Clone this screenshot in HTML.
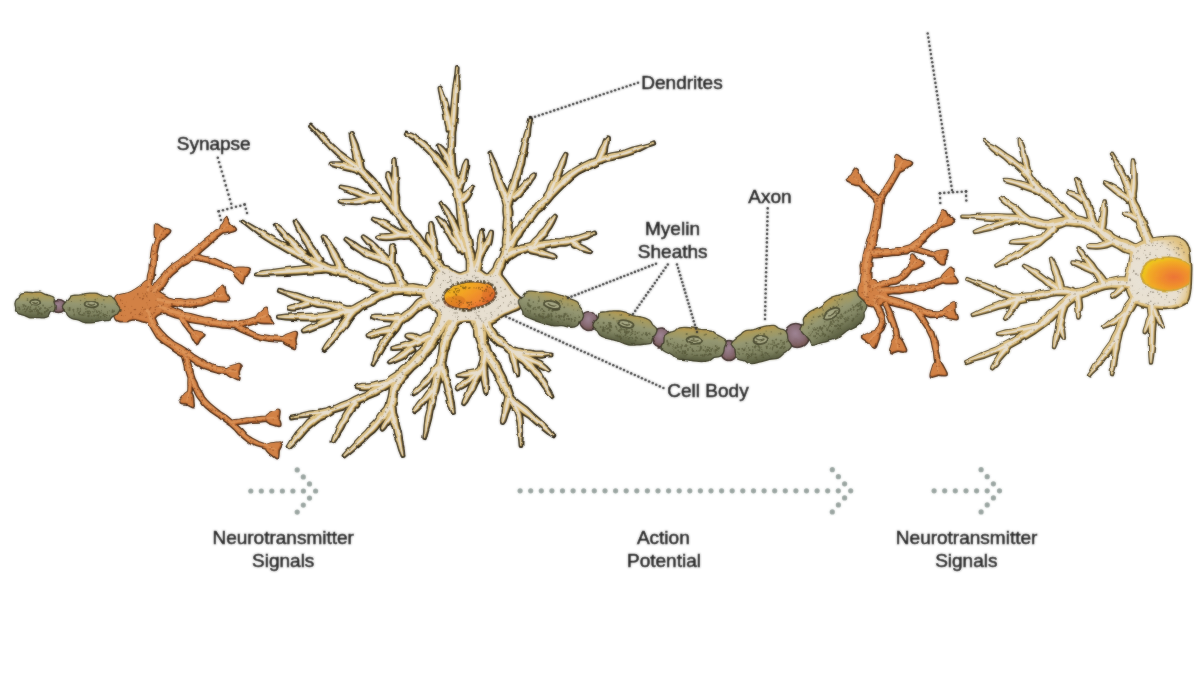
<!DOCTYPE html>
<html><head><meta charset="utf-8"><title>Neuron</title>
<style>html,body{margin:0;padding:0;background:#fff;}svg{display:block;}</style></head>
<body>
<svg width="1194" height="676" viewBox="0 0 1194 676">
<defs>
<linearGradient id="myg" x1="0" y1="0" x2="0" y2="1">
<stop offset="0" stop-color="#bb9a4c"/><stop offset="0.15" stop-color="#a69b60"/><stop offset="0.38" stop-color="#949772"/><stop offset="0.7" stop-color="#828664"/><stop offset="1" stop-color="#585c3e"/>
</linearGradient>
<radialGradient id="ndg" cx="0.45" cy="0.4" r="0.7">
<stop offset="0" stop-color="#9e8494"/><stop offset="0.55" stop-color="#876a72"/><stop offset="1" stop-color="#6a4a3c"/>
</radialGradient>
<linearGradient id="nuc" x1="0" y1="0" x2="1" y2="1">
<stop offset="0" stop-color="#f0c21e"/><stop offset="0.35" stop-color="#f3a623"/><stop offset="0.7" stop-color="#ee8430"/><stop offset="1" stop-color="#d9542c"/>
</linearGradient>
<radialGradient id="nuc2" cx="0.62" cy="0.6" r="0.62">
<stop offset="0" stop-color="#ec7436"/><stop offset="0.45" stop-color="#f0902c"/><stop offset="0.8" stop-color="#f2ac24"/><stop offset="1" stop-color="#efc61e"/>
</radialGradient>
<radialGradient id="somag" cx="0.5" cy="0.5" r="0.6">
<stop offset="0" stop-color="#e9e3da"/><stop offset="0.7" stop-color="#eae1d0"/><stop offset="1" stop-color="#e6cf9e"/>
</radialGradient>
<radialGradient id="somar" cx="0.3" cy="0.6" r="0.8">
<stop offset="0" stop-color="#e8e2d6"/><stop offset="0.72" stop-color="#e9e0cf"/><stop offset="1" stop-color="#e0bd74"/>
</radialGradient>
<filter id="soft" x="-2%" y="-2%" width="104%" height="104%"><feGaussianBlur stdDeviation="0.9" result="b"/><feComposite in="SourceGraphic" in2="b" operator="arithmetic" k1="0" k2="0.5" k3="0.5" k4="0"/></filter>
<filter id="softt" x="-2%" y="-2%" width="104%" height="104%"><feGaussianBlur stdDeviation="0.9" result="b"/><feComposite in="SourceGraphic" in2="b" operator="arithmetic" k1="0" k2="0.45" k3="0.55" k4="0"/></filter>
<filter id="rough" x="-1%" y="-1%" width="102%" height="102%"><feTurbulence type="fractalNoise" baseFrequency="0.075" numOctaves="2" seed="3" result="n"/><feDisplacementMap in="SourceGraphic" in2="n" scale="3.2" xChannelSelector="R" yChannelSelector="G" result="d"/><feGaussianBlur in="d" stdDeviation="0.9" result="b"/><feComposite in="d" in2="b" operator="arithmetic" k1="0" k2="0.6" k3="0.4" k4="0"/></filter>
<clipPath id="rnclip"><path d="M1129.8 262.3 L1130.1 260.6 L1130.5 258.6 L1130.9 256.4 L1131.3 254.3 L1132.0 252.4 L1132.7 250.7 L1133.7 249.2 L1134.8 248.0 L1136.0 246.8 L1137.4 245.8 L1138.9 244.8 L1140.5 243.9 L1142.3 243.0 L1144.3 242.3 L1146.5 241.6 L1148.7 241.0 L1151.0 240.5 L1153.1 240.0 L1155.2 239.6 L1157.3 239.3 L1159.5 239.0 L1161.6 238.8 L1163.7 238.7 L1165.7 238.6 L1167.7 238.5 L1169.8 238.3 L1171.8 238.3 L1173.7 238.3 L1175.6 238.6 L1177.4 239.0 L1179.0 239.7 L1180.7 240.5 L1182.2 241.4 L1183.7 242.6 L1185.0 244.1 L1186.1 245.8 L1187.0 248.0 L1187.7 250.6 L1188.3 253.4 L1188.8 256.4 L1189.2 259.4 L1189.5 262.3 L1189.7 265.2 L1189.8 268.2 L1189.8 271.2 L1189.7 274.1 L1189.6 277.0 L1189.5 279.8 L1189.4 282.5 L1189.2 285.1 L1189.0 287.7 L1188.7 290.1 L1188.4 292.3 L1188.0 294.3 L1187.6 296.1 L1187.2 297.5 L1186.8 298.8 L1186.2 300.0 L1185.3 301.0 L1184.1 302.1 L1182.6 303.1 L1180.7 304.1 L1178.6 305.0 L1176.4 305.8 L1174.0 306.4 L1171.5 306.9 L1169.0 307.3 L1166.3 307.4 L1163.4 307.4 L1160.5 307.3 L1157.7 307.2 L1155.0 306.9 L1152.4 306.7 L1149.8 306.3 L1147.3 305.9 L1144.8 305.4 L1142.6 304.8 L1140.5 304.0 L1138.7 303.2 L1137.0 302.2 L1135.5 301.1 L1134.1 299.9 L1132.9 298.6 L1131.8 297.2 L1130.8 295.8 L1130.0 294.2 L1129.3 292.6 L1128.8 290.9 L1128.3 289.2 L1127.9 287.5 L1127.5 285.9 L1127.2 284.2 L1127.0 282.6 L1126.9 280.9 L1126.9 279.3 L1126.9 277.8 L1127.1 276.4 L1127.4 275.1 L1127.8 273.8 L1128.2 272.6 L1128.6 271.4 L1128.9 270.1 L1129.1 268.8 L1129.2 267.6 L1129.3 266.4 L1129.4 265.2 L1129.6 263.8Z"/></clipPath>
</defs>
<rect width="1194" height="676" fill="#fff"/>
<g filter="url(#rough)">
<g><path d="M443.2 281.7 L441.6 276.7 L437.7 270.9 L432.8 264.6 L428.4 258.1 L423.2 252.4 L418.7 245.7 L413.0 239.8 L408.6 232.9 L403.1 227.2 L399.0 220.5 L393.5 214.6 L388.8 207.4 L382.4 200.2 L376.9 191.8 L370.3 184.1 L364.1 176.9 L357.6 171.0 L350.8 165.8 L343.6 160.5 L336.7 154.5 L329.2 147.0 L321.4 138.7 L315.1 130.5 L310.1 125.4 L310.9 124.6 L315.8 129.9 L323.6 136.5 L331.7 144.5 L339.3 151.5 L346.4 156.9 L353.6 161.9 L360.8 167.1 L367.9 173.1 L374.8 180.2 L381.1 188.4 L387.9 196.0 L393.2 203.8 L399.2 210.0 L403.7 216.8 L409.1 222.4 L413.4 229.1 L419.1 234.9 L423.7 241.7 L429.3 247.5 L433.6 253.9 L438.9 259.9 L443.8 266.2 L448.4 271.5 L452.8 274.3Z M357.9 171.7 L357.6 167.7 L355.9 162.2 L355.0 156.0 L353.9 150.5 L352.5 145.7 L351.7 140.6 L350.9 136.3 L350.5 133.1 L351.5 132.9 L352.9 135.7 L354.7 139.7 L356.8 144.5 L358.1 149.5 L359.8 154.9 L361.7 160.9 L362.6 166.6 L364.1 170.3Z M357.2 172.8 L354.6 171.7 L350.7 170.3 L346.3 169.3 L342.5 168.4 L339.1 167.3 L335.6 166.3 L332.6 165.3 L330.5 164.4 L330.7 163.6 L332.9 163.3 L336.1 163.2 L339.8 163.3 L343.5 163.6 L347.5 164.6 L351.9 165.9 L355.9 166.8 L358.8 167.2Z M380.6 199.7 L379.2 200.1 L377.0 200.8 L374.0 201.4 L370.4 201.0 L366.8 199.5 L363.0 197.4 L359.0 195.7 L355.2 194.2 L351.2 192.5 L346.9 190.5 L343.1 188.8 L340.5 187.5 L340.7 186.5 L343.7 187.0 L347.8 187.7 L352.5 188.6 L356.8 189.8 L360.8 191.5 L364.8 193.3 L368.6 194.5 L371.6 195.0 L373.8 195.1 L375.9 194.9 L377.8 194.6 L379.4 194.3Z M371.7 200.3 L369.0 201.1 L365.2 202.5 L360.8 203.8 L356.3 204.3 L351.9 204.1 L347.3 203.8 L343.3 203.5 L340.6 202.5 L340.6 201.5 L343.4 200.7 L347.4 200.7 L351.8 200.5 L355.7 199.7 L359.5 198.5 L363.7 197.5 L367.6 196.5 L370.3 195.7Z M392.3 213.2 L392.6 209.3 L392.9 203.9 L392.1 197.4 L392.7 190.5 L392.4 182.5 L393.1 173.3 L393.6 164.9 L394.5 159.0 L395.5 159.0 L396.3 164.9 L396.8 173.3 L397.5 182.5 L397.3 190.5 L398.3 197.2 L398.1 203.6 L399.0 209.0 L399.7 212.8Z M392.6 191.7 L391.6 189.7 L390.5 186.7 L389.4 183.4 L388.3 180.7 L387.5 178.4 L387.0 176.3 L387.3 174.4 L387.5 173.1 L388.5 172.9 L389.3 173.9 L390.3 175.4 L391.0 177.3 L391.7 179.3 L392.9 181.8 L394.7 184.7 L396.4 187.3 L397.4 189.3Z M413.3 237.7 L411.2 237.5 L408.0 237.7 L404.1 238.0 L400.0 237.5 L396.3 235.5 L393.2 232.7 L390.2 229.9 L386.9 227.9 L383.1 225.9 L379.0 223.4 L375.4 221.0 L372.8 219.4 L373.2 218.6 L376.1 219.4 L380.3 220.5 L385.0 222.1 L389.1 224.1 L392.6 226.5 L396.1 228.7 L399.4 230.4 L402.0 231.5 L404.6 232.2 L407.6 232.3 L410.6 231.9 L412.7 231.3Z M401.8 237.5 L399.8 237.8 L396.9 238.2 L393.6 238.7 L390.2 239.1 L386.6 239.3 L382.8 239.1 L379.3 238.6 L377.0 237.5 L377.0 236.5 L379.4 235.5 L382.8 235.2 L386.5 235.0 L389.8 234.9 L392.7 234.3 L395.7 233.3 L398.3 232.2 L400.2 231.5Z M432.9 258.5 L432.2 255.3 L432.0 250.5 L431.3 245.2 L430.4 240.4 L430.5 235.5 L430.2 230.6 L429.9 226.2 L430.5 223.1 L431.5 222.9 L432.8 225.9 L433.4 230.2 L434.3 235.0 L435.6 239.6 L436.2 244.5 L437.2 249.6 L438.7 254.2 L439.1 257.5Z M431.4 246.2 L430.5 245.2 L429.2 243.6 L428.0 241.8 L427.2 239.8 L426.9 238.0 L426.9 236.3 L427.3 235.0 L427.6 234.0 L428.4 234.0 L428.9 234.8 L429.6 235.9 L430.1 237.1 L430.8 238.2 L431.8 239.4 L433.0 241.0 L434.0 242.6 L434.6 243.8Z M468.4 276.7 L467.9 273.0 L467.6 267.6 L467.6 261.7 L466.1 256.7 L465.6 252.3 L465.2 248.0 L463.8 244.2 L462.8 241.0 L462.4 239.1 L462.1 237.9 L461.7 235.7 L460.9 231.5 L459.3 224.1 L458.2 214.4 L457.5 204.4 L455.5 196.2 L454.8 190.2 L452.6 185.7 L451.1 181.0 L450.4 175.5 L448.8 169.8 L448.7 163.8 L448.2 157.3 L448.3 149.9 L448.6 141.6 L450.0 132.6 L450.8 122.9 L451.6 112.8 L452.8 100.9 L454.0 87.6 L456.1 75.4 L456.9 67.0 L457.7 67.0 L457.3 75.5 L457.7 87.8 L457.0 101.2 L456.4 113.2 L455.4 123.4 L454.3 133.0 L454.2 142.0 L453.7 150.1 L453.9 157.1 L454.2 163.3 L455.4 168.9 L455.6 174.5 L457.4 179.2 L459.0 183.5 L460.2 188.6 L462.5 194.8 L463.3 203.5 L465.2 213.5 L466.6 223.2 L467.1 230.5 L467.9 234.2 L468.6 235.5 L469.3 236.7 L470.2 239.0 L470.8 242.6 L471.2 246.6 L472.6 250.8 L473.9 255.3 L474.1 260.7 L475.9 266.4 L477.1 271.7 L477.6 275.3Z M447.5 130.6 L447.2 125.8 L445.5 119.1 L444.4 111.8 L442.9 105.5 L441.7 100.3 L440.8 95.2 L439.9 90.9 L439.5 87.9 L440.5 87.5 L441.9 90.3 L443.5 94.4 L445.5 99.2 L447.1 104.5 L448.5 110.8 L450.7 118.0 L451.8 124.8 L453.5 129.4Z M450.9 184.2 L449.4 180.6 L446.3 176.1 L442.6 171.4 L439.9 166.6 L437.0 162.7 L433.7 159.3 L431.1 155.6 L428.5 152.0 L425.5 149.1 L422.5 146.5 L419.8 143.8 L417.1 141.3 L414.0 139.0 L410.6 137.0 L407.9 134.7 L405.8 133.4 L406.2 132.6 L408.4 133.7 L411.9 134.7 L415.4 136.7 L418.9 138.7 L422.2 140.8 L425.5 143.2 L428.5 146.1 L431.5 149.2 L434.9 152.2 L438.3 155.5 L441.0 159.5 L444.1 163.4 L447.9 167.6 L451.2 172.7 L454.3 177.2 L457.1 179.8Z M449.1 168.2 L448.2 165.6 L446.8 161.9 L444.8 158.3 L443.1 155.1 L441.8 152.4 L440.4 149.8 L439.3 147.5 L438.6 145.8 L439.4 145.2 L440.8 146.4 L442.7 148.1 L444.9 150.3 L446.9 152.9 L448.7 156.2 L450.5 160.1 L452.4 163.5 L453.9 165.8Z M456.4 187.2 L457.7 184.3 L458.7 179.9 L460.5 175.3 L462.2 171.5 L463.0 168.1 L463.9 164.9 L465.2 162.3 L466.2 160.5 L467.0 160.7 L467.1 162.7 L467.3 165.7 L466.8 169.0 L465.8 172.5 L465.1 176.8 L463.9 181.5 L462.2 185.7 L461.6 188.8Z M459.5 200.3 L460.9 199.0 L462.5 196.8 L464.2 194.3 L466.2 192.5 L468.1 191.1 L469.8 189.5 L471.3 188.2 L472.6 187.5 L473.4 188.1 L473.0 189.6 L472.0 191.3 L470.9 193.3 L469.8 195.5 L468.5 197.8 L466.5 200.0 L464.7 202.0 L463.7 203.7Z M462.2 253.1 L460.2 247.9 L457.3 240.4 L454.2 232.4 L451.8 226.0 L450.2 221.5 L448.4 218.4 L446.8 215.7 L445.5 212.9 L444.1 210.0 L442.7 207.3 L441.7 204.8 L440.6 203.3 L441.4 202.7 L442.4 204.3 L444.4 206.1 L446.5 208.5 L448.5 211.1 L450.3 213.6 L451.9 216.4 L453.7 219.8 L456.2 224.0 L459.2 230.4 L462.6 238.3 L465.7 245.7 L467.8 250.9Z M458.8 251.5 L457.0 248.3 L453.7 244.1 L450.6 239.3 L448.4 235.1 L446.5 232.3 L445.0 230.1 L443.7 228.1 L442.5 226.1 L441.2 223.9 L439.6 221.8 L438.7 219.6 L437.7 218.3 L438.3 217.7 L439.5 218.9 L441.6 220.1 L443.6 221.9 L445.5 223.9 L447.1 225.8 L448.4 227.8 L449.8 230.1 L451.6 232.9 L454.7 236.5 L458.1 241.1 L460.8 245.7 L463.2 248.5Z M470.9 270.7 L471.8 267.6 L473.7 263.4 L476.0 258.9 L476.6 254.8 L477.5 251.7 L478.3 248.9 L478.6 246.0 L478.5 242.9 L478.9 239.4 L479.6 235.7 L480.6 232.3 L481.0 230.0 L482.0 230.0 L482.2 232.4 L483.0 235.8 L483.5 239.6 L483.5 243.1 L483.2 246.2 L483.3 249.2 L483.6 252.5 L483.4 256.2 L481.8 260.6 L481.1 265.7 L480.2 270.3 L479.1 273.3Z M477.8 254.6 L479.1 252.0 L481.6 248.8 L484.2 245.3 L485.8 242.0 L487.4 239.2 L488.9 236.2 L489.9 233.4 L491.0 231.6 L492.0 231.8 L492.0 234.0 L491.6 236.9 L491.1 240.4 L490.2 244.0 L488.0 247.5 L485.9 251.6 L484.0 255.2 L482.2 257.4Z M489.4 273.6 L491.5 271.5 L494.2 268.3 L495.5 264.0 L497.5 260.4 L499.6 257.5 L500.8 254.6 L501.7 251.9 L503.1 249.2 L504.0 245.5 L503.7 241.0 L504.3 236.4 L504.9 231.9 L504.3 227.5 L504.6 223.2 L505.1 218.9 L504.5 215.1 L504.2 212.1 L504.3 209.3 L504.6 206.1 L505.0 202.1 L506.0 197.0 L508.6 191.9 L510.1 186.2 L512.6 181.2 L513.9 176.4 L515.3 171.8 L517.2 167.4 L518.1 162.3 L520.1 157.0 L521.2 151.1 L522.9 145.3 L524.2 139.6 L525.7 133.7 L527.9 127.9 L529.3 122.6 L530.3 118.9 L531.1 119.1 L530.4 122.8 L529.5 128.2 L529.0 134.5 L527.8 140.4 L526.6 146.1 L525.6 152.1 L524.1 158.0 L523.3 163.7 L521.5 168.6 L520.6 173.4 L519.2 178.1 L517.4 182.8 L516.2 188.3 L513.6 193.7 L512.6 199.1 L511.0 203.3 L510.4 206.5 L510.9 208.9 L511.5 211.5 L511.5 214.9 L511.0 218.9 L511.6 223.1 L511.9 227.6 L511.1 232.1 L511.3 236.7 L511.5 241.6 L510.4 246.3 L509.9 250.8 L509.2 254.9 L507.2 257.9 L505.4 260.5 L504.5 263.6 L503.3 267.4 L501.1 271.2 L500.6 275.4 L500.6 278.4Z M504.6 206.3 L503.3 201.2 L500.3 194.2 L498.1 186.1 L495.4 178.9 L493.8 171.8 L491.5 164.7 L490.3 158.3 L489.5 153.8 L490.5 153.4 L492.4 157.6 L495.3 163.5 L497.5 170.5 L500.6 177.1 L503.1 184.3 L506.7 191.8 L509.0 199.0 L511.4 203.7Z M511.2 196.2 L513.5 194.1 L516.4 190.7 L520.4 187.7 L523.3 184.4 L526.2 181.5 L529.4 178.6 L531.8 175.7 L534.1 174.2 L534.9 174.8 L533.9 177.4 L531.6 180.4 L529.3 184.1 L526.7 187.6 L523.4 190.7 L520.4 194.8 L516.9 197.6 L514.8 199.8Z M501.6 249.4 L503.5 248.2 L505.3 245.8 L506.7 242.7 L508.8 240.0 L511.1 237.6 L512.7 234.7 L514.5 231.3 L517.6 228.2 L520.4 223.7 L524.3 219.1 L527.8 214.1 L531.6 210.0 L534.7 206.8 L536.9 203.9 L540.0 201.6 L543.7 197.8 L549.2 192.5 L555.1 185.5 L561.7 178.4 L568.9 172.7 L576.2 168.4 L583.3 164.3 L590.5 160.9 L597.8 158.5 L604.8 156.1 L611.7 154.2 L618.7 153.1 L625.4 151.1 L632.9 148.5 L641.3 146.4 L648.8 144.4 L653.8 142.4 L654.2 143.6 L649.1 145.3 L642.1 148.6 L634.3 152.4 L626.6 154.9 L619.6 156.7 L612.9 158.9 L606.1 160.4 L599.4 162.7 L592.7 166.1 L585.7 169.1 L578.7 172.6 L572.5 177.3 L566.3 183.2 L559.6 189.8 L553.2 196.3 L548.3 202.2 L544.3 206.0 L541.8 209.0 L539.0 211.0 L536.4 214.0 L533.2 218.4 L529.2 222.9 L525.9 227.8 L522.4 231.8 L520.6 235.6 L518.3 238.3 L516.3 240.9 L515.2 244.0 L513.7 247.0 L511.7 249.7 L510.6 252.3 L510.4 254.6Z M595.5 159.7 L597.1 157.5 L598.7 154.1 L600.0 150.3 L601.8 147.2 L603.4 144.4 L604.4 141.4 L605.6 139.0 L606.9 137.3 L607.9 137.7 L608.0 139.7 L607.6 142.4 L606.7 145.5 L606.2 148.8 L605.4 152.5 L603.5 156.2 L602.2 159.7 L601.7 162.3Z M544.9 195.6 L547.5 191.8 L549.7 185.5 L553.3 179.2 L555.7 173.0 L558.7 167.6 L560.9 161.9 L563.6 157.1 L565.5 153.8 L566.5 154.2 L565.6 157.9 L564.4 163.2 L562.0 169.0 L560.3 175.0 L557.5 181.0 L555.3 188.0 L552.2 193.8 L551.1 198.4Z M501.2 253.8 L503.3 253.5 L505.8 252.5 L508.3 250.5 L511.3 249.1 L514.6 248.4 L517.8 247.0 L520.9 245.5 L524.2 245.0 L526.9 244.7 L529.1 244.2 L531.4 243.5 L534.5 243.4 L539.0 243.0 L544.4 241.7 L550.1 241.2 L555.1 240.1 L559.5 240.2 L563.3 239.4 L566.9 239.2 L570.3 239.1 L573.3 237.9 L576.3 237.0 L579.4 236.4 L582.4 235.3 L585.9 234.1 L590.0 233.9 L593.5 233.2 L595.8 232.5 L596.2 233.5 L593.8 234.2 L590.5 235.6 L587.1 237.8 L583.6 238.7 L580.5 239.7 L577.7 241.2 L574.6 242.4 L571.1 242.9 L567.6 244.0 L563.9 244.7 L560.0 244.7 L555.9 245.9 L550.9 246.4 L545.5 247.8 L540.0 248.5 L535.5 249.6 L532.2 250.3 L529.8 250.2 L527.9 250.2 L525.8 251.0 L523.2 252.3 L520.1 253.0 L517.0 254.1 L514.7 255.9 L512.3 257.4 L509.7 258.6 L507.8 260.4 L506.8 262.2Z M571.9 238.7 L573.9 239.7 L576.6 241.2 L579.3 243.6 L581.9 245.3 L584.7 246.6 L587.3 248.3 L589.7 250.0 L591.2 251.4 L590.8 252.2 L588.8 252.0 L585.9 251.3 L582.8 250.3 L580.1 248.7 L577.1 247.1 L573.8 245.7 L571.3 243.7 L569.5 242.3Z M531.5 243.0 L533.7 240.2 L537.5 236.8 L540.6 232.2 L544.3 228.8 L547.0 224.9 L550.1 221.1 L552.9 217.9 L555.1 215.7 L555.9 216.3 L554.8 219.1 L552.9 223.0 L550.5 227.3 L547.7 231.2 L545.2 235.8 L541.3 239.9 L538.7 244.3 L536.5 247.0Z M529.7 246.8 L532.1 247.2 L535.4 248.5 L539.0 250.0 L542.7 250.7 L546.2 252.3 L550.0 253.8 L553.5 254.9 L555.6 256.5 L555.4 257.5 L552.6 257.7 L549.1 256.7 L545.1 255.9 L541.3 255.3 L537.8 253.8 L534.0 253.0 L530.6 252.2 L528.3 251.2Z M436.3 298.3 L431.9 297.3 L425.7 294.9 L418.7 294.1 L412.7 294.1 L407.8 293.2 L403.3 292.7 L399.0 293.1 L394.9 293.5 L391.2 293.3 L387.7 292.8 L384.1 292.2 L380.0 291.6 L375.6 290.7 L371.4 288.9 L367.6 286.3 L363.5 284.1 L358.9 282.5 L354.5 280.3 L350.4 277.5 L346.0 275.7 L341.3 275.2 L336.3 274.3 L330.7 272.6 L324.4 271.1 L317.6 268.3 L311.0 264.1 L303.7 260.7 L296.8 256.2 L289.2 252.5 L281.6 248.0 L273.9 243.8 L266.7 239.4 L259.5 234.6 L252.7 229.2 L246.7 224.4 L242.3 221.4 L242.9 220.6 L247.3 223.6 L253.9 227.5 L261.4 231.7 L268.7 236.0 L276.1 239.9 L283.8 244.0 L291.8 247.6 L299.2 251.8 L306.8 255.0 L313.6 259.3 L320.6 262.1 L326.6 264.9 L332.1 266.8 L337.4 266.9 L342.7 267.5 L348.0 269.3 L353.2 271.3 L358.2 272.9 L362.6 275.3 L366.5 277.9 L370.8 279.7 L375.1 281.1 L378.7 282.7 L382.0 284.4 L385.0 285.2 L388.0 285.1 L391.3 284.6 L395.1 284.5 L399.2 285.1 L403.4 285.6 L408.1 285.2 L413.3 284.9 L419.5 286.0 L426.6 286.6 L433.2 285.8 L437.7 285.7Z M327.3 271.2 L321.3 272.0 L312.6 272.4 L302.8 273.1 L293.2 273.7 L283.1 274.2 L272.0 274.4 L262.0 275.0 L255.0 274.5 L255.0 273.5 L261.8 271.9 L271.7 270.9 L282.7 269.4 L292.8 268.3 L302.3 267.2 L312.1 266.2 L320.7 265.1 L326.7 264.8Z M301.5 257.4 L299.0 253.8 L295.0 249.1 L290.1 244.4 L286.5 239.4 L282.8 235.3 L279.1 231.2 L276.4 227.2 L274.7 224.3 L275.3 223.7 L278.1 225.7 L281.9 228.7 L285.6 232.7 L289.5 236.6 L294.2 240.5 L298.7 245.6 L303.1 249.9 L306.5 252.6Z M316.5 262.5 L314.1 258.1 L310.1 252.1 L306.6 245.0 L302.9 239.3 L300.4 233.8 L297.8 228.9 L295.7 224.5 L294.6 221.3 L295.4 220.7 L297.7 223.3 L300.5 227.3 L303.5 232.0 L307.1 236.7 L310.4 242.7 L315.2 249.0 L318.7 255.3 L321.5 259.5Z M339.0 272.4 L337.3 268.4 L335.4 262.4 L332.2 256.4 L330.1 251.0 L328.0 246.7 L325.4 242.9 L323.7 239.4 L322.6 236.8 L323.4 236.2 L325.5 238.1 L328.3 240.9 L330.9 244.9 L333.9 249.0 L337.1 254.0 L339.7 260.3 L343.1 265.7 L345.0 269.6Z M397.0 287.8 L396.9 282.8 L394.7 276.5 L392.3 270.0 L389.0 265.2 L384.2 262.7 L378.3 259.9 L371.4 257.9 L364.8 255.3 L359.1 251.0 L353.1 247.0 L348.7 242.4 L345.4 239.4 L346.0 238.6 L349.8 240.8 L355.4 243.8 L361.1 247.9 L367.2 250.7 L373.1 253.0 L379.8 255.0 L387.0 256.7 L393.0 260.8 L397.7 266.8 L401.4 273.8 L403.8 280.3 L407.0 284.2Z M385.0 262.4 L382.5 260.0 L379.3 256.2 L375.9 251.9 L372.4 248.6 L369.4 245.4 L366.6 242.0 L364.2 239.0 L362.7 236.8 L363.3 236.2 L365.6 237.6 L368.7 239.8 L372.3 242.4 L375.6 245.4 L378.9 249.0 L383.0 252.6 L386.7 256.0 L389.0 258.6Z M388.6 264.5 L388.8 262.5 L389.7 259.7 L390.6 256.6 L390.9 253.9 L390.8 251.6 L390.8 249.1 L391.0 246.8 L391.5 245.1 L392.5 244.9 L393.4 246.4 L394.4 248.6 L395.0 251.2 L395.1 254.1 L394.9 257.1 L395.0 260.5 L394.8 263.5 L394.4 265.5Z M392.5 294.3 L389.9 295.5 L385.8 296.9 L381.3 298.6 L377.5 300.8 L374.1 303.0 L370.4 304.8 L366.6 306.1 L363.3 307.4 L360.9 309.2 L358.6 311.4 L355.2 313.3 L350.7 313.7 L345.5 312.5 L339.8 311.1 L334.2 309.5 L329.4 307.5 L325.5 306.6 L322.0 306.3 L317.8 306.0 L312.3 304.4 L304.3 301.4 L294.3 298.0 L285.2 293.7 L278.8 291.1 L279.2 289.9 L285.8 291.9 L295.6 294.2 L305.5 297.5 L313.7 299.6 L318.9 300.6 L322.7 301.4 L326.2 302.0 L330.6 302.5 L336.1 303.5 L341.6 305.6 L346.7 307.3 L350.7 307.5 L353.0 306.8 L355.0 305.8 L357.5 304.3 L360.7 302.6 L364.0 300.7 L367.3 298.5 L370.8 296.7 L374.5 295.2 L378.3 293.2 L381.9 290.2 L385.1 287.4 L387.5 285.7Z M352.0 314.8 L349.1 315.2 L344.8 315.6 L340.1 316.8 L335.6 318.1 L331.9 318.9 L328.4 319.1 L324.1 319.2 L318.1 319.6 L308.7 319.6 L296.9 319.2 L285.7 318.5 L278.0 317.5 L278.0 316.5 L285.7 315.6 L296.9 315.1 L308.7 314.7 L317.9 314.4 L323.7 314.2 L327.6 313.4 L330.8 312.5 L334.4 311.9 L338.8 311.3 L343.3 310.1 L347.2 308.4 L350.0 307.2Z M309.9 305.4 L307.6 306.0 L304.2 306.9 L300.7 308.1 L297.5 309.0 L294.6 309.5 L291.9 309.5 L289.6 309.0 L288.0 308.5 L288.0 307.5 L289.5 306.8 L291.6 306.0 L294.0 305.5 L296.5 305.0 L299.5 304.2 L302.9 303.0 L306.0 301.6 L308.1 300.6Z M331.9 321.0 L329.0 322.5 L324.8 324.5 L319.9 326.2 L315.7 327.6 L312.1 329.1 L308.7 330.5 L305.5 331.2 L303.2 331.5 L302.8 330.5 L304.6 329.1 L307.3 327.4 L310.8 325.9 L314.3 324.4 L318.2 322.3 L322.7 319.8 L327.1 318.1 L330.1 317.0Z M356.1 313.0 L353.2 316.0 L349.7 320.8 L346.3 326.5 L341.8 331.3 L337.6 336.8 L332.5 342.1 L327.9 346.9 L324.4 349.9 L323.6 349.3 L325.9 345.2 L329.8 339.9 L334.0 333.9 L338.2 328.7 L341.3 323.0 L345.3 317.8 L348.3 312.8 L349.9 309.0Z M429.3 305.3 L428.0 305.6 L426.3 306.1 L424.6 306.8 L422.9 307.5 L420.6 308.7 L417.8 310.5 L415.0 313.0 L412.5 315.7 L409.8 317.8 L407.1 319.3 L404.6 320.4 L402.4 321.9 L400.6 324.3 L399.1 327.3 L397.1 330.4 L394.4 333.5 L391.8 336.7 L389.5 340.2 L387.0 343.6 L384.1 347.0 L381.4 351.7 L378.8 357.1 L375.2 361.5 L373.4 364.9 L372.6 364.5 L374.1 360.9 L375.2 355.3 L378.0 349.9 L380.5 345.0 L382.6 340.6 L385.2 337.0 L388.0 333.8 L390.2 330.5 L391.7 327.1 L393.6 323.9 L396.0 320.9 L398.4 318.1 L400.9 315.5 L403.4 313.4 L405.9 311.7 L408.3 310.3 L410.9 308.5 L413.4 306.0 L415.7 303.0 L418.1 300.5 L420.9 298.8 L423.5 297.8 L425.4 297.2 L426.7 296.7Z M399.3 321.6 L396.9 321.3 L393.5 320.8 L389.6 320.4 L385.9 320.2 L382.0 319.9 L378.0 319.2 L374.4 318.3 L372.0 317.1 L372.0 316.3 L374.7 315.6 L378.3 315.5 L382.4 315.5 L386.1 315.8 L389.8 316.0 L393.7 315.8 L397.1 315.5 L399.5 315.4Z M392.0 332.9 L389.9 333.3 L387.0 333.6 L383.7 333.7 L380.5 334.0 L377.2 334.7 L373.7 335.8 L370.4 336.6 L367.9 336.3 L367.5 335.3 L369.4 333.6 L372.6 332.3 L376.2 331.1 L379.5 330.0 L382.7 328.9 L386.1 327.9 L389.0 327.3 L391.0 327.1Z M454.6 320.8 L449.9 323.3 L445.3 328.2 L442.2 334.6 L437.8 339.2 L435.7 343.6 L433.8 347.5 L430.7 350.9 L427.0 354.5 L423.7 359.6 L418.8 364.0 L413.5 368.5 L408.5 373.8 L401.9 377.6 L395.8 382.7 L388.8 386.7 L382.2 390.7 L375.9 394.5 L369.2 397.1 L363.0 400.4 L356.5 403.1 L349.8 405.5 L343.3 408.6 L336.7 410.6 L330.5 412.4 L325.0 414.0 L319.9 414.7 L315.0 414.9 L310.2 415.6 L304.9 416.1 L299.4 416.4 L294.5 416.9 L291.1 417.4 L290.9 416.6 L294.3 416.0 L299.1 415.1 L304.5 413.6 L309.8 412.4 L314.6 411.8 L319.3 410.8 L324.2 409.8 L329.5 408.8 L335.3 406.7 L341.4 403.8 L348.1 401.4 L354.3 398.1 L360.5 395.1 L366.9 392.5 L372.7 388.6 L379.0 385.3 L385.2 381.2 L391.4 376.4 L397.9 372.3 L402.9 367.0 L408.4 363.0 L412.8 358.1 L416.7 353.2 L421.0 349.5 L423.4 345.4 L425.0 341.8 L427.4 338.6 L430.2 334.8 L432.1 328.8 L435.9 322.9 L437.7 316.5 L437.4 311.2Z M332.4 413.3 L328.7 415.4 L323.3 418.1 L317.1 420.9 L311.9 425.2 L305.8 430.2 L299.8 437.2 L293.9 443.3 L289.4 447.3 L288.6 446.7 L291.7 441.5 L296.6 434.4 L302.7 427.3 L308.1 420.8 L314.4 416.7 L320.3 412.5 L325.7 409.7 L329.6 407.9Z M358.8 403.9 L355.8 407.1 L352.4 412.3 L348.6 418.0 L344.8 423.0 L342.1 428.5 L338.6 434.0 L335.8 438.9 L333.5 442.2 L332.5 441.8 L333.6 437.9 L335.7 432.5 L338.0 426.4 L341.2 421.0 L344.0 415.1 L347.8 409.2 L351.4 404.1 L353.2 400.1Z M406.8 376.6 L404.2 378.9 L401.2 382.6 L399.3 387.3 L397.4 391.2 L395.9 394.5 L395.7 398.4 L395.4 402.6 L393.5 406.9 L390.8 410.8 L388.3 414.9 L385.5 418.6 L382.1 421.8 L379.3 424.7 L376.9 427.9 L374.0 431.1 L369.6 434.6 L363.9 440.3 L356.5 446.6 L349.4 452.5 L344.4 456.4 L343.6 455.6 L347.8 450.8 L354.0 444.0 L360.7 436.9 L366.4 431.4 L369.8 427.0 L372.8 424.1 L375.5 421.5 L377.9 418.2 L380.4 414.4 L383.3 411.0 L386.2 407.8 L387.7 404.3 L388.3 400.9 L389.3 397.4 L390.1 393.4 L390.6 388.8 L392.4 384.0 L395.2 379.5 L396.7 374.9 L397.2 371.4Z M394.0 404.7 L394.8 408.1 L395.2 413.1 L397.2 418.7 L398.0 425.1 L400.1 432.7 L401.5 441.7 L403.0 450.0 L403.5 455.9 L402.5 456.1 L400.3 450.6 L397.9 442.5 L395.0 433.9 L393.4 426.3 L391.1 420.2 L390.2 414.4 L388.2 409.8 L387.2 406.5Z M393.8 415.2 L392.8 417.0 L391.1 419.3 L389.0 421.7 L387.3 423.8 L386.0 425.7 L384.8 427.5 L383.5 428.9 L382.4 429.8 L381.6 429.2 L381.8 427.9 L382.4 426.1 L383.5 424.2 L384.7 422.2 L386.0 419.7 L387.4 416.9 L388.9 414.4 L390.2 412.8Z M387.5 385.7 L384.4 386.5 L379.8 387.1 L374.7 387.4 L370.2 388.0 L366.2 388.4 L362.4 388.3 L359.0 387.8 L356.7 387.2 L356.7 386.2 L359.0 385.5 L362.2 384.7 L366.0 384.4 L369.8 384.0 L374.0 383.2 L378.8 381.8 L383.3 380.7 L386.5 380.3Z M432.1 339.1 L430.3 339.9 L427.7 341.0 L424.6 342.0 L421.7 342.7 L419.3 343.5 L416.8 344.7 L414.1 346.1 L410.7 347.5 L406.1 348.3 L400.8 348.6 L395.8 348.9 L392.4 348.9 L392.2 347.9 L395.5 346.8 L400.2 345.5 L405.2 343.8 L409.3 342.5 L412.1 341.6 L414.6 340.4 L416.8 338.9 L419.3 337.3 L422.1 335.7 L425.2 334.3 L427.9 333.5 L429.9 332.9Z M419.7 342.0 L418.3 341.4 L416.3 340.7 L414.2 339.9 L412.3 339.2 L410.7 338.6 L408.9 338.0 L407.4 337.2 L406.3 336.3 L406.5 335.3 L407.7 334.7 L409.5 334.4 L411.6 334.5 L413.7 334.8 L415.8 335.5 L418.0 336.5 L420.0 337.4 L421.3 338.0Z M414.5 350.2 L412.0 351.6 L408.6 354.1 L404.9 357.0 L401.2 359.0 L397.7 360.4 L394.4 361.8 L391.4 363.0 L389.2 363.5 L388.8 362.5 L390.4 361.0 L393.0 359.3 L396.0 357.3 L398.8 355.0 L401.9 352.5 L405.8 350.1 L409.3 347.8 L411.5 345.8Z M462.6 321.2 L458.4 324.1 L455.7 329.8 L451.9 335.7 L449.4 341.2 L448.4 346.1 L446.5 350.6 L445.8 355.5 L445.0 360.7 L443.0 366.0 L442.2 371.7 L440.6 377.5 L438.9 383.6 L437.6 390.1 L435.3 396.7 L433.9 403.6 L431.7 410.4 L430.4 418.0 L428.3 426.0 L426.2 433.1 L425.0 438.1 L424.2 437.9 L424.9 432.8 L425.5 425.4 L426.5 417.2 L428.3 409.6 L429.3 402.5 L431.3 395.7 L432.3 388.8 L434.1 382.4 L435.1 376.3 L436.1 370.4 L437.7 364.9 L438.0 359.3 L439.3 354.2 L440.4 349.3 L440.6 344.1 L442.6 338.8 L444.8 332.6 L446.9 325.7 L449.7 319.9 L449.4 314.8Z M444.5 363.1 L445.2 367.9 L447.0 374.8 L448.5 382.5 L450.6 389.3 L451.4 396.1 L453.0 402.7 L453.6 408.7 L454.0 412.9 L453.0 413.1 L451.5 409.2 L449.3 403.6 L447.8 396.9 L445.4 390.7 L443.9 383.7 L441.3 376.3 L439.4 369.5 L437.5 364.9Z M442.5 368.1 L440.2 370.8 L436.3 374.3 L432.5 378.7 L428.9 382.8 L424.6 386.1 L420.2 389.6 L416.5 392.8 L413.4 394.4 L412.6 393.6 L414.6 390.7 L418.1 387.3 L421.9 383.3 L425.1 379.2 L428.8 375.4 L432.4 371.0 L435.2 366.7 L437.5 363.9Z M435.5 391.8 L433.7 394.1 L430.9 397.2 L427.4 400.3 L424.5 403.3 L422.1 406.2 L419.5 408.9 L416.8 411.0 L414.8 412.3 L414.2 411.7 L415.1 409.5 L416.7 406.6 L419.0 403.5 L421.5 400.7 L424.1 397.4 L426.7 393.5 L429.4 390.3 L431.5 388.2Z M487.2 317.2 L487.2 321.4 L485.1 327.7 L486.3 334.0 L486.1 339.2 L486.3 342.4 L487.5 344.4 L488.7 346.4 L489.6 350.0 L492.2 354.4 L495.4 359.7 L499.0 365.4 L501.8 371.4 L504.8 377.1 L506.7 383.1 L509.3 388.7 L511.2 394.3 L513.8 399.1 L516.6 403.9 L519.0 409.1 L521.2 415.2 L522.0 423.1 L522.2 432.0 L521.5 440.3 L521.4 446.0 L520.6 446.0 L520.1 440.3 L519.1 432.2 L518.3 423.5 L516.8 416.2 L515.0 410.9 L512.2 406.4 L509.2 401.8 L506.4 396.7 L503.4 391.3 L501.2 385.5 L498.2 380.1 L495.8 374.6 L492.2 369.5 L488.8 364.0 L485.1 358.8 L482.4 354.0 L479.7 350.8 L478.7 347.7 L478.3 344.6 L476.9 340.8 L475.1 335.4 L474.8 328.8 L471.6 322.9 L470.8 318.8Z M489.8 351.8 L489.0 355.5 L486.9 360.9 L485.7 366.8 L483.5 371.6 L480.0 374.2 L476.4 375.1 L473.2 375.4 L470.3 375.9 L467.2 376.4 L463.7 376.6 L460.6 375.9 L458.5 375.8 L458.5 375.0 L460.5 374.5 L463.4 373.3 L466.6 372.7 L469.7 372.1 L472.6 371.6 L475.4 371.1 L477.4 370.0 L478.5 368.4 L479.8 364.9 L481.4 359.6 L481.5 354.0 L482.2 350.2Z M482.7 372.0 L480.5 374.2 L477.0 377.1 L472.8 379.9 L469.2 382.6 L466.1 385.0 L462.7 387.1 L459.6 388.5 L457.3 389.4 L456.7 388.6 L458.3 386.7 L460.6 384.2 L463.6 381.7 L466.8 379.4 L470.0 376.6 L473.4 372.9 L476.7 369.9 L479.3 368.0Z M483.4 371.2 L482.0 374.6 L479.3 379.1 L476.4 384.2 L474.2 389.1 L471.3 393.4 L468.5 397.8 L466.3 401.8 L464.1 404.3 L463.1 403.7 L463.9 400.6 L465.9 396.4 L468.0 391.6 L469.8 386.9 L472.5 382.2 L474.8 376.9 L476.8 372.0 L478.6 368.8Z M485.7 363.6 L486.3 366.6 L486.4 370.9 L486.7 375.6 L487.4 379.8 L487.3 383.6 L487.1 387.4 L487.0 390.7 L486.5 393.0 L485.5 393.0 L484.7 390.8 L484.2 387.6 L483.4 383.9 L482.6 380.2 L482.3 376.1 L481.5 371.5 L480.4 367.3 L480.3 364.4Z M511.4 396.5 L510.6 399.0 L510.1 402.7 L509.5 406.8 L508.2 410.5 L506.8 414.1 L505.7 417.8 L504.5 421.1 L503.0 423.1 L502.0 422.9 L501.8 420.3 L502.5 416.9 L503.4 413.2 L503.8 409.5 L504.1 405.7 L505.2 401.7 L506.0 398.1 L506.2 395.5Z M512.9 397.5 L516.3 400.4 L521.3 404.3 L527.2 408.7 L532.4 414.0 L538.5 419.3 L545.1 425.3 L550.8 431.2 L554.3 435.6 L553.7 436.4 L548.8 433.3 L542.4 428.3 L535.6 422.6 L529.6 417.4 L523.4 413.4 L517.8 408.8 L512.7 405.1 L509.1 402.5Z M489.4 319.4 L490.9 322.7 L492.2 327.9 L495.5 332.1 L497.4 336.0 L499.4 338.0 L501.9 339.1 L504.3 340.6 L506.6 342.7 L508.9 344.4 L511.1 345.6 L512.8 347.0 L514.9 348.6 L518.0 349.4 L521.7 350.0 L525.7 351.3 L530.2 351.5 L535.6 352.5 L541.8 352.6 L547.5 354.1 L551.5 354.4 L551.5 355.6 L547.5 355.6 L541.7 356.8 L535.4 356.3 L529.8 356.5 L525.2 355.6 L520.7 355.7 L516.7 354.6 L513.1 353.4 L509.7 352.5 L507.2 350.9 L505.4 348.9 L503.4 347.3 L500.9 346.4 L498.2 345.2 L495.6 342.8 L492.6 340.0 L489.0 336.4 L486.5 331.3 L482.7 327.5 L480.6 324.6Z M515.4 349.0 L517.9 350.5 L521.8 352.2 L525.4 355.0 L529.1 356.6 L532.2 358.0 L535.0 359.7 L538.0 360.9 L541.0 362.1 L543.6 364.2 L546.0 366.2 L547.9 368.3 L549.3 369.6 L548.7 370.4 L547.0 369.5 L544.5 368.4 L541.8 367.0 L539.0 365.9 L536.5 364.6 L533.6 363.5 L530.2 362.8 L526.9 361.4 L523.2 359.2 L518.7 357.7 L515.2 355.3 L512.6 354.0Z M518.1 350.6 L519.5 352.0 L522.1 353.6 L524.6 356.1 L526.8 359.1 L529.6 361.3 L532.5 363.8 L535.0 367.5 L538.7 371.3 L542.3 377.6 L547.0 384.7 L551.2 391.6 L553.4 396.8 L552.6 397.2 L548.7 393.2 L543.9 386.8 L539.1 379.8 L534.3 374.7 L531.4 370.6 L528.1 368.2 L525.5 365.6 L523.2 362.9 L520.2 361.0 L517.5 358.9 L515.6 356.6 L513.9 355.4Z M514.5 349.5 L514.9 352.1 L516.0 355.7 L516.7 359.8 L516.9 363.6 L517.5 366.9 L518.3 370.2 L518.3 373.1 L518.1 375.3 L517.1 375.5 L516.0 373.7 L514.7 371.0 L513.9 367.7 L513.1 364.4 L511.7 360.9 L510.7 356.9 L510.2 353.1 L509.5 350.5Z M424.0 290.0 L424.8 288.7 L426.0 287.5 L427.2 286.2 L428.6 284.9 L429.9 283.5 L431.0 282.0 L431.9 280.4 L432.6 278.6 L433.3 276.8 L434.0 275.0 L434.9 273.3 L436.0 272.0 L437.4 270.9 L438.9 269.9 L440.6 269.0 L442.3 268.4 L444.2 268.0 L446.0 268.0 L447.9 268.5 L449.9 269.6 L451.9 270.9 L453.9 272.3 L456.0 273.4 L458.0 274.0 L460.0 274.0 L462.1 273.6 L464.1 272.9 L466.1 272.1 L468.1 271.4 L470.0 271.0 L471.8 270.8 L473.6 270.6 L475.3 270.6 L477.0 270.6 L478.5 270.7 L480.0 271.0 L481.3 271.5 L482.4 272.3 L483.5 273.2 L484.6 274.0 L485.7 274.7 L487.0 275.0 L488.5 274.8 L490.3 274.2 L492.1 273.4 L493.9 272.6 L495.5 272.1 L497.0 272.0 L498.2 272.5 L499.3 273.3 L500.2 274.3 L501.1 275.5 L502.0 276.8 L503.0 278.0 L504.0 279.2 L505.0 280.5 L506.0 281.9 L507.0 283.3 L508.0 284.6 L509.0 286.0 L510.0 287.4 L511.0 288.7 L512.0 290.1 L513.0 291.5 L514.0 292.8 L515.0 294.0 L516.1 295.1 L517.3 296.1 L518.4 297.1 L519.5 298.0 L520.4 299.0 L521.0 300.0 L521.3 301.1 L521.4 302.4 L521.4 303.6 L521.1 304.9 L520.7 306.0 L520.0 307.0 L519.1 307.8 L517.9 308.6 L516.5 309.2 L515.0 309.8 L513.5 310.4 L512.0 311.0 L510.6 311.6 L509.1 312.3 L507.6 312.9 L506.0 313.5 L504.5 314.2 L503.0 315.0 L501.5 315.9 L500.0 317.0 L498.6 318.1 L497.1 319.1 L495.6 320.2 L494.0 321.0 L492.4 321.7 L490.7 322.4 L488.9 323.0 L487.2 323.5 L485.6 323.8 L484.0 324.0 L482.6 323.9 L481.2 323.7 L479.9 323.2 L478.7 322.8 L477.4 322.3 L476.0 322.0 L474.6 321.8 L473.1 321.5 L471.6 321.3 L470.0 321.1 L468.5 321.0 L467.0 321.0 L465.5 321.1 L464.0 321.3 L462.6 321.5 L461.1 321.7 L459.6 321.9 L458.0 322.0 L456.4 322.0 L454.7 322.0 L452.9 321.9 L451.2 321.7 L449.6 321.4 L448.0 321.0 L446.5 320.4 L445.1 319.7 L443.8 318.9 L442.4 318.0 L441.2 317.0 L440.0 316.0 L438.9 314.9 L437.9 313.8 L436.9 312.6 L435.9 311.3 L435.0 310.1 L434.0 309.0 L433.0 307.9 L432.0 306.9 L430.9 305.9 L429.9 305.0 L428.9 304.0 L428.0 303.0 L427.0 302.0 L426.0 301.0 L425.1 300.1 L424.2 299.1 L423.5 298.1 L423.0 297.0 L422.8 295.9 L422.7 294.8 L422.8 293.6 L423.0 292.4 L423.4 291.2Z" fill="#1f190a" stroke="#1f190a" stroke-width="4.0" stroke-linejoin="round"/><path d="M443.2 281.7 L441.6 276.7 L437.7 270.9 L432.8 264.6 L428.4 258.1 L423.2 252.4 L418.7 245.7 L413.0 239.8 L408.6 232.9 L403.1 227.2 L399.0 220.5 L393.5 214.6 L388.8 207.4 L382.4 200.2 L376.9 191.8 L370.3 184.1 L364.1 176.9 L357.6 171.0 L350.8 165.8 L343.6 160.5 L336.7 154.5 L329.2 147.0 L321.4 138.7 L315.1 130.5 L310.1 125.4 L310.9 124.6 L315.8 129.9 L323.6 136.5 L331.7 144.5 L339.3 151.5 L346.4 156.9 L353.6 161.9 L360.8 167.1 L367.9 173.1 L374.8 180.2 L381.1 188.4 L387.9 196.0 L393.2 203.8 L399.2 210.0 L403.7 216.8 L409.1 222.4 L413.4 229.1 L419.1 234.9 L423.7 241.7 L429.3 247.5 L433.6 253.9 L438.9 259.9 L443.8 266.2 L448.4 271.5 L452.8 274.3Z M357.9 171.7 L357.6 167.7 L355.9 162.2 L355.0 156.0 L353.9 150.5 L352.5 145.7 L351.7 140.6 L350.9 136.3 L350.5 133.1 L351.5 132.9 L352.9 135.7 L354.7 139.7 L356.8 144.5 L358.1 149.5 L359.8 154.9 L361.7 160.9 L362.6 166.6 L364.1 170.3Z M357.2 172.8 L354.6 171.7 L350.7 170.3 L346.3 169.3 L342.5 168.4 L339.1 167.3 L335.6 166.3 L332.6 165.3 L330.5 164.4 L330.7 163.6 L332.9 163.3 L336.1 163.2 L339.8 163.3 L343.5 163.6 L347.5 164.6 L351.9 165.9 L355.9 166.8 L358.8 167.2Z M380.6 199.7 L379.2 200.1 L377.0 200.8 L374.0 201.4 L370.4 201.0 L366.8 199.5 L363.0 197.4 L359.0 195.7 L355.2 194.2 L351.2 192.5 L346.9 190.5 L343.1 188.8 L340.5 187.5 L340.7 186.5 L343.7 187.0 L347.8 187.7 L352.5 188.6 L356.8 189.8 L360.8 191.5 L364.8 193.3 L368.6 194.5 L371.6 195.0 L373.8 195.1 L375.9 194.9 L377.8 194.6 L379.4 194.3Z M371.7 200.3 L369.0 201.1 L365.2 202.5 L360.8 203.8 L356.3 204.3 L351.9 204.1 L347.3 203.8 L343.3 203.5 L340.6 202.5 L340.6 201.5 L343.4 200.7 L347.4 200.7 L351.8 200.5 L355.7 199.7 L359.5 198.5 L363.7 197.5 L367.6 196.5 L370.3 195.7Z M392.3 213.2 L392.6 209.3 L392.9 203.9 L392.1 197.4 L392.7 190.5 L392.4 182.5 L393.1 173.3 L393.6 164.9 L394.5 159.0 L395.5 159.0 L396.3 164.9 L396.8 173.3 L397.5 182.5 L397.3 190.5 L398.3 197.2 L398.1 203.6 L399.0 209.0 L399.7 212.8Z M392.6 191.7 L391.6 189.7 L390.5 186.7 L389.4 183.4 L388.3 180.7 L387.5 178.4 L387.0 176.3 L387.3 174.4 L387.5 173.1 L388.5 172.9 L389.3 173.9 L390.3 175.4 L391.0 177.3 L391.7 179.3 L392.9 181.8 L394.7 184.7 L396.4 187.3 L397.4 189.3Z M413.3 237.7 L411.2 237.5 L408.0 237.7 L404.1 238.0 L400.0 237.5 L396.3 235.5 L393.2 232.7 L390.2 229.9 L386.9 227.9 L383.1 225.9 L379.0 223.4 L375.4 221.0 L372.8 219.4 L373.2 218.6 L376.1 219.4 L380.3 220.5 L385.0 222.1 L389.1 224.1 L392.6 226.5 L396.1 228.7 L399.4 230.4 L402.0 231.5 L404.6 232.2 L407.6 232.3 L410.6 231.9 L412.7 231.3Z M401.8 237.5 L399.8 237.8 L396.9 238.2 L393.6 238.7 L390.2 239.1 L386.6 239.3 L382.8 239.1 L379.3 238.6 L377.0 237.5 L377.0 236.5 L379.4 235.5 L382.8 235.2 L386.5 235.0 L389.8 234.9 L392.7 234.3 L395.7 233.3 L398.3 232.2 L400.2 231.5Z M432.9 258.5 L432.2 255.3 L432.0 250.5 L431.3 245.2 L430.4 240.4 L430.5 235.5 L430.2 230.6 L429.9 226.2 L430.5 223.1 L431.5 222.9 L432.8 225.9 L433.4 230.2 L434.3 235.0 L435.6 239.6 L436.2 244.5 L437.2 249.6 L438.7 254.2 L439.1 257.5Z M431.4 246.2 L430.5 245.2 L429.2 243.6 L428.0 241.8 L427.2 239.8 L426.9 238.0 L426.9 236.3 L427.3 235.0 L427.6 234.0 L428.4 234.0 L428.9 234.8 L429.6 235.9 L430.1 237.1 L430.8 238.2 L431.8 239.4 L433.0 241.0 L434.0 242.6 L434.6 243.8Z M468.4 276.7 L467.9 273.0 L467.6 267.6 L467.6 261.7 L466.1 256.7 L465.6 252.3 L465.2 248.0 L463.8 244.2 L462.8 241.0 L462.4 239.1 L462.1 237.9 L461.7 235.7 L460.9 231.5 L459.3 224.1 L458.2 214.4 L457.5 204.4 L455.5 196.2 L454.8 190.2 L452.6 185.7 L451.1 181.0 L450.4 175.5 L448.8 169.8 L448.7 163.8 L448.2 157.3 L448.3 149.9 L448.6 141.6 L450.0 132.6 L450.8 122.9 L451.6 112.8 L452.8 100.9 L454.0 87.6 L456.1 75.4 L456.9 67.0 L457.7 67.0 L457.3 75.5 L457.7 87.8 L457.0 101.2 L456.4 113.2 L455.4 123.4 L454.3 133.0 L454.2 142.0 L453.7 150.1 L453.9 157.1 L454.2 163.3 L455.4 168.9 L455.6 174.5 L457.4 179.2 L459.0 183.5 L460.2 188.6 L462.5 194.8 L463.3 203.5 L465.2 213.5 L466.6 223.2 L467.1 230.5 L467.9 234.2 L468.6 235.5 L469.3 236.7 L470.2 239.0 L470.8 242.6 L471.2 246.6 L472.6 250.8 L473.9 255.3 L474.1 260.7 L475.9 266.4 L477.1 271.7 L477.6 275.3Z M447.5 130.6 L447.2 125.8 L445.5 119.1 L444.4 111.8 L442.9 105.5 L441.7 100.3 L440.8 95.2 L439.9 90.9 L439.5 87.9 L440.5 87.5 L441.9 90.3 L443.5 94.4 L445.5 99.2 L447.1 104.5 L448.5 110.8 L450.7 118.0 L451.8 124.8 L453.5 129.4Z M450.9 184.2 L449.4 180.6 L446.3 176.1 L442.6 171.4 L439.9 166.6 L437.0 162.7 L433.7 159.3 L431.1 155.6 L428.5 152.0 L425.5 149.1 L422.5 146.5 L419.8 143.8 L417.1 141.3 L414.0 139.0 L410.6 137.0 L407.9 134.7 L405.8 133.4 L406.2 132.6 L408.4 133.7 L411.9 134.7 L415.4 136.7 L418.9 138.7 L422.2 140.8 L425.5 143.2 L428.5 146.1 L431.5 149.2 L434.9 152.2 L438.3 155.5 L441.0 159.5 L444.1 163.4 L447.9 167.6 L451.2 172.7 L454.3 177.2 L457.1 179.8Z M449.1 168.2 L448.2 165.6 L446.8 161.9 L444.8 158.3 L443.1 155.1 L441.8 152.4 L440.4 149.8 L439.3 147.5 L438.6 145.8 L439.4 145.2 L440.8 146.4 L442.7 148.1 L444.9 150.3 L446.9 152.9 L448.7 156.2 L450.5 160.1 L452.4 163.5 L453.9 165.8Z M456.4 187.2 L457.7 184.3 L458.7 179.9 L460.5 175.3 L462.2 171.5 L463.0 168.1 L463.9 164.9 L465.2 162.3 L466.2 160.5 L467.0 160.7 L467.1 162.7 L467.3 165.7 L466.8 169.0 L465.8 172.5 L465.1 176.8 L463.9 181.5 L462.2 185.7 L461.6 188.8Z M459.5 200.3 L460.9 199.0 L462.5 196.8 L464.2 194.3 L466.2 192.5 L468.1 191.1 L469.8 189.5 L471.3 188.2 L472.6 187.5 L473.4 188.1 L473.0 189.6 L472.0 191.3 L470.9 193.3 L469.8 195.5 L468.5 197.8 L466.5 200.0 L464.7 202.0 L463.7 203.7Z M462.2 253.1 L460.2 247.9 L457.3 240.4 L454.2 232.4 L451.8 226.0 L450.2 221.5 L448.4 218.4 L446.8 215.7 L445.5 212.9 L444.1 210.0 L442.7 207.3 L441.7 204.8 L440.6 203.3 L441.4 202.7 L442.4 204.3 L444.4 206.1 L446.5 208.5 L448.5 211.1 L450.3 213.6 L451.9 216.4 L453.7 219.8 L456.2 224.0 L459.2 230.4 L462.6 238.3 L465.7 245.7 L467.8 250.9Z M458.8 251.5 L457.0 248.3 L453.7 244.1 L450.6 239.3 L448.4 235.1 L446.5 232.3 L445.0 230.1 L443.7 228.1 L442.5 226.1 L441.2 223.9 L439.6 221.8 L438.7 219.6 L437.7 218.3 L438.3 217.7 L439.5 218.9 L441.6 220.1 L443.6 221.9 L445.5 223.9 L447.1 225.8 L448.4 227.8 L449.8 230.1 L451.6 232.9 L454.7 236.5 L458.1 241.1 L460.8 245.7 L463.2 248.5Z M470.9 270.7 L471.8 267.6 L473.7 263.4 L476.0 258.9 L476.6 254.8 L477.5 251.7 L478.3 248.9 L478.6 246.0 L478.5 242.9 L478.9 239.4 L479.6 235.7 L480.6 232.3 L481.0 230.0 L482.0 230.0 L482.2 232.4 L483.0 235.8 L483.5 239.6 L483.5 243.1 L483.2 246.2 L483.3 249.2 L483.6 252.5 L483.4 256.2 L481.8 260.6 L481.1 265.7 L480.2 270.3 L479.1 273.3Z M477.8 254.6 L479.1 252.0 L481.6 248.8 L484.2 245.3 L485.8 242.0 L487.4 239.2 L488.9 236.2 L489.9 233.4 L491.0 231.6 L492.0 231.8 L492.0 234.0 L491.6 236.9 L491.1 240.4 L490.2 244.0 L488.0 247.5 L485.9 251.6 L484.0 255.2 L482.2 257.4Z M489.4 273.6 L491.5 271.5 L494.2 268.3 L495.5 264.0 L497.5 260.4 L499.6 257.5 L500.8 254.6 L501.7 251.9 L503.1 249.2 L504.0 245.5 L503.7 241.0 L504.3 236.4 L504.9 231.9 L504.3 227.5 L504.6 223.2 L505.1 218.9 L504.5 215.1 L504.2 212.1 L504.3 209.3 L504.6 206.1 L505.0 202.1 L506.0 197.0 L508.6 191.9 L510.1 186.2 L512.6 181.2 L513.9 176.4 L515.3 171.8 L517.2 167.4 L518.1 162.3 L520.1 157.0 L521.2 151.1 L522.9 145.3 L524.2 139.6 L525.7 133.7 L527.9 127.9 L529.3 122.6 L530.3 118.9 L531.1 119.1 L530.4 122.8 L529.5 128.2 L529.0 134.5 L527.8 140.4 L526.6 146.1 L525.6 152.1 L524.1 158.0 L523.3 163.7 L521.5 168.6 L520.6 173.4 L519.2 178.1 L517.4 182.8 L516.2 188.3 L513.6 193.7 L512.6 199.1 L511.0 203.3 L510.4 206.5 L510.9 208.9 L511.5 211.5 L511.5 214.9 L511.0 218.9 L511.6 223.1 L511.9 227.6 L511.1 232.1 L511.3 236.7 L511.5 241.6 L510.4 246.3 L509.9 250.8 L509.2 254.9 L507.2 257.9 L505.4 260.5 L504.5 263.6 L503.3 267.4 L501.1 271.2 L500.6 275.4 L500.6 278.4Z M504.6 206.3 L503.3 201.2 L500.3 194.2 L498.1 186.1 L495.4 178.9 L493.8 171.8 L491.5 164.7 L490.3 158.3 L489.5 153.8 L490.5 153.4 L492.4 157.6 L495.3 163.5 L497.5 170.5 L500.6 177.1 L503.1 184.3 L506.7 191.8 L509.0 199.0 L511.4 203.7Z M511.2 196.2 L513.5 194.1 L516.4 190.7 L520.4 187.7 L523.3 184.4 L526.2 181.5 L529.4 178.6 L531.8 175.7 L534.1 174.2 L534.9 174.8 L533.9 177.4 L531.6 180.4 L529.3 184.1 L526.7 187.6 L523.4 190.7 L520.4 194.8 L516.9 197.6 L514.8 199.8Z M501.6 249.4 L503.5 248.2 L505.3 245.8 L506.7 242.7 L508.8 240.0 L511.1 237.6 L512.7 234.7 L514.5 231.3 L517.6 228.2 L520.4 223.7 L524.3 219.1 L527.8 214.1 L531.6 210.0 L534.7 206.8 L536.9 203.9 L540.0 201.6 L543.7 197.8 L549.2 192.5 L555.1 185.5 L561.7 178.4 L568.9 172.7 L576.2 168.4 L583.3 164.3 L590.5 160.9 L597.8 158.5 L604.8 156.1 L611.7 154.2 L618.7 153.1 L625.4 151.1 L632.9 148.5 L641.3 146.4 L648.8 144.4 L653.8 142.4 L654.2 143.6 L649.1 145.3 L642.1 148.6 L634.3 152.4 L626.6 154.9 L619.6 156.7 L612.9 158.9 L606.1 160.4 L599.4 162.7 L592.7 166.1 L585.7 169.1 L578.7 172.6 L572.5 177.3 L566.3 183.2 L559.6 189.8 L553.2 196.3 L548.3 202.2 L544.3 206.0 L541.8 209.0 L539.0 211.0 L536.4 214.0 L533.2 218.4 L529.2 222.9 L525.9 227.8 L522.4 231.8 L520.6 235.6 L518.3 238.3 L516.3 240.9 L515.2 244.0 L513.7 247.0 L511.7 249.7 L510.6 252.3 L510.4 254.6Z M595.5 159.7 L597.1 157.5 L598.7 154.1 L600.0 150.3 L601.8 147.2 L603.4 144.4 L604.4 141.4 L605.6 139.0 L606.9 137.3 L607.9 137.7 L608.0 139.7 L607.6 142.4 L606.7 145.5 L606.2 148.8 L605.4 152.5 L603.5 156.2 L602.2 159.7 L601.7 162.3Z M544.9 195.6 L547.5 191.8 L549.7 185.5 L553.3 179.2 L555.7 173.0 L558.7 167.6 L560.9 161.9 L563.6 157.1 L565.5 153.8 L566.5 154.2 L565.6 157.9 L564.4 163.2 L562.0 169.0 L560.3 175.0 L557.5 181.0 L555.3 188.0 L552.2 193.8 L551.1 198.4Z M501.2 253.8 L503.3 253.5 L505.8 252.5 L508.3 250.5 L511.3 249.1 L514.6 248.4 L517.8 247.0 L520.9 245.5 L524.2 245.0 L526.9 244.7 L529.1 244.2 L531.4 243.5 L534.5 243.4 L539.0 243.0 L544.4 241.7 L550.1 241.2 L555.1 240.1 L559.5 240.2 L563.3 239.4 L566.9 239.2 L570.3 239.1 L573.3 237.9 L576.3 237.0 L579.4 236.4 L582.4 235.3 L585.9 234.1 L590.0 233.9 L593.5 233.2 L595.8 232.5 L596.2 233.5 L593.8 234.2 L590.5 235.6 L587.1 237.8 L583.6 238.7 L580.5 239.7 L577.7 241.2 L574.6 242.4 L571.1 242.9 L567.6 244.0 L563.9 244.7 L560.0 244.7 L555.9 245.9 L550.9 246.4 L545.5 247.8 L540.0 248.5 L535.5 249.6 L532.2 250.3 L529.8 250.2 L527.9 250.2 L525.8 251.0 L523.2 252.3 L520.1 253.0 L517.0 254.1 L514.7 255.9 L512.3 257.4 L509.7 258.6 L507.8 260.4 L506.8 262.2Z M571.9 238.7 L573.9 239.7 L576.6 241.2 L579.3 243.6 L581.9 245.3 L584.7 246.6 L587.3 248.3 L589.7 250.0 L591.2 251.4 L590.8 252.2 L588.8 252.0 L585.9 251.3 L582.8 250.3 L580.1 248.7 L577.1 247.1 L573.8 245.7 L571.3 243.7 L569.5 242.3Z M531.5 243.0 L533.7 240.2 L537.5 236.8 L540.6 232.2 L544.3 228.8 L547.0 224.9 L550.1 221.1 L552.9 217.9 L555.1 215.7 L555.9 216.3 L554.8 219.1 L552.9 223.0 L550.5 227.3 L547.7 231.2 L545.2 235.8 L541.3 239.9 L538.7 244.3 L536.5 247.0Z M529.7 246.8 L532.1 247.2 L535.4 248.5 L539.0 250.0 L542.7 250.7 L546.2 252.3 L550.0 253.8 L553.5 254.9 L555.6 256.5 L555.4 257.5 L552.6 257.7 L549.1 256.7 L545.1 255.9 L541.3 255.3 L537.8 253.8 L534.0 253.0 L530.6 252.2 L528.3 251.2Z M436.3 298.3 L431.9 297.3 L425.7 294.9 L418.7 294.1 L412.7 294.1 L407.8 293.2 L403.3 292.7 L399.0 293.1 L394.9 293.5 L391.2 293.3 L387.7 292.8 L384.1 292.2 L380.0 291.6 L375.6 290.7 L371.4 288.9 L367.6 286.3 L363.5 284.1 L358.9 282.5 L354.5 280.3 L350.4 277.5 L346.0 275.7 L341.3 275.2 L336.3 274.3 L330.7 272.6 L324.4 271.1 L317.6 268.3 L311.0 264.1 L303.7 260.7 L296.8 256.2 L289.2 252.5 L281.6 248.0 L273.9 243.8 L266.7 239.4 L259.5 234.6 L252.7 229.2 L246.7 224.4 L242.3 221.4 L242.9 220.6 L247.3 223.6 L253.9 227.5 L261.4 231.7 L268.7 236.0 L276.1 239.9 L283.8 244.0 L291.8 247.6 L299.2 251.8 L306.8 255.0 L313.6 259.3 L320.6 262.1 L326.6 264.9 L332.1 266.8 L337.4 266.9 L342.7 267.5 L348.0 269.3 L353.2 271.3 L358.2 272.9 L362.6 275.3 L366.5 277.9 L370.8 279.7 L375.1 281.1 L378.7 282.7 L382.0 284.4 L385.0 285.2 L388.0 285.1 L391.3 284.6 L395.1 284.5 L399.2 285.1 L403.4 285.6 L408.1 285.2 L413.3 284.9 L419.5 286.0 L426.6 286.6 L433.2 285.8 L437.7 285.7Z M327.3 271.2 L321.3 272.0 L312.6 272.4 L302.8 273.1 L293.2 273.7 L283.1 274.2 L272.0 274.4 L262.0 275.0 L255.0 274.5 L255.0 273.5 L261.8 271.9 L271.7 270.9 L282.7 269.4 L292.8 268.3 L302.3 267.2 L312.1 266.2 L320.7 265.1 L326.7 264.8Z M301.5 257.4 L299.0 253.8 L295.0 249.1 L290.1 244.4 L286.5 239.4 L282.8 235.3 L279.1 231.2 L276.4 227.2 L274.7 224.3 L275.3 223.7 L278.1 225.7 L281.9 228.7 L285.6 232.7 L289.5 236.6 L294.2 240.5 L298.7 245.6 L303.1 249.9 L306.5 252.6Z M316.5 262.5 L314.1 258.1 L310.1 252.1 L306.6 245.0 L302.9 239.3 L300.4 233.8 L297.8 228.9 L295.7 224.5 L294.6 221.3 L295.4 220.7 L297.7 223.3 L300.5 227.3 L303.5 232.0 L307.1 236.7 L310.4 242.7 L315.2 249.0 L318.7 255.3 L321.5 259.5Z M339.0 272.4 L337.3 268.4 L335.4 262.4 L332.2 256.4 L330.1 251.0 L328.0 246.7 L325.4 242.9 L323.7 239.4 L322.6 236.8 L323.4 236.2 L325.5 238.1 L328.3 240.9 L330.9 244.9 L333.9 249.0 L337.1 254.0 L339.7 260.3 L343.1 265.7 L345.0 269.6Z M397.0 287.8 L396.9 282.8 L394.7 276.5 L392.3 270.0 L389.0 265.2 L384.2 262.7 L378.3 259.9 L371.4 257.9 L364.8 255.3 L359.1 251.0 L353.1 247.0 L348.7 242.4 L345.4 239.4 L346.0 238.6 L349.8 240.8 L355.4 243.8 L361.1 247.9 L367.2 250.7 L373.1 253.0 L379.8 255.0 L387.0 256.7 L393.0 260.8 L397.7 266.8 L401.4 273.8 L403.8 280.3 L407.0 284.2Z M385.0 262.4 L382.5 260.0 L379.3 256.2 L375.9 251.9 L372.4 248.6 L369.4 245.4 L366.6 242.0 L364.2 239.0 L362.7 236.8 L363.3 236.2 L365.6 237.6 L368.7 239.8 L372.3 242.4 L375.6 245.4 L378.9 249.0 L383.0 252.6 L386.7 256.0 L389.0 258.6Z M388.6 264.5 L388.8 262.5 L389.7 259.7 L390.6 256.6 L390.9 253.9 L390.8 251.6 L390.8 249.1 L391.0 246.8 L391.5 245.1 L392.5 244.9 L393.4 246.4 L394.4 248.6 L395.0 251.2 L395.1 254.1 L394.9 257.1 L395.0 260.5 L394.8 263.5 L394.4 265.5Z M392.5 294.3 L389.9 295.5 L385.8 296.9 L381.3 298.6 L377.5 300.8 L374.1 303.0 L370.4 304.8 L366.6 306.1 L363.3 307.4 L360.9 309.2 L358.6 311.4 L355.2 313.3 L350.7 313.7 L345.5 312.5 L339.8 311.1 L334.2 309.5 L329.4 307.5 L325.5 306.6 L322.0 306.3 L317.8 306.0 L312.3 304.4 L304.3 301.4 L294.3 298.0 L285.2 293.7 L278.8 291.1 L279.2 289.9 L285.8 291.9 L295.6 294.2 L305.5 297.5 L313.7 299.6 L318.9 300.6 L322.7 301.4 L326.2 302.0 L330.6 302.5 L336.1 303.5 L341.6 305.6 L346.7 307.3 L350.7 307.5 L353.0 306.8 L355.0 305.8 L357.5 304.3 L360.7 302.6 L364.0 300.7 L367.3 298.5 L370.8 296.7 L374.5 295.2 L378.3 293.2 L381.9 290.2 L385.1 287.4 L387.5 285.7Z M352.0 314.8 L349.1 315.2 L344.8 315.6 L340.1 316.8 L335.6 318.1 L331.9 318.9 L328.4 319.1 L324.1 319.2 L318.1 319.6 L308.7 319.6 L296.9 319.2 L285.7 318.5 L278.0 317.5 L278.0 316.5 L285.7 315.6 L296.9 315.1 L308.7 314.7 L317.9 314.4 L323.7 314.2 L327.6 313.4 L330.8 312.5 L334.4 311.9 L338.8 311.3 L343.3 310.1 L347.2 308.4 L350.0 307.2Z M309.9 305.4 L307.6 306.0 L304.2 306.9 L300.7 308.1 L297.5 309.0 L294.6 309.5 L291.9 309.5 L289.6 309.0 L288.0 308.5 L288.0 307.5 L289.5 306.8 L291.6 306.0 L294.0 305.5 L296.5 305.0 L299.5 304.2 L302.9 303.0 L306.0 301.6 L308.1 300.6Z M331.9 321.0 L329.0 322.5 L324.8 324.5 L319.9 326.2 L315.7 327.6 L312.1 329.1 L308.7 330.5 L305.5 331.2 L303.2 331.5 L302.8 330.5 L304.6 329.1 L307.3 327.4 L310.8 325.9 L314.3 324.4 L318.2 322.3 L322.7 319.8 L327.1 318.1 L330.1 317.0Z M356.1 313.0 L353.2 316.0 L349.7 320.8 L346.3 326.5 L341.8 331.3 L337.6 336.8 L332.5 342.1 L327.9 346.9 L324.4 349.9 L323.6 349.3 L325.9 345.2 L329.8 339.9 L334.0 333.9 L338.2 328.7 L341.3 323.0 L345.3 317.8 L348.3 312.8 L349.9 309.0Z M429.3 305.3 L428.0 305.6 L426.3 306.1 L424.6 306.8 L422.9 307.5 L420.6 308.7 L417.8 310.5 L415.0 313.0 L412.5 315.7 L409.8 317.8 L407.1 319.3 L404.6 320.4 L402.4 321.9 L400.6 324.3 L399.1 327.3 L397.1 330.4 L394.4 333.5 L391.8 336.7 L389.5 340.2 L387.0 343.6 L384.1 347.0 L381.4 351.7 L378.8 357.1 L375.2 361.5 L373.4 364.9 L372.6 364.5 L374.1 360.9 L375.2 355.3 L378.0 349.9 L380.5 345.0 L382.6 340.6 L385.2 337.0 L388.0 333.8 L390.2 330.5 L391.7 327.1 L393.6 323.9 L396.0 320.9 L398.4 318.1 L400.9 315.5 L403.4 313.4 L405.9 311.7 L408.3 310.3 L410.9 308.5 L413.4 306.0 L415.7 303.0 L418.1 300.5 L420.9 298.8 L423.5 297.8 L425.4 297.2 L426.7 296.7Z M399.3 321.6 L396.9 321.3 L393.5 320.8 L389.6 320.4 L385.9 320.2 L382.0 319.9 L378.0 319.2 L374.4 318.3 L372.0 317.1 L372.0 316.3 L374.7 315.6 L378.3 315.5 L382.4 315.5 L386.1 315.8 L389.8 316.0 L393.7 315.8 L397.1 315.5 L399.5 315.4Z M392.0 332.9 L389.9 333.3 L387.0 333.6 L383.7 333.7 L380.5 334.0 L377.2 334.7 L373.7 335.8 L370.4 336.6 L367.9 336.3 L367.5 335.3 L369.4 333.6 L372.6 332.3 L376.2 331.1 L379.5 330.0 L382.7 328.9 L386.1 327.9 L389.0 327.3 L391.0 327.1Z M454.6 320.8 L449.9 323.3 L445.3 328.2 L442.2 334.6 L437.8 339.2 L435.7 343.6 L433.8 347.5 L430.7 350.9 L427.0 354.5 L423.7 359.6 L418.8 364.0 L413.5 368.5 L408.5 373.8 L401.9 377.6 L395.8 382.7 L388.8 386.7 L382.2 390.7 L375.9 394.5 L369.2 397.1 L363.0 400.4 L356.5 403.1 L349.8 405.5 L343.3 408.6 L336.7 410.6 L330.5 412.4 L325.0 414.0 L319.9 414.7 L315.0 414.9 L310.2 415.6 L304.9 416.1 L299.4 416.4 L294.5 416.9 L291.1 417.4 L290.9 416.6 L294.3 416.0 L299.1 415.1 L304.5 413.6 L309.8 412.4 L314.6 411.8 L319.3 410.8 L324.2 409.8 L329.5 408.8 L335.3 406.7 L341.4 403.8 L348.1 401.4 L354.3 398.1 L360.5 395.1 L366.9 392.5 L372.7 388.6 L379.0 385.3 L385.2 381.2 L391.4 376.4 L397.9 372.3 L402.9 367.0 L408.4 363.0 L412.8 358.1 L416.7 353.2 L421.0 349.5 L423.4 345.4 L425.0 341.8 L427.4 338.6 L430.2 334.8 L432.1 328.8 L435.9 322.9 L437.7 316.5 L437.4 311.2Z M332.4 413.3 L328.7 415.4 L323.3 418.1 L317.1 420.9 L311.9 425.2 L305.8 430.2 L299.8 437.2 L293.9 443.3 L289.4 447.3 L288.6 446.7 L291.7 441.5 L296.6 434.4 L302.7 427.3 L308.1 420.8 L314.4 416.7 L320.3 412.5 L325.7 409.7 L329.6 407.9Z M358.8 403.9 L355.8 407.1 L352.4 412.3 L348.6 418.0 L344.8 423.0 L342.1 428.5 L338.6 434.0 L335.8 438.9 L333.5 442.2 L332.5 441.8 L333.6 437.9 L335.7 432.5 L338.0 426.4 L341.2 421.0 L344.0 415.1 L347.8 409.2 L351.4 404.1 L353.2 400.1Z M406.8 376.6 L404.2 378.9 L401.2 382.6 L399.3 387.3 L397.4 391.2 L395.9 394.5 L395.7 398.4 L395.4 402.6 L393.5 406.9 L390.8 410.8 L388.3 414.9 L385.5 418.6 L382.1 421.8 L379.3 424.7 L376.9 427.9 L374.0 431.1 L369.6 434.6 L363.9 440.3 L356.5 446.6 L349.4 452.5 L344.4 456.4 L343.6 455.6 L347.8 450.8 L354.0 444.0 L360.7 436.9 L366.4 431.4 L369.8 427.0 L372.8 424.1 L375.5 421.5 L377.9 418.2 L380.4 414.4 L383.3 411.0 L386.2 407.8 L387.7 404.3 L388.3 400.9 L389.3 397.4 L390.1 393.4 L390.6 388.8 L392.4 384.0 L395.2 379.5 L396.7 374.9 L397.2 371.4Z M394.0 404.7 L394.8 408.1 L395.2 413.1 L397.2 418.7 L398.0 425.1 L400.1 432.7 L401.5 441.7 L403.0 450.0 L403.5 455.9 L402.5 456.1 L400.3 450.6 L397.9 442.5 L395.0 433.9 L393.4 426.3 L391.1 420.2 L390.2 414.4 L388.2 409.8 L387.2 406.5Z M393.8 415.2 L392.8 417.0 L391.1 419.3 L389.0 421.7 L387.3 423.8 L386.0 425.7 L384.8 427.5 L383.5 428.9 L382.4 429.8 L381.6 429.2 L381.8 427.9 L382.4 426.1 L383.5 424.2 L384.7 422.2 L386.0 419.7 L387.4 416.9 L388.9 414.4 L390.2 412.8Z M387.5 385.7 L384.4 386.5 L379.8 387.1 L374.7 387.4 L370.2 388.0 L366.2 388.4 L362.4 388.3 L359.0 387.8 L356.7 387.2 L356.7 386.2 L359.0 385.5 L362.2 384.7 L366.0 384.4 L369.8 384.0 L374.0 383.2 L378.8 381.8 L383.3 380.7 L386.5 380.3Z M432.1 339.1 L430.3 339.9 L427.7 341.0 L424.6 342.0 L421.7 342.7 L419.3 343.5 L416.8 344.7 L414.1 346.1 L410.7 347.5 L406.1 348.3 L400.8 348.6 L395.8 348.9 L392.4 348.9 L392.2 347.9 L395.5 346.8 L400.2 345.5 L405.2 343.8 L409.3 342.5 L412.1 341.6 L414.6 340.4 L416.8 338.9 L419.3 337.3 L422.1 335.7 L425.2 334.3 L427.9 333.5 L429.9 332.9Z M419.7 342.0 L418.3 341.4 L416.3 340.7 L414.2 339.9 L412.3 339.2 L410.7 338.6 L408.9 338.0 L407.4 337.2 L406.3 336.3 L406.5 335.3 L407.7 334.7 L409.5 334.4 L411.6 334.5 L413.7 334.8 L415.8 335.5 L418.0 336.5 L420.0 337.4 L421.3 338.0Z M414.5 350.2 L412.0 351.6 L408.6 354.1 L404.9 357.0 L401.2 359.0 L397.7 360.4 L394.4 361.8 L391.4 363.0 L389.2 363.5 L388.8 362.5 L390.4 361.0 L393.0 359.3 L396.0 357.3 L398.8 355.0 L401.9 352.5 L405.8 350.1 L409.3 347.8 L411.5 345.8Z M462.6 321.2 L458.4 324.1 L455.7 329.8 L451.9 335.7 L449.4 341.2 L448.4 346.1 L446.5 350.6 L445.8 355.5 L445.0 360.7 L443.0 366.0 L442.2 371.7 L440.6 377.5 L438.9 383.6 L437.6 390.1 L435.3 396.7 L433.9 403.6 L431.7 410.4 L430.4 418.0 L428.3 426.0 L426.2 433.1 L425.0 438.1 L424.2 437.9 L424.9 432.8 L425.5 425.4 L426.5 417.2 L428.3 409.6 L429.3 402.5 L431.3 395.7 L432.3 388.8 L434.1 382.4 L435.1 376.3 L436.1 370.4 L437.7 364.9 L438.0 359.3 L439.3 354.2 L440.4 349.3 L440.6 344.1 L442.6 338.8 L444.8 332.6 L446.9 325.7 L449.7 319.9 L449.4 314.8Z M444.5 363.1 L445.2 367.9 L447.0 374.8 L448.5 382.5 L450.6 389.3 L451.4 396.1 L453.0 402.7 L453.6 408.7 L454.0 412.9 L453.0 413.1 L451.5 409.2 L449.3 403.6 L447.8 396.9 L445.4 390.7 L443.9 383.7 L441.3 376.3 L439.4 369.5 L437.5 364.9Z M442.5 368.1 L440.2 370.8 L436.3 374.3 L432.5 378.7 L428.9 382.8 L424.6 386.1 L420.2 389.6 L416.5 392.8 L413.4 394.4 L412.6 393.6 L414.6 390.7 L418.1 387.3 L421.9 383.3 L425.1 379.2 L428.8 375.4 L432.4 371.0 L435.2 366.7 L437.5 363.9Z M435.5 391.8 L433.7 394.1 L430.9 397.2 L427.4 400.3 L424.5 403.3 L422.1 406.2 L419.5 408.9 L416.8 411.0 L414.8 412.3 L414.2 411.7 L415.1 409.5 L416.7 406.6 L419.0 403.5 L421.5 400.7 L424.1 397.4 L426.7 393.5 L429.4 390.3 L431.5 388.2Z M487.2 317.2 L487.2 321.4 L485.1 327.7 L486.3 334.0 L486.1 339.2 L486.3 342.4 L487.5 344.4 L488.7 346.4 L489.6 350.0 L492.2 354.4 L495.4 359.7 L499.0 365.4 L501.8 371.4 L504.8 377.1 L506.7 383.1 L509.3 388.7 L511.2 394.3 L513.8 399.1 L516.6 403.9 L519.0 409.1 L521.2 415.2 L522.0 423.1 L522.2 432.0 L521.5 440.3 L521.4 446.0 L520.6 446.0 L520.1 440.3 L519.1 432.2 L518.3 423.5 L516.8 416.2 L515.0 410.9 L512.2 406.4 L509.2 401.8 L506.4 396.7 L503.4 391.3 L501.2 385.5 L498.2 380.1 L495.8 374.6 L492.2 369.5 L488.8 364.0 L485.1 358.8 L482.4 354.0 L479.7 350.8 L478.7 347.7 L478.3 344.6 L476.9 340.8 L475.1 335.4 L474.8 328.8 L471.6 322.9 L470.8 318.8Z M489.8 351.8 L489.0 355.5 L486.9 360.9 L485.7 366.8 L483.5 371.6 L480.0 374.2 L476.4 375.1 L473.2 375.4 L470.3 375.9 L467.2 376.4 L463.7 376.6 L460.6 375.9 L458.5 375.8 L458.5 375.0 L460.5 374.5 L463.4 373.3 L466.6 372.7 L469.7 372.1 L472.6 371.6 L475.4 371.1 L477.4 370.0 L478.5 368.4 L479.8 364.9 L481.4 359.6 L481.5 354.0 L482.2 350.2Z M482.7 372.0 L480.5 374.2 L477.0 377.1 L472.8 379.9 L469.2 382.6 L466.1 385.0 L462.7 387.1 L459.6 388.5 L457.3 389.4 L456.7 388.6 L458.3 386.7 L460.6 384.2 L463.6 381.7 L466.8 379.4 L470.0 376.6 L473.4 372.9 L476.7 369.9 L479.3 368.0Z M483.4 371.2 L482.0 374.6 L479.3 379.1 L476.4 384.2 L474.2 389.1 L471.3 393.4 L468.5 397.8 L466.3 401.8 L464.1 404.3 L463.1 403.7 L463.9 400.6 L465.9 396.4 L468.0 391.6 L469.8 386.9 L472.5 382.2 L474.8 376.9 L476.8 372.0 L478.6 368.8Z M485.7 363.6 L486.3 366.6 L486.4 370.9 L486.7 375.6 L487.4 379.8 L487.3 383.6 L487.1 387.4 L487.0 390.7 L486.5 393.0 L485.5 393.0 L484.7 390.8 L484.2 387.6 L483.4 383.9 L482.6 380.2 L482.3 376.1 L481.5 371.5 L480.4 367.3 L480.3 364.4Z M511.4 396.5 L510.6 399.0 L510.1 402.7 L509.5 406.8 L508.2 410.5 L506.8 414.1 L505.7 417.8 L504.5 421.1 L503.0 423.1 L502.0 422.9 L501.8 420.3 L502.5 416.9 L503.4 413.2 L503.8 409.5 L504.1 405.7 L505.2 401.7 L506.0 398.1 L506.2 395.5Z M512.9 397.5 L516.3 400.4 L521.3 404.3 L527.2 408.7 L532.4 414.0 L538.5 419.3 L545.1 425.3 L550.8 431.2 L554.3 435.6 L553.7 436.4 L548.8 433.3 L542.4 428.3 L535.6 422.6 L529.6 417.4 L523.4 413.4 L517.8 408.8 L512.7 405.1 L509.1 402.5Z M489.4 319.4 L490.9 322.7 L492.2 327.9 L495.5 332.1 L497.4 336.0 L499.4 338.0 L501.9 339.1 L504.3 340.6 L506.6 342.7 L508.9 344.4 L511.1 345.6 L512.8 347.0 L514.9 348.6 L518.0 349.4 L521.7 350.0 L525.7 351.3 L530.2 351.5 L535.6 352.5 L541.8 352.6 L547.5 354.1 L551.5 354.4 L551.5 355.6 L547.5 355.6 L541.7 356.8 L535.4 356.3 L529.8 356.5 L525.2 355.6 L520.7 355.7 L516.7 354.6 L513.1 353.4 L509.7 352.5 L507.2 350.9 L505.4 348.9 L503.4 347.3 L500.9 346.4 L498.2 345.2 L495.6 342.8 L492.6 340.0 L489.0 336.4 L486.5 331.3 L482.7 327.5 L480.6 324.6Z M515.4 349.0 L517.9 350.5 L521.8 352.2 L525.4 355.0 L529.1 356.6 L532.2 358.0 L535.0 359.7 L538.0 360.9 L541.0 362.1 L543.6 364.2 L546.0 366.2 L547.9 368.3 L549.3 369.6 L548.7 370.4 L547.0 369.5 L544.5 368.4 L541.8 367.0 L539.0 365.9 L536.5 364.6 L533.6 363.5 L530.2 362.8 L526.9 361.4 L523.2 359.2 L518.7 357.7 L515.2 355.3 L512.6 354.0Z M518.1 350.6 L519.5 352.0 L522.1 353.6 L524.6 356.1 L526.8 359.1 L529.6 361.3 L532.5 363.8 L535.0 367.5 L538.7 371.3 L542.3 377.6 L547.0 384.7 L551.2 391.6 L553.4 396.8 L552.6 397.2 L548.7 393.2 L543.9 386.8 L539.1 379.8 L534.3 374.7 L531.4 370.6 L528.1 368.2 L525.5 365.6 L523.2 362.9 L520.2 361.0 L517.5 358.9 L515.6 356.6 L513.9 355.4Z M514.5 349.5 L514.9 352.1 L516.0 355.7 L516.7 359.8 L516.9 363.6 L517.5 366.9 L518.3 370.2 L518.3 373.1 L518.1 375.3 L517.1 375.5 L516.0 373.7 L514.7 371.0 L513.9 367.7 L513.1 364.4 L511.7 360.9 L510.7 356.9 L510.2 353.1 L509.5 350.5Z M424.0 290.0 L424.8 288.7 L426.0 287.5 L427.2 286.2 L428.6 284.9 L429.9 283.5 L431.0 282.0 L431.9 280.4 L432.6 278.6 L433.3 276.8 L434.0 275.0 L434.9 273.3 L436.0 272.0 L437.4 270.9 L438.9 269.9 L440.6 269.0 L442.3 268.4 L444.2 268.0 L446.0 268.0 L447.9 268.5 L449.9 269.6 L451.9 270.9 L453.9 272.3 L456.0 273.4 L458.0 274.0 L460.0 274.0 L462.1 273.6 L464.1 272.9 L466.1 272.1 L468.1 271.4 L470.0 271.0 L471.8 270.8 L473.6 270.6 L475.3 270.6 L477.0 270.6 L478.5 270.7 L480.0 271.0 L481.3 271.5 L482.4 272.3 L483.5 273.2 L484.6 274.0 L485.7 274.7 L487.0 275.0 L488.5 274.8 L490.3 274.2 L492.1 273.4 L493.9 272.6 L495.5 272.1 L497.0 272.0 L498.2 272.5 L499.3 273.3 L500.2 274.3 L501.1 275.5 L502.0 276.8 L503.0 278.0 L504.0 279.2 L505.0 280.5 L506.0 281.9 L507.0 283.3 L508.0 284.6 L509.0 286.0 L510.0 287.4 L511.0 288.7 L512.0 290.1 L513.0 291.5 L514.0 292.8 L515.0 294.0 L516.1 295.1 L517.3 296.1 L518.4 297.1 L519.5 298.0 L520.4 299.0 L521.0 300.0 L521.3 301.1 L521.4 302.4 L521.4 303.6 L521.1 304.9 L520.7 306.0 L520.0 307.0 L519.1 307.8 L517.9 308.6 L516.5 309.2 L515.0 309.8 L513.5 310.4 L512.0 311.0 L510.6 311.6 L509.1 312.3 L507.6 312.9 L506.0 313.5 L504.5 314.2 L503.0 315.0 L501.5 315.9 L500.0 317.0 L498.6 318.1 L497.1 319.1 L495.6 320.2 L494.0 321.0 L492.4 321.7 L490.7 322.4 L488.9 323.0 L487.2 323.5 L485.6 323.8 L484.0 324.0 L482.6 323.9 L481.2 323.7 L479.9 323.2 L478.7 322.8 L477.4 322.3 L476.0 322.0 L474.6 321.8 L473.1 321.5 L471.6 321.3 L470.0 321.1 L468.5 321.0 L467.0 321.0 L465.5 321.1 L464.0 321.3 L462.6 321.5 L461.1 321.7 L459.6 321.9 L458.0 322.0 L456.4 322.0 L454.7 322.0 L452.9 321.9 L451.2 321.7 L449.6 321.4 L448.0 321.0 L446.5 320.4 L445.1 319.7 L443.8 318.9 L442.4 318.0 L441.2 317.0 L440.0 316.0 L438.9 314.9 L437.9 313.8 L436.9 312.6 L435.9 311.3 L435.0 310.1 L434.0 309.0 L433.0 307.9 L432.0 306.9 L430.9 305.9 L429.9 305.0 L428.9 304.0 L428.0 303.0 L427.0 302.0 L426.0 301.0 L425.1 300.1 L424.2 299.1 L423.5 298.1 L423.0 297.0 L422.8 295.9 L422.7 294.8 L422.8 293.6 L423.0 292.4 L423.4 291.2Z" fill="#b8923f" stroke="#b8923f" stroke-width="0.5" stroke-linejoin="round"/><path d="M443.2 281.7 L441.6 276.7 L437.7 270.9 L432.8 264.6 L428.4 258.1 L423.2 252.4 L418.7 245.7 L413.0 239.8 L408.6 232.9 L403.1 227.2 L399.0 220.5 L393.5 214.6 L388.8 207.4 L382.4 200.2 L376.9 191.8 L370.3 184.1 L364.1 176.9 L357.6 171.0 L350.8 165.8 L343.6 160.5 L336.7 154.5 L329.2 147.0 L321.4 138.7 L315.1 130.5 L310.1 125.4 L310.9 124.6 L315.8 129.9 L323.6 136.5 L331.7 144.5 L339.3 151.5 L346.4 156.9 L353.6 161.9 L360.8 167.1 L367.9 173.1 L374.8 180.2 L381.1 188.4 L387.9 196.0 L393.2 203.8 L399.2 210.0 L403.7 216.8 L409.1 222.4 L413.4 229.1 L419.1 234.9 L423.7 241.7 L429.3 247.5 L433.6 253.9 L438.9 259.9 L443.8 266.2 L448.4 271.5 L452.8 274.3Z M357.9 171.7 L357.6 167.7 L355.9 162.2 L355.0 156.0 L353.9 150.5 L352.5 145.7 L351.7 140.6 L350.9 136.3 L350.5 133.1 L351.5 132.9 L352.9 135.7 L354.7 139.7 L356.8 144.5 L358.1 149.5 L359.8 154.9 L361.7 160.9 L362.6 166.6 L364.1 170.3Z M357.2 172.8 L354.6 171.7 L350.7 170.3 L346.3 169.3 L342.5 168.4 L339.1 167.3 L335.6 166.3 L332.6 165.3 L330.5 164.4 L330.7 163.6 L332.9 163.3 L336.1 163.2 L339.8 163.3 L343.5 163.6 L347.5 164.6 L351.9 165.9 L355.9 166.8 L358.8 167.2Z M380.6 199.7 L379.2 200.1 L377.0 200.8 L374.0 201.4 L370.4 201.0 L366.8 199.5 L363.0 197.4 L359.0 195.7 L355.2 194.2 L351.2 192.5 L346.9 190.5 L343.1 188.8 L340.5 187.5 L340.7 186.5 L343.7 187.0 L347.8 187.7 L352.5 188.6 L356.8 189.8 L360.8 191.5 L364.8 193.3 L368.6 194.5 L371.6 195.0 L373.8 195.1 L375.9 194.9 L377.8 194.6 L379.4 194.3Z M371.7 200.3 L369.0 201.1 L365.2 202.5 L360.8 203.8 L356.3 204.3 L351.9 204.1 L347.3 203.8 L343.3 203.5 L340.6 202.5 L340.6 201.5 L343.4 200.7 L347.4 200.7 L351.8 200.5 L355.7 199.7 L359.5 198.5 L363.7 197.5 L367.6 196.5 L370.3 195.7Z M392.3 213.2 L392.6 209.3 L392.9 203.9 L392.1 197.4 L392.7 190.5 L392.4 182.5 L393.1 173.3 L393.6 164.9 L394.5 159.0 L395.5 159.0 L396.3 164.9 L396.8 173.3 L397.5 182.5 L397.3 190.5 L398.3 197.2 L398.1 203.6 L399.0 209.0 L399.7 212.8Z M392.6 191.7 L391.6 189.7 L390.5 186.7 L389.4 183.4 L388.3 180.7 L387.5 178.4 L387.0 176.3 L387.3 174.4 L387.5 173.1 L388.5 172.9 L389.3 173.9 L390.3 175.4 L391.0 177.3 L391.7 179.3 L392.9 181.8 L394.7 184.7 L396.4 187.3 L397.4 189.3Z M413.3 237.7 L411.2 237.5 L408.0 237.7 L404.1 238.0 L400.0 237.5 L396.3 235.5 L393.2 232.7 L390.2 229.9 L386.9 227.9 L383.1 225.9 L379.0 223.4 L375.4 221.0 L372.8 219.4 L373.2 218.6 L376.1 219.4 L380.3 220.5 L385.0 222.1 L389.1 224.1 L392.6 226.5 L396.1 228.7 L399.4 230.4 L402.0 231.5 L404.6 232.2 L407.6 232.3 L410.6 231.9 L412.7 231.3Z M401.8 237.5 L399.8 237.8 L396.9 238.2 L393.6 238.7 L390.2 239.1 L386.6 239.3 L382.8 239.1 L379.3 238.6 L377.0 237.5 L377.0 236.5 L379.4 235.5 L382.8 235.2 L386.5 235.0 L389.8 234.9 L392.7 234.3 L395.7 233.3 L398.3 232.2 L400.2 231.5Z M432.9 258.5 L432.2 255.3 L432.0 250.5 L431.3 245.2 L430.4 240.4 L430.5 235.5 L430.2 230.6 L429.9 226.2 L430.5 223.1 L431.5 222.9 L432.8 225.9 L433.4 230.2 L434.3 235.0 L435.6 239.6 L436.2 244.5 L437.2 249.6 L438.7 254.2 L439.1 257.5Z M431.4 246.2 L430.5 245.2 L429.2 243.6 L428.0 241.8 L427.2 239.8 L426.9 238.0 L426.9 236.3 L427.3 235.0 L427.6 234.0 L428.4 234.0 L428.9 234.8 L429.6 235.9 L430.1 237.1 L430.8 238.2 L431.8 239.4 L433.0 241.0 L434.0 242.6 L434.6 243.8Z M468.4 276.7 L467.9 273.0 L467.6 267.6 L467.6 261.7 L466.1 256.7 L465.6 252.3 L465.2 248.0 L463.8 244.2 L462.8 241.0 L462.4 239.1 L462.1 237.9 L461.7 235.7 L460.9 231.5 L459.3 224.1 L458.2 214.4 L457.5 204.4 L455.5 196.2 L454.8 190.2 L452.6 185.7 L451.1 181.0 L450.4 175.5 L448.8 169.8 L448.7 163.8 L448.2 157.3 L448.3 149.9 L448.6 141.6 L450.0 132.6 L450.8 122.9 L451.6 112.8 L452.8 100.9 L454.0 87.6 L456.1 75.4 L456.9 67.0 L457.7 67.0 L457.3 75.5 L457.7 87.8 L457.0 101.2 L456.4 113.2 L455.4 123.4 L454.3 133.0 L454.2 142.0 L453.7 150.1 L453.9 157.1 L454.2 163.3 L455.4 168.9 L455.6 174.5 L457.4 179.2 L459.0 183.5 L460.2 188.6 L462.5 194.8 L463.3 203.5 L465.2 213.5 L466.6 223.2 L467.1 230.5 L467.9 234.2 L468.6 235.5 L469.3 236.7 L470.2 239.0 L470.8 242.6 L471.2 246.6 L472.6 250.8 L473.9 255.3 L474.1 260.7 L475.9 266.4 L477.1 271.7 L477.6 275.3Z M447.5 130.6 L447.2 125.8 L445.5 119.1 L444.4 111.8 L442.9 105.5 L441.7 100.3 L440.8 95.2 L439.9 90.9 L439.5 87.9 L440.5 87.5 L441.9 90.3 L443.5 94.4 L445.5 99.2 L447.1 104.5 L448.5 110.8 L450.7 118.0 L451.8 124.8 L453.5 129.4Z M450.9 184.2 L449.4 180.6 L446.3 176.1 L442.6 171.4 L439.9 166.6 L437.0 162.7 L433.7 159.3 L431.1 155.6 L428.5 152.0 L425.5 149.1 L422.5 146.5 L419.8 143.8 L417.1 141.3 L414.0 139.0 L410.6 137.0 L407.9 134.7 L405.8 133.4 L406.2 132.6 L408.4 133.7 L411.9 134.7 L415.4 136.7 L418.9 138.7 L422.2 140.8 L425.5 143.2 L428.5 146.1 L431.5 149.2 L434.9 152.2 L438.3 155.5 L441.0 159.5 L444.1 163.4 L447.9 167.6 L451.2 172.7 L454.3 177.2 L457.1 179.8Z M449.1 168.2 L448.2 165.6 L446.8 161.9 L444.8 158.3 L443.1 155.1 L441.8 152.4 L440.4 149.8 L439.3 147.5 L438.6 145.8 L439.4 145.2 L440.8 146.4 L442.7 148.1 L444.9 150.3 L446.9 152.9 L448.7 156.2 L450.5 160.1 L452.4 163.5 L453.9 165.8Z M456.4 187.2 L457.7 184.3 L458.7 179.9 L460.5 175.3 L462.2 171.5 L463.0 168.1 L463.9 164.9 L465.2 162.3 L466.2 160.5 L467.0 160.7 L467.1 162.7 L467.3 165.7 L466.8 169.0 L465.8 172.5 L465.1 176.8 L463.9 181.5 L462.2 185.7 L461.6 188.8Z M459.5 200.3 L460.9 199.0 L462.5 196.8 L464.2 194.3 L466.2 192.5 L468.1 191.1 L469.8 189.5 L471.3 188.2 L472.6 187.5 L473.4 188.1 L473.0 189.6 L472.0 191.3 L470.9 193.3 L469.8 195.5 L468.5 197.8 L466.5 200.0 L464.7 202.0 L463.7 203.7Z M462.2 253.1 L460.2 247.9 L457.3 240.4 L454.2 232.4 L451.8 226.0 L450.2 221.5 L448.4 218.4 L446.8 215.7 L445.5 212.9 L444.1 210.0 L442.7 207.3 L441.7 204.8 L440.6 203.3 L441.4 202.7 L442.4 204.3 L444.4 206.1 L446.5 208.5 L448.5 211.1 L450.3 213.6 L451.9 216.4 L453.7 219.8 L456.2 224.0 L459.2 230.4 L462.6 238.3 L465.7 245.7 L467.8 250.9Z M458.8 251.5 L457.0 248.3 L453.7 244.1 L450.6 239.3 L448.4 235.1 L446.5 232.3 L445.0 230.1 L443.7 228.1 L442.5 226.1 L441.2 223.9 L439.6 221.8 L438.7 219.6 L437.7 218.3 L438.3 217.7 L439.5 218.9 L441.6 220.1 L443.6 221.9 L445.5 223.9 L447.1 225.8 L448.4 227.8 L449.8 230.1 L451.6 232.9 L454.7 236.5 L458.1 241.1 L460.8 245.7 L463.2 248.5Z M470.9 270.7 L471.8 267.6 L473.7 263.4 L476.0 258.9 L476.6 254.8 L477.5 251.7 L478.3 248.9 L478.6 246.0 L478.5 242.9 L478.9 239.4 L479.6 235.7 L480.6 232.3 L481.0 230.0 L482.0 230.0 L482.2 232.4 L483.0 235.8 L483.5 239.6 L483.5 243.1 L483.2 246.2 L483.3 249.2 L483.6 252.5 L483.4 256.2 L481.8 260.6 L481.1 265.7 L480.2 270.3 L479.1 273.3Z M477.8 254.6 L479.1 252.0 L481.6 248.8 L484.2 245.3 L485.8 242.0 L487.4 239.2 L488.9 236.2 L489.9 233.4 L491.0 231.6 L492.0 231.8 L492.0 234.0 L491.6 236.9 L491.1 240.4 L490.2 244.0 L488.0 247.5 L485.9 251.6 L484.0 255.2 L482.2 257.4Z M489.4 273.6 L491.5 271.5 L494.2 268.3 L495.5 264.0 L497.5 260.4 L499.6 257.5 L500.8 254.6 L501.7 251.9 L503.1 249.2 L504.0 245.5 L503.7 241.0 L504.3 236.4 L504.9 231.9 L504.3 227.5 L504.6 223.2 L505.1 218.9 L504.5 215.1 L504.2 212.1 L504.3 209.3 L504.6 206.1 L505.0 202.1 L506.0 197.0 L508.6 191.9 L510.1 186.2 L512.6 181.2 L513.9 176.4 L515.3 171.8 L517.2 167.4 L518.1 162.3 L520.1 157.0 L521.2 151.1 L522.9 145.3 L524.2 139.6 L525.7 133.7 L527.9 127.9 L529.3 122.6 L530.3 118.9 L531.1 119.1 L530.4 122.8 L529.5 128.2 L529.0 134.5 L527.8 140.4 L526.6 146.1 L525.6 152.1 L524.1 158.0 L523.3 163.7 L521.5 168.6 L520.6 173.4 L519.2 178.1 L517.4 182.8 L516.2 188.3 L513.6 193.7 L512.6 199.1 L511.0 203.3 L510.4 206.5 L510.9 208.9 L511.5 211.5 L511.5 214.9 L511.0 218.9 L511.6 223.1 L511.9 227.6 L511.1 232.1 L511.3 236.7 L511.5 241.6 L510.4 246.3 L509.9 250.8 L509.2 254.9 L507.2 257.9 L505.4 260.5 L504.5 263.6 L503.3 267.4 L501.1 271.2 L500.6 275.4 L500.6 278.4Z M504.6 206.3 L503.3 201.2 L500.3 194.2 L498.1 186.1 L495.4 178.9 L493.8 171.8 L491.5 164.7 L490.3 158.3 L489.5 153.8 L490.5 153.4 L492.4 157.6 L495.3 163.5 L497.5 170.5 L500.6 177.1 L503.1 184.3 L506.7 191.8 L509.0 199.0 L511.4 203.7Z M511.2 196.2 L513.5 194.1 L516.4 190.7 L520.4 187.7 L523.3 184.4 L526.2 181.5 L529.4 178.6 L531.8 175.7 L534.1 174.2 L534.9 174.8 L533.9 177.4 L531.6 180.4 L529.3 184.1 L526.7 187.6 L523.4 190.7 L520.4 194.8 L516.9 197.6 L514.8 199.8Z M501.6 249.4 L503.5 248.2 L505.3 245.8 L506.7 242.7 L508.8 240.0 L511.1 237.6 L512.7 234.7 L514.5 231.3 L517.6 228.2 L520.4 223.7 L524.3 219.1 L527.8 214.1 L531.6 210.0 L534.7 206.8 L536.9 203.9 L540.0 201.6 L543.7 197.8 L549.2 192.5 L555.1 185.5 L561.7 178.4 L568.9 172.7 L576.2 168.4 L583.3 164.3 L590.5 160.9 L597.8 158.5 L604.8 156.1 L611.7 154.2 L618.7 153.1 L625.4 151.1 L632.9 148.5 L641.3 146.4 L648.8 144.4 L653.8 142.4 L654.2 143.6 L649.1 145.3 L642.1 148.6 L634.3 152.4 L626.6 154.9 L619.6 156.7 L612.9 158.9 L606.1 160.4 L599.4 162.7 L592.7 166.1 L585.7 169.1 L578.7 172.6 L572.5 177.3 L566.3 183.2 L559.6 189.8 L553.2 196.3 L548.3 202.2 L544.3 206.0 L541.8 209.0 L539.0 211.0 L536.4 214.0 L533.2 218.4 L529.2 222.9 L525.9 227.8 L522.4 231.8 L520.6 235.6 L518.3 238.3 L516.3 240.9 L515.2 244.0 L513.7 247.0 L511.7 249.7 L510.6 252.3 L510.4 254.6Z M595.5 159.7 L597.1 157.5 L598.7 154.1 L600.0 150.3 L601.8 147.2 L603.4 144.4 L604.4 141.4 L605.6 139.0 L606.9 137.3 L607.9 137.7 L608.0 139.7 L607.6 142.4 L606.7 145.5 L606.2 148.8 L605.4 152.5 L603.5 156.2 L602.2 159.7 L601.7 162.3Z M544.9 195.6 L547.5 191.8 L549.7 185.5 L553.3 179.2 L555.7 173.0 L558.7 167.6 L560.9 161.9 L563.6 157.1 L565.5 153.8 L566.5 154.2 L565.6 157.9 L564.4 163.2 L562.0 169.0 L560.3 175.0 L557.5 181.0 L555.3 188.0 L552.2 193.8 L551.1 198.4Z M501.2 253.8 L503.3 253.5 L505.8 252.5 L508.3 250.5 L511.3 249.1 L514.6 248.4 L517.8 247.0 L520.9 245.5 L524.2 245.0 L526.9 244.7 L529.1 244.2 L531.4 243.5 L534.5 243.4 L539.0 243.0 L544.4 241.7 L550.1 241.2 L555.1 240.1 L559.5 240.2 L563.3 239.4 L566.9 239.2 L570.3 239.1 L573.3 237.9 L576.3 237.0 L579.4 236.4 L582.4 235.3 L585.9 234.1 L590.0 233.9 L593.5 233.2 L595.8 232.5 L596.2 233.5 L593.8 234.2 L590.5 235.6 L587.1 237.8 L583.6 238.7 L580.5 239.7 L577.7 241.2 L574.6 242.4 L571.1 242.9 L567.6 244.0 L563.9 244.7 L560.0 244.7 L555.9 245.9 L550.9 246.4 L545.5 247.8 L540.0 248.5 L535.5 249.6 L532.2 250.3 L529.8 250.2 L527.9 250.2 L525.8 251.0 L523.2 252.3 L520.1 253.0 L517.0 254.1 L514.7 255.9 L512.3 257.4 L509.7 258.6 L507.8 260.4 L506.8 262.2Z M571.9 238.7 L573.9 239.7 L576.6 241.2 L579.3 243.6 L581.9 245.3 L584.7 246.6 L587.3 248.3 L589.7 250.0 L591.2 251.4 L590.8 252.2 L588.8 252.0 L585.9 251.3 L582.8 250.3 L580.1 248.7 L577.1 247.1 L573.8 245.7 L571.3 243.7 L569.5 242.3Z M531.5 243.0 L533.7 240.2 L537.5 236.8 L540.6 232.2 L544.3 228.8 L547.0 224.9 L550.1 221.1 L552.9 217.9 L555.1 215.7 L555.9 216.3 L554.8 219.1 L552.9 223.0 L550.5 227.3 L547.7 231.2 L545.2 235.8 L541.3 239.9 L538.7 244.3 L536.5 247.0Z M529.7 246.8 L532.1 247.2 L535.4 248.5 L539.0 250.0 L542.7 250.7 L546.2 252.3 L550.0 253.8 L553.5 254.9 L555.6 256.5 L555.4 257.5 L552.6 257.7 L549.1 256.7 L545.1 255.9 L541.3 255.3 L537.8 253.8 L534.0 253.0 L530.6 252.2 L528.3 251.2Z M436.3 298.3 L431.9 297.3 L425.7 294.9 L418.7 294.1 L412.7 294.1 L407.8 293.2 L403.3 292.7 L399.0 293.1 L394.9 293.5 L391.2 293.3 L387.7 292.8 L384.1 292.2 L380.0 291.6 L375.6 290.7 L371.4 288.9 L367.6 286.3 L363.5 284.1 L358.9 282.5 L354.5 280.3 L350.4 277.5 L346.0 275.7 L341.3 275.2 L336.3 274.3 L330.7 272.6 L324.4 271.1 L317.6 268.3 L311.0 264.1 L303.7 260.7 L296.8 256.2 L289.2 252.5 L281.6 248.0 L273.9 243.8 L266.7 239.4 L259.5 234.6 L252.7 229.2 L246.7 224.4 L242.3 221.4 L242.9 220.6 L247.3 223.6 L253.9 227.5 L261.4 231.7 L268.7 236.0 L276.1 239.9 L283.8 244.0 L291.8 247.6 L299.2 251.8 L306.8 255.0 L313.6 259.3 L320.6 262.1 L326.6 264.9 L332.1 266.8 L337.4 266.9 L342.7 267.5 L348.0 269.3 L353.2 271.3 L358.2 272.9 L362.6 275.3 L366.5 277.9 L370.8 279.7 L375.1 281.1 L378.7 282.7 L382.0 284.4 L385.0 285.2 L388.0 285.1 L391.3 284.6 L395.1 284.5 L399.2 285.1 L403.4 285.6 L408.1 285.2 L413.3 284.9 L419.5 286.0 L426.6 286.6 L433.2 285.8 L437.7 285.7Z M327.3 271.2 L321.3 272.0 L312.6 272.4 L302.8 273.1 L293.2 273.7 L283.1 274.2 L272.0 274.4 L262.0 275.0 L255.0 274.5 L255.0 273.5 L261.8 271.9 L271.7 270.9 L282.7 269.4 L292.8 268.3 L302.3 267.2 L312.1 266.2 L320.7 265.1 L326.7 264.8Z M301.5 257.4 L299.0 253.8 L295.0 249.1 L290.1 244.4 L286.5 239.4 L282.8 235.3 L279.1 231.2 L276.4 227.2 L274.7 224.3 L275.3 223.7 L278.1 225.7 L281.9 228.7 L285.6 232.7 L289.5 236.6 L294.2 240.5 L298.7 245.6 L303.1 249.9 L306.5 252.6Z M316.5 262.5 L314.1 258.1 L310.1 252.1 L306.6 245.0 L302.9 239.3 L300.4 233.8 L297.8 228.9 L295.7 224.5 L294.6 221.3 L295.4 220.7 L297.7 223.3 L300.5 227.3 L303.5 232.0 L307.1 236.7 L310.4 242.7 L315.2 249.0 L318.7 255.3 L321.5 259.5Z M339.0 272.4 L337.3 268.4 L335.4 262.4 L332.2 256.4 L330.1 251.0 L328.0 246.7 L325.4 242.9 L323.7 239.4 L322.6 236.8 L323.4 236.2 L325.5 238.1 L328.3 240.9 L330.9 244.9 L333.9 249.0 L337.1 254.0 L339.7 260.3 L343.1 265.7 L345.0 269.6Z M397.0 287.8 L396.9 282.8 L394.7 276.5 L392.3 270.0 L389.0 265.2 L384.2 262.7 L378.3 259.9 L371.4 257.9 L364.8 255.3 L359.1 251.0 L353.1 247.0 L348.7 242.4 L345.4 239.4 L346.0 238.6 L349.8 240.8 L355.4 243.8 L361.1 247.9 L367.2 250.7 L373.1 253.0 L379.8 255.0 L387.0 256.7 L393.0 260.8 L397.7 266.8 L401.4 273.8 L403.8 280.3 L407.0 284.2Z M385.0 262.4 L382.5 260.0 L379.3 256.2 L375.9 251.9 L372.4 248.6 L369.4 245.4 L366.6 242.0 L364.2 239.0 L362.7 236.8 L363.3 236.2 L365.6 237.6 L368.7 239.8 L372.3 242.4 L375.6 245.4 L378.9 249.0 L383.0 252.6 L386.7 256.0 L389.0 258.6Z M388.6 264.5 L388.8 262.5 L389.7 259.7 L390.6 256.6 L390.9 253.9 L390.8 251.6 L390.8 249.1 L391.0 246.8 L391.5 245.1 L392.5 244.9 L393.4 246.4 L394.4 248.6 L395.0 251.2 L395.1 254.1 L394.9 257.1 L395.0 260.5 L394.8 263.5 L394.4 265.5Z M392.5 294.3 L389.9 295.5 L385.8 296.9 L381.3 298.6 L377.5 300.8 L374.1 303.0 L370.4 304.8 L366.6 306.1 L363.3 307.4 L360.9 309.2 L358.6 311.4 L355.2 313.3 L350.7 313.7 L345.5 312.5 L339.8 311.1 L334.2 309.5 L329.4 307.5 L325.5 306.6 L322.0 306.3 L317.8 306.0 L312.3 304.4 L304.3 301.4 L294.3 298.0 L285.2 293.7 L278.8 291.1 L279.2 289.9 L285.8 291.9 L295.6 294.2 L305.5 297.5 L313.7 299.6 L318.9 300.6 L322.7 301.4 L326.2 302.0 L330.6 302.5 L336.1 303.5 L341.6 305.6 L346.7 307.3 L350.7 307.5 L353.0 306.8 L355.0 305.8 L357.5 304.3 L360.7 302.6 L364.0 300.7 L367.3 298.5 L370.8 296.7 L374.5 295.2 L378.3 293.2 L381.9 290.2 L385.1 287.4 L387.5 285.7Z M352.0 314.8 L349.1 315.2 L344.8 315.6 L340.1 316.8 L335.6 318.1 L331.9 318.9 L328.4 319.1 L324.1 319.2 L318.1 319.6 L308.7 319.6 L296.9 319.2 L285.7 318.5 L278.0 317.5 L278.0 316.5 L285.7 315.6 L296.9 315.1 L308.7 314.7 L317.9 314.4 L323.7 314.2 L327.6 313.4 L330.8 312.5 L334.4 311.9 L338.8 311.3 L343.3 310.1 L347.2 308.4 L350.0 307.2Z M309.9 305.4 L307.6 306.0 L304.2 306.9 L300.7 308.1 L297.5 309.0 L294.6 309.5 L291.9 309.5 L289.6 309.0 L288.0 308.5 L288.0 307.5 L289.5 306.8 L291.6 306.0 L294.0 305.5 L296.5 305.0 L299.5 304.2 L302.9 303.0 L306.0 301.6 L308.1 300.6Z M331.9 321.0 L329.0 322.5 L324.8 324.5 L319.9 326.2 L315.7 327.6 L312.1 329.1 L308.7 330.5 L305.5 331.2 L303.2 331.5 L302.8 330.5 L304.6 329.1 L307.3 327.4 L310.8 325.9 L314.3 324.4 L318.2 322.3 L322.7 319.8 L327.1 318.1 L330.1 317.0Z M356.1 313.0 L353.2 316.0 L349.7 320.8 L346.3 326.5 L341.8 331.3 L337.6 336.8 L332.5 342.1 L327.9 346.9 L324.4 349.9 L323.6 349.3 L325.9 345.2 L329.8 339.9 L334.0 333.9 L338.2 328.7 L341.3 323.0 L345.3 317.8 L348.3 312.8 L349.9 309.0Z M429.3 305.3 L428.0 305.6 L426.3 306.1 L424.6 306.8 L422.9 307.5 L420.6 308.7 L417.8 310.5 L415.0 313.0 L412.5 315.7 L409.8 317.8 L407.1 319.3 L404.6 320.4 L402.4 321.9 L400.6 324.3 L399.1 327.3 L397.1 330.4 L394.4 333.5 L391.8 336.7 L389.5 340.2 L387.0 343.6 L384.1 347.0 L381.4 351.7 L378.8 357.1 L375.2 361.5 L373.4 364.9 L372.6 364.5 L374.1 360.9 L375.2 355.3 L378.0 349.9 L380.5 345.0 L382.6 340.6 L385.2 337.0 L388.0 333.8 L390.2 330.5 L391.7 327.1 L393.6 323.9 L396.0 320.9 L398.4 318.1 L400.9 315.5 L403.4 313.4 L405.9 311.7 L408.3 310.3 L410.9 308.5 L413.4 306.0 L415.7 303.0 L418.1 300.5 L420.9 298.8 L423.5 297.8 L425.4 297.2 L426.7 296.7Z M399.3 321.6 L396.9 321.3 L393.5 320.8 L389.6 320.4 L385.9 320.2 L382.0 319.9 L378.0 319.2 L374.4 318.3 L372.0 317.1 L372.0 316.3 L374.7 315.6 L378.3 315.5 L382.4 315.5 L386.1 315.8 L389.8 316.0 L393.7 315.8 L397.1 315.5 L399.5 315.4Z M392.0 332.9 L389.9 333.3 L387.0 333.6 L383.7 333.7 L380.5 334.0 L377.2 334.7 L373.7 335.8 L370.4 336.6 L367.9 336.3 L367.5 335.3 L369.4 333.6 L372.6 332.3 L376.2 331.1 L379.5 330.0 L382.7 328.9 L386.1 327.9 L389.0 327.3 L391.0 327.1Z M454.6 320.8 L449.9 323.3 L445.3 328.2 L442.2 334.6 L437.8 339.2 L435.7 343.6 L433.8 347.5 L430.7 350.9 L427.0 354.5 L423.7 359.6 L418.8 364.0 L413.5 368.5 L408.5 373.8 L401.9 377.6 L395.8 382.7 L388.8 386.7 L382.2 390.7 L375.9 394.5 L369.2 397.1 L363.0 400.4 L356.5 403.1 L349.8 405.5 L343.3 408.6 L336.7 410.6 L330.5 412.4 L325.0 414.0 L319.9 414.7 L315.0 414.9 L310.2 415.6 L304.9 416.1 L299.4 416.4 L294.5 416.9 L291.1 417.4 L290.9 416.6 L294.3 416.0 L299.1 415.1 L304.5 413.6 L309.8 412.4 L314.6 411.8 L319.3 410.8 L324.2 409.8 L329.5 408.8 L335.3 406.7 L341.4 403.8 L348.1 401.4 L354.3 398.1 L360.5 395.1 L366.9 392.5 L372.7 388.6 L379.0 385.3 L385.2 381.2 L391.4 376.4 L397.9 372.3 L402.9 367.0 L408.4 363.0 L412.8 358.1 L416.7 353.2 L421.0 349.5 L423.4 345.4 L425.0 341.8 L427.4 338.6 L430.2 334.8 L432.1 328.8 L435.9 322.9 L437.7 316.5 L437.4 311.2Z M332.4 413.3 L328.7 415.4 L323.3 418.1 L317.1 420.9 L311.9 425.2 L305.8 430.2 L299.8 437.2 L293.9 443.3 L289.4 447.3 L288.6 446.7 L291.7 441.5 L296.6 434.4 L302.7 427.3 L308.1 420.8 L314.4 416.7 L320.3 412.5 L325.7 409.7 L329.6 407.9Z M358.8 403.9 L355.8 407.1 L352.4 412.3 L348.6 418.0 L344.8 423.0 L342.1 428.5 L338.6 434.0 L335.8 438.9 L333.5 442.2 L332.5 441.8 L333.6 437.9 L335.7 432.5 L338.0 426.4 L341.2 421.0 L344.0 415.1 L347.8 409.2 L351.4 404.1 L353.2 400.1Z M406.8 376.6 L404.2 378.9 L401.2 382.6 L399.3 387.3 L397.4 391.2 L395.9 394.5 L395.7 398.4 L395.4 402.6 L393.5 406.9 L390.8 410.8 L388.3 414.9 L385.5 418.6 L382.1 421.8 L379.3 424.7 L376.9 427.9 L374.0 431.1 L369.6 434.6 L363.9 440.3 L356.5 446.6 L349.4 452.5 L344.4 456.4 L343.6 455.6 L347.8 450.8 L354.0 444.0 L360.7 436.9 L366.4 431.4 L369.8 427.0 L372.8 424.1 L375.5 421.5 L377.9 418.2 L380.4 414.4 L383.3 411.0 L386.2 407.8 L387.7 404.3 L388.3 400.9 L389.3 397.4 L390.1 393.4 L390.6 388.8 L392.4 384.0 L395.2 379.5 L396.7 374.9 L397.2 371.4Z M394.0 404.7 L394.8 408.1 L395.2 413.1 L397.2 418.7 L398.0 425.1 L400.1 432.7 L401.5 441.7 L403.0 450.0 L403.5 455.9 L402.5 456.1 L400.3 450.6 L397.9 442.5 L395.0 433.9 L393.4 426.3 L391.1 420.2 L390.2 414.4 L388.2 409.8 L387.2 406.5Z M393.8 415.2 L392.8 417.0 L391.1 419.3 L389.0 421.7 L387.3 423.8 L386.0 425.7 L384.8 427.5 L383.5 428.9 L382.4 429.8 L381.6 429.2 L381.8 427.9 L382.4 426.1 L383.5 424.2 L384.7 422.2 L386.0 419.7 L387.4 416.9 L388.9 414.4 L390.2 412.8Z M387.5 385.7 L384.4 386.5 L379.8 387.1 L374.7 387.4 L370.2 388.0 L366.2 388.4 L362.4 388.3 L359.0 387.8 L356.7 387.2 L356.7 386.2 L359.0 385.5 L362.2 384.7 L366.0 384.4 L369.8 384.0 L374.0 383.2 L378.8 381.8 L383.3 380.7 L386.5 380.3Z M432.1 339.1 L430.3 339.9 L427.7 341.0 L424.6 342.0 L421.7 342.7 L419.3 343.5 L416.8 344.7 L414.1 346.1 L410.7 347.5 L406.1 348.3 L400.8 348.6 L395.8 348.9 L392.4 348.9 L392.2 347.9 L395.5 346.8 L400.2 345.5 L405.2 343.8 L409.3 342.5 L412.1 341.6 L414.6 340.4 L416.8 338.9 L419.3 337.3 L422.1 335.7 L425.2 334.3 L427.9 333.5 L429.9 332.9Z M419.7 342.0 L418.3 341.4 L416.3 340.7 L414.2 339.9 L412.3 339.2 L410.7 338.6 L408.9 338.0 L407.4 337.2 L406.3 336.3 L406.5 335.3 L407.7 334.7 L409.5 334.4 L411.6 334.5 L413.7 334.8 L415.8 335.5 L418.0 336.5 L420.0 337.4 L421.3 338.0Z M414.5 350.2 L412.0 351.6 L408.6 354.1 L404.9 357.0 L401.2 359.0 L397.7 360.4 L394.4 361.8 L391.4 363.0 L389.2 363.5 L388.8 362.5 L390.4 361.0 L393.0 359.3 L396.0 357.3 L398.8 355.0 L401.9 352.5 L405.8 350.1 L409.3 347.8 L411.5 345.8Z M462.6 321.2 L458.4 324.1 L455.7 329.8 L451.9 335.7 L449.4 341.2 L448.4 346.1 L446.5 350.6 L445.8 355.5 L445.0 360.7 L443.0 366.0 L442.2 371.7 L440.6 377.5 L438.9 383.6 L437.6 390.1 L435.3 396.7 L433.9 403.6 L431.7 410.4 L430.4 418.0 L428.3 426.0 L426.2 433.1 L425.0 438.1 L424.2 437.9 L424.9 432.8 L425.5 425.4 L426.5 417.2 L428.3 409.6 L429.3 402.5 L431.3 395.7 L432.3 388.8 L434.1 382.4 L435.1 376.3 L436.1 370.4 L437.7 364.9 L438.0 359.3 L439.3 354.2 L440.4 349.3 L440.6 344.1 L442.6 338.8 L444.8 332.6 L446.9 325.7 L449.7 319.9 L449.4 314.8Z M444.5 363.1 L445.2 367.9 L447.0 374.8 L448.5 382.5 L450.6 389.3 L451.4 396.1 L453.0 402.7 L453.6 408.7 L454.0 412.9 L453.0 413.1 L451.5 409.2 L449.3 403.6 L447.8 396.9 L445.4 390.7 L443.9 383.7 L441.3 376.3 L439.4 369.5 L437.5 364.9Z M442.5 368.1 L440.2 370.8 L436.3 374.3 L432.5 378.7 L428.9 382.8 L424.6 386.1 L420.2 389.6 L416.5 392.8 L413.4 394.4 L412.6 393.6 L414.6 390.7 L418.1 387.3 L421.9 383.3 L425.1 379.2 L428.8 375.4 L432.4 371.0 L435.2 366.7 L437.5 363.9Z M435.5 391.8 L433.7 394.1 L430.9 397.2 L427.4 400.3 L424.5 403.3 L422.1 406.2 L419.5 408.9 L416.8 411.0 L414.8 412.3 L414.2 411.7 L415.1 409.5 L416.7 406.6 L419.0 403.5 L421.5 400.7 L424.1 397.4 L426.7 393.5 L429.4 390.3 L431.5 388.2Z M487.2 317.2 L487.2 321.4 L485.1 327.7 L486.3 334.0 L486.1 339.2 L486.3 342.4 L487.5 344.4 L488.7 346.4 L489.6 350.0 L492.2 354.4 L495.4 359.7 L499.0 365.4 L501.8 371.4 L504.8 377.1 L506.7 383.1 L509.3 388.7 L511.2 394.3 L513.8 399.1 L516.6 403.9 L519.0 409.1 L521.2 415.2 L522.0 423.1 L522.2 432.0 L521.5 440.3 L521.4 446.0 L520.6 446.0 L520.1 440.3 L519.1 432.2 L518.3 423.5 L516.8 416.2 L515.0 410.9 L512.2 406.4 L509.2 401.8 L506.4 396.7 L503.4 391.3 L501.2 385.5 L498.2 380.1 L495.8 374.6 L492.2 369.5 L488.8 364.0 L485.1 358.8 L482.4 354.0 L479.7 350.8 L478.7 347.7 L478.3 344.6 L476.9 340.8 L475.1 335.4 L474.8 328.8 L471.6 322.9 L470.8 318.8Z M489.8 351.8 L489.0 355.5 L486.9 360.9 L485.7 366.8 L483.5 371.6 L480.0 374.2 L476.4 375.1 L473.2 375.4 L470.3 375.9 L467.2 376.4 L463.7 376.6 L460.6 375.9 L458.5 375.8 L458.5 375.0 L460.5 374.5 L463.4 373.3 L466.6 372.7 L469.7 372.1 L472.6 371.6 L475.4 371.1 L477.4 370.0 L478.5 368.4 L479.8 364.9 L481.4 359.6 L481.5 354.0 L482.2 350.2Z M482.7 372.0 L480.5 374.2 L477.0 377.1 L472.8 379.9 L469.2 382.6 L466.1 385.0 L462.7 387.1 L459.6 388.5 L457.3 389.4 L456.7 388.6 L458.3 386.7 L460.6 384.2 L463.6 381.7 L466.8 379.4 L470.0 376.6 L473.4 372.9 L476.7 369.9 L479.3 368.0Z M483.4 371.2 L482.0 374.6 L479.3 379.1 L476.4 384.2 L474.2 389.1 L471.3 393.4 L468.5 397.8 L466.3 401.8 L464.1 404.3 L463.1 403.7 L463.9 400.6 L465.9 396.4 L468.0 391.6 L469.8 386.9 L472.5 382.2 L474.8 376.9 L476.8 372.0 L478.6 368.8Z M485.7 363.6 L486.3 366.6 L486.4 370.9 L486.7 375.6 L487.4 379.8 L487.3 383.6 L487.1 387.4 L487.0 390.7 L486.5 393.0 L485.5 393.0 L484.7 390.8 L484.2 387.6 L483.4 383.9 L482.6 380.2 L482.3 376.1 L481.5 371.5 L480.4 367.3 L480.3 364.4Z M511.4 396.5 L510.6 399.0 L510.1 402.7 L509.5 406.8 L508.2 410.5 L506.8 414.1 L505.7 417.8 L504.5 421.1 L503.0 423.1 L502.0 422.9 L501.8 420.3 L502.5 416.9 L503.4 413.2 L503.8 409.5 L504.1 405.7 L505.2 401.7 L506.0 398.1 L506.2 395.5Z M512.9 397.5 L516.3 400.4 L521.3 404.3 L527.2 408.7 L532.4 414.0 L538.5 419.3 L545.1 425.3 L550.8 431.2 L554.3 435.6 L553.7 436.4 L548.8 433.3 L542.4 428.3 L535.6 422.6 L529.6 417.4 L523.4 413.4 L517.8 408.8 L512.7 405.1 L509.1 402.5Z M489.4 319.4 L490.9 322.7 L492.2 327.9 L495.5 332.1 L497.4 336.0 L499.4 338.0 L501.9 339.1 L504.3 340.6 L506.6 342.7 L508.9 344.4 L511.1 345.6 L512.8 347.0 L514.9 348.6 L518.0 349.4 L521.7 350.0 L525.7 351.3 L530.2 351.5 L535.6 352.5 L541.8 352.6 L547.5 354.1 L551.5 354.4 L551.5 355.6 L547.5 355.6 L541.7 356.8 L535.4 356.3 L529.8 356.5 L525.2 355.6 L520.7 355.7 L516.7 354.6 L513.1 353.4 L509.7 352.5 L507.2 350.9 L505.4 348.9 L503.4 347.3 L500.9 346.4 L498.2 345.2 L495.6 342.8 L492.6 340.0 L489.0 336.4 L486.5 331.3 L482.7 327.5 L480.6 324.6Z M515.4 349.0 L517.9 350.5 L521.8 352.2 L525.4 355.0 L529.1 356.6 L532.2 358.0 L535.0 359.7 L538.0 360.9 L541.0 362.1 L543.6 364.2 L546.0 366.2 L547.9 368.3 L549.3 369.6 L548.7 370.4 L547.0 369.5 L544.5 368.4 L541.8 367.0 L539.0 365.9 L536.5 364.6 L533.6 363.5 L530.2 362.8 L526.9 361.4 L523.2 359.2 L518.7 357.7 L515.2 355.3 L512.6 354.0Z M518.1 350.6 L519.5 352.0 L522.1 353.6 L524.6 356.1 L526.8 359.1 L529.6 361.3 L532.5 363.8 L535.0 367.5 L538.7 371.3 L542.3 377.6 L547.0 384.7 L551.2 391.6 L553.4 396.8 L552.6 397.2 L548.7 393.2 L543.9 386.8 L539.1 379.8 L534.3 374.7 L531.4 370.6 L528.1 368.2 L525.5 365.6 L523.2 362.9 L520.2 361.0 L517.5 358.9 L515.6 356.6 L513.9 355.4Z M514.5 349.5 L514.9 352.1 L516.0 355.7 L516.7 359.8 L516.9 363.6 L517.5 366.9 L518.3 370.2 L518.3 373.1 L518.1 375.3 L517.1 375.5 L516.0 373.7 L514.7 371.0 L513.9 367.7 L513.1 364.4 L511.7 360.9 L510.7 356.9 L510.2 353.1 L509.5 350.5Z M424.0 290.0 L424.8 288.7 L426.0 287.5 L427.2 286.2 L428.6 284.9 L429.9 283.5 L431.0 282.0 L431.9 280.4 L432.6 278.6 L433.3 276.8 L434.0 275.0 L434.9 273.3 L436.0 272.0 L437.4 270.9 L438.9 269.9 L440.6 269.0 L442.3 268.4 L444.2 268.0 L446.0 268.0 L447.9 268.5 L449.9 269.6 L451.9 270.9 L453.9 272.3 L456.0 273.4 L458.0 274.0 L460.0 274.0 L462.1 273.6 L464.1 272.9 L466.1 272.1 L468.1 271.4 L470.0 271.0 L471.8 270.8 L473.6 270.6 L475.3 270.6 L477.0 270.6 L478.5 270.7 L480.0 271.0 L481.3 271.5 L482.4 272.3 L483.5 273.2 L484.6 274.0 L485.7 274.7 L487.0 275.0 L488.5 274.8 L490.3 274.2 L492.1 273.4 L493.9 272.6 L495.5 272.1 L497.0 272.0 L498.2 272.5 L499.3 273.3 L500.2 274.3 L501.1 275.5 L502.0 276.8 L503.0 278.0 L504.0 279.2 L505.0 280.5 L506.0 281.9 L507.0 283.3 L508.0 284.6 L509.0 286.0 L510.0 287.4 L511.0 288.7 L512.0 290.1 L513.0 291.5 L514.0 292.8 L515.0 294.0 L516.1 295.1 L517.3 296.1 L518.4 297.1 L519.5 298.0 L520.4 299.0 L521.0 300.0 L521.3 301.1 L521.4 302.4 L521.4 303.6 L521.1 304.9 L520.7 306.0 L520.0 307.0 L519.1 307.8 L517.9 308.6 L516.5 309.2 L515.0 309.8 L513.5 310.4 L512.0 311.0 L510.6 311.6 L509.1 312.3 L507.6 312.9 L506.0 313.5 L504.5 314.2 L503.0 315.0 L501.5 315.9 L500.0 317.0 L498.6 318.1 L497.1 319.1 L495.6 320.2 L494.0 321.0 L492.4 321.7 L490.7 322.4 L488.9 323.0 L487.2 323.5 L485.6 323.8 L484.0 324.0 L482.6 323.9 L481.2 323.7 L479.9 323.2 L478.7 322.8 L477.4 322.3 L476.0 322.0 L474.6 321.8 L473.1 321.5 L471.6 321.3 L470.0 321.1 L468.5 321.0 L467.0 321.0 L465.5 321.1 L464.0 321.3 L462.6 321.5 L461.1 321.7 L459.6 321.9 L458.0 322.0 L456.4 322.0 L454.7 322.0 L452.9 321.9 L451.2 321.7 L449.6 321.4 L448.0 321.0 L446.5 320.4 L445.1 319.7 L443.8 318.9 L442.4 318.0 L441.2 317.0 L440.0 316.0 L438.9 314.9 L437.9 313.8 L436.9 312.6 L435.9 311.3 L435.0 310.1 L434.0 309.0 L433.0 307.9 L432.0 306.9 L430.9 305.9 L429.9 305.0 L428.9 304.0 L428.0 303.0 L427.0 302.0 L426.0 301.0 L425.1 300.1 L424.2 299.1 L423.5 298.1 L423.0 297.0 L422.8 295.9 L422.7 294.8 L422.8 293.6 L423.0 292.4 L423.4 291.2Z" fill="#dfc384" transform="translate(-0.5 -0.6)"/><path d="M445.8 279.7 L443.5 275.3 L439.4 269.6 L434.5 263.3 L429.8 256.9 L424.8 251.1 L420.1 244.6 L414.7 238.4 L409.9 231.9 L404.8 225.9 L400.3 219.5 L395.1 213.3 L390.0 206.4 L383.9 199.1 L378.1 190.8 L371.6 183.0 L365.2 175.9 L358.5 169.9 L351.5 164.7 L344.4 159.5 L337.4 153.7 L329.9 146.3 L322.0 138.1 L315.3 130.3 L310.3 125.2 L310.7 124.8 L315.6 130.0 L323.0 137.1 L331.0 145.2 L338.6 152.3 L345.7 157.9 L352.8 163.0 L359.9 168.2 L366.8 174.1 L373.6 181.3 L379.9 189.3 L386.4 197.2 L392.0 204.8 L397.6 211.3 L402.4 217.8 L407.5 223.7 L412.1 230.1 L417.4 236.2 L422.3 242.8 L427.6 248.9 L432.2 255.1 L437.2 261.2 L442.1 267.5 L446.5 272.9 L450.2 276.3Z M359.6 171.3 L359.0 167.4 L357.5 161.9 L356.3 155.7 L355.1 150.2 L353.7 145.3 L352.5 140.4 L351.4 136.1 L350.8 133.1 L351.2 132.9 L352.4 135.8 L353.9 140.0 L355.6 144.8 L356.9 149.8 L358.5 155.2 L360.1 161.3 L361.2 166.9 L362.4 170.7Z M357.6 171.3 L354.9 170.3 L351.0 169.1 L346.6 168.0 L342.8 167.1 L339.3 166.2 L335.8 165.4 L332.7 164.8 L330.6 164.2 L330.6 163.8 L332.8 163.9 L336.0 164.1 L339.6 164.4 L343.2 164.9 L347.2 165.9 L351.5 167.1 L355.6 168.1 L358.4 168.7Z M380.3 198.2 L378.8 198.6 L376.7 199.2 L373.9 199.6 L370.7 199.3 L367.3 198.1 L363.5 196.3 L359.5 194.5 L355.6 193.0 L351.5 191.4 L347.2 189.8 L343.3 188.3 L340.5 187.2 L340.7 186.8 L343.5 187.5 L347.6 188.5 L352.1 189.7 L356.4 191.0 L360.3 192.6 L364.3 194.4 L368.1 195.8 L371.3 196.7 L373.9 196.8 L376.2 196.5 L378.2 196.1 L379.7 195.8Z M371.3 199.1 L368.6 199.8 L364.8 201.1 L360.4 202.4 L356.1 203.0 L351.8 203.1 L347.3 203.0 L343.4 202.7 L340.6 202.2 L340.6 201.8 L343.4 201.5 L347.4 201.5 L351.8 201.5 L355.9 201.0 L359.8 200.0 L364.1 198.9 L368.0 197.8 L370.7 196.9Z M394.3 213.1 L394.4 209.2 L394.3 203.8 L393.8 197.3 L394.0 190.5 L393.8 182.5 L394.1 173.3 L394.4 164.9 L394.8 159.0 L395.2 159.0 L395.6 164.9 L395.8 173.3 L396.1 182.5 L396.0 190.5 L396.6 197.2 L396.7 203.7 L397.2 209.1 L397.7 212.9Z M393.9 191.0 L393.0 189.1 L391.7 186.2 L390.4 183.0 L389.2 180.3 L388.5 178.1 L387.9 176.0 L387.8 174.3 L387.8 173.1 L388.2 172.9 L388.7 174.1 L389.4 175.7 L390.0 177.6 L390.8 179.7 L392.0 182.3 L393.6 185.2 L395.1 188.0 L396.1 190.0Z M413.1 235.9 L411.0 236.0 L407.9 236.2 L404.2 236.4 L400.6 235.8 L397.2 234.1 L394.0 231.6 L390.9 229.0 L387.5 226.8 L383.6 224.8 L379.4 222.6 L375.6 220.6 L372.9 219.2 L373.1 218.8 L375.9 219.9 L380.0 221.3 L384.5 223.1 L388.5 225.2 L392.0 227.4 L395.3 229.8 L398.6 231.8 L401.4 233.2 L404.5 233.8 L407.7 233.8 L410.7 233.4 L412.9 233.1Z M401.4 235.8 L399.4 236.3 L396.6 236.9 L393.3 237.5 L390.1 238.0 L386.6 238.2 L382.8 238.0 L379.4 237.7 L377.0 237.2 L377.0 236.8 L379.4 236.4 L382.8 236.3 L386.6 236.2 L389.9 236.0 L393.0 235.5 L396.0 234.6 L398.7 233.8 L400.6 233.2Z M434.6 258.2 L434.0 255.0 L433.4 250.3 L432.6 245.0 L431.8 240.2 L431.5 235.4 L431.1 230.5 L430.7 226.1 L430.8 223.0 L431.2 223.0 L432.0 226.0 L432.5 230.3 L433.2 235.2 L434.2 239.8 L434.9 244.7 L435.8 249.9 L436.9 254.5 L437.4 257.8Z M432.3 245.5 L431.4 244.5 L430.2 242.9 L429.0 241.1 L428.2 239.4 L427.8 237.7 L427.7 236.2 L427.7 234.9 L427.8 234.0 L428.2 234.0 L428.5 234.8 L428.8 236.0 L429.2 237.4 L429.8 238.6 L430.7 240.0 L431.9 241.7 L433.0 243.3 L433.7 244.5Z M470.9 276.3 L470.4 272.6 L469.9 267.3 L469.4 261.4 L468.3 256.3 L467.6 251.9 L466.9 247.6 L465.8 243.8 L464.8 240.4 L464.3 238.4 L463.9 237.3 L463.4 235.3 L462.6 231.2 L461.3 223.9 L460.1 214.2 L459.1 204.1 L457.4 195.8 L456.3 189.8 L454.4 185.1 L452.8 180.5 L451.8 175.2 L450.6 169.5 L450.2 163.6 L449.8 157.2 L449.8 150.0 L450.1 141.7 L451.2 132.7 L452.1 123.1 L452.9 112.9 L453.9 101.0 L455.0 87.6 L456.4 75.5 L457.1 67.0 L457.5 67.0 L457.0 75.5 L456.7 87.7 L455.8 101.1 L455.1 113.1 L454.2 123.3 L453.2 132.9 L452.7 141.9 L452.2 150.0 L452.3 157.2 L452.7 163.4 L453.6 169.1 L454.2 174.8 L455.7 179.7 L457.3 184.1 L458.7 189.1 L460.6 195.2 L461.7 203.7 L463.3 213.8 L464.6 223.4 L465.4 230.8 L466.2 234.6 L466.8 236.2 L467.4 237.3 L468.2 239.6 L468.9 243.0 L469.6 247.0 L470.7 251.2 L471.7 255.7 L472.3 261.0 L473.6 266.7 L474.5 272.0 L475.1 275.7Z M449.2 130.3 L448.5 125.5 L446.9 118.8 L445.5 111.5 L444.1 105.2 L442.8 100.0 L441.6 95.0 L440.4 90.8 L439.8 87.8 L440.2 87.6 L441.3 90.5 L442.8 94.6 L444.4 99.5 L445.9 104.8 L447.4 111.1 L449.2 118.3 L450.5 125.1 L451.8 129.7Z M452.6 183.0 L450.7 179.6 L447.7 175.2 L444.1 170.3 L441.1 165.7 L438.1 161.9 L435.0 158.2 L432.1 154.6 L429.3 151.2 L426.3 148.3 L423.3 145.6 L420.4 143.0 L417.6 140.6 L414.4 138.4 L411.0 136.3 L408.0 134.4 L405.9 133.2 L406.1 132.8 L408.3 134.0 L411.5 135.3 L415.0 137.3 L418.4 139.4 L421.6 141.6 L424.7 144.1 L427.7 146.9 L430.7 150.0 L433.9 153.1 L437.0 156.6 L439.9 160.4 L442.9 164.3 L446.5 168.6 L449.8 173.6 L452.9 178.1 L455.4 181.0Z M450.4 167.5 L449.4 165.0 L447.8 161.4 L445.8 157.7 L444.1 154.5 L442.6 151.8 L441.1 149.3 L439.7 147.2 L438.8 145.6 L439.2 145.4 L440.4 146.7 L442.1 148.6 L444.0 150.9 L445.9 153.5 L447.6 156.8 L449.5 160.6 L451.3 164.1 L452.6 166.5Z M457.8 187.6 L459.0 184.7 L460.2 180.3 L461.8 175.7 L463.2 171.8 L464.0 168.4 L464.8 165.1 L465.8 162.5 L466.4 160.6 L466.8 160.6 L466.6 162.6 L466.4 165.5 L465.7 168.8 L464.8 172.2 L463.8 176.4 L462.5 181.1 L461.0 185.3 L460.2 188.4Z M460.7 201.3 L461.9 199.8 L463.6 197.7 L465.4 195.3 L467.2 193.3 L468.8 191.7 L470.4 190.0 L471.8 188.6 L472.8 187.7 L473.2 187.9 L472.5 189.2 L471.4 190.8 L470.1 192.7 L468.8 194.7 L467.3 196.8 L465.4 199.1 L463.6 201.2 L462.5 202.7Z M463.7 252.5 L461.7 247.3 L458.8 239.8 L455.6 231.9 L453.0 225.4 L451.2 221.1 L449.4 217.8 L447.8 215.1 L446.3 212.4 L444.7 209.6 L443.2 207.0 L441.9 204.6 L440.8 203.1 L441.2 202.9 L442.2 204.4 L444.0 206.4 L445.8 208.9 L447.7 211.6 L449.4 214.2 L451.0 216.9 L452.7 220.3 L455.0 224.6 L457.8 230.9 L461.1 238.8 L464.2 246.3 L466.3 251.5Z M460.0 250.7 L458.1 247.5 L454.9 243.2 L451.7 238.5 L449.3 234.5 L447.4 231.7 L445.9 229.4 L444.6 227.5 L443.3 225.5 L441.8 223.4 L440.2 221.3 L438.9 219.4 L437.8 218.1 L438.2 217.9 L439.3 219.1 L441.1 220.5 L442.9 222.5 L444.7 224.5 L446.1 226.4 L447.5 228.4 L448.9 230.7 L450.7 233.5 L453.6 237.2 L456.9 241.9 L459.8 246.4 L462.0 249.3Z M473.2 271.4 L474.1 268.3 L475.8 264.0 L477.6 259.4 L478.5 255.2 L479.2 251.9 L479.7 249.0 L479.8 246.0 L479.9 243.0 L480.1 239.4 L480.6 235.7 L481.1 232.3 L481.3 230.0 L481.7 230.0 L481.8 232.4 L482.1 235.7 L482.2 239.5 L482.1 243.0 L481.9 246.1 L481.9 249.1 L481.9 252.3 L481.5 255.8 L480.2 260.1 L479.1 265.1 L477.9 269.6 L476.8 272.6Z M479.0 255.4 L480.4 252.9 L482.8 249.6 L485.3 245.9 L487.0 242.5 L488.4 239.5 L489.6 236.4 L490.5 233.6 L491.3 231.6 L491.7 231.8 L491.4 233.8 L490.9 236.7 L490.1 240.1 L489.0 243.5 L487.0 246.9 L484.8 250.8 L482.7 254.3 L481.0 256.6Z M492.5 274.9 L494.0 272.6 L496.1 269.1 L497.6 264.9 L499.4 261.3 L501.2 258.3 L502.6 255.5 L503.7 252.7 L505.0 249.6 L505.8 245.7 L505.8 241.2 L506.3 236.5 L506.6 232.0 L506.4 227.6 L506.5 223.2 L506.7 218.9 L506.4 215.0 L506.2 211.9 L506.1 209.2 L506.2 206.2 L506.7 202.4 L507.8 197.6 L510.0 192.4 L511.8 186.8 L513.9 181.6 L515.3 176.8 L516.8 172.3 L518.4 167.7 L519.5 162.7 L521.2 157.3 L522.4 151.4 L523.9 145.5 L525.2 139.8 L526.6 134.0 L528.3 128.0 L529.6 122.7 L530.5 119.0 L530.9 119.0 L530.1 122.8 L529.1 128.1 L528.1 134.3 L526.8 140.2 L525.6 145.9 L524.4 151.8 L523.0 157.7 L521.9 163.3 L520.3 168.3 L519.1 173.0 L517.7 177.6 L516.1 182.4 L514.6 187.7 L512.3 193.2 L510.8 198.5 L509.3 203.0 L508.8 206.3 L509.1 209.0 L509.5 211.7 L509.6 215.0 L509.4 218.9 L509.7 223.1 L509.8 227.6 L509.4 232.0 L509.4 236.6 L509.3 241.4 L508.6 246.1 L508.0 250.4 L507.1 254.0 L505.5 257.0 L503.8 259.7 L502.6 262.7 L501.2 266.5 L499.2 270.4 L498.1 274.3 L497.5 277.1Z M506.5 205.6 L504.9 200.6 L502.0 193.6 L499.5 185.6 L496.8 178.4 L494.8 171.4 L492.5 164.4 L490.9 158.1 L489.8 153.7 L490.2 153.5 L491.9 157.8 L494.2 163.8 L496.5 170.9 L499.2 177.6 L501.7 184.8 L505.0 192.5 L507.4 199.6 L509.5 204.4Z M512.2 197.2 L514.4 195.0 L517.5 191.8 L521.2 188.6 L524.2 185.3 L527.1 182.2 L530.0 179.1 L532.4 176.2 L534.3 174.3 L534.7 174.7 L533.3 176.9 L531.0 179.9 L528.5 183.4 L525.8 186.7 L522.6 189.9 L519.3 193.6 L516.0 196.6 L513.8 198.8Z M504.0 250.8 L505.4 249.3 L507.1 246.9 L508.6 243.9 L510.6 241.1 L512.6 238.5 L514.3 235.7 L516.2 232.5 L518.9 229.2 L521.9 224.9 L525.7 220.2 L529.3 215.2 L532.9 211.1 L535.9 207.9 L538.2 205.3 L541.2 202.8 L545.0 199.0 L550.3 193.6 L556.3 186.7 L563.0 179.7 L569.9 174.0 L576.9 169.6 L583.9 165.6 L591.1 162.3 L598.3 159.7 L605.2 157.3 L612.0 155.5 L618.9 154.1 L625.7 152.1 L633.3 149.6 L641.5 147.0 L648.9 144.6 L653.9 142.8 L654.1 143.2 L649.0 145.1 L641.9 148.0 L633.9 151.3 L626.3 153.9 L619.3 155.7 L612.6 157.6 L605.8 159.2 L598.9 161.5 L592.1 164.6 L585.0 167.8 L578.0 171.4 L571.5 176.0 L565.0 181.9 L558.4 188.6 L552.1 195.3 L547.0 201.0 L543.1 204.8 L540.4 207.6 L537.8 209.8 L535.1 212.9 L531.7 217.2 L527.8 221.8 L524.4 226.7 L521.1 230.8 L518.9 234.4 L516.7 237.3 L514.9 240.0 L513.4 242.9 L511.8 245.8 L509.9 248.6 L508.6 251.2 L508.0 253.2Z M597.2 160.4 L598.5 158.1 L600.0 154.7 L601.4 150.9 L603.0 147.6 L604.3 144.7 L605.3 141.7 L606.3 139.2 L607.2 137.4 L607.6 137.6 L607.4 139.5 L606.8 142.2 L605.8 145.2 L605.0 148.4 L603.9 151.9 L602.2 155.6 L600.8 159.1 L600.0 161.6Z M546.6 196.4 L548.8 192.3 L551.2 186.2 L554.5 179.7 L556.9 173.6 L559.6 168.0 L561.8 162.3 L564.2 157.3 L565.8 153.9 L566.2 154.1 L565.0 157.7 L563.4 162.9 L561.1 168.6 L559.1 174.4 L556.3 180.5 L553.8 187.3 L550.9 193.3 L549.4 197.6Z M502.8 256.1 L504.5 255.4 L506.9 254.2 L509.4 252.4 L512.2 251.0 L515.3 250.0 L518.4 248.7 L521.6 247.3 L524.6 246.7 L527.2 246.2 L529.3 245.8 L531.6 245.4 L534.8 245.1 L539.3 244.5 L544.7 243.4 L550.3 242.7 L555.3 241.7 L559.6 241.4 L563.5 240.8 L567.1 240.5 L570.5 240.1 L573.7 239.1 L576.7 238.2 L579.7 237.3 L582.7 236.2 L586.2 235.1 L590.1 234.4 L593.6 233.5 L595.9 232.8 L596.1 233.2 L593.7 233.9 L590.4 235.1 L586.8 236.7 L583.3 237.8 L580.2 238.8 L577.3 240.1 L574.3 241.1 L570.9 241.9 L567.4 242.7 L563.7 243.2 L559.9 243.5 L555.7 244.3 L550.7 245.0 L545.2 246.2 L539.7 247.0 L535.2 247.9 L532.0 248.5 L529.6 248.5 L527.6 248.7 L525.4 249.3 L522.6 250.4 L519.4 251.3 L516.4 252.5 L513.8 254.0 L511.2 255.5 L508.6 256.9 L506.6 258.5 L505.2 259.9Z M571.2 239.7 L573.1 240.8 L575.9 242.5 L578.7 244.5 L581.4 246.2 L584.2 247.6 L587.0 249.1 L589.4 250.5 L591.1 251.6 L590.9 252.0 L589.0 251.4 L586.3 250.5 L583.3 249.3 L580.6 247.8 L577.7 246.1 L574.6 244.4 L572.0 242.6 L570.2 241.3Z M532.9 244.1 L535.1 241.4 L538.5 237.7 L541.9 233.2 L545.2 229.4 L548.0 225.6 L550.9 221.6 L553.4 218.2 L555.3 215.9 L555.7 216.1 L554.3 218.8 L552.1 222.5 L549.6 226.6 L546.8 230.6 L543.9 234.8 L540.3 239.1 L537.3 243.2 L535.1 245.9Z M529.3 248.0 L531.7 248.6 L535.0 249.7 L538.7 251.0 L542.3 252.0 L545.9 253.3 L549.8 254.6 L553.3 255.6 L555.6 256.8 L555.4 257.2 L552.9 256.9 L549.4 255.9 L545.4 254.9 L541.7 254.0 L538.1 252.8 L534.3 251.8 L531.0 250.8 L528.7 250.0Z M436.7 294.9 L432.3 294.1 L425.9 292.7 L419.0 291.9 L412.9 291.6 L407.9 291.0 L403.4 290.8 L399.0 290.9 L395.0 291.0 L391.2 290.9 L387.8 290.6 L384.3 290.3 L380.6 289.6 L376.5 288.5 L372.4 286.7 L368.5 284.5 L364.3 282.4 L359.9 280.5 L355.5 278.3 L351.2 275.8 L346.6 273.9 L341.7 273.0 L336.6 272.2 L331.1 271.0 L325.0 269.4 L318.4 266.6 L311.7 262.8 L304.5 259.2 L297.5 255.0 L289.9 251.2 L282.2 246.9 L274.5 242.7 L267.2 238.5 L260.0 233.8 L253.0 228.7 L246.9 224.2 L242.5 221.2 L242.7 220.8 L247.1 223.8 L253.5 227.9 L260.9 232.5 L268.2 236.9 L275.5 241.0 L283.2 245.1 L291.1 249.0 L298.5 253.0 L305.9 256.6 L312.9 260.7 L319.8 263.8 L326.0 266.6 L331.7 268.4 L337.1 268.9 L342.3 269.6 L347.4 271.1 L352.4 273.0 L357.2 274.9 L361.5 277.3 L365.7 279.6 L369.9 281.5 L374.1 283.2 L377.9 284.9 L381.4 286.4 L384.8 287.1 L387.9 287.2 L391.3 287.0 L395.0 287.0 L399.1 287.3 L403.4 287.5 L408.0 287.4 L413.1 287.4 L419.3 288.2 L426.3 288.9 L432.8 288.9 L437.3 289.1Z M327.1 269.5 L321.1 270.1 L312.5 270.7 L302.7 271.5 L293.1 272.2 L283.0 272.9 L271.9 273.5 L262.0 274.2 L255.0 274.2 L255.0 273.8 L261.9 272.8 L271.8 271.9 L282.8 270.8 L292.9 269.8 L302.5 268.8 L312.3 267.9 L320.8 267.0 L326.9 266.5Z M302.9 256.1 L300.1 252.7 L296.0 248.2 L291.2 243.3 L287.3 238.6 L283.6 234.5 L279.9 230.5 L276.9 226.8 L274.9 224.1 L275.1 223.9 L277.6 226.1 L281.1 229.4 L284.9 233.4 L288.7 237.4 L293.1 241.6 L297.6 246.6 L302.0 251.0 L305.1 253.9Z M317.9 261.7 L315.4 257.4 L311.5 251.3 L307.7 244.4 L304.0 238.6 L301.3 233.3 L298.5 228.4 L296.2 224.2 L294.8 221.1 L295.2 220.9 L297.2 223.6 L299.7 227.7 L302.7 232.5 L306.0 237.4 L309.4 243.3 L313.8 249.9 L317.4 256.1 L320.1 260.3Z M340.7 271.6 L338.9 267.6 L336.6 261.8 L333.5 255.8 L331.2 250.5 L328.8 246.2 L326.2 242.4 L324.2 239.0 L322.8 236.6 L323.2 236.4 L325.0 238.5 L327.5 241.5 L330.1 245.4 L332.8 249.5 L335.8 254.7 L338.5 260.9 L341.5 266.5 L343.3 270.4Z M399.8 286.8 L398.8 282.1 L396.5 275.7 L393.8 269.1 L390.1 264.0 L385.0 261.0 L378.7 258.5 L371.9 256.6 L365.5 254.1 L359.7 250.2 L353.8 246.1 L349.0 242.0 L345.6 239.2 L345.8 238.8 L349.5 241.3 L354.8 244.7 L360.6 248.7 L366.5 251.9 L372.6 254.4 L379.4 256.3 L386.3 258.3 L391.9 262.0 L396.2 267.7 L399.6 274.5 L401.9 281.0 L404.2 285.2Z M386.1 261.4 L383.7 258.9 L380.4 255.2 L376.7 251.1 L373.3 247.7 L370.2 244.6 L367.2 241.4 L364.6 238.6 L362.9 236.7 L363.1 236.3 L365.2 238.0 L368.2 240.4 L371.5 243.2 L374.7 246.3 L378.1 249.8 L382.0 253.6 L385.6 257.1 L387.9 259.6Z M390.2 264.8 L390.5 262.8 L391.1 259.9 L391.8 256.8 L392.1 254.0 L392.0 251.5 L391.8 248.9 L391.7 246.7 L391.8 245.0 L392.2 245.0 L392.8 246.5 L393.4 248.7 L393.8 251.3 L393.9 254.0 L393.7 257.0 L393.5 260.2 L393.2 263.2 L392.8 265.2Z M391.1 292.0 L388.6 293.3 L384.7 295.1 L380.5 297.1 L376.7 299.3 L373.2 301.3 L369.5 303.1 L365.9 304.6 L362.6 306.1 L360.0 307.9 L357.6 309.8 L354.6 311.5 L350.7 312.0 L345.8 311.1 L340.3 309.6 L334.7 307.8 L329.7 306.1 L325.7 305.3 L322.2 305.0 L318.1 304.5 L312.7 303.1 L304.6 300.3 L294.6 296.9 L285.4 293.2 L278.9 290.8 L279.1 290.2 L285.6 292.4 L295.2 295.2 L305.2 298.6 L313.3 300.9 L318.6 302.1 L322.5 302.8 L326.0 303.2 L330.3 303.9 L335.6 305.1 L341.1 307.1 L346.4 308.8 L350.7 309.2 L353.6 308.6 L356.0 307.3 L358.4 305.7 L361.4 303.9 L364.7 302.2 L368.1 300.2 L371.7 298.4 L375.3 296.7 L379.2 294.7 L383.0 292.0 L386.4 289.6 L388.9 288.0Z M351.5 312.7 L348.6 313.3 L344.4 314.1 L339.7 315.3 L335.3 316.4 L331.6 317.1 L328.2 317.6 L324.0 317.8 L318.0 318.2 L308.7 318.2 L296.9 318.0 L285.7 317.7 L278.0 317.2 L278.0 316.8 L285.7 316.4 L296.9 316.2 L308.7 316.0 L318.0 315.8 L323.8 315.6 L327.8 314.9 L331.1 314.2 L334.7 313.6 L339.2 312.8 L343.7 311.6 L347.7 310.2 L350.5 309.3Z M309.4 304.1 L307.1 304.8 L303.9 305.8 L300.3 307.0 L297.2 307.9 L294.5 308.4 L291.8 308.5 L289.6 308.4 L288.0 308.2 L288.0 307.8 L289.5 307.4 L291.7 307.0 L294.2 306.6 L296.8 306.1 L299.8 305.2 L303.3 304.0 L306.4 302.8 L308.6 301.9Z M331.4 319.9 L328.5 321.3 L324.2 323.2 L319.5 325.1 L315.3 326.7 L311.7 328.2 L308.3 329.6 L305.3 330.6 L303.1 331.2 L302.9 330.8 L304.9 329.7 L307.7 328.2 L311.1 326.8 L314.7 325.3 L318.7 323.4 L323.3 321.1 L327.6 319.3 L330.6 318.1Z M354.4 311.9 L351.8 315.1 L348.5 320.0 L344.9 325.5 L340.8 330.6 L336.6 336.0 L331.8 341.5 L327.4 346.4 L324.2 349.8 L323.8 349.4 L326.5 345.7 L330.6 340.5 L335.0 334.7 L339.2 329.4 L342.6 324.0 L346.5 318.6 L349.6 313.7 L351.6 310.1Z M428.6 302.9 L427.3 303.3 L425.5 303.8 L423.6 304.6 L421.6 305.6 L419.3 307.2 L416.6 309.3 L413.9 311.8 L411.3 314.2 L408.7 316.1 L406.1 317.6 L403.6 319.0 L401.3 320.9 L399.3 323.4 L397.6 326.3 L395.6 329.5 L393.3 332.7 L390.8 335.9 L388.3 339.3 L385.8 342.8 L383.1 346.5 L380.5 351.2 L377.8 356.6 L374.9 361.4 L373.2 364.8 L372.8 364.6 L374.4 361.1 L376.2 355.8 L378.9 350.4 L381.5 345.5 L383.8 341.5 L386.4 337.9 L389.1 334.6 L391.3 331.3 L393.2 328.0 L395.1 324.8 L397.3 321.8 L399.5 319.1 L401.9 316.8 L404.4 315.0 L407.0 313.4 L409.5 311.8 L412.1 309.7 L414.6 307.2 L417.0 304.6 L419.4 302.4 L421.9 301.0 L424.2 300.1 L426.1 299.5 L427.4 299.1Z M399.4 319.9 L397.0 319.7 L393.5 319.4 L389.7 319.2 L385.9 319.0 L382.1 318.7 L378.1 318.2 L374.5 317.5 L372.0 316.9 L372.0 316.5 L374.6 316.4 L378.2 316.5 L382.3 316.7 L386.1 317.0 L389.7 317.2 L393.6 317.2 L397.0 317.1 L399.4 317.1Z M391.7 331.3 L389.7 331.7 L386.7 332.0 L383.4 332.4 L380.2 332.9 L376.9 333.7 L373.4 334.8 L370.1 335.7 L367.8 336.0 L367.6 335.6 L369.7 334.4 L372.9 333.2 L376.5 332.1 L379.8 331.1 L383.0 330.2 L386.3 329.5 L389.2 329.0 L391.3 328.7Z M449.9 318.2 L446.5 321.5 L442.8 326.8 L439.4 333.0 L435.7 338.0 L433.4 342.2 L431.4 345.9 L428.7 349.4 L425.4 353.1 L421.7 357.8 L417.1 362.4 L412.1 367.0 L407.0 371.9 L400.8 376.2 L394.6 381.0 L387.8 385.2 L381.3 389.2 L375.0 392.9 L368.5 395.8 L362.3 399.0 L355.9 401.7 L349.3 404.4 L342.8 407.3 L336.3 409.5 L330.2 411.4 L324.8 412.9 L319.7 413.6 L314.9 414.0 L310.1 414.7 L304.8 415.4 L299.3 416.0 L294.4 416.7 L291.0 417.2 L291.0 416.8 L294.4 416.3 L299.2 415.4 L304.6 414.3 L309.9 413.3 L314.7 412.6 L319.5 411.9 L324.4 411.0 L329.8 409.8 L335.7 407.7 L341.9 405.1 L348.5 402.5 L354.9 399.5 L361.2 396.5 L367.5 393.7 L373.6 390.2 L379.9 386.8 L386.2 382.7 L392.6 378.1 L399.0 373.8 L404.4 368.9 L409.8 364.5 L414.4 359.7 L418.6 354.9 L422.6 350.9 L425.4 346.9 L427.4 343.4 L429.7 340.0 L432.3 336.0 L434.9 330.4 L438.5 324.4 L441.1 318.4 L442.1 313.8Z M331.6 411.8 L327.9 413.9 L322.5 416.5 L316.3 419.7 L310.9 424.0 L305.0 429.4 L298.9 436.4 L293.3 442.8 L289.2 447.1 L288.8 446.9 L292.3 442.0 L297.5 435.2 L303.5 428.1 L309.1 422.0 L315.1 417.9 L321.1 414.1 L326.6 411.3 L330.4 409.4Z M357.3 402.8 L354.6 406.3 L351.1 411.4 L347.4 417.2 L343.8 422.5 L341.0 427.9 L337.8 433.6 L335.2 438.6 L333.2 442.1 L332.8 441.9 L334.2 438.2 L336.5 432.9 L339.1 427.0 L342.2 421.5 L345.3 415.9 L349.1 410.1 L352.6 404.9 L354.7 401.2Z M404.2 375.2 L402.1 377.8 L399.6 381.7 L397.4 386.4 L395.5 390.5 L394.3 394.2 L393.9 398.1 L393.4 402.2 L391.9 406.2 L389.5 410.0 L387.0 413.8 L384.1 417.5 L380.9 420.8 L378.2 423.9 L375.8 426.8 L372.8 430.0 L368.7 433.7 L363.0 439.3 L355.8 445.9 L348.9 452.0 L344.2 456.2 L343.8 455.8 L348.2 451.3 L354.7 444.7 L361.6 437.8 L367.3 432.3 L370.9 428.2 L373.9 425.1 L376.5 422.4 L379.1 419.2 L381.8 415.6 L384.7 412.1 L387.4 408.6 L389.3 405.0 L390.3 401.4 L391.0 397.7 L391.7 393.7 L392.5 389.5 L394.3 384.9 L396.9 380.3 L398.8 376.0 L399.8 372.8Z M392.1 405.2 L392.9 408.6 L393.8 413.5 L395.5 419.1 L396.7 425.4 L398.7 433.0 L400.5 441.9 L402.2 450.2 L403.2 455.9 L402.8 456.1 L401.0 450.5 L398.9 442.3 L396.4 433.5 L394.7 426.0 L392.8 419.8 L391.6 414.0 L390.0 409.4 L389.1 406.0Z M392.8 414.6 L391.7 416.3 L390.1 418.6 L388.2 421.2 L386.6 423.4 L385.3 425.3 L384.2 427.1 L383.1 428.6 L382.2 429.6 L381.8 429.4 L382.3 428.2 L383.1 426.5 L384.2 424.6 L385.4 422.6 L386.8 420.3 L388.4 417.5 L390.0 415.1 L391.2 413.4Z M387.2 384.2 L384.1 384.9 L379.6 385.7 L374.5 386.3 L370.1 386.9 L366.2 387.3 L362.3 387.3 L359.0 387.1 L356.7 386.9 L356.7 386.5 L359.0 386.1 L362.3 385.7 L366.0 385.5 L369.9 385.1 L374.2 384.4 L379.1 383.3 L383.6 382.3 L386.8 381.8Z M431.5 337.4 L429.6 338.1 L427.0 339.2 L423.9 340.3 L421.0 341.2 L418.6 342.2 L416.2 343.5 L413.6 344.9 L410.3 346.1 L405.9 347.0 L400.6 347.7 L395.7 348.3 L392.3 348.6 L392.3 348.2 L395.6 347.3 L400.4 346.3 L405.5 345.0 L409.7 343.9 L412.7 342.8 L415.2 341.6 L417.5 340.2 L420.0 338.8 L422.8 337.4 L425.8 336.2 L428.6 335.2 L430.5 334.6Z M420.1 340.9 L418.8 340.3 L416.8 339.5 L414.6 338.7 L412.7 338.0 L410.9 337.5 L409.1 337.0 L407.5 336.5 L406.4 336.0 L406.4 335.6 L407.6 335.4 L409.4 335.4 L411.3 335.6 L413.3 336.0 L415.4 336.7 L417.6 337.6 L419.5 338.5 L420.9 339.1Z M413.7 349.0 L411.2 350.6 L407.8 353.0 L404.1 355.7 L400.5 357.9 L397.2 359.5 L394.0 361.1 L391.2 362.4 L389.1 363.2 L388.9 362.8 L390.7 361.6 L393.4 360.0 L396.5 358.2 L399.5 356.1 L402.7 353.8 L406.6 351.2 L410.0 348.8 L412.3 347.0Z M459.0 319.4 L456.0 322.9 L453.3 328.7 L449.9 334.8 L447.5 340.5 L446.2 345.5 L444.8 350.2 L444.0 355.1 L443.1 360.3 L441.5 365.7 L440.5 371.4 L439.1 377.2 L437.6 383.3 L436.1 389.7 L434.2 396.4 L432.6 403.3 L430.8 410.2 L429.3 417.8 L427.5 425.8 L425.8 433.0 L424.8 438.0 L424.4 438.0 L425.3 432.9 L426.3 425.6 L427.6 417.4 L429.2 409.8 L430.6 402.8 L432.4 396.0 L433.8 389.2 L435.4 382.7 L436.6 376.6 L437.7 370.8 L439.1 365.2 L439.9 359.7 L441.1 354.6 L442.1 349.7 L442.8 344.6 L444.5 339.5 L446.8 333.4 L449.3 326.8 L452.1 321.1 L453.0 316.6Z M442.6 363.6 L443.6 368.4 L445.4 375.2 L447.2 382.8 L449.2 389.7 L450.4 396.3 L452.0 402.9 L453.0 408.8 L453.7 413.0 L453.3 413.0 L452.1 409.0 L450.4 403.3 L448.8 396.7 L446.8 390.3 L445.1 383.4 L442.9 375.9 L441.0 369.1 L439.4 364.4Z M441.1 367.0 L438.8 369.7 L435.3 373.4 L431.5 377.8 L427.9 381.8 L423.9 385.3 L419.7 389.0 L416.0 392.2 L413.2 394.2 L412.8 393.8 L415.1 391.2 L418.7 387.9 L422.6 384.0 L426.1 380.2 L429.8 376.3 L433.5 371.9 L436.6 367.8 L438.9 365.0Z M434.4 390.8 L432.5 393.1 L429.7 396.2 L426.5 399.5 L423.7 402.6 L421.2 405.5 L418.7 408.3 L416.4 410.6 L414.7 412.1 L414.3 411.9 L415.6 409.9 L417.5 407.2 L419.8 404.3 L422.3 401.4 L425.0 398.2 L427.8 394.6 L430.6 391.3 L432.6 389.2Z M482.7 317.6 L482.9 321.9 L482.3 328.0 L483.2 334.4 L483.6 339.6 L484.1 343.0 L485.1 345.3 L486.3 347.6 L487.6 351.1 L490.3 355.6 L493.5 360.9 L497.1 366.5 L500.1 372.3 L503.0 377.9 L505.2 383.8 L507.7 389.4 L509.9 395.0 L512.6 399.9 L515.4 404.5 L517.9 409.6 L520.0 415.5 L521.0 423.2 L521.3 432.1 L521.1 440.3 L521.2 446.0 L520.8 446.0 L520.5 440.3 L519.9 432.1 L519.3 423.4 L518.0 415.9 L516.1 410.4 L513.4 405.7 L510.5 401.1 L507.7 396.0 L505.0 390.6 L502.7 384.8 L500.0 379.2 L497.5 373.7 L494.1 368.4 L490.6 362.8 L487.1 357.6 L484.4 352.9 L482.2 349.6 L481.1 346.8 L480.5 344.0 L479.4 340.4 L478.2 335.0 L477.7 328.5 L475.9 322.5 L475.3 318.4Z M487.7 351.3 L486.9 355.1 L485.4 360.5 L484.1 366.3 L482.1 370.7 L479.3 373.1 L476.1 374.0 L473.1 374.4 L470.1 374.8 L467.0 375.4 L463.6 375.7 L460.6 375.5 L458.5 375.6 L458.5 375.2 L460.6 374.9 L463.5 374.2 L466.8 373.7 L469.9 373.2 L472.8 372.7 L475.7 372.2 L478.1 371.2 L479.9 369.3 L481.5 365.4 L482.9 360.0 L483.6 354.4 L484.3 350.7Z M481.8 370.9 L479.5 373.0 L476.0 375.9 L472.0 378.9 L468.6 381.7 L465.4 384.1 L462.2 386.3 L459.2 388.0 L457.1 389.2 L456.9 388.8 L458.6 387.2 L461.2 385.0 L464.3 382.7 L467.4 380.3 L470.8 377.5 L474.4 374.1 L477.8 371.1 L480.2 369.1Z M482.1 370.5 L480.5 373.9 L478.0 378.5 L475.3 383.7 L473.0 388.5 L470.4 392.9 L467.8 397.4 L465.6 401.5 L463.8 404.1 L463.4 403.9 L464.6 400.9 L466.6 396.8 L468.9 392.1 L471.0 387.5 L473.5 382.8 L476.0 377.5 L478.2 372.7 L479.9 369.5Z M484.2 363.8 L484.7 366.8 L485.1 371.0 L485.5 375.7 L486.1 379.9 L486.2 383.7 L486.3 387.5 L486.3 390.7 L486.2 393.0 L485.8 393.0 L485.3 390.8 L485.0 387.5 L484.5 383.8 L483.9 380.1 L483.5 376.0 L482.8 371.3 L482.1 367.1 L481.8 364.2Z M510.0 396.2 L509.4 398.7 L508.7 402.4 L508.0 406.5 L507.0 410.2 L505.9 413.8 L504.8 417.6 L503.8 420.9 L502.7 423.1 L502.3 422.9 L502.5 420.5 L503.4 417.2 L504.3 413.4 L505.0 409.8 L505.6 406.0 L506.5 402.0 L507.3 398.3 L507.6 395.8Z M511.9 398.9 L515.3 401.7 L520.3 405.6 L526.2 410.0 L531.7 414.9 L537.7 420.2 L544.4 426.2 L550.2 431.8 L554.1 435.8 L553.9 436.2 L549.4 432.7 L543.1 427.5 L536.4 421.7 L530.3 416.5 L524.5 412.1 L518.8 407.6 L513.7 403.8 L510.1 401.1Z M487.0 320.9 L488.6 324.0 L490.7 328.8 L493.7 333.3 L496.1 337.1 L498.4 339.3 L500.9 340.8 L503.3 342.2 L505.7 344.0 L508.0 345.6 L510.0 347.1 L512.0 348.5 L514.4 349.9 L517.7 350.8 L521.5 351.5 L525.6 352.5 L530.1 352.9 L535.5 353.6 L541.8 353.8 L547.5 354.5 L551.5 354.7 L551.5 355.3 L547.5 355.2 L541.7 355.6 L535.4 355.3 L529.9 355.1 L525.3 354.4 L521.0 354.1 L517.1 353.2 L513.6 352.1 L510.6 351.0 L508.2 349.4 L506.4 347.7 L504.3 346.0 L501.8 344.8 L499.2 343.5 L496.7 341.5 L493.9 338.9 L490.8 335.2 L488.1 330.3 L485.0 326.2 L483.0 323.1Z M514.6 350.4 L517.2 351.8 L520.9 353.7 L524.8 356.2 L528.5 357.9 L531.7 359.3 L534.6 360.8 L537.6 361.9 L540.4 363.2 L543.1 364.9 L545.6 366.8 L547.6 368.6 L549.1 369.8 L548.9 370.2 L547.3 369.2 L544.9 367.8 L542.3 366.2 L539.6 364.8 L536.9 363.6 L534.0 362.4 L530.8 361.5 L527.5 360.1 L523.8 358.1 L519.6 356.2 L516.0 354.0 L513.4 352.6Z M516.9 351.9 L518.5 353.3 L520.8 355.1 L523.4 357.4 L525.8 360.1 L528.5 362.5 L531.3 365.0 L534.0 368.3 L537.5 372.2 L541.4 378.2 L546.2 385.3 L550.5 392.0 L553.2 396.9 L552.8 397.1 L549.4 392.8 L544.8 386.2 L539.9 379.2 L535.5 373.8 L532.4 369.8 L529.3 367.0 L526.7 364.4 L524.2 361.9 L521.4 359.6 L518.8 357.4 L516.7 355.4 L515.1 354.1Z M513.1 349.8 L513.6 352.4 L514.5 356.0 L515.4 360.1 L515.9 363.8 L516.5 367.1 L517.3 370.4 L517.7 373.3 L517.8 375.4 L517.4 375.4 L516.6 373.5 L515.7 370.8 L514.9 367.5 L514.1 364.2 L513.1 360.6 L512.1 356.5 L511.5 352.8 L510.9 350.2Z" fill="#e7dfd0"/><g fill="#6b5a3a" opacity="0.7"><circle cx="448.5" cy="276.7" r="0.38"/><circle cx="445.6" cy="276.6" r="0.38"/><circle cx="444.5" cy="274.2" r="0.38"/><circle cx="444.2" cy="274.0" r="0.72"/><circle cx="440.4" cy="266.6" r="0.78"/><circle cx="437.3" cy="265.4" r="0.79"/><circle cx="442.6" cy="266.7" r="0.48"/><circle cx="434.2" cy="262.3" r="0.72"/><circle cx="435.4" cy="260.7" r="0.64"/><circle cx="426.1" cy="254.5" r="0.38"/><circle cx="431.0" cy="254.0" r="0.54"/><circle cx="423.0" cy="246.5" r="0.48"/><circle cx="423.2" cy="244.2" r="0.46"/><circle cx="420.3" cy="238.9" r="0.68"/><circle cx="422.1" cy="240.0" r="0.40"/><circle cx="410.6" cy="233.9" r="0.57"/><circle cx="416.7" cy="236.5" r="0.69"/><circle cx="405.9" cy="226.2" r="0.66"/><circle cx="408.5" cy="227.0" r="0.56"/><circle cx="401.5" cy="219.1" r="0.65"/><circle cx="398.4" cy="213.7" r="0.80"/><circle cx="396.3" cy="214.2" r="0.52"/><circle cx="396.1" cy="212.3" r="0.43"/><circle cx="391.7" cy="204.4" r="0.41"/><circle cx="389.1" cy="204.1" r="0.74"/><circle cx="382.6" cy="194.4" r="0.75"/><circle cx="381.4" cy="190.5" r="0.48"/><circle cx="378.0" cy="186.2" r="0.78"/><circle cx="376.9" cy="189.8" r="0.45"/><circle cx="369.7" cy="178.4" r="0.47"/><circle cx="372.3" cy="182.4" r="0.52"/><circle cx="360.0" cy="168.8" r="0.58"/><circle cx="353.5" cy="166.8" r="0.75"/><circle cx="346.5" cy="158.5" r="0.53"/><circle cx="344.6" cy="157.8" r="0.38"/><circle cx="335.7" cy="152.2" r="0.50"/><circle cx="336.6" cy="153.7" r="0.42"/><circle cx="326.7" cy="143.7" r="0.74"/><circle cx="324.9" cy="141.4" r="0.46"/><circle cx="319.3" cy="135.5" r="0.73"/><circle cx="469.8" cy="274.6" r="0.40"/><circle cx="474.5" cy="270.6" r="0.42"/><circle cx="475.6" cy="271.7" r="0.59"/><circle cx="468.1" cy="264.3" r="0.59"/><circle cx="473.3" cy="260.9" r="0.66"/><circle cx="468.4" cy="259.6" r="0.70"/><circle cx="472.2" cy="258.1" r="0.50"/><circle cx="472.4" cy="251.8" r="0.73"/><circle cx="469.9" cy="247.8" r="0.45"/><circle cx="465.1" cy="246.6" r="0.36"/><circle cx="468.2" cy="242.3" r="0.78"/><circle cx="468.6" cy="237.2" r="0.78"/><circle cx="463.6" cy="236.8" r="0.44"/><circle cx="465.9" cy="231.0" r="0.57"/><circle cx="461.0" cy="225.4" r="0.65"/><circle cx="463.2" cy="215.9" r="0.57"/><circle cx="459.9" cy="206.2" r="0.71"/><circle cx="459.9" cy="204.3" r="0.53"/><circle cx="457.9" cy="198.1" r="0.41"/><circle cx="459.0" cy="189.7" r="0.42"/><circle cx="454.0" cy="178.3" r="0.41"/><circle cx="452.7" cy="169.4" r="0.59"/><circle cx="452.2" cy="157.9" r="0.44"/><circle cx="450.2" cy="155.1" r="0.61"/><circle cx="450.0" cy="146.5" r="0.76"/><circle cx="452.0" cy="137.7" r="0.76"/><circle cx="453.0" cy="124.0" r="0.59"/><circle cx="453.0" cy="123.0" r="0.43"/><circle cx="453.9" cy="103.4" r="0.56"/><circle cx="454.8" cy="104.3" r="0.50"/><circle cx="456.1" cy="93.7" r="0.40"/><circle cx="455.6" cy="84.6" r="0.70"/><circle cx="457.6" cy="70.8" r="0.76"/><circle cx="475.6" cy="270.1" r="0.58"/><circle cx="476.8" cy="267.0" r="0.57"/><circle cx="481.8" cy="256.5" r="0.47"/><circle cx="480.7" cy="245.7" r="0.38"/><circle cx="481.5" cy="242.8" r="0.70"/><circle cx="481.8" cy="233.3" r="0.41"/><circle cx="496.9" cy="269.6" r="0.57"/><circle cx="496.8" cy="265.4" r="0.54"/><circle cx="497.9" cy="263.6" r="0.49"/><circle cx="501.4" cy="262.1" r="0.55"/><circle cx="503.8" cy="258.5" r="0.58"/><circle cx="507.1" cy="254.3" r="0.79"/><circle cx="502.8" cy="251.6" r="0.70"/><circle cx="506.1" cy="249.4" r="0.76"/><circle cx="505.1" cy="244.5" r="0.76"/><circle cx="505.3" cy="237.9" r="0.38"/><circle cx="505.4" cy="234.5" r="0.77"/><circle cx="505.7" cy="228.4" r="0.74"/><circle cx="507.8" cy="223.8" r="0.50"/><circle cx="506.8" cy="219.2" r="0.41"/><circle cx="506.0" cy="218.0" r="0.42"/><circle cx="507.0" cy="214.4" r="0.49"/><circle cx="506.0" cy="207.7" r="0.51"/><circle cx="505.4" cy="205.1" r="0.68"/><circle cx="508.1" cy="201.8" r="0.77"/><circle cx="510.5" cy="193.6" r="0.57"/><circle cx="512.0" cy="190.6" r="0.66"/><circle cx="517.0" cy="178.3" r="0.64"/><circle cx="515.5" cy="175.1" r="0.41"/><circle cx="518.2" cy="169.0" r="0.42"/><circle cx="521.7" cy="164.1" r="0.65"/><circle cx="520.4" cy="161.5" r="0.56"/><circle cx="522.0" cy="154.7" r="0.78"/><circle cx="526.2" cy="144.6" r="0.49"/><circle cx="525.7" cy="139.9" r="0.56"/><circle cx="527.6" cy="132.9" r="0.35"/><circle cx="528.6" cy="127.5" r="0.37"/><circle cx="529.6" cy="121.5" r="0.61"/><circle cx="511.6" cy="246.8" r="0.53"/><circle cx="510.3" cy="241.0" r="0.68"/><circle cx="516.9" cy="238.1" r="0.63"/><circle cx="521.7" cy="227.8" r="0.73"/><circle cx="526.4" cy="222.1" r="0.75"/><circle cx="528.4" cy="216.9" r="0.36"/><circle cx="530.4" cy="213.6" r="0.73"/><circle cx="536.2" cy="210.4" r="0.66"/><circle cx="537.7" cy="209.8" r="0.69"/><circle cx="541.3" cy="205.5" r="0.38"/><circle cx="541.9" cy="201.6" r="0.47"/><circle cx="547.7" cy="199.5" r="0.79"/><circle cx="553.5" cy="191.8" r="0.66"/><circle cx="561.8" cy="183.8" r="0.38"/><circle cx="566.3" cy="180.0" r="0.49"/><circle cx="570.0" cy="173.7" r="0.47"/><circle cx="582.6" cy="168.4" r="0.48"/><circle cx="587.7" cy="165.1" r="0.40"/><circle cx="605.7" cy="159.5" r="0.36"/><circle cx="611.4" cy="158.1" r="0.55"/><circle cx="614.0" cy="157.3" r="0.44"/><circle cx="620.1" cy="154.7" r="0.78"/><circle cx="632.3" cy="150.9" r="0.75"/><circle cx="648.2" cy="145.1" r="0.36"/><circle cx="651.4" cy="143.9" r="0.49"/><circle cx="504.0" cy="256.8" r="0.73"/><circle cx="508.2" cy="257.4" r="0.40"/><circle cx="516.8" cy="250.3" r="0.80"/><circle cx="523.0" cy="247.5" r="0.37"/><circle cx="526.8" cy="246.6" r="0.77"/><circle cx="528.0" cy="247.4" r="0.44"/><circle cx="550.3" cy="245.4" r="0.60"/><circle cx="558.6" cy="242.4" r="0.69"/><circle cx="563.9" cy="243.3" r="0.41"/><circle cx="576.6" cy="240.6" r="0.47"/><circle cx="590.7" cy="234.0" r="0.76"/><circle cx="433.4" cy="287.2" r="0.55"/><circle cx="436.1" cy="294.6" r="0.39"/><circle cx="431.7" cy="293.7" r="0.47"/><circle cx="429.3" cy="287.8" r="0.69"/><circle cx="423.3" cy="290.3" r="0.52"/><circle cx="423.4" cy="294.2" r="0.47"/><circle cx="418.4" cy="289.9" r="0.63"/><circle cx="411.8" cy="291.3" r="0.46"/><circle cx="406.0" cy="285.6" r="0.73"/><circle cx="403.2" cy="292.7" r="0.67"/><circle cx="397.2" cy="288.4" r="0.35"/><circle cx="391.6" cy="286.6" r="0.73"/><circle cx="387.4" cy="291.3" r="0.59"/><circle cx="381.5" cy="286.6" r="0.64"/><circle cx="379.4" cy="287.1" r="0.37"/><circle cx="377.3" cy="283.9" r="0.64"/><circle cx="372.1" cy="286.1" r="0.64"/><circle cx="367.6" cy="285.1" r="0.59"/><circle cx="362.6" cy="281.6" r="0.62"/><circle cx="359.3" cy="278.4" r="0.78"/><circle cx="358.9" cy="275.5" r="0.56"/><circle cx="356.3" cy="273.8" r="0.67"/><circle cx="351.7" cy="274.3" r="0.65"/><circle cx="345.9" cy="271.4" r="0.77"/><circle cx="341.7" cy="272.1" r="0.54"/><circle cx="336.0" cy="269.1" r="0.68"/><circle cx="330.7" cy="267.4" r="0.49"/><circle cx="323.6" cy="268.4" r="0.69"/><circle cx="312.6" cy="261.9" r="0.43"/><circle cx="309.6" cy="259.6" r="0.78"/><circle cx="301.9" cy="257.3" r="0.79"/><circle cx="296.9" cy="255.1" r="0.53"/><circle cx="284.0" cy="245.8" r="0.80"/><circle cx="279.7" cy="245.5" r="0.77"/><circle cx="275.0" cy="241.3" r="0.52"/><circle cx="264.8" cy="236.9" r="0.35"/><circle cx="258.6" cy="230.5" r="0.41"/><circle cx="245.8" cy="222.4" r="0.72"/><circle cx="401.8" cy="285.8" r="0.52"/><circle cx="399.3" cy="280.6" r="0.75"/><circle cx="398.2" cy="271.7" r="0.70"/><circle cx="395.9" cy="275.8" r="0.38"/><circle cx="394.9" cy="266.3" r="0.75"/><circle cx="390.6" cy="260.4" r="0.63"/><circle cx="380.7" cy="258.8" r="0.47"/><circle cx="374.3" cy="254.5" r="0.64"/><circle cx="364.6" cy="252.2" r="0.78"/><circle cx="352.9" cy="244.6" r="0.57"/><circle cx="387.3" cy="290.0" r="0.72"/><circle cx="385.8" cy="293.5" r="0.49"/><circle cx="381.8" cy="297.3" r="0.44"/><circle cx="379.9" cy="298.3" r="0.37"/><circle cx="373.8" cy="296.5" r="0.75"/><circle cx="369.3" cy="303.4" r="0.57"/><circle cx="361.5" cy="305.7" r="0.63"/><circle cx="341.4" cy="309.3" r="0.61"/><circle cx="336.3" cy="307.9" r="0.46"/><circle cx="334.7" cy="305.1" r="0.61"/><circle cx="328.6" cy="303.2" r="0.58"/><circle cx="323.1" cy="303.5" r="0.80"/><circle cx="320.6" cy="302.7" r="0.73"/><circle cx="310.3" cy="302.1" r="0.44"/><circle cx="286.1" cy="293.3" r="0.74"/><circle cx="284.0" cy="291.7" r="0.78"/><circle cx="427.0" cy="300.6" r="0.45"/><circle cx="426.9" cy="303.1" r="0.46"/><circle cx="421.0" cy="304.7" r="0.66"/><circle cx="418.4" cy="307.7" r="0.71"/><circle cx="416.8" cy="309.8" r="0.53"/><circle cx="412.6" cy="313.6" r="0.42"/><circle cx="407.6" cy="315.9" r="0.78"/><circle cx="404.2" cy="317.7" r="0.54"/><circle cx="397.2" cy="322.7" r="0.44"/><circle cx="394.8" cy="328.6" r="0.72"/><circle cx="392.7" cy="331.7" r="0.42"/><circle cx="390.6" cy="333.5" r="0.76"/><circle cx="388.6" cy="337.6" r="0.58"/><circle cx="386.6" cy="339.5" r="0.77"/><circle cx="382.9" cy="343.6" r="0.79"/><circle cx="381.0" cy="346.1" r="0.79"/><circle cx="378.7" cy="350.6" r="0.52"/><circle cx="442.5" cy="314.9" r="0.45"/><circle cx="441.3" cy="315.4" r="0.72"/><circle cx="444.2" cy="321.7" r="0.58"/><circle cx="446.6" cy="324.3" r="0.46"/><circle cx="437.2" cy="321.6" r="0.37"/><circle cx="442.8" cy="332.9" r="0.73"/><circle cx="439.2" cy="325.7" r="0.60"/><circle cx="440.5" cy="330.5" r="0.54"/><circle cx="434.2" cy="333.0" r="0.55"/><circle cx="440.5" cy="336.8" r="0.63"/><circle cx="438.2" cy="335.8" r="0.69"/><circle cx="436.0" cy="340.7" r="0.56"/><circle cx="437.3" cy="339.6" r="0.54"/><circle cx="430.5" cy="342.6" r="0.37"/><circle cx="434.1" cy="345.7" r="0.68"/><circle cx="432.1" cy="349.1" r="0.58"/><circle cx="427.1" cy="354.1" r="0.74"/><circle cx="422.1" cy="350.5" r="0.72"/><circle cx="420.3" cy="356.4" r="0.78"/><circle cx="423.0" cy="358.2" r="0.70"/><circle cx="420.9" cy="357.7" r="0.69"/><circle cx="416.7" cy="354.5" r="0.47"/><circle cx="415.1" cy="361.7" r="0.76"/><circle cx="416.3" cy="363.6" r="0.58"/><circle cx="412.6" cy="368.1" r="0.42"/><circle cx="405.0" cy="368.9" r="0.75"/><circle cx="408.4" cy="364.6" r="0.40"/><circle cx="402.8" cy="374.3" r="0.74"/><circle cx="402.1" cy="372.4" r="0.75"/><circle cx="393.0" cy="378.7" r="0.53"/><circle cx="396.0" cy="380.2" r="0.80"/><circle cx="396.9" cy="378.6" r="0.69"/><circle cx="391.3" cy="378.7" r="0.37"/><circle cx="389.3" cy="384.8" r="0.64"/><circle cx="382.6" cy="385.3" r="0.49"/><circle cx="388.9" cy="387.0" r="0.42"/><circle cx="377.8" cy="389.5" r="0.75"/><circle cx="380.8" cy="390.2" r="0.64"/><circle cx="374.8" cy="392.5" r="0.40"/><circle cx="372.9" cy="394.4" r="0.61"/><circle cx="366.4" cy="394.6" r="0.56"/><circle cx="365.9" cy="392.6" r="0.46"/><circle cx="360.8" cy="397.2" r="0.74"/><circle cx="357.0" cy="400.5" r="0.47"/><circle cx="351.1" cy="402.1" r="0.51"/><circle cx="351.4" cy="402.7" r="0.77"/><circle cx="346.4" cy="402.0" r="0.37"/><circle cx="340.3" cy="408.5" r="0.38"/><circle cx="335.8" cy="408.4" r="0.77"/><circle cx="328.8" cy="410.4" r="0.58"/><circle cx="320.8" cy="414.0" r="0.49"/><circle cx="319.2" cy="411.2" r="0.70"/><circle cx="305.4" cy="413.9" r="0.56"/><circle cx="298.3" cy="416.9" r="0.45"/><circle cx="293.2" cy="416.1" r="0.66"/><circle cx="399.6" cy="377.8" r="0.55"/><circle cx="398.1" cy="384.0" r="0.64"/><circle cx="395.5" cy="394.1" r="0.47"/><circle cx="390.4" cy="396.6" r="0.69"/><circle cx="392.7" cy="401.5" r="0.46"/><circle cx="388.5" cy="407.8" r="0.79"/><circle cx="385.6" cy="411.9" r="0.74"/><circle cx="383.5" cy="415.4" r="0.49"/><circle cx="382.3" cy="419.7" r="0.76"/><circle cx="381.0" cy="421.0" r="0.77"/><circle cx="378.2" cy="424.5" r="0.37"/><circle cx="364.6" cy="437.9" r="0.62"/><circle cx="356.0" cy="443.5" r="0.75"/><circle cx="348.8" cy="450.1" r="0.77"/><circle cx="348.2" cy="453.1" r="0.37"/><circle cx="453.2" cy="320.7" r="0.72"/><circle cx="456.7" cy="325.3" r="0.39"/><circle cx="454.5" cy="327.6" r="0.49"/><circle cx="453.2" cy="328.8" r="0.48"/><circle cx="450.3" cy="332.8" r="0.49"/><circle cx="444.3" cy="335.9" r="0.63"/><circle cx="449.0" cy="334.6" r="0.55"/><circle cx="443.8" cy="341.3" r="0.59"/><circle cx="446.8" cy="350.0" r="0.72"/><circle cx="448.2" cy="346.7" r="0.44"/><circle cx="446.2" cy="355.4" r="0.57"/><circle cx="443.9" cy="359.4" r="0.57"/><circle cx="442.1" cy="364.9" r="0.77"/><circle cx="443.1" cy="362.0" r="0.66"/><circle cx="439.3" cy="365.9" r="0.39"/><circle cx="436.6" cy="374.8" r="0.63"/><circle cx="437.9" cy="379.5" r="0.75"/><circle cx="437.5" cy="389.3" r="0.44"/><circle cx="434.1" cy="384.2" r="0.58"/><circle cx="434.7" cy="395.7" r="0.56"/><circle cx="430.9" cy="401.1" r="0.64"/><circle cx="432.4" cy="405.7" r="0.73"/><circle cx="430.0" cy="415.9" r="0.55"/><circle cx="428.7" cy="422.5" r="0.56"/><circle cx="425.8" cy="434.0" r="0.67"/><circle cx="483.4" cy="318.2" r="0.46"/><circle cx="478.9" cy="319.4" r="0.42"/><circle cx="473.8" cy="323.9" r="0.68"/><circle cx="473.9" cy="323.3" r="0.40"/><circle cx="473.8" cy="325.1" r="0.71"/><circle cx="483.8" cy="330.7" r="0.64"/><circle cx="483.5" cy="328.6" r="0.52"/><circle cx="481.2" cy="328.3" r="0.71"/><circle cx="479.6" cy="337.6" r="0.56"/><circle cx="479.6" cy="335.6" r="0.53"/><circle cx="483.0" cy="343.0" r="0.61"/><circle cx="485.3" cy="343.7" r="0.67"/><circle cx="482.2" cy="348.8" r="0.73"/><circle cx="485.8" cy="350.6" r="0.49"/><circle cx="486.9" cy="352.1" r="0.70"/><circle cx="486.9" cy="355.9" r="0.46"/><circle cx="489.3" cy="359.5" r="0.53"/><circle cx="487.8" cy="362.1" r="0.43"/><circle cx="495.6" cy="365.7" r="0.57"/><circle cx="498.7" cy="365.3" r="0.59"/><circle cx="495.1" cy="373.5" r="0.58"/><circle cx="495.4" cy="368.3" r="0.59"/><circle cx="499.3" cy="376.3" r="0.72"/><circle cx="499.7" cy="382.2" r="0.44"/><circle cx="503.9" cy="382.2" r="0.69"/><circle cx="507.2" cy="389.6" r="0.38"/><circle cx="505.2" cy="385.6" r="0.36"/><circle cx="506.3" cy="392.8" r="0.51"/><circle cx="508.2" cy="397.3" r="0.77"/><circle cx="510.8" cy="402.3" r="0.53"/><circle cx="513.6" cy="406.4" r="0.71"/><circle cx="517.7" cy="412.8" r="0.45"/><circle cx="518.9" cy="418.5" r="0.72"/><circle cx="521.1" cy="427.4" r="0.60"/><circle cx="521.2" cy="438.9" r="0.73"/><circle cx="521.5" cy="442.4" r="0.54"/><circle cx="483.9" cy="322.7" r="0.48"/><circle cx="487.7" cy="326.4" r="0.54"/><circle cx="491.9" cy="332.3" r="0.77"/><circle cx="491.0" cy="335.5" r="0.76"/><circle cx="499.3" cy="342.4" r="0.36"/><circle cx="502.1" cy="344.1" r="0.46"/><circle cx="503.5" cy="342.7" r="0.70"/><circle cx="504.3" cy="346.6" r="0.71"/><circle cx="508.6" cy="348.4" r="0.70"/><circle cx="524.1" cy="353.4" r="0.68"/><circle cx="529.4" cy="354.1" r="0.47"/><circle cx="530.8" cy="354.0" r="0.38"/><circle cx="536.4" cy="354.4" r="0.57"/></g></g>
<path d="M426.4 290.4 L427.2 289.2 L428.2 288.0 L429.5 286.7 L430.7 285.5 L432.0 284.1 L433.0 282.8 L433.9 281.2 L434.6 279.5 L435.2 277.8 L435.9 276.1 L436.7 274.5 L437.8 273.2 L439.1 272.2 L440.5 271.2 L442.1 270.4 L443.8 269.8 L445.5 269.5 L447.3 269.4 L449.1 269.9 L450.9 271.0 L452.9 272.2 L454.8 273.5 L456.8 274.6 L458.7 275.1 L460.6 275.1 L462.6 274.7 L464.5 274.1 L466.4 273.4 L468.3 272.7 L470.1 272.3 L471.8 272.1 L473.5 271.9 L475.1 271.9 L476.7 271.9 L478.2 272.0 L479.6 272.3 L480.8 272.8 L481.9 273.5 L482.9 274.4 L483.9 275.2 L485.0 275.8 L486.2 276.1 L487.7 275.9 L489.3 275.3 L491.0 274.6 L492.7 273.8 L494.3 273.3 L495.7 273.2 L496.9 273.7 L497.9 274.4 L498.8 275.4 L499.7 276.6 L500.5 277.8 L501.4 278.9 L502.4 280.1 L503.3 281.3 L504.3 282.6 L505.2 283.9 L506.2 285.3 L507.1 286.6 L508.1 287.8 L509.0 289.2 L510.0 290.5 L510.9 291.8 L511.9 293.0 L512.8 294.1 L513.9 295.2 L515.0 296.2 L516.1 297.1 L517.1 298.0 L518.0 298.9 L518.5 299.9 L518.8 300.9 L519.0 302.1 L518.9 303.3 L518.6 304.5 L518.2 305.5 L517.6 306.5 L516.7 307.3 L515.6 308.0 L514.3 308.6 L512.8 309.1 L511.4 309.7 L510.0 310.3 L508.6 310.9 L507.2 311.5 L505.8 312.1 L504.3 312.7 L502.9 313.4 L501.4 314.1 L500.0 315.0 L498.6 316.0 L497.2 317.0 L495.8 318.0 L494.4 319.0 L492.9 319.8 L491.3 320.5 L489.7 321.1 L488.1 321.7 L486.4 322.2 L484.9 322.5 L483.4 322.6 L482.0 322.6 L480.7 322.3 L479.5 321.9 L478.3 321.5 L477.1 321.1 L475.8 320.8 L474.4 320.5 L473.0 320.3 L471.6 320.1 L470.1 319.9 L468.7 319.8 L467.2 319.8 L465.8 319.9 L464.4 320.0 L463.0 320.3 L461.6 320.5 L460.2 320.7 L458.7 320.8 L457.1 320.7 L455.5 320.7 L453.9 320.6 L452.2 320.5 L450.7 320.2 L449.2 319.8 L447.8 319.3 L446.4 318.6 L445.1 317.8 L443.9 316.9 L442.7 316.0 L441.6 315.1 L440.5 314.0 L439.5 312.9 L438.6 311.8 L437.7 310.6 L436.8 309.5 L435.9 308.4 L434.9 307.4 L433.9 306.4 L433.0 305.5 L432.0 304.6 L431.1 303.6 L430.2 302.7 L429.3 301.8 L428.3 300.8 L427.4 299.9 L426.6 299.0 L425.9 298.0 L425.4 297.0 L425.2 296.0 L425.1 294.9 L425.2 293.8 L425.4 292.7 L425.8 291.5Z" fill="#e7dfd0"/>
<g fill="#5d5240" opacity="0.65"><circle cx="487.2" cy="313.8" r="0.52"/><circle cx="433.0" cy="303.2" r="0.64"/><circle cx="488.8" cy="318.5" r="0.50"/><circle cx="470.6" cy="316.8" r="0.37"/><circle cx="492.1" cy="302.6" r="0.50"/><circle cx="505.3" cy="289.1" r="0.56"/><circle cx="474.4" cy="310.2" r="0.44"/><circle cx="477.0" cy="313.1" r="0.48"/><circle cx="502.1" cy="291.1" r="0.58"/><circle cx="515.7" cy="304.1" r="0.71"/><circle cx="484.4" cy="310.9" r="0.37"/><circle cx="492.5" cy="316.2" r="0.60"/><circle cx="510.7" cy="301.7" r="0.65"/><circle cx="483.7" cy="306.3" r="0.62"/><circle cx="488.7" cy="281.1" r="0.65"/><circle cx="468.2" cy="309.8" r="0.40"/><circle cx="442.8" cy="272.0" r="0.70"/><circle cx="510.1" cy="304.2" r="0.52"/><circle cx="501.7" cy="311.0" r="0.60"/><circle cx="449.8" cy="285.8" r="0.54"/><circle cx="485.1" cy="318.7" r="0.37"/><circle cx="478.9" cy="317.9" r="0.55"/><circle cx="480.5" cy="318.9" r="0.79"/><circle cx="435.5" cy="303.6" r="0.45"/><circle cx="492.2" cy="282.6" r="0.68"/><circle cx="443.3" cy="272.6" r="0.70"/><circle cx="491.6" cy="314.6" r="0.68"/><circle cx="433.8" cy="302.8" r="0.67"/><circle cx="468.4" cy="318.6" r="0.46"/><circle cx="514.7" cy="307.4" r="0.36"/><circle cx="454.7" cy="308.0" r="0.42"/><circle cx="505.2" cy="295.4" r="0.38"/><circle cx="439.4" cy="311.6" r="0.51"/><circle cx="498.2" cy="299.5" r="0.48"/><circle cx="490.7" cy="313.1" r="0.50"/><circle cx="481.8" cy="320.9" r="0.72"/><circle cx="465.5" cy="316.3" r="0.52"/><circle cx="480.0" cy="312.5" r="0.75"/><circle cx="478.6" cy="284.3" r="0.73"/><circle cx="500.2" cy="305.7" r="0.76"/><circle cx="477.0" cy="311.6" r="0.44"/><circle cx="447.6" cy="301.6" r="0.65"/><circle cx="468.8" cy="280.8" r="0.46"/><circle cx="495.1" cy="311.3" r="0.56"/><circle cx="497.0" cy="282.2" r="0.61"/><circle cx="480.2" cy="279.9" r="0.44"/><circle cx="442.7" cy="306.5" r="0.51"/><circle cx="473.6" cy="277.8" r="0.37"/><circle cx="435.8" cy="303.0" r="0.70"/><circle cx="440.4" cy="301.1" r="0.51"/><circle cx="505.7" cy="295.4" r="0.61"/><circle cx="450.1" cy="310.6" r="0.54"/><circle cx="449.4" cy="272.0" r="0.44"/><circle cx="442.7" cy="274.4" r="0.37"/><circle cx="477.3" cy="315.4" r="0.56"/><circle cx="432.0" cy="301.2" r="0.53"/><circle cx="484.9" cy="319.8" r="0.65"/><circle cx="458.4" cy="317.0" r="0.76"/><circle cx="498.3" cy="307.0" r="0.64"/><circle cx="439.4" cy="309.3" r="0.77"/><circle cx="488.3" cy="285.6" r="0.62"/><circle cx="495.7" cy="275.5" r="0.50"/><circle cx="449.7" cy="276.5" r="0.57"/><circle cx="441.6" cy="282.4" r="0.41"/><circle cx="492.0" cy="280.2" r="0.37"/><circle cx="467.2" cy="275.1" r="0.77"/><circle cx="503.5" cy="302.8" r="0.55"/><circle cx="457.3" cy="312.9" r="0.56"/><circle cx="483.8" cy="277.5" r="0.45"/><circle cx="476.9" cy="277.6" r="0.74"/><circle cx="440.4" cy="284.1" r="0.73"/><circle cx="456.8" cy="278.8" r="0.57"/><circle cx="455.3" cy="317.1" r="0.40"/><circle cx="508.3" cy="304.8" r="0.45"/><circle cx="449.8" cy="280.5" r="0.51"/><circle cx="452.7" cy="316.7" r="0.38"/><circle cx="492.8" cy="285.3" r="0.79"/><circle cx="457.4" cy="277.3" r="0.35"/><circle cx="502.6" cy="297.5" r="0.43"/><circle cx="466.1" cy="317.5" r="0.45"/><circle cx="478.6" cy="277.2" r="0.43"/><circle cx="496.9" cy="307.1" r="0.44"/><circle cx="451.3" cy="280.8" r="0.63"/><circle cx="491.1" cy="312.3" r="0.61"/><circle cx="444.7" cy="273.5" r="0.68"/><circle cx="463.6" cy="307.6" r="0.37"/><circle cx="500.6" cy="287.5" r="0.73"/><circle cx="505.5" cy="295.7" r="0.36"/><circle cx="509.7" cy="294.9" r="0.74"/><circle cx="450.6" cy="279.7" r="0.72"/><circle cx="459.8" cy="278.5" r="0.52"/><circle cx="473.5" cy="276.3" r="0.67"/><circle cx="455.6" cy="307.1" r="0.52"/><circle cx="446.6" cy="279.5" r="0.40"/><circle cx="449.1" cy="312.6" r="0.36"/><circle cx="435.0" cy="306.4" r="0.44"/><circle cx="490.6" cy="275.4" r="0.74"/><circle cx="437.4" cy="295.7" r="0.58"/><circle cx="451.8" cy="276.4" r="0.53"/><circle cx="438.7" cy="300.9" r="0.74"/><circle cx="439.6" cy="299.9" r="0.69"/><circle cx="441.2" cy="313.0" r="0.77"/><circle cx="503.2" cy="297.4" r="0.53"/><circle cx="457.2" cy="282.5" r="0.50"/><circle cx="431.0" cy="297.0" r="0.78"/><circle cx="432.5" cy="292.6" r="0.58"/><circle cx="512.2" cy="303.0" r="0.71"/><circle cx="450.5" cy="305.4" r="0.47"/><circle cx="475.9" cy="318.2" r="0.63"/><circle cx="452.5" cy="285.9" r="0.64"/><circle cx="437.2" cy="301.0" r="0.78"/><circle cx="473.3" cy="284.0" r="0.56"/><circle cx="475.1" cy="277.8" r="0.41"/><circle cx="438.2" cy="285.3" r="0.53"/><circle cx="452.6" cy="282.7" r="0.39"/><circle cx="476.3" cy="313.8" r="0.62"/><circle cx="444.6" cy="307.0" r="0.56"/><circle cx="448.4" cy="281.6" r="0.58"/><circle cx="453.2" cy="310.2" r="0.42"/><circle cx="493.7" cy="275.7" r="0.45"/><circle cx="440.3" cy="287.6" r="0.51"/><circle cx="473.7" cy="308.5" r="0.68"/><circle cx="495.9" cy="294.8" r="0.70"/><circle cx="491.2" cy="317.7" r="0.41"/><circle cx="496.4" cy="300.5" r="0.57"/><circle cx="514.5" cy="299.8" r="0.54"/><circle cx="498.1" cy="315.5" r="0.62"/><circle cx="468.2" cy="307.7" r="0.48"/><circle cx="498.4" cy="314.3" r="0.57"/><circle cx="466.9" cy="279.6" r="0.49"/><circle cx="439.4" cy="300.0" r="0.61"/><circle cx="455.8" cy="314.0" r="0.73"/><circle cx="465.3" cy="317.5" r="0.35"/><circle cx="430.5" cy="299.5" r="0.57"/><circle cx="458.4" cy="319.4" r="0.65"/><circle cx="474.3" cy="275.2" r="0.52"/><circle cx="478.8" cy="315.9" r="0.78"/><circle cx="483.5" cy="321.9" r="0.50"/><circle cx="474.8" cy="312.5" r="0.43"/><circle cx="502.0" cy="296.7" r="0.40"/><circle cx="508.3" cy="306.0" r="0.72"/><circle cx="464.8" cy="278.2" r="0.48"/><circle cx="443.4" cy="279.5" r="0.63"/><circle cx="517.4" cy="303.2" r="0.37"/><circle cx="463.9" cy="311.1" r="0.49"/><circle cx="454.1" cy="313.9" r="0.61"/><circle cx="487.5" cy="280.3" r="0.57"/><circle cx="476.9" cy="283.9" r="0.64"/><circle cx="437.3" cy="278.2" r="0.69"/><circle cx="441.8" cy="297.2" r="0.72"/></g>
<g transform="rotate(-6 469.6 295.3)"><ellipse cx="469.6" cy="295.3" rx="26" ry="13.4" fill="#4a3a1a" stroke="#3a2c12" stroke-width="3.5" stroke-dasharray="1.6 2.2"/><ellipse cx="469.6" cy="295.3" rx="26.6" ry="14" fill="none" stroke="#4a3c14" stroke-width="2.2" stroke-dasharray="2.3 1.3 1 2"/><ellipse cx="469.6" cy="295.3" rx="25.3" ry="12.6" fill="url(#nuc)"/><ellipse cx="454" cy="300" rx="11" ry="6" fill="#b8451e" opacity="0.3"/><ellipse cx="489" cy="297" rx="7" ry="7" fill="#c2501f" opacity="0.28"/><g fill="#4a3410" opacity="0.65"><circle cx="452.6" cy="288.2" r="0.43"/><circle cx="491.5" cy="296.1" r="0.56"/><circle cx="465.9" cy="287.0" r="0.48"/><circle cx="468.1" cy="302.4" r="0.85"/><circle cx="454.5" cy="291.1" r="0.62"/><circle cx="459.0" cy="299.8" r="0.85"/><circle cx="448.7" cy="289.5" r="0.62"/><circle cx="457.8" cy="289.9" r="0.42"/><circle cx="490.4" cy="290.6" r="0.56"/><circle cx="487.7" cy="288.8" r="0.55"/><circle cx="450.4" cy="288.2" r="0.65"/><circle cx="485.0" cy="292.8" r="0.59"/><circle cx="466.5" cy="287.7" r="0.55"/><circle cx="482.9" cy="288.8" r="0.80"/><circle cx="470.2" cy="302.8" r="0.58"/><circle cx="479.0" cy="306.2" r="0.55"/><circle cx="455.9" cy="292.6" r="0.67"/><circle cx="456.1" cy="301.1" r="0.43"/><circle cx="485.7" cy="303.0" r="0.58"/><circle cx="470.1" cy="302.9" r="0.54"/><circle cx="470.7" cy="302.1" r="0.73"/><circle cx="461.3" cy="301.5" r="0.75"/><circle cx="483.3" cy="299.7" r="0.82"/><circle cx="482.4" cy="301.8" r="0.82"/><circle cx="474.8" cy="288.3" r="0.58"/><circle cx="466.6" cy="286.8" r="0.88"/><circle cx="475.8" cy="306.6" r="0.65"/><circle cx="472.2" cy="304.3" r="0.47"/><circle cx="465.2" cy="287.6" r="0.85"/><circle cx="454.7" cy="290.8" r="0.52"/><circle cx="457.3" cy="290.4" r="0.84"/><circle cx="483.3" cy="301.8" r="0.67"/><circle cx="466.8" cy="306.0" r="0.59"/><circle cx="458.8" cy="287.2" r="0.56"/><circle cx="458.5" cy="299.8" r="0.49"/><circle cx="479.7" cy="288.6" r="0.73"/><circle cx="484.8" cy="301.4" r="0.58"/><circle cx="452.9" cy="295.3" r="0.43"/><circle cx="463.6" cy="302.6" r="0.46"/><circle cx="466.2" cy="287.4" r="0.60"/><circle cx="488.1" cy="289.5" r="0.84"/><circle cx="479.2" cy="289.7" r="0.54"/><circle cx="490.2" cy="297.2" r="0.73"/><circle cx="458.9" cy="302.4" r="0.73"/><circle cx="464.5" cy="287.8" r="0.82"/><circle cx="457.4" cy="303.3" r="0.49"/><circle cx="487.2" cy="302.9" r="0.77"/><circle cx="466.4" cy="288.7" r="0.42"/><circle cx="477.8" cy="301.8" r="0.55"/><circle cx="459.4" cy="299.9" r="0.56"/><circle cx="459.6" cy="289.5" r="0.82"/><circle cx="450.3" cy="290.8" r="0.53"/><circle cx="450.3" cy="299.4" r="0.57"/><circle cx="492.3" cy="295.4" r="0.79"/><circle cx="466.4" cy="302.0" r="0.83"/><circle cx="458.7" cy="291.0" r="0.52"/><circle cx="486.6" cy="302.3" r="0.51"/><circle cx="488.3" cy="289.9" r="0.44"/><circle cx="463.5" cy="287.1" r="0.77"/><circle cx="477.5" cy="288.2" r="0.44"/><circle cx="486.7" cy="292.4" r="0.87"/><circle cx="461.8" cy="285.4" r="0.81"/><circle cx="456.8" cy="288.8" r="0.43"/><circle cx="463.8" cy="286.9" r="0.66"/><circle cx="483.0" cy="292.1" r="0.78"/><circle cx="490.0" cy="298.1" r="0.80"/><circle cx="468.2" cy="304.8" r="0.88"/><circle cx="457.0" cy="288.0" r="0.52"/><circle cx="485.8" cy="298.4" r="0.61"/><circle cx="474.7" cy="303.2" r="0.47"/><circle cx="464.0" cy="285.5" r="0.52"/><circle cx="470.6" cy="304.7" r="0.62"/><circle cx="485.6" cy="292.0" r="0.55"/><circle cx="480.9" cy="290.4" r="0.68"/><circle cx="458.3" cy="304.8" r="0.67"/><circle cx="470.6" cy="287.8" r="0.73"/><circle cx="454.5" cy="290.0" r="0.78"/><circle cx="476.8" cy="289.0" r="0.54"/><circle cx="459.5" cy="301.2" r="0.43"/><circle cx="466.6" cy="302.8" r="0.75"/><circle cx="455.7" cy="297.6" r="0.56"/><circle cx="452.5" cy="297.0" r="0.48"/><circle cx="481.8" cy="298.2" r="0.90"/><circle cx="469.6" cy="288.2" r="0.76"/><circle cx="489.1" cy="294.1" r="0.45"/><circle cx="451.4" cy="295.9" r="0.49"/><circle cx="456.5" cy="293.5" r="0.86"/><circle cx="457.0" cy="287.4" r="0.87"/><circle cx="460.3" cy="288.8" r="0.52"/><circle cx="478.5" cy="300.5" r="0.79"/></g></g>
<g><path d="M1134.4 257.2 L1130.5 253.6 L1123.7 251.2 L1116.7 246.9 L1109.8 243.5 L1103.6 240.0 L1098.8 235.0 L1093.6 231.8 L1089.0 229.2 L1084.6 226.7 L1079.7 225.7 L1074.8 225.7 L1070.2 224.9 L1065.4 224.9 L1060.6 226.8 L1055.1 228.5 L1049.1 228.5 L1043.2 227.7 L1037.6 227.1 L1032.4 225.4 L1027.4 223.6 L1022.8 222.8 L1018.5 222.3 L1013.6 221.3 L1006.9 220.1 L996.3 219.9 L983.1 218.9 L970.6 217.5 L961.9 217.1 L961.9 216.1 L970.6 216.0 L983.2 215.0 L996.4 214.6 L1007.1 215.3 L1014.3 215.3 L1019.6 215.8 L1023.9 217.0 L1028.6 218.0 L1034.1 218.5 L1039.4 219.7 L1044.3 221.3 L1048.9 221.5 L1053.4 220.2 L1058.4 219.0 L1064.1 218.0 L1069.8 216.7 L1075.7 216.4 L1081.3 217.7 L1086.9 219.4 L1093.0 220.8 L1098.7 224.2 L1103.7 228.8 L1109.4 232.0 L1114.2 235.9 L1120.4 239.1 L1128.0 241.3 L1134.3 244.5 L1139.6 244.8Z M1069.9 224.9 L1067.9 221.0 L1064.6 215.9 L1059.5 211.4 L1055.3 206.4 L1050.2 202.2 L1044.3 198.2 L1039.2 193.2 L1034.0 189.3 L1030.6 185.2 L1028.8 181.1 L1026.9 177.8 L1023.8 174.7 L1019.8 170.6 L1014.8 166.1 L1008.9 162.2 L1003.8 157.6 L998.1 153.4 L992.2 148.9 L987.5 144.1 L983.7 141.5 L984.3 140.5 L988.1 143.2 L994.2 146.0 L1000.4 150.2 L1006.2 154.4 L1012.1 157.9 L1017.6 162.5 L1023.2 166.4 L1028.2 170.3 L1031.2 174.7 L1033.6 178.3 L1036.0 181.3 L1038.8 184.7 L1042.8 188.9 L1048.7 192.5 L1054.2 197.2 L1059.5 201.6 L1065.0 205.9 L1069.4 211.3 L1074.3 214.9 L1078.1 217.1Z M1025.0 175.6 L1024.7 172.1 L1024.0 167.0 L1022.5 161.6 L1022.0 156.5 L1021.1 151.7 L1019.8 146.8 L1019.3 142.3 L1019.2 139.1 L1020.0 138.9 L1021.5 141.7 L1023.3 145.8 L1024.6 150.8 L1026.0 155.5 L1027.7 160.5 L1028.5 166.1 L1029.8 171.0 L1031.0 174.4Z M1038.0 193.6 L1034.7 191.8 L1029.6 190.1 L1024.1 188.2 L1019.4 186.0 L1015.0 184.3 L1010.4 183.2 L1006.4 181.9 L1003.8 180.5 L1004.0 179.5 L1007.0 179.4 L1011.1 179.9 L1015.8 181.1 L1020.6 182.0 L1025.9 183.2 L1031.4 185.4 L1036.3 187.5 L1040.0 188.4Z M1027.0 223.3 L1024.5 220.6 L1020.9 216.8 L1016.3 213.3 L1012.5 209.8 L1009.2 206.3 L1005.5 203.3 L1002.3 200.5 L1000.4 198.1 L1001.0 197.3 L1003.8 198.5 L1007.4 200.8 L1011.3 203.6 L1015.5 206.2 L1019.6 209.4 L1023.8 213.5 L1028.0 216.6 L1031.0 218.7Z M1014.8 222.6 L1011.2 223.8 L1006.0 225.1 L1000.0 226.4 L994.7 228.2 L989.3 229.7 L983.4 230.8 L978.4 232.1 L974.7 232.5 L974.3 231.5 L977.6 229.8 L982.6 227.9 L988.0 225.6 L993.3 223.8 L998.8 222.3 L1004.5 220.1 L1009.6 218.3 L1013.2 217.4Z M1057.3 229.4 L1054.6 232.3 L1050.4 236.3 L1045.1 240.2 L1040.4 244.6 L1035.3 247.8 L1029.8 250.3 L1024.6 253.3 L1019.2 256.2 L1012.9 258.8 L1006.6 262.2 L1000.4 264.6 L996.2 266.2 L995.8 265.4 L999.5 262.8 L1004.9 259.1 L1011.3 255.7 L1016.8 251.8 L1022.1 248.8 L1027.4 246.1 L1032.1 242.6 L1036.6 239.4 L1041.5 236.0 L1045.6 231.2 L1049.6 227.2 L1052.7 224.6Z M1043.5 240.5 L1040.3 240.9 L1035.9 241.9 L1030.9 243.0 L1026.3 243.2 L1021.9 243.1 L1017.5 243.2 L1013.7 243.1 L1011.0 242.5 L1011.0 241.5 L1013.6 240.6 L1017.4 240.2 L1021.6 239.7 L1025.7 238.8 L1030.1 237.7 L1035.0 237.0 L1039.5 236.3 L1042.5 235.5Z M1092.0 227.1 L1090.7 223.2 L1088.4 217.7 L1086.9 211.1 L1084.2 205.1 L1082.2 198.2 L1079.1 190.8 L1076.8 183.9 L1075.6 179.0 L1076.4 178.6 L1079.3 182.9 L1082.8 189.2 L1086.0 196.5 L1089.6 202.9 L1091.7 209.3 L1094.8 215.4 L1096.5 221.1 L1098.0 224.9Z M1081.6 202.2 L1080.2 201.1 L1078.2 199.5 L1076.0 197.9 L1074.1 196.7 L1072.5 195.8 L1070.9 195.0 L1069.6 193.9 L1068.8 193.0 L1069.2 192.0 L1070.4 191.8 L1072.1 191.8 L1074.0 192.5 L1075.9 193.3 L1078.1 194.5 L1080.6 195.8 L1082.8 197.0 L1084.4 197.8Z M1099.2 229.6 L1099.4 226.6 L1100.0 222.4 L1101.4 217.9 L1101.8 213.8 L1102.2 210.1 L1102.9 206.4 L1103.6 203.2 L1104.2 201.0 L1105.2 201.0 L1105.6 203.3 L1106.1 206.6 L1106.4 210.4 L1106.2 214.2 L1105.6 218.5 L1105.5 223.2 L1104.7 227.5 L1104.0 230.4Z M1112.9 244.3 L1110.8 245.2 L1107.6 246.5 L1103.9 247.4 L1100.3 247.9 L1096.8 248.0 L1093.2 247.9 L1090.1 247.5 L1088.0 246.5 L1088.0 245.5 L1090.2 244.7 L1093.3 244.6 L1096.7 244.6 L1099.7 244.1 L1102.6 243.0 L1105.9 241.5 L1108.9 240.4 L1111.1 239.7Z M1145.5 247.6 L1144.0 243.4 L1142.6 237.0 L1140.5 230.3 L1137.9 224.5 L1136.5 219.3 L1133.9 214.9 L1131.6 210.3 L1130.3 205.0 L1128.5 199.9 L1127.2 194.9 L1126.6 189.6 L1124.2 184.1 L1121.3 176.5 L1116.6 168.1 L1113.2 159.5 L1110.5 153.9 L1111.5 153.3 L1114.9 158.6 L1120.5 165.9 L1125.0 174.6 L1129.4 181.9 L1131.3 188.1 L1133.5 193.4 L1134.6 198.3 L1135.7 203.0 L1138.3 207.3 L1140.3 211.9 L1142.1 216.7 L1145.1 221.5 L1147.2 227.7 L1150.0 234.3 L1153.0 240.1 L1154.5 244.4Z M1129.6 196.7 L1130.5 193.3 L1130.7 188.4 L1131.3 183.0 L1132.0 178.0 L1131.7 173.1 L1132.0 167.9 L1132.1 163.3 L1132.5 160.0 L1133.5 160.0 L1134.4 163.1 L1135.2 167.7 L1136.1 172.9 L1136.0 178.0 L1136.2 183.3 L1135.9 188.9 L1135.2 193.8 L1135.4 197.3Z M1127.1 202.4 L1125.0 200.2 L1121.8 197.2 L1118.0 194.5 L1114.6 192.0 L1111.7 189.5 L1108.8 187.1 L1106.2 185.1 L1104.5 183.4 L1104.9 182.6 L1107.2 183.3 L1110.3 184.6 L1113.8 186.2 L1117.4 188.0 L1120.9 190.6 L1124.6 193.7 L1128.2 196.1 L1130.9 197.6Z M1135.8 221.0 L1134.5 220.1 L1132.8 218.9 L1130.9 217.8 L1129.2 216.9 L1127.7 216.3 L1126.0 215.8 L1124.5 215.0 L1123.5 214.0 L1123.7 213.0 L1125.0 212.4 L1126.7 212.2 L1128.7 212.5 L1130.8 213.1 L1132.9 214.1 L1135.0 215.3 L1136.9 216.3 L1138.2 217.0Z M1134.3 290.1 L1128.6 287.7 L1120.6 288.2 L1111.8 287.5 L1104.5 288.6 L1098.8 290.5 L1092.8 292.1 L1087.2 294.9 L1081.2 296.9 L1075.4 296.4 L1070.5 295.2 L1066.1 294.6 L1061.7 294.5 L1056.6 294.5 L1051.0 295.4 L1045.1 297.1 L1038.9 297.7 L1032.6 298.2 L1026.0 299.5 L1019.3 299.7 L1012.7 298.9 L1006.4 297.7 L1000.5 295.1 L995.0 292.0 L989.3 289.7 L983.1 287.1 L976.7 283.7 L970.9 281.1 L966.8 279.5 L967.2 278.5 L971.3 280.1 L977.4 282.1 L984.3 283.9 L990.7 286.3 L996.4 289.0 L1002.2 291.3 L1007.8 293.4 L1013.3 295.1 L1019.2 294.9 L1025.5 294.1 L1031.9 293.6 L1038.1 292.3 L1044.0 290.9 L1049.9 290.1 L1055.7 288.7 L1061.5 287.5 L1067.0 288.0 L1071.7 289.4 L1075.9 289.8 L1080.0 289.1 L1084.7 288.0 L1090.1 286.0 L1095.9 282.5 L1102.9 280.6 L1111.1 279.7 L1120.0 277.9 L1128.2 277.7 L1133.7 274.9Z M1101.5 284.9 L1098.9 282.0 L1095.7 277.5 L1092.6 272.1 L1088.7 267.4 L1085.5 262.0 L1082.0 256.1 L1078.6 251.1 L1077.0 247.1 L1077.8 246.5 L1081.1 249.3 L1084.7 254.2 L1089.1 259.3 L1093.3 264.0 L1096.6 269.0 L1101.0 273.5 L1104.4 277.8 L1106.5 281.1Z M1094.0 273.9 L1091.8 272.7 L1088.6 271.3 L1085.1 269.7 L1082.1 268.1 L1079.3 266.6 L1076.3 265.2 L1073.7 264.1 L1071.9 263.0 L1072.1 262.0 L1074.3 262.0 L1077.2 262.5 L1080.5 263.2 L1083.9 263.9 L1087.3 265.2 L1090.7 267.2 L1093.8 269.0 L1096.0 270.1Z M1057.7 289.7 L1056.6 286.7 L1055.8 282.1 L1055.1 277.0 L1053.6 272.7 L1052.6 268.8 L1051.8 264.7 L1050.9 261.1 L1050.5 258.6 L1051.5 258.2 L1052.9 260.4 L1054.6 263.6 L1056.7 267.3 L1058.4 271.3 L1059.5 275.8 L1061.4 280.6 L1062.9 285.0 L1063.5 288.3Z M1055.7 291.3 L1052.4 289.1 L1047.9 285.5 L1043.3 281.2 L1038.6 278.0 L1034.3 274.8 L1030.0 271.3 L1026.1 268.5 L1023.5 266.1 L1024.1 265.3 L1027.3 266.5 L1031.6 268.8 L1036.7 271.1 L1041.4 274.0 L1046.0 277.5 L1051.5 280.8 L1056.1 284.1 L1059.1 286.7Z M1026.0 301.6 L1021.0 302.4 L1013.8 303.9 L1006.2 306.6 L998.7 308.1 L991.6 310.5 L984.1 312.7 L977.4 314.4 L972.6 315.5 L972.2 314.5 L976.6 312.3 L982.9 309.3 L990.2 306.3 L997.3 303.9 L1004.4 300.9 L1012.4 299.0 L1019.3 296.4 L1024.0 294.4Z M1019.6 302.3 L1018.6 304.3 L1016.8 306.9 L1014.5 309.6 L1012.5 312.1 L1010.7 314.4 L1008.9 316.7 L1007.0 318.4 L1005.3 319.3 L1004.5 318.7 L1005.0 316.8 L1006.2 314.6 L1007.9 312.3 L1009.5 309.9 L1011.0 307.2 L1012.5 304.1 L1014.1 301.4 L1015.4 299.7Z M1081.0 293.7 L1080.9 296.1 L1080.8 299.6 L1081.3 303.4 L1081.5 307.0 L1080.9 310.2 L1080.2 313.4 L1079.6 316.2 L1078.9 318.0 L1077.9 318.0 L1077.5 316.0 L1077.3 313.2 L1077.0 310.1 L1076.5 307.0 L1076.4 303.7 L1076.2 300.0 L1075.5 296.6 L1075.0 294.3Z M1124.9 288.9 L1123.8 290.0 L1122.1 291.5 L1120.1 293.0 L1118.2 294.4 L1116.6 295.5 L1115.1 296.6 L1113.5 297.2 L1112.3 297.4 L1111.7 296.6 L1112.2 295.5 L1113.2 294.2 L1114.5 293.0 L1115.8 291.6 L1117.1 290.0 L1118.5 288.0 L1120.0 286.2 L1121.1 285.1Z M1080.9 297.6 L1076.2 299.3 L1070.6 303.3 L1065.2 308.4 L1059.5 312.2 L1055.9 316.1 L1052.5 319.7 L1047.9 322.9 L1042.6 327.2 L1035.5 332.2 L1027.0 337.5 L1017.8 342.8 L1008.3 348.1 L996.9 352.2 L984.6 357.0 L973.1 360.2 L965.2 362.5 L964.8 361.5 L972.4 358.1 L983.2 353.1 L995.3 348.4 L1005.7 342.9 L1015.0 338.0 L1023.7 332.3 L1031.7 326.6 L1038.6 321.8 L1043.9 318.0 L1047.2 314.0 L1050.9 310.8 L1055.3 307.4 L1059.9 302.3 L1065.9 297.7 L1070.6 292.8 L1073.1 288.4Z M1039.7 328.2 L1035.6 328.8 L1029.8 330.5 L1023.4 332.2 L1017.4 332.9 L1011.8 333.8 L1006.2 334.7 L1001.2 334.7 L997.7 334.4 L997.5 333.6 L1000.9 332.3 L1005.7 331.0 L1011.2 330.2 L1016.6 329.1 L1022.2 327.2 L1028.6 325.6 L1034.4 324.3 L1038.3 322.8Z M1010.0 347.0 L1008.5 349.4 L1006.3 352.8 L1003.2 356.1 L1000.6 359.1 L998.5 362.1 L996.5 365.1 L994.2 367.4 L992.4 368.9 L991.6 368.3 L992.2 366.1 L993.4 363.1 L995.4 360.0 L997.4 356.9 L999.4 353.3 L1001.6 349.4 L1004.1 346.2 L1006.0 344.0Z M1067.1 304.7 L1066.4 308.3 L1064.6 313.3 L1063.4 319.3 L1062.0 325.1 L1060.0 331.1 L1058.4 337.8 L1056.2 343.7 L1054.5 347.7 L1053.5 347.5 L1053.8 343.1 L1054.5 336.9 L1056.2 330.2 L1057.0 323.9 L1058.2 318.1 L1059.6 312.3 L1060.0 306.9 L1060.9 303.3Z M1061.3 324.3 L1062.0 325.5 L1062.8 327.3 L1063.5 329.4 L1063.8 331.4 L1064.0 333.3 L1064.2 335.1 L1064.4 336.7 L1064.1 337.9 L1063.3 338.1 L1062.5 337.2 L1061.8 335.8 L1061.1 334.1 L1060.2 332.6 L1059.3 330.9 L1058.4 328.9 L1058.0 327.0 L1057.7 325.7Z M1140.3 301.1 L1137.8 302.8 L1135.3 305.7 L1133.1 309.6 L1130.1 313.6 L1127.4 319.0 L1125.1 325.9 L1121.6 332.7 L1119.1 339.4 L1115.2 344.5 L1112.0 349.5 L1108.7 354.1 L1104.7 358.2 L1101.0 363.5 L1096.7 368.6 L1092.1 372.7 L1089.4 375.9 L1088.6 375.3 L1091.0 371.9 L1093.7 366.4 L1097.5 360.8 L1101.3 355.8 L1104.1 350.7 L1107.4 346.2 L1110.7 341.7 L1112.9 336.2 L1116.1 330.4 L1118.2 323.2 L1121.2 316.5 L1123.5 310.4 L1125.7 305.1 L1128.8 301.1 L1130.9 297.7 L1131.7 294.9Z M1121.0 334.4 L1120.2 338.2 L1118.9 343.6 L1118.4 349.7 L1117.0 355.3 L1116.1 360.7 L1115.1 366.4 L1113.6 371.3 L1112.5 374.7 L1111.5 374.5 L1111.4 370.9 L1111.5 365.8 L1112.3 360.2 L1113.0 354.7 L1113.2 349.0 L1114.5 343.0 L1114.7 337.4 L1115.0 333.6Z M1128.5 314.2 L1126.0 315.6 L1122.3 317.8 L1118.6 320.5 L1115.2 322.9 L1112.0 324.5 L1108.8 325.9 L1105.9 326.8 L1103.9 327.4 L1103.5 326.6 L1105.0 325.2 L1107.3 323.3 L1110.0 321.2 L1112.8 319.1 L1116.2 317.0 L1120.0 314.5 L1123.2 311.7 L1125.5 309.8Z M1155.2 303.0 L1155.6 308.0 L1154.7 315.3 L1155.2 323.5 L1154.4 331.5 L1154.1 340.0 L1153.4 349.1 L1152.4 357.3 L1151.5 363.0 L1150.5 363.0 L1150.0 357.2 L1149.6 349.0 L1149.5 339.8 L1149.6 331.5 L1148.9 323.5 L1149.4 315.3 L1148.4 308.1 L1148.8 303.0Z M1153.7 313.6 L1153.2 315.7 L1152.3 318.7 L1151.0 321.9 L1149.6 324.6 L1148.3 327.0 L1147.3 329.5 L1146.2 331.5 L1145.0 332.8 L1144.2 332.4 L1144.2 330.7 L1144.8 328.5 L1145.7 326.0 L1146.4 323.4 L1147.1 320.4 L1148.1 317.2 L1149.4 314.3 L1150.3 312.4Z M1156.8 308.4 L1157.8 310.3 L1158.9 313.2 L1159.7 316.6 L1160.5 319.4 L1161.5 321.8 L1162.4 324.1 L1162.8 326.2 L1162.9 327.8 L1162.1 328.2 L1161.0 327.0 L1159.6 325.3 L1158.5 323.0 L1157.5 320.6 L1156.2 317.8 L1154.6 314.8 L1153.7 311.8 L1153.2 309.6Z M1129.0 262.0 L1129.3 260.2 L1129.7 258.1 L1130.1 255.9 L1130.6 253.8 L1131.2 251.8 L1132.0 250.0 L1133.0 248.5 L1134.1 247.2 L1135.4 246.0 L1136.8 244.9 L1138.3 243.9 L1140.0 243.0 L1141.9 242.1 L1144.0 241.4 L1146.2 240.7 L1148.5 240.0 L1150.8 239.5 L1153.0 239.0 L1155.2 238.6 L1157.4 238.2 L1159.6 238.0 L1161.7 237.8 L1163.9 237.6 L1166.0 237.5 L1168.1 237.4 L1170.2 237.3 L1172.2 237.2 L1174.3 237.3 L1176.2 237.5 L1178.0 238.0 L1179.7 238.7 L1181.4 239.5 L1183.0 240.5 L1184.5 241.7 L1185.9 243.2 L1187.0 245.0 L1187.9 247.2 L1188.7 249.9 L1189.3 252.8 L1189.8 255.9 L1190.2 259.0 L1190.5 262.0 L1190.7 265.0 L1190.8 268.0 L1190.8 271.1 L1190.7 274.2 L1190.6 277.2 L1190.5 280.0 L1190.4 282.8 L1190.2 285.5 L1190.0 288.1 L1189.7 290.6 L1189.4 292.9 L1189.0 295.0 L1188.6 296.8 L1188.2 298.3 L1187.7 299.6 L1187.1 300.8 L1186.2 301.9 L1185.0 303.0 L1183.4 304.1 L1181.5 305.1 L1179.3 306.0 L1177.0 306.8 L1174.5 307.5 L1172.0 308.0 L1169.4 308.3 L1166.6 308.5 L1163.6 308.5 L1160.7 308.4 L1157.8 308.2 L1155.0 308.0 L1152.3 307.7 L1149.6 307.4 L1147.0 306.9 L1144.5 306.4 L1142.1 305.8 L1140.0 305.0 L1138.1 304.1 L1136.4 303.1 L1134.8 301.9 L1133.4 300.7 L1132.1 299.4 L1131.0 298.0 L1130.0 296.5 L1129.2 294.9 L1128.5 293.2 L1127.9 291.4 L1127.4 289.7 L1127.0 288.0 L1126.6 286.3 L1126.3 284.6 L1126.1 282.9 L1126.0 281.2 L1126.0 279.6 L1126.0 278.0 L1126.2 276.6 L1126.5 275.2 L1126.9 273.9 L1127.3 272.6 L1127.7 271.3 L1128.0 270.0 L1128.2 268.7 L1128.3 267.5 L1128.4 266.2 L1128.6 265.0 L1128.7 263.6Z" fill="#352c16" stroke="#352c16" stroke-width="3.4" stroke-linejoin="round"/><path d="M1134.4 257.2 L1130.5 253.6 L1123.7 251.2 L1116.7 246.9 L1109.8 243.5 L1103.6 240.0 L1098.8 235.0 L1093.6 231.8 L1089.0 229.2 L1084.6 226.7 L1079.7 225.7 L1074.8 225.7 L1070.2 224.9 L1065.4 224.9 L1060.6 226.8 L1055.1 228.5 L1049.1 228.5 L1043.2 227.7 L1037.6 227.1 L1032.4 225.4 L1027.4 223.6 L1022.8 222.8 L1018.5 222.3 L1013.6 221.3 L1006.9 220.1 L996.3 219.9 L983.1 218.9 L970.6 217.5 L961.9 217.1 L961.9 216.1 L970.6 216.0 L983.2 215.0 L996.4 214.6 L1007.1 215.3 L1014.3 215.3 L1019.6 215.8 L1023.9 217.0 L1028.6 218.0 L1034.1 218.5 L1039.4 219.7 L1044.3 221.3 L1048.9 221.5 L1053.4 220.2 L1058.4 219.0 L1064.1 218.0 L1069.8 216.7 L1075.7 216.4 L1081.3 217.7 L1086.9 219.4 L1093.0 220.8 L1098.7 224.2 L1103.7 228.8 L1109.4 232.0 L1114.2 235.9 L1120.4 239.1 L1128.0 241.3 L1134.3 244.5 L1139.6 244.8Z M1069.9 224.9 L1067.9 221.0 L1064.6 215.9 L1059.5 211.4 L1055.3 206.4 L1050.2 202.2 L1044.3 198.2 L1039.2 193.2 L1034.0 189.3 L1030.6 185.2 L1028.8 181.1 L1026.9 177.8 L1023.8 174.7 L1019.8 170.6 L1014.8 166.1 L1008.9 162.2 L1003.8 157.6 L998.1 153.4 L992.2 148.9 L987.5 144.1 L983.7 141.5 L984.3 140.5 L988.1 143.2 L994.2 146.0 L1000.4 150.2 L1006.2 154.4 L1012.1 157.9 L1017.6 162.5 L1023.2 166.4 L1028.2 170.3 L1031.2 174.7 L1033.6 178.3 L1036.0 181.3 L1038.8 184.7 L1042.8 188.9 L1048.7 192.5 L1054.2 197.2 L1059.5 201.6 L1065.0 205.9 L1069.4 211.3 L1074.3 214.9 L1078.1 217.1Z M1025.0 175.6 L1024.7 172.1 L1024.0 167.0 L1022.5 161.6 L1022.0 156.5 L1021.1 151.7 L1019.8 146.8 L1019.3 142.3 L1019.2 139.1 L1020.0 138.9 L1021.5 141.7 L1023.3 145.8 L1024.6 150.8 L1026.0 155.5 L1027.7 160.5 L1028.5 166.1 L1029.8 171.0 L1031.0 174.4Z M1038.0 193.6 L1034.7 191.8 L1029.6 190.1 L1024.1 188.2 L1019.4 186.0 L1015.0 184.3 L1010.4 183.2 L1006.4 181.9 L1003.8 180.5 L1004.0 179.5 L1007.0 179.4 L1011.1 179.9 L1015.8 181.1 L1020.6 182.0 L1025.9 183.2 L1031.4 185.4 L1036.3 187.5 L1040.0 188.4Z M1027.0 223.3 L1024.5 220.6 L1020.9 216.8 L1016.3 213.3 L1012.5 209.8 L1009.2 206.3 L1005.5 203.3 L1002.3 200.5 L1000.4 198.1 L1001.0 197.3 L1003.8 198.5 L1007.4 200.8 L1011.3 203.6 L1015.5 206.2 L1019.6 209.4 L1023.8 213.5 L1028.0 216.6 L1031.0 218.7Z M1014.8 222.6 L1011.2 223.8 L1006.0 225.1 L1000.0 226.4 L994.7 228.2 L989.3 229.7 L983.4 230.8 L978.4 232.1 L974.7 232.5 L974.3 231.5 L977.6 229.8 L982.6 227.9 L988.0 225.6 L993.3 223.8 L998.8 222.3 L1004.5 220.1 L1009.6 218.3 L1013.2 217.4Z M1057.3 229.4 L1054.6 232.3 L1050.4 236.3 L1045.1 240.2 L1040.4 244.6 L1035.3 247.8 L1029.8 250.3 L1024.6 253.3 L1019.2 256.2 L1012.9 258.8 L1006.6 262.2 L1000.4 264.6 L996.2 266.2 L995.8 265.4 L999.5 262.8 L1004.9 259.1 L1011.3 255.7 L1016.8 251.8 L1022.1 248.8 L1027.4 246.1 L1032.1 242.6 L1036.6 239.4 L1041.5 236.0 L1045.6 231.2 L1049.6 227.2 L1052.7 224.6Z M1043.5 240.5 L1040.3 240.9 L1035.9 241.9 L1030.9 243.0 L1026.3 243.2 L1021.9 243.1 L1017.5 243.2 L1013.7 243.1 L1011.0 242.5 L1011.0 241.5 L1013.6 240.6 L1017.4 240.2 L1021.6 239.7 L1025.7 238.8 L1030.1 237.7 L1035.0 237.0 L1039.5 236.3 L1042.5 235.5Z M1092.0 227.1 L1090.7 223.2 L1088.4 217.7 L1086.9 211.1 L1084.2 205.1 L1082.2 198.2 L1079.1 190.8 L1076.8 183.9 L1075.6 179.0 L1076.4 178.6 L1079.3 182.9 L1082.8 189.2 L1086.0 196.5 L1089.6 202.9 L1091.7 209.3 L1094.8 215.4 L1096.5 221.1 L1098.0 224.9Z M1081.6 202.2 L1080.2 201.1 L1078.2 199.5 L1076.0 197.9 L1074.1 196.7 L1072.5 195.8 L1070.9 195.0 L1069.6 193.9 L1068.8 193.0 L1069.2 192.0 L1070.4 191.8 L1072.1 191.8 L1074.0 192.5 L1075.9 193.3 L1078.1 194.5 L1080.6 195.8 L1082.8 197.0 L1084.4 197.8Z M1099.2 229.6 L1099.4 226.6 L1100.0 222.4 L1101.4 217.9 L1101.8 213.8 L1102.2 210.1 L1102.9 206.4 L1103.6 203.2 L1104.2 201.0 L1105.2 201.0 L1105.6 203.3 L1106.1 206.6 L1106.4 210.4 L1106.2 214.2 L1105.6 218.5 L1105.5 223.2 L1104.7 227.5 L1104.0 230.4Z M1112.9 244.3 L1110.8 245.2 L1107.6 246.5 L1103.9 247.4 L1100.3 247.9 L1096.8 248.0 L1093.2 247.9 L1090.1 247.5 L1088.0 246.5 L1088.0 245.5 L1090.2 244.7 L1093.3 244.6 L1096.7 244.6 L1099.7 244.1 L1102.6 243.0 L1105.9 241.5 L1108.9 240.4 L1111.1 239.7Z M1145.5 247.6 L1144.0 243.4 L1142.6 237.0 L1140.5 230.3 L1137.9 224.5 L1136.5 219.3 L1133.9 214.9 L1131.6 210.3 L1130.3 205.0 L1128.5 199.9 L1127.2 194.9 L1126.6 189.6 L1124.2 184.1 L1121.3 176.5 L1116.6 168.1 L1113.2 159.5 L1110.5 153.9 L1111.5 153.3 L1114.9 158.6 L1120.5 165.9 L1125.0 174.6 L1129.4 181.9 L1131.3 188.1 L1133.5 193.4 L1134.6 198.3 L1135.7 203.0 L1138.3 207.3 L1140.3 211.9 L1142.1 216.7 L1145.1 221.5 L1147.2 227.7 L1150.0 234.3 L1153.0 240.1 L1154.5 244.4Z M1129.6 196.7 L1130.5 193.3 L1130.7 188.4 L1131.3 183.0 L1132.0 178.0 L1131.7 173.1 L1132.0 167.9 L1132.1 163.3 L1132.5 160.0 L1133.5 160.0 L1134.4 163.1 L1135.2 167.7 L1136.1 172.9 L1136.0 178.0 L1136.2 183.3 L1135.9 188.9 L1135.2 193.8 L1135.4 197.3Z M1127.1 202.4 L1125.0 200.2 L1121.8 197.2 L1118.0 194.5 L1114.6 192.0 L1111.7 189.5 L1108.8 187.1 L1106.2 185.1 L1104.5 183.4 L1104.9 182.6 L1107.2 183.3 L1110.3 184.6 L1113.8 186.2 L1117.4 188.0 L1120.9 190.6 L1124.6 193.7 L1128.2 196.1 L1130.9 197.6Z M1135.8 221.0 L1134.5 220.1 L1132.8 218.9 L1130.9 217.8 L1129.2 216.9 L1127.7 216.3 L1126.0 215.8 L1124.5 215.0 L1123.5 214.0 L1123.7 213.0 L1125.0 212.4 L1126.7 212.2 L1128.7 212.5 L1130.8 213.1 L1132.9 214.1 L1135.0 215.3 L1136.9 216.3 L1138.2 217.0Z M1134.3 290.1 L1128.6 287.7 L1120.6 288.2 L1111.8 287.5 L1104.5 288.6 L1098.8 290.5 L1092.8 292.1 L1087.2 294.9 L1081.2 296.9 L1075.4 296.4 L1070.5 295.2 L1066.1 294.6 L1061.7 294.5 L1056.6 294.5 L1051.0 295.4 L1045.1 297.1 L1038.9 297.7 L1032.6 298.2 L1026.0 299.5 L1019.3 299.7 L1012.7 298.9 L1006.4 297.7 L1000.5 295.1 L995.0 292.0 L989.3 289.7 L983.1 287.1 L976.7 283.7 L970.9 281.1 L966.8 279.5 L967.2 278.5 L971.3 280.1 L977.4 282.1 L984.3 283.9 L990.7 286.3 L996.4 289.0 L1002.2 291.3 L1007.8 293.4 L1013.3 295.1 L1019.2 294.9 L1025.5 294.1 L1031.9 293.6 L1038.1 292.3 L1044.0 290.9 L1049.9 290.1 L1055.7 288.7 L1061.5 287.5 L1067.0 288.0 L1071.7 289.4 L1075.9 289.8 L1080.0 289.1 L1084.7 288.0 L1090.1 286.0 L1095.9 282.5 L1102.9 280.6 L1111.1 279.7 L1120.0 277.9 L1128.2 277.7 L1133.7 274.9Z M1101.5 284.9 L1098.9 282.0 L1095.7 277.5 L1092.6 272.1 L1088.7 267.4 L1085.5 262.0 L1082.0 256.1 L1078.6 251.1 L1077.0 247.1 L1077.8 246.5 L1081.1 249.3 L1084.7 254.2 L1089.1 259.3 L1093.3 264.0 L1096.6 269.0 L1101.0 273.5 L1104.4 277.8 L1106.5 281.1Z M1094.0 273.9 L1091.8 272.7 L1088.6 271.3 L1085.1 269.7 L1082.1 268.1 L1079.3 266.6 L1076.3 265.2 L1073.7 264.1 L1071.9 263.0 L1072.1 262.0 L1074.3 262.0 L1077.2 262.5 L1080.5 263.2 L1083.9 263.9 L1087.3 265.2 L1090.7 267.2 L1093.8 269.0 L1096.0 270.1Z M1057.7 289.7 L1056.6 286.7 L1055.8 282.1 L1055.1 277.0 L1053.6 272.7 L1052.6 268.8 L1051.8 264.7 L1050.9 261.1 L1050.5 258.6 L1051.5 258.2 L1052.9 260.4 L1054.6 263.6 L1056.7 267.3 L1058.4 271.3 L1059.5 275.8 L1061.4 280.6 L1062.9 285.0 L1063.5 288.3Z M1055.7 291.3 L1052.4 289.1 L1047.9 285.5 L1043.3 281.2 L1038.6 278.0 L1034.3 274.8 L1030.0 271.3 L1026.1 268.5 L1023.5 266.1 L1024.1 265.3 L1027.3 266.5 L1031.6 268.8 L1036.7 271.1 L1041.4 274.0 L1046.0 277.5 L1051.5 280.8 L1056.1 284.1 L1059.1 286.7Z M1026.0 301.6 L1021.0 302.4 L1013.8 303.9 L1006.2 306.6 L998.7 308.1 L991.6 310.5 L984.1 312.7 L977.4 314.4 L972.6 315.5 L972.2 314.5 L976.6 312.3 L982.9 309.3 L990.2 306.3 L997.3 303.9 L1004.4 300.9 L1012.4 299.0 L1019.3 296.4 L1024.0 294.4Z M1019.6 302.3 L1018.6 304.3 L1016.8 306.9 L1014.5 309.6 L1012.5 312.1 L1010.7 314.4 L1008.9 316.7 L1007.0 318.4 L1005.3 319.3 L1004.5 318.7 L1005.0 316.8 L1006.2 314.6 L1007.9 312.3 L1009.5 309.9 L1011.0 307.2 L1012.5 304.1 L1014.1 301.4 L1015.4 299.7Z M1081.0 293.7 L1080.9 296.1 L1080.8 299.6 L1081.3 303.4 L1081.5 307.0 L1080.9 310.2 L1080.2 313.4 L1079.6 316.2 L1078.9 318.0 L1077.9 318.0 L1077.5 316.0 L1077.3 313.2 L1077.0 310.1 L1076.5 307.0 L1076.4 303.7 L1076.2 300.0 L1075.5 296.6 L1075.0 294.3Z M1124.9 288.9 L1123.8 290.0 L1122.1 291.5 L1120.1 293.0 L1118.2 294.4 L1116.6 295.5 L1115.1 296.6 L1113.5 297.2 L1112.3 297.4 L1111.7 296.6 L1112.2 295.5 L1113.2 294.2 L1114.5 293.0 L1115.8 291.6 L1117.1 290.0 L1118.5 288.0 L1120.0 286.2 L1121.1 285.1Z M1080.9 297.6 L1076.2 299.3 L1070.6 303.3 L1065.2 308.4 L1059.5 312.2 L1055.9 316.1 L1052.5 319.7 L1047.9 322.9 L1042.6 327.2 L1035.5 332.2 L1027.0 337.5 L1017.8 342.8 L1008.3 348.1 L996.9 352.2 L984.6 357.0 L973.1 360.2 L965.2 362.5 L964.8 361.5 L972.4 358.1 L983.2 353.1 L995.3 348.4 L1005.7 342.9 L1015.0 338.0 L1023.7 332.3 L1031.7 326.6 L1038.6 321.8 L1043.9 318.0 L1047.2 314.0 L1050.9 310.8 L1055.3 307.4 L1059.9 302.3 L1065.9 297.7 L1070.6 292.8 L1073.1 288.4Z M1039.7 328.2 L1035.6 328.8 L1029.8 330.5 L1023.4 332.2 L1017.4 332.9 L1011.8 333.8 L1006.2 334.7 L1001.2 334.7 L997.7 334.4 L997.5 333.6 L1000.9 332.3 L1005.7 331.0 L1011.2 330.2 L1016.6 329.1 L1022.2 327.2 L1028.6 325.6 L1034.4 324.3 L1038.3 322.8Z M1010.0 347.0 L1008.5 349.4 L1006.3 352.8 L1003.2 356.1 L1000.6 359.1 L998.5 362.1 L996.5 365.1 L994.2 367.4 L992.4 368.9 L991.6 368.3 L992.2 366.1 L993.4 363.1 L995.4 360.0 L997.4 356.9 L999.4 353.3 L1001.6 349.4 L1004.1 346.2 L1006.0 344.0Z M1067.1 304.7 L1066.4 308.3 L1064.6 313.3 L1063.4 319.3 L1062.0 325.1 L1060.0 331.1 L1058.4 337.8 L1056.2 343.7 L1054.5 347.7 L1053.5 347.5 L1053.8 343.1 L1054.5 336.9 L1056.2 330.2 L1057.0 323.9 L1058.2 318.1 L1059.6 312.3 L1060.0 306.9 L1060.9 303.3Z M1061.3 324.3 L1062.0 325.5 L1062.8 327.3 L1063.5 329.4 L1063.8 331.4 L1064.0 333.3 L1064.2 335.1 L1064.4 336.7 L1064.1 337.9 L1063.3 338.1 L1062.5 337.2 L1061.8 335.8 L1061.1 334.1 L1060.2 332.6 L1059.3 330.9 L1058.4 328.9 L1058.0 327.0 L1057.7 325.7Z M1140.3 301.1 L1137.8 302.8 L1135.3 305.7 L1133.1 309.6 L1130.1 313.6 L1127.4 319.0 L1125.1 325.9 L1121.6 332.7 L1119.1 339.4 L1115.2 344.5 L1112.0 349.5 L1108.7 354.1 L1104.7 358.2 L1101.0 363.5 L1096.7 368.6 L1092.1 372.7 L1089.4 375.9 L1088.6 375.3 L1091.0 371.9 L1093.7 366.4 L1097.5 360.8 L1101.3 355.8 L1104.1 350.7 L1107.4 346.2 L1110.7 341.7 L1112.9 336.2 L1116.1 330.4 L1118.2 323.2 L1121.2 316.5 L1123.5 310.4 L1125.7 305.1 L1128.8 301.1 L1130.9 297.7 L1131.7 294.9Z M1121.0 334.4 L1120.2 338.2 L1118.9 343.6 L1118.4 349.7 L1117.0 355.3 L1116.1 360.7 L1115.1 366.4 L1113.6 371.3 L1112.5 374.7 L1111.5 374.5 L1111.4 370.9 L1111.5 365.8 L1112.3 360.2 L1113.0 354.7 L1113.2 349.0 L1114.5 343.0 L1114.7 337.4 L1115.0 333.6Z M1128.5 314.2 L1126.0 315.6 L1122.3 317.8 L1118.6 320.5 L1115.2 322.9 L1112.0 324.5 L1108.8 325.9 L1105.9 326.8 L1103.9 327.4 L1103.5 326.6 L1105.0 325.2 L1107.3 323.3 L1110.0 321.2 L1112.8 319.1 L1116.2 317.0 L1120.0 314.5 L1123.2 311.7 L1125.5 309.8Z M1155.2 303.0 L1155.6 308.0 L1154.7 315.3 L1155.2 323.5 L1154.4 331.5 L1154.1 340.0 L1153.4 349.1 L1152.4 357.3 L1151.5 363.0 L1150.5 363.0 L1150.0 357.2 L1149.6 349.0 L1149.5 339.8 L1149.6 331.5 L1148.9 323.5 L1149.4 315.3 L1148.4 308.1 L1148.8 303.0Z M1153.7 313.6 L1153.2 315.7 L1152.3 318.7 L1151.0 321.9 L1149.6 324.6 L1148.3 327.0 L1147.3 329.5 L1146.2 331.5 L1145.0 332.8 L1144.2 332.4 L1144.2 330.7 L1144.8 328.5 L1145.7 326.0 L1146.4 323.4 L1147.1 320.4 L1148.1 317.2 L1149.4 314.3 L1150.3 312.4Z M1156.8 308.4 L1157.8 310.3 L1158.9 313.2 L1159.7 316.6 L1160.5 319.4 L1161.5 321.8 L1162.4 324.1 L1162.8 326.2 L1162.9 327.8 L1162.1 328.2 L1161.0 327.0 L1159.6 325.3 L1158.5 323.0 L1157.5 320.6 L1156.2 317.8 L1154.6 314.8 L1153.7 311.8 L1153.2 309.6Z M1129.0 262.0 L1129.3 260.2 L1129.7 258.1 L1130.1 255.9 L1130.6 253.8 L1131.2 251.8 L1132.0 250.0 L1133.0 248.5 L1134.1 247.2 L1135.4 246.0 L1136.8 244.9 L1138.3 243.9 L1140.0 243.0 L1141.9 242.1 L1144.0 241.4 L1146.2 240.7 L1148.5 240.0 L1150.8 239.5 L1153.0 239.0 L1155.2 238.6 L1157.4 238.2 L1159.6 238.0 L1161.7 237.8 L1163.9 237.6 L1166.0 237.5 L1168.1 237.4 L1170.2 237.3 L1172.2 237.2 L1174.3 237.3 L1176.2 237.5 L1178.0 238.0 L1179.7 238.7 L1181.4 239.5 L1183.0 240.5 L1184.5 241.7 L1185.9 243.2 L1187.0 245.0 L1187.9 247.2 L1188.7 249.9 L1189.3 252.8 L1189.8 255.9 L1190.2 259.0 L1190.5 262.0 L1190.7 265.0 L1190.8 268.0 L1190.8 271.1 L1190.7 274.2 L1190.6 277.2 L1190.5 280.0 L1190.4 282.8 L1190.2 285.5 L1190.0 288.1 L1189.7 290.6 L1189.4 292.9 L1189.0 295.0 L1188.6 296.8 L1188.2 298.3 L1187.7 299.6 L1187.1 300.8 L1186.2 301.9 L1185.0 303.0 L1183.4 304.1 L1181.5 305.1 L1179.3 306.0 L1177.0 306.8 L1174.5 307.5 L1172.0 308.0 L1169.4 308.3 L1166.6 308.5 L1163.6 308.5 L1160.7 308.4 L1157.8 308.2 L1155.0 308.0 L1152.3 307.7 L1149.6 307.4 L1147.0 306.9 L1144.5 306.4 L1142.1 305.8 L1140.0 305.0 L1138.1 304.1 L1136.4 303.1 L1134.8 301.9 L1133.4 300.7 L1132.1 299.4 L1131.0 298.0 L1130.0 296.5 L1129.2 294.9 L1128.5 293.2 L1127.9 291.4 L1127.4 289.7 L1127.0 288.0 L1126.6 286.3 L1126.3 284.6 L1126.1 282.9 L1126.0 281.2 L1126.0 279.6 L1126.0 278.0 L1126.2 276.6 L1126.5 275.2 L1126.9 273.9 L1127.3 272.6 L1127.7 271.3 L1128.0 270.0 L1128.2 268.7 L1128.3 267.5 L1128.4 266.2 L1128.6 265.0 L1128.7 263.6Z" fill="#b8923f" stroke="#b8923f" stroke-width="0.5" stroke-linejoin="round"/><path d="M1134.4 257.2 L1130.5 253.6 L1123.7 251.2 L1116.7 246.9 L1109.8 243.5 L1103.6 240.0 L1098.8 235.0 L1093.6 231.8 L1089.0 229.2 L1084.6 226.7 L1079.7 225.7 L1074.8 225.7 L1070.2 224.9 L1065.4 224.9 L1060.6 226.8 L1055.1 228.5 L1049.1 228.5 L1043.2 227.7 L1037.6 227.1 L1032.4 225.4 L1027.4 223.6 L1022.8 222.8 L1018.5 222.3 L1013.6 221.3 L1006.9 220.1 L996.3 219.9 L983.1 218.9 L970.6 217.5 L961.9 217.1 L961.9 216.1 L970.6 216.0 L983.2 215.0 L996.4 214.6 L1007.1 215.3 L1014.3 215.3 L1019.6 215.8 L1023.9 217.0 L1028.6 218.0 L1034.1 218.5 L1039.4 219.7 L1044.3 221.3 L1048.9 221.5 L1053.4 220.2 L1058.4 219.0 L1064.1 218.0 L1069.8 216.7 L1075.7 216.4 L1081.3 217.7 L1086.9 219.4 L1093.0 220.8 L1098.7 224.2 L1103.7 228.8 L1109.4 232.0 L1114.2 235.9 L1120.4 239.1 L1128.0 241.3 L1134.3 244.5 L1139.6 244.8Z M1069.9 224.9 L1067.9 221.0 L1064.6 215.9 L1059.5 211.4 L1055.3 206.4 L1050.2 202.2 L1044.3 198.2 L1039.2 193.2 L1034.0 189.3 L1030.6 185.2 L1028.8 181.1 L1026.9 177.8 L1023.8 174.7 L1019.8 170.6 L1014.8 166.1 L1008.9 162.2 L1003.8 157.6 L998.1 153.4 L992.2 148.9 L987.5 144.1 L983.7 141.5 L984.3 140.5 L988.1 143.2 L994.2 146.0 L1000.4 150.2 L1006.2 154.4 L1012.1 157.9 L1017.6 162.5 L1023.2 166.4 L1028.2 170.3 L1031.2 174.7 L1033.6 178.3 L1036.0 181.3 L1038.8 184.7 L1042.8 188.9 L1048.7 192.5 L1054.2 197.2 L1059.5 201.6 L1065.0 205.9 L1069.4 211.3 L1074.3 214.9 L1078.1 217.1Z M1025.0 175.6 L1024.7 172.1 L1024.0 167.0 L1022.5 161.6 L1022.0 156.5 L1021.1 151.7 L1019.8 146.8 L1019.3 142.3 L1019.2 139.1 L1020.0 138.9 L1021.5 141.7 L1023.3 145.8 L1024.6 150.8 L1026.0 155.5 L1027.7 160.5 L1028.5 166.1 L1029.8 171.0 L1031.0 174.4Z M1038.0 193.6 L1034.7 191.8 L1029.6 190.1 L1024.1 188.2 L1019.4 186.0 L1015.0 184.3 L1010.4 183.2 L1006.4 181.9 L1003.8 180.5 L1004.0 179.5 L1007.0 179.4 L1011.1 179.9 L1015.8 181.1 L1020.6 182.0 L1025.9 183.2 L1031.4 185.4 L1036.3 187.5 L1040.0 188.4Z M1027.0 223.3 L1024.5 220.6 L1020.9 216.8 L1016.3 213.3 L1012.5 209.8 L1009.2 206.3 L1005.5 203.3 L1002.3 200.5 L1000.4 198.1 L1001.0 197.3 L1003.8 198.5 L1007.4 200.8 L1011.3 203.6 L1015.5 206.2 L1019.6 209.4 L1023.8 213.5 L1028.0 216.6 L1031.0 218.7Z M1014.8 222.6 L1011.2 223.8 L1006.0 225.1 L1000.0 226.4 L994.7 228.2 L989.3 229.7 L983.4 230.8 L978.4 232.1 L974.7 232.5 L974.3 231.5 L977.6 229.8 L982.6 227.9 L988.0 225.6 L993.3 223.8 L998.8 222.3 L1004.5 220.1 L1009.6 218.3 L1013.2 217.4Z M1057.3 229.4 L1054.6 232.3 L1050.4 236.3 L1045.1 240.2 L1040.4 244.6 L1035.3 247.8 L1029.8 250.3 L1024.6 253.3 L1019.2 256.2 L1012.9 258.8 L1006.6 262.2 L1000.4 264.6 L996.2 266.2 L995.8 265.4 L999.5 262.8 L1004.9 259.1 L1011.3 255.7 L1016.8 251.8 L1022.1 248.8 L1027.4 246.1 L1032.1 242.6 L1036.6 239.4 L1041.5 236.0 L1045.6 231.2 L1049.6 227.2 L1052.7 224.6Z M1043.5 240.5 L1040.3 240.9 L1035.9 241.9 L1030.9 243.0 L1026.3 243.2 L1021.9 243.1 L1017.5 243.2 L1013.7 243.1 L1011.0 242.5 L1011.0 241.5 L1013.6 240.6 L1017.4 240.2 L1021.6 239.7 L1025.7 238.8 L1030.1 237.7 L1035.0 237.0 L1039.5 236.3 L1042.5 235.5Z M1092.0 227.1 L1090.7 223.2 L1088.4 217.7 L1086.9 211.1 L1084.2 205.1 L1082.2 198.2 L1079.1 190.8 L1076.8 183.9 L1075.6 179.0 L1076.4 178.6 L1079.3 182.9 L1082.8 189.2 L1086.0 196.5 L1089.6 202.9 L1091.7 209.3 L1094.8 215.4 L1096.5 221.1 L1098.0 224.9Z M1081.6 202.2 L1080.2 201.1 L1078.2 199.5 L1076.0 197.9 L1074.1 196.7 L1072.5 195.8 L1070.9 195.0 L1069.6 193.9 L1068.8 193.0 L1069.2 192.0 L1070.4 191.8 L1072.1 191.8 L1074.0 192.5 L1075.9 193.3 L1078.1 194.5 L1080.6 195.8 L1082.8 197.0 L1084.4 197.8Z M1099.2 229.6 L1099.4 226.6 L1100.0 222.4 L1101.4 217.9 L1101.8 213.8 L1102.2 210.1 L1102.9 206.4 L1103.6 203.2 L1104.2 201.0 L1105.2 201.0 L1105.6 203.3 L1106.1 206.6 L1106.4 210.4 L1106.2 214.2 L1105.6 218.5 L1105.5 223.2 L1104.7 227.5 L1104.0 230.4Z M1112.9 244.3 L1110.8 245.2 L1107.6 246.5 L1103.9 247.4 L1100.3 247.9 L1096.8 248.0 L1093.2 247.9 L1090.1 247.5 L1088.0 246.5 L1088.0 245.5 L1090.2 244.7 L1093.3 244.6 L1096.7 244.6 L1099.7 244.1 L1102.6 243.0 L1105.9 241.5 L1108.9 240.4 L1111.1 239.7Z M1145.5 247.6 L1144.0 243.4 L1142.6 237.0 L1140.5 230.3 L1137.9 224.5 L1136.5 219.3 L1133.9 214.9 L1131.6 210.3 L1130.3 205.0 L1128.5 199.9 L1127.2 194.9 L1126.6 189.6 L1124.2 184.1 L1121.3 176.5 L1116.6 168.1 L1113.2 159.5 L1110.5 153.9 L1111.5 153.3 L1114.9 158.6 L1120.5 165.9 L1125.0 174.6 L1129.4 181.9 L1131.3 188.1 L1133.5 193.4 L1134.6 198.3 L1135.7 203.0 L1138.3 207.3 L1140.3 211.9 L1142.1 216.7 L1145.1 221.5 L1147.2 227.7 L1150.0 234.3 L1153.0 240.1 L1154.5 244.4Z M1129.6 196.7 L1130.5 193.3 L1130.7 188.4 L1131.3 183.0 L1132.0 178.0 L1131.7 173.1 L1132.0 167.9 L1132.1 163.3 L1132.5 160.0 L1133.5 160.0 L1134.4 163.1 L1135.2 167.7 L1136.1 172.9 L1136.0 178.0 L1136.2 183.3 L1135.9 188.9 L1135.2 193.8 L1135.4 197.3Z M1127.1 202.4 L1125.0 200.2 L1121.8 197.2 L1118.0 194.5 L1114.6 192.0 L1111.7 189.5 L1108.8 187.1 L1106.2 185.1 L1104.5 183.4 L1104.9 182.6 L1107.2 183.3 L1110.3 184.6 L1113.8 186.2 L1117.4 188.0 L1120.9 190.6 L1124.6 193.7 L1128.2 196.1 L1130.9 197.6Z M1135.8 221.0 L1134.5 220.1 L1132.8 218.9 L1130.9 217.8 L1129.2 216.9 L1127.7 216.3 L1126.0 215.8 L1124.5 215.0 L1123.5 214.0 L1123.7 213.0 L1125.0 212.4 L1126.7 212.2 L1128.7 212.5 L1130.8 213.1 L1132.9 214.1 L1135.0 215.3 L1136.9 216.3 L1138.2 217.0Z M1134.3 290.1 L1128.6 287.7 L1120.6 288.2 L1111.8 287.5 L1104.5 288.6 L1098.8 290.5 L1092.8 292.1 L1087.2 294.9 L1081.2 296.9 L1075.4 296.4 L1070.5 295.2 L1066.1 294.6 L1061.7 294.5 L1056.6 294.5 L1051.0 295.4 L1045.1 297.1 L1038.9 297.7 L1032.6 298.2 L1026.0 299.5 L1019.3 299.7 L1012.7 298.9 L1006.4 297.7 L1000.5 295.1 L995.0 292.0 L989.3 289.7 L983.1 287.1 L976.7 283.7 L970.9 281.1 L966.8 279.5 L967.2 278.5 L971.3 280.1 L977.4 282.1 L984.3 283.9 L990.7 286.3 L996.4 289.0 L1002.2 291.3 L1007.8 293.4 L1013.3 295.1 L1019.2 294.9 L1025.5 294.1 L1031.9 293.6 L1038.1 292.3 L1044.0 290.9 L1049.9 290.1 L1055.7 288.7 L1061.5 287.5 L1067.0 288.0 L1071.7 289.4 L1075.9 289.8 L1080.0 289.1 L1084.7 288.0 L1090.1 286.0 L1095.9 282.5 L1102.9 280.6 L1111.1 279.7 L1120.0 277.9 L1128.2 277.7 L1133.7 274.9Z M1101.5 284.9 L1098.9 282.0 L1095.7 277.5 L1092.6 272.1 L1088.7 267.4 L1085.5 262.0 L1082.0 256.1 L1078.6 251.1 L1077.0 247.1 L1077.8 246.5 L1081.1 249.3 L1084.7 254.2 L1089.1 259.3 L1093.3 264.0 L1096.6 269.0 L1101.0 273.5 L1104.4 277.8 L1106.5 281.1Z M1094.0 273.9 L1091.8 272.7 L1088.6 271.3 L1085.1 269.7 L1082.1 268.1 L1079.3 266.6 L1076.3 265.2 L1073.7 264.1 L1071.9 263.0 L1072.1 262.0 L1074.3 262.0 L1077.2 262.5 L1080.5 263.2 L1083.9 263.9 L1087.3 265.2 L1090.7 267.2 L1093.8 269.0 L1096.0 270.1Z M1057.7 289.7 L1056.6 286.7 L1055.8 282.1 L1055.1 277.0 L1053.6 272.7 L1052.6 268.8 L1051.8 264.7 L1050.9 261.1 L1050.5 258.6 L1051.5 258.2 L1052.9 260.4 L1054.6 263.6 L1056.7 267.3 L1058.4 271.3 L1059.5 275.8 L1061.4 280.6 L1062.9 285.0 L1063.5 288.3Z M1055.7 291.3 L1052.4 289.1 L1047.9 285.5 L1043.3 281.2 L1038.6 278.0 L1034.3 274.8 L1030.0 271.3 L1026.1 268.5 L1023.5 266.1 L1024.1 265.3 L1027.3 266.5 L1031.6 268.8 L1036.7 271.1 L1041.4 274.0 L1046.0 277.5 L1051.5 280.8 L1056.1 284.1 L1059.1 286.7Z M1026.0 301.6 L1021.0 302.4 L1013.8 303.9 L1006.2 306.6 L998.7 308.1 L991.6 310.5 L984.1 312.7 L977.4 314.4 L972.6 315.5 L972.2 314.5 L976.6 312.3 L982.9 309.3 L990.2 306.3 L997.3 303.9 L1004.4 300.9 L1012.4 299.0 L1019.3 296.4 L1024.0 294.4Z M1019.6 302.3 L1018.6 304.3 L1016.8 306.9 L1014.5 309.6 L1012.5 312.1 L1010.7 314.4 L1008.9 316.7 L1007.0 318.4 L1005.3 319.3 L1004.5 318.7 L1005.0 316.8 L1006.2 314.6 L1007.9 312.3 L1009.5 309.9 L1011.0 307.2 L1012.5 304.1 L1014.1 301.4 L1015.4 299.7Z M1081.0 293.7 L1080.9 296.1 L1080.8 299.6 L1081.3 303.4 L1081.5 307.0 L1080.9 310.2 L1080.2 313.4 L1079.6 316.2 L1078.9 318.0 L1077.9 318.0 L1077.5 316.0 L1077.3 313.2 L1077.0 310.1 L1076.5 307.0 L1076.4 303.7 L1076.2 300.0 L1075.5 296.6 L1075.0 294.3Z M1124.9 288.9 L1123.8 290.0 L1122.1 291.5 L1120.1 293.0 L1118.2 294.4 L1116.6 295.5 L1115.1 296.6 L1113.5 297.2 L1112.3 297.4 L1111.7 296.6 L1112.2 295.5 L1113.2 294.2 L1114.5 293.0 L1115.8 291.6 L1117.1 290.0 L1118.5 288.0 L1120.0 286.2 L1121.1 285.1Z M1080.9 297.6 L1076.2 299.3 L1070.6 303.3 L1065.2 308.4 L1059.5 312.2 L1055.9 316.1 L1052.5 319.7 L1047.9 322.9 L1042.6 327.2 L1035.5 332.2 L1027.0 337.5 L1017.8 342.8 L1008.3 348.1 L996.9 352.2 L984.6 357.0 L973.1 360.2 L965.2 362.5 L964.8 361.5 L972.4 358.1 L983.2 353.1 L995.3 348.4 L1005.7 342.9 L1015.0 338.0 L1023.7 332.3 L1031.7 326.6 L1038.6 321.8 L1043.9 318.0 L1047.2 314.0 L1050.9 310.8 L1055.3 307.4 L1059.9 302.3 L1065.9 297.7 L1070.6 292.8 L1073.1 288.4Z M1039.7 328.2 L1035.6 328.8 L1029.8 330.5 L1023.4 332.2 L1017.4 332.9 L1011.8 333.8 L1006.2 334.7 L1001.2 334.7 L997.7 334.4 L997.5 333.6 L1000.9 332.3 L1005.7 331.0 L1011.2 330.2 L1016.6 329.1 L1022.2 327.2 L1028.6 325.6 L1034.4 324.3 L1038.3 322.8Z M1010.0 347.0 L1008.5 349.4 L1006.3 352.8 L1003.2 356.1 L1000.6 359.1 L998.5 362.1 L996.5 365.1 L994.2 367.4 L992.4 368.9 L991.6 368.3 L992.2 366.1 L993.4 363.1 L995.4 360.0 L997.4 356.9 L999.4 353.3 L1001.6 349.4 L1004.1 346.2 L1006.0 344.0Z M1067.1 304.7 L1066.4 308.3 L1064.6 313.3 L1063.4 319.3 L1062.0 325.1 L1060.0 331.1 L1058.4 337.8 L1056.2 343.7 L1054.5 347.7 L1053.5 347.5 L1053.8 343.1 L1054.5 336.9 L1056.2 330.2 L1057.0 323.9 L1058.2 318.1 L1059.6 312.3 L1060.0 306.9 L1060.9 303.3Z M1061.3 324.3 L1062.0 325.5 L1062.8 327.3 L1063.5 329.4 L1063.8 331.4 L1064.0 333.3 L1064.2 335.1 L1064.4 336.7 L1064.1 337.9 L1063.3 338.1 L1062.5 337.2 L1061.8 335.8 L1061.1 334.1 L1060.2 332.6 L1059.3 330.9 L1058.4 328.9 L1058.0 327.0 L1057.7 325.7Z M1140.3 301.1 L1137.8 302.8 L1135.3 305.7 L1133.1 309.6 L1130.1 313.6 L1127.4 319.0 L1125.1 325.9 L1121.6 332.7 L1119.1 339.4 L1115.2 344.5 L1112.0 349.5 L1108.7 354.1 L1104.7 358.2 L1101.0 363.5 L1096.7 368.6 L1092.1 372.7 L1089.4 375.9 L1088.6 375.3 L1091.0 371.9 L1093.7 366.4 L1097.5 360.8 L1101.3 355.8 L1104.1 350.7 L1107.4 346.2 L1110.7 341.7 L1112.9 336.2 L1116.1 330.4 L1118.2 323.2 L1121.2 316.5 L1123.5 310.4 L1125.7 305.1 L1128.8 301.1 L1130.9 297.7 L1131.7 294.9Z M1121.0 334.4 L1120.2 338.2 L1118.9 343.6 L1118.4 349.7 L1117.0 355.3 L1116.1 360.7 L1115.1 366.4 L1113.6 371.3 L1112.5 374.7 L1111.5 374.5 L1111.4 370.9 L1111.5 365.8 L1112.3 360.2 L1113.0 354.7 L1113.2 349.0 L1114.5 343.0 L1114.7 337.4 L1115.0 333.6Z M1128.5 314.2 L1126.0 315.6 L1122.3 317.8 L1118.6 320.5 L1115.2 322.9 L1112.0 324.5 L1108.8 325.9 L1105.9 326.8 L1103.9 327.4 L1103.5 326.6 L1105.0 325.2 L1107.3 323.3 L1110.0 321.2 L1112.8 319.1 L1116.2 317.0 L1120.0 314.5 L1123.2 311.7 L1125.5 309.8Z M1155.2 303.0 L1155.6 308.0 L1154.7 315.3 L1155.2 323.5 L1154.4 331.5 L1154.1 340.0 L1153.4 349.1 L1152.4 357.3 L1151.5 363.0 L1150.5 363.0 L1150.0 357.2 L1149.6 349.0 L1149.5 339.8 L1149.6 331.5 L1148.9 323.5 L1149.4 315.3 L1148.4 308.1 L1148.8 303.0Z M1153.7 313.6 L1153.2 315.7 L1152.3 318.7 L1151.0 321.9 L1149.6 324.6 L1148.3 327.0 L1147.3 329.5 L1146.2 331.5 L1145.0 332.8 L1144.2 332.4 L1144.2 330.7 L1144.8 328.5 L1145.7 326.0 L1146.4 323.4 L1147.1 320.4 L1148.1 317.2 L1149.4 314.3 L1150.3 312.4Z M1156.8 308.4 L1157.8 310.3 L1158.9 313.2 L1159.7 316.6 L1160.5 319.4 L1161.5 321.8 L1162.4 324.1 L1162.8 326.2 L1162.9 327.8 L1162.1 328.2 L1161.0 327.0 L1159.6 325.3 L1158.5 323.0 L1157.5 320.6 L1156.2 317.8 L1154.6 314.8 L1153.7 311.8 L1153.2 309.6Z M1129.0 262.0 L1129.3 260.2 L1129.7 258.1 L1130.1 255.9 L1130.6 253.8 L1131.2 251.8 L1132.0 250.0 L1133.0 248.5 L1134.1 247.2 L1135.4 246.0 L1136.8 244.9 L1138.3 243.9 L1140.0 243.0 L1141.9 242.1 L1144.0 241.4 L1146.2 240.7 L1148.5 240.0 L1150.8 239.5 L1153.0 239.0 L1155.2 238.6 L1157.4 238.2 L1159.6 238.0 L1161.7 237.8 L1163.9 237.6 L1166.0 237.5 L1168.1 237.4 L1170.2 237.3 L1172.2 237.2 L1174.3 237.3 L1176.2 237.5 L1178.0 238.0 L1179.7 238.7 L1181.4 239.5 L1183.0 240.5 L1184.5 241.7 L1185.9 243.2 L1187.0 245.0 L1187.9 247.2 L1188.7 249.9 L1189.3 252.8 L1189.8 255.9 L1190.2 259.0 L1190.5 262.0 L1190.7 265.0 L1190.8 268.0 L1190.8 271.1 L1190.7 274.2 L1190.6 277.2 L1190.5 280.0 L1190.4 282.8 L1190.2 285.5 L1190.0 288.1 L1189.7 290.6 L1189.4 292.9 L1189.0 295.0 L1188.6 296.8 L1188.2 298.3 L1187.7 299.6 L1187.1 300.8 L1186.2 301.9 L1185.0 303.0 L1183.4 304.1 L1181.5 305.1 L1179.3 306.0 L1177.0 306.8 L1174.5 307.5 L1172.0 308.0 L1169.4 308.3 L1166.6 308.5 L1163.6 308.5 L1160.7 308.4 L1157.8 308.2 L1155.0 308.0 L1152.3 307.7 L1149.6 307.4 L1147.0 306.9 L1144.5 306.4 L1142.1 305.8 L1140.0 305.0 L1138.1 304.1 L1136.4 303.1 L1134.8 301.9 L1133.4 300.7 L1132.1 299.4 L1131.0 298.0 L1130.0 296.5 L1129.2 294.9 L1128.5 293.2 L1127.9 291.4 L1127.4 289.7 L1127.0 288.0 L1126.6 286.3 L1126.3 284.6 L1126.1 282.9 L1126.0 281.2 L1126.0 279.6 L1126.0 278.0 L1126.2 276.6 L1126.5 275.2 L1126.9 273.9 L1127.3 272.6 L1127.7 271.3 L1128.0 270.0 L1128.2 268.7 L1128.3 267.5 L1128.4 266.2 L1128.6 265.0 L1128.7 263.6Z" fill="#dfc384" transform="translate(-0.5 -0.6)"/><path d="M1135.8 253.8 L1131.5 251.1 L1124.8 248.5 L1117.7 244.8 L1111.0 241.4 L1105.2 237.8 L1100.2 233.3 L1095.0 229.7 L1090.1 226.9 L1085.2 224.7 L1080.2 223.5 L1075.1 223.1 L1070.1 222.7 L1065.1 223.0 L1060.0 224.6 L1054.6 226.2 L1049.0 226.6 L1043.5 226.0 L1038.1 225.0 L1032.9 223.5 L1027.7 222.1 L1023.1 221.2 L1018.8 220.5 L1013.8 219.7 L1006.9 218.8 L996.3 218.4 L983.1 217.9 L970.6 217.1 L961.9 216.8 L961.9 216.4 L970.6 216.4 L983.2 216.1 L996.4 216.1 L1007.1 216.6 L1014.1 217.0 L1019.3 217.6 L1023.6 218.6 L1028.3 219.5 L1033.6 220.4 L1038.9 221.7 L1044.0 223.1 L1049.0 223.4 L1053.9 222.5 L1059.0 221.2 L1064.4 219.9 L1069.9 218.9 L1075.4 218.9 L1080.8 219.9 L1086.3 221.4 L1091.9 223.1 L1097.3 226.3 L1102.3 230.5 L1107.8 234.2 L1113.0 238.0 L1119.4 241.3 L1126.8 244.0 L1133.3 247.0 L1138.2 248.2Z M1072.1 222.7 L1069.7 219.3 L1065.9 214.6 L1061.0 209.9 L1056.4 205.1 L1051.3 200.8 L1045.5 196.6 L1040.2 192.1 L1035.3 188.0 L1032.1 184.1 L1030.1 180.4 L1028.1 176.9 L1025.0 173.5 L1020.7 169.4 L1015.5 165.1 L1009.8 161.0 L1004.5 156.7 L998.7 152.5 L992.7 148.1 L987.6 143.9 L983.9 141.2 L984.1 140.8 L987.9 143.5 L993.6 146.8 L999.8 151.1 L1005.5 155.3 L1011.2 159.1 L1016.8 163.5 L1022.3 167.5 L1027.0 171.5 L1030.1 175.5 L1032.3 179.1 L1034.5 182.4 L1037.5 186.0 L1041.8 190.1 L1047.5 194.1 L1053.1 198.6 L1058.4 202.9 L1063.5 207.4 L1068.1 212.5 L1072.6 216.6 L1075.9 219.3Z M1026.6 175.3 L1026.1 171.8 L1025.3 166.8 L1023.9 161.3 L1023.1 156.2 L1022.0 151.4 L1020.7 146.5 L1019.9 142.1 L1019.4 139.0 L1019.8 139.0 L1020.9 141.9 L1022.4 146.1 L1023.6 151.0 L1024.9 155.8 L1026.3 160.8 L1027.3 166.4 L1028.4 171.3 L1029.4 174.7Z M1038.6 192.2 L1035.1 190.6 L1030.1 188.8 L1024.6 186.8 L1019.7 184.9 L1015.2 183.4 L1010.6 182.3 L1006.6 181.2 L1003.8 180.2 L1004.0 179.8 L1006.9 180.1 L1010.9 180.8 L1015.6 182.0 L1020.3 183.1 L1025.4 184.6 L1030.9 186.7 L1035.9 188.7 L1039.4 189.8Z M1028.1 222.0 L1025.5 219.5 L1021.7 215.9 L1017.2 212.2 L1013.3 208.8 L1009.8 205.6 L1006.0 202.6 L1002.7 200.0 L1000.6 197.9 L1000.8 197.5 L1003.4 199.0 L1006.8 201.5 L1010.7 204.4 L1014.7 207.2 L1018.7 210.5 L1023.0 214.4 L1027.0 217.7 L1029.9 220.0Z M1014.3 221.2 L1010.8 222.3 L1005.6 223.7 L999.7 225.3 L994.3 227.0 L988.9 228.6 L983.2 230.0 L978.2 231.4 L974.6 232.2 L974.4 231.8 L977.8 230.4 L982.8 228.7 L988.3 226.7 L993.7 225.0 L999.2 223.5 L1004.9 221.5 L1010.0 219.8 L1013.7 218.8Z M1056.0 228.1 L1053.3 230.9 L1049.1 234.9 L1044.1 239.0 L1039.4 243.2 L1034.4 246.4 L1029.1 249.1 L1023.9 252.1 L1018.5 255.0 L1012.5 257.9 L1006.1 261.4 L1000.2 264.1 L996.1 266.0 L995.9 265.6 L999.8 263.3 L1005.3 259.9 L1011.7 256.6 L1017.5 253.0 L1022.8 250.1 L1028.1 247.3 L1033.0 244.0 L1037.6 240.8 L1042.5 237.2 L1046.9 232.6 L1051.0 228.6 L1054.0 225.9Z M1043.2 239.1 L1040.1 239.6 L1035.6 240.5 L1030.7 241.5 L1026.1 242.0 L1021.8 242.2 L1017.5 242.4 L1013.7 242.4 L1011.0 242.2 L1011.0 241.8 L1013.6 241.3 L1017.4 241.0 L1021.7 240.6 L1025.9 240.0 L1030.3 239.1 L1035.2 238.3 L1039.7 237.6 L1042.8 236.9Z M1093.6 226.5 L1092.3 222.6 L1090.2 217.1 L1088.2 210.6 L1085.7 204.5 L1083.3 197.7 L1080.1 190.4 L1077.5 183.6 L1075.8 178.9 L1076.2 178.7 L1078.6 183.2 L1081.8 189.7 L1085.0 197.0 L1088.1 203.5 L1090.4 209.8 L1093.1 216.1 L1094.9 221.7 L1096.4 225.5Z M1082.4 201.0 L1080.9 200.0 L1078.8 198.5 L1076.6 197.0 L1074.6 195.8 L1072.9 194.9 L1071.2 194.2 L1069.9 193.4 L1068.9 192.7 L1069.1 192.3 L1070.2 192.4 L1071.8 192.7 L1073.6 193.4 L1075.4 194.2 L1077.5 195.4 L1079.9 196.8 L1082.1 198.1 L1083.6 199.0Z M1100.5 229.8 L1100.9 226.9 L1101.5 222.6 L1102.5 218.0 L1103.0 213.9 L1103.4 210.2 L1103.8 206.5 L1104.2 203.2 L1104.5 201.0 L1104.9 201.0 L1105.1 203.3 L1105.2 206.5 L1105.3 210.3 L1105.0 214.1 L1104.4 218.3 L1104.0 223.0 L1103.3 227.2 L1102.7 230.2Z M1112.4 243.0 L1110.3 243.9 L1107.2 245.1 L1103.6 246.2 L1100.1 246.8 L1096.7 247.0 L1093.2 247.0 L1090.1 246.7 L1088.0 246.2 L1088.0 245.8 L1090.2 245.5 L1093.3 245.5 L1096.7 245.5 L1099.9 245.2 L1103.0 244.2 L1106.3 242.9 L1109.4 241.7 L1111.6 241.0Z M1148.0 246.7 L1146.4 242.5 L1144.6 236.3 L1142.3 229.6 L1139.9 223.7 L1138.1 218.6 L1135.7 214.0 L1133.5 209.5 L1131.8 204.4 L1130.1 199.5 L1128.9 194.5 L1127.9 189.2 L1125.6 183.5 L1122.3 176.0 L1117.6 167.5 L1113.7 159.3 L1110.8 153.7 L1111.2 153.5 L1114.4 158.9 L1119.4 166.5 L1124.0 175.1 L1128.0 182.5 L1130.0 188.5 L1131.8 193.8 L1132.9 198.7 L1134.2 203.6 L1136.5 208.1 L1138.5 212.7 L1140.6 217.4 L1143.1 222.3 L1145.3 228.4 L1147.9 235.1 L1150.5 241.0 L1152.0 245.3Z M1131.2 196.9 L1131.8 193.5 L1132.1 188.5 L1132.7 183.1 L1133.1 178.0 L1132.9 173.0 L1132.9 167.9 L1132.7 163.3 L1132.8 160.0 L1133.2 160.0 L1133.8 163.2 L1134.3 167.8 L1134.9 173.0 L1134.9 178.0 L1134.9 183.2 L1134.5 188.7 L1133.9 193.7 L1133.8 197.1Z M1128.2 201.1 L1125.9 199.1 L1122.6 196.2 L1118.8 193.4 L1115.4 190.9 L1112.3 188.6 L1109.2 186.4 L1106.5 184.6 L1104.6 183.2 L1104.8 182.8 L1106.9 183.8 L1109.9 185.3 L1113.3 187.1 L1116.6 189.1 L1120.1 191.6 L1123.8 194.6 L1127.3 197.2 L1129.8 198.9Z M1136.4 219.9 L1135.2 219.1 L1133.4 217.9 L1131.4 216.8 L1129.6 215.9 L1128.0 215.3 L1126.2 214.8 L1124.6 214.3 L1123.6 213.7 L1123.6 213.3 L1124.8 213.1 L1126.5 213.2 L1128.4 213.6 L1130.4 214.1 L1132.3 215.1 L1134.4 216.3 L1136.3 217.4 L1137.6 218.1Z M1134.1 285.9 L1128.5 285.0 L1120.4 285.3 L1111.6 285.3 L1104.1 286.4 L1098.0 288.3 L1092.0 290.4 L1086.5 293.0 L1080.9 294.8 L1075.5 294.6 L1070.8 293.6 L1066.3 292.8 L1061.6 292.6 L1056.4 292.9 L1050.7 293.9 L1044.8 295.4 L1038.7 296.2 L1032.4 296.9 L1025.9 298.0 L1019.3 298.4 L1012.9 297.9 L1006.8 296.5 L1001.0 294.0 L995.4 291.2 L989.7 288.8 L983.4 286.3 L976.9 283.3 L971.0 280.9 L966.9 279.2 L967.1 278.8 L971.2 280.4 L977.2 282.6 L984.0 284.8 L990.3 287.2 L996.0 289.8 L1001.7 292.3 L1007.4 294.6 L1013.1 296.1 L1019.2 296.2 L1025.6 295.6 L1032.1 294.9 L1038.3 293.8 L1044.3 292.6 L1050.2 291.6 L1056.0 290.3 L1061.6 289.4 L1066.7 289.8 L1071.4 291.0 L1075.8 291.6 L1080.3 291.2 L1085.4 289.9 L1090.8 287.7 L1096.7 284.7 L1103.3 282.8 L1111.3 281.8 L1120.2 280.7 L1128.3 280.5 L1133.9 279.1Z M1102.9 283.9 L1100.4 280.9 L1097.2 276.4 L1093.7 271.2 L1090.0 266.4 L1086.5 261.2 L1082.8 255.6 L1079.3 250.6 L1077.2 246.9 L1077.6 246.7 L1080.4 249.8 L1084.0 254.7 L1088.1 260.1 L1092.0 265.0 L1095.5 269.9 L1099.5 274.6 L1102.9 279.0 L1105.1 282.1Z M1094.5 272.9 L1092.4 271.7 L1089.2 270.1 L1085.7 268.5 L1082.6 266.9 L1079.7 265.6 L1076.6 264.5 L1073.8 263.5 L1071.9 262.7 L1072.1 262.3 L1074.1 262.6 L1076.9 263.3 L1080.2 264.1 L1083.4 265.1 L1086.7 266.5 L1090.2 268.3 L1093.3 270.0 L1095.5 271.1Z M1059.3 289.3 L1058.4 286.2 L1057.4 281.7 L1056.3 276.7 L1054.9 272.3 L1053.7 268.4 L1052.6 264.4 L1051.5 260.9 L1050.8 258.5 L1051.2 258.3 L1052.4 260.6 L1053.8 263.9 L1055.6 267.7 L1057.1 271.7 L1058.3 276.1 L1059.9 281.0 L1061.2 285.5 L1061.9 288.7Z M1056.6 290.0 L1053.4 287.7 L1048.9 284.2 L1044.1 280.2 L1039.4 276.9 L1034.9 273.8 L1030.5 270.6 L1026.4 267.9 L1023.7 265.9 L1023.9 265.5 L1027.0 267.0 L1031.2 269.5 L1036.0 272.2 L1040.6 275.1 L1045.3 278.5 L1050.5 282.1 L1055.1 285.5 L1058.2 288.0Z M1025.5 299.6 L1020.5 300.8 L1013.4 302.6 L1005.7 305.0 L998.3 306.9 L991.2 309.3 L983.8 311.8 L977.1 313.8 L972.5 315.2 L972.3 314.8 L976.8 312.9 L983.2 310.2 L990.6 307.5 L997.7 305.1 L1004.9 302.4 L1012.8 300.3 L1019.7 298.1 L1024.5 296.4Z M1018.4 301.6 L1017.3 303.5 L1015.6 306.1 L1013.5 308.9 L1011.7 311.5 L1009.9 313.8 L1008.2 316.1 L1006.4 318.0 L1005.1 319.1 L1004.7 318.9 L1005.5 317.2 L1006.9 315.1 L1008.7 312.8 L1010.3 310.5 L1012.0 307.9 L1013.7 304.9 L1015.3 302.2 L1016.6 300.4Z M1079.4 293.9 L1079.4 296.3 L1079.6 299.7 L1079.9 303.5 L1080.1 307.0 L1079.8 310.2 L1079.4 313.4 L1079.0 316.1 L1078.6 318.0 L1078.2 318.0 L1078.1 316.0 L1078.1 313.3 L1078.1 310.1 L1077.9 307.0 L1077.7 303.7 L1077.5 299.9 L1077.0 296.5 L1076.6 294.1Z M1123.9 287.8 L1122.8 289.0 L1121.1 290.5 L1119.2 292.2 L1117.6 293.6 L1116.0 294.8 L1114.5 295.9 L1113.2 296.7 L1112.1 297.2 L1111.9 296.8 L1112.6 295.9 L1113.7 294.8 L1115.1 293.7 L1116.4 292.4 L1117.9 290.8 L1119.5 289.0 L1121.0 287.3 L1122.1 286.2Z M1078.8 295.1 L1074.7 297.5 L1069.3 301.7 L1063.7 306.7 L1058.3 310.9 L1054.5 314.7 L1051.1 318.2 L1046.8 321.5 L1041.5 325.7 L1034.4 330.7 L1026.1 336.0 L1017.0 341.5 L1007.6 346.7 L996.5 351.2 L984.2 355.9 L972.9 359.6 L965.1 362.2 L964.9 361.8 L972.6 358.7 L983.6 354.2 L995.8 349.5 L1006.4 344.3 L1015.8 339.3 L1024.6 333.7 L1032.7 328.2 L1039.7 323.3 L1045.0 319.3 L1048.7 315.6 L1052.3 312.3 L1056.5 308.7 L1061.4 304.0 L1067.2 299.2 L1072.1 294.6 L1075.2 290.9Z M1039.3 326.7 L1035.2 327.5 L1029.5 329.2 L1023.1 330.8 L1017.2 331.9 L1011.6 332.8 L1006.0 333.7 L1001.1 334.1 L997.6 334.2 L997.6 333.8 L1001.0 333.0 L1005.8 332.0 L1011.4 331.2 L1016.8 330.1 L1022.6 328.5 L1028.9 327.0 L1034.7 325.5 L1038.7 324.3Z M1008.9 346.2 L1007.3 348.5 L1005.0 351.8 L1002.2 355.3 L999.7 358.5 L997.7 361.5 L995.6 364.5 L993.7 367.0 L992.2 368.7 L991.8 368.5 L992.7 366.4 L994.3 363.6 L996.2 360.6 L998.3 357.5 L1000.5 354.1 L1002.9 350.3 L1005.3 347.1 L1007.1 344.8Z M1065.4 304.3 L1064.6 307.9 L1063.2 313.0 L1062.0 319.0 L1060.6 324.8 L1058.9 330.8 L1057.3 337.5 L1055.6 343.5 L1054.2 347.7 L1053.8 347.5 L1054.5 343.3 L1055.6 337.1 L1057.2 330.4 L1058.4 324.2 L1059.6 318.5 L1061.0 312.6 L1061.8 307.3 L1062.6 303.7Z M1060.3 324.7 L1060.9 326.0 L1061.6 327.8 L1062.3 329.8 L1062.8 331.7 L1063.2 333.5 L1063.6 335.3 L1063.8 336.8 L1063.9 337.9 L1063.5 338.1 L1063.0 337.1 L1062.5 335.6 L1061.9 333.9 L1061.2 332.3 L1060.4 330.5 L1059.7 328.5 L1059.1 326.6 L1058.7 325.3Z M1138.0 299.4 L1135.9 301.4 L1133.5 304.4 L1131.1 308.4 L1128.3 312.7 L1125.7 318.3 L1123.2 325.2 L1120.1 332.1 L1117.4 338.5 L1113.9 343.7 L1110.7 348.6 L1107.4 353.1 L1103.8 357.6 L1100.0 362.7 L1095.9 368.0 L1091.8 372.5 L1089.2 375.7 L1088.8 375.5 L1091.3 372.1 L1094.5 367.0 L1098.4 361.5 L1102.2 356.4 L1105.3 351.6 L1108.7 347.1 L1111.9 342.4 L1114.6 337.1 L1117.7 331.0 L1120.1 324.0 L1122.9 317.2 L1125.3 311.3 L1127.8 306.3 L1130.6 302.4 L1132.8 299.1 L1134.0 296.6Z M1119.3 334.2 L1118.7 338.0 L1117.7 343.4 L1117.0 349.5 L1115.9 355.1 L1115.0 360.6 L1114.1 366.2 L1113.0 371.2 L1112.2 374.6 L1111.8 374.6 L1112.0 371.0 L1112.5 366.0 L1113.3 360.3 L1114.1 354.9 L1114.6 349.2 L1115.7 343.1 L1116.2 337.6 L1116.7 333.8Z M1127.7 313.0 L1125.2 314.6 L1121.7 316.9 L1117.9 319.5 L1114.5 321.8 L1111.4 323.6 L1108.4 325.1 L1105.7 326.4 L1103.8 327.2 L1103.6 326.8 L1105.3 325.6 L1107.7 324.0 L1110.5 322.1 L1113.5 320.2 L1116.8 318.0 L1120.6 315.4 L1124.0 312.8 L1126.3 311.0Z M1153.4 303.0 L1153.6 308.0 L1153.3 315.3 L1153.5 323.5 L1153.1 331.5 L1152.8 339.9 L1152.4 349.1 L1151.8 357.3 L1151.2 363.0 L1150.8 363.0 L1150.6 357.2 L1150.6 349.0 L1150.8 339.9 L1150.9 331.5 L1150.6 323.5 L1150.9 315.3 L1150.4 308.1 L1150.6 303.0Z M1152.8 313.3 L1152.1 315.3 L1151.2 318.3 L1149.9 321.5 L1148.7 324.3 L1147.6 326.8 L1146.6 329.2 L1145.6 331.3 L1144.8 332.7 L1144.4 332.5 L1144.8 330.9 L1145.5 328.8 L1146.4 326.3 L1147.3 323.7 L1148.2 320.8 L1149.3 317.6 L1150.4 314.7 L1151.2 312.7Z M1155.8 308.7 L1156.6 310.7 L1157.7 313.7 L1158.7 316.9 L1159.7 319.7 L1160.7 322.1 L1161.6 324.4 L1162.3 326.4 L1162.7 327.9 L1162.3 328.1 L1161.5 326.8 L1160.4 325.0 L1159.3 322.7 L1158.3 320.3 L1157.2 317.5 L1155.8 314.3 L1154.8 311.4 L1154.2 309.3Z" fill="#e7dfd0"/><g fill="#6b5a3a" opacity="0.7"><circle cx="1134.5" cy="253.1" r="0.64"/><circle cx="1125.1" cy="249.2" r="0.70"/><circle cx="1127.8" cy="244.7" r="0.50"/><circle cx="1119.2" cy="245.0" r="0.52"/><circle cx="1121.3" cy="245.5" r="0.72"/><circle cx="1122.4" cy="249.1" r="0.61"/><circle cx="1114.0" cy="238.7" r="0.76"/><circle cx="1112.3" cy="239.9" r="0.57"/><circle cx="1110.7" cy="238.0" r="0.39"/><circle cx="1106.7" cy="239.5" r="0.55"/><circle cx="1103.7" cy="238.5" r="0.55"/><circle cx="1095.3" cy="232.1" r="0.73"/><circle cx="1098.2" cy="226.8" r="0.54"/><circle cx="1092.8" cy="225.9" r="0.54"/><circle cx="1094.2" cy="227.4" r="0.65"/><circle cx="1085.4" cy="225.5" r="0.48"/><circle cx="1082.5" cy="223.3" r="0.44"/><circle cx="1078.8" cy="221.8" r="0.79"/><circle cx="1076.1" cy="218.7" r="0.79"/><circle cx="1072.1" cy="218.9" r="0.38"/><circle cx="1067.0" cy="222.4" r="0.61"/><circle cx="1062.0" cy="221.3" r="0.48"/><circle cx="1055.6" cy="226.7" r="0.43"/><circle cx="1052.2" cy="226.8" r="0.65"/><circle cx="1045.9" cy="225.1" r="0.59"/><circle cx="1041.3" cy="225.9" r="0.43"/><circle cx="1035.2" cy="224.3" r="0.74"/><circle cx="1032.8" cy="221.7" r="0.46"/><circle cx="1025.2" cy="221.4" r="0.61"/><circle cx="1021.2" cy="219.1" r="0.39"/><circle cx="1018.6" cy="219.2" r="0.74"/><circle cx="1009.1" cy="217.0" r="0.40"/><circle cx="999.3" cy="218.6" r="0.72"/><circle cx="994.1" cy="216.0" r="0.60"/><circle cx="981.4" cy="216.2" r="0.38"/><circle cx="967.3" cy="217.8" r="0.62"/><circle cx="1074.0" cy="219.2" r="0.54"/><circle cx="1070.1" cy="213.8" r="0.60"/><circle cx="1061.6" cy="210.5" r="0.69"/><circle cx="1059.2" cy="204.4" r="0.72"/><circle cx="1056.2" cy="201.5" r="0.78"/><circle cx="1052.2" cy="202.7" r="0.62"/><circle cx="1050.0" cy="196.1" r="0.40"/><circle cx="1047.5" cy="195.0" r="0.46"/><circle cx="1045.0" cy="192.2" r="0.61"/><circle cx="1044.5" cy="196.6" r="0.40"/><circle cx="1040.3" cy="190.1" r="0.48"/><circle cx="1034.0" cy="186.5" r="0.74"/><circle cx="1032.9" cy="180.2" r="0.78"/><circle cx="1029.3" cy="179.2" r="0.58"/><circle cx="1021.2" cy="166.9" r="0.66"/><circle cx="1012.8" cy="163.1" r="0.73"/><circle cx="1005.9" cy="156.3" r="0.38"/><circle cx="1004.4" cy="154.2" r="0.62"/><circle cx="998.0" cy="151.3" r="0.56"/><circle cx="1150.5" cy="245.8" r="0.50"/><circle cx="1150.4" cy="237.9" r="0.37"/><circle cx="1149.2" cy="240.5" r="0.47"/><circle cx="1143.7" cy="232.9" r="0.61"/><circle cx="1147.6" cy="231.2" r="0.80"/><circle cx="1144.0" cy="225.1" r="0.74"/><circle cx="1142.7" cy="224.1" r="0.64"/><circle cx="1142.4" cy="220.9" r="0.74"/><circle cx="1136.9" cy="215.3" r="0.69"/><circle cx="1136.6" cy="210.8" r="0.51"/><circle cx="1132.3" cy="207.6" r="0.50"/><circle cx="1131.5" cy="199.2" r="0.52"/><circle cx="1130.6" cy="198.1" r="0.41"/><circle cx="1129.0" cy="189.6" r="0.55"/><circle cx="1127.2" cy="187.5" r="0.38"/><circle cx="1126.3" cy="180.4" r="0.60"/><circle cx="1122.6" cy="172.1" r="0.61"/><circle cx="1117.9" cy="165.5" r="0.79"/><circle cx="1111.5" cy="154.9" r="0.74"/><circle cx="1131.1" cy="278.6" r="0.47"/><circle cx="1132.8" cy="287.4" r="0.42"/><circle cx="1132.4" cy="280.5" r="0.45"/><circle cx="1126.7" cy="281.8" r="0.74"/><circle cx="1123.2" cy="285.9" r="0.68"/><circle cx="1120.6" cy="282.0" r="0.39"/><circle cx="1112.7" cy="285.0" r="0.41"/><circle cx="1118.6" cy="282.8" r="0.74"/><circle cx="1114.4" cy="279.4" r="0.45"/><circle cx="1105.5" cy="283.0" r="0.53"/><circle cx="1106.4" cy="285.8" r="0.38"/><circle cx="1108.8" cy="288.2" r="0.63"/><circle cx="1100.3" cy="284.7" r="0.47"/><circle cx="1102.0" cy="289.6" r="0.77"/><circle cx="1093.0" cy="292.5" r="0.63"/><circle cx="1093.7" cy="289.7" r="0.39"/><circle cx="1089.8" cy="287.4" r="0.39"/><circle cx="1087.2" cy="291.6" r="0.59"/><circle cx="1082.6" cy="291.1" r="0.62"/><circle cx="1083.6" cy="290.1" r="0.47"/><circle cx="1076.8" cy="290.9" r="0.49"/><circle cx="1071.1" cy="292.6" r="0.48"/><circle cx="1066.3" cy="294.0" r="0.35"/><circle cx="1063.4" cy="289.2" r="0.51"/><circle cx="1060.2" cy="289.5" r="0.39"/><circle cx="1055.9" cy="294.5" r="0.58"/><circle cx="1053.4" cy="294.2" r="0.77"/><circle cx="1050.0" cy="294.8" r="0.68"/><circle cx="1044.0" cy="296.8" r="0.70"/><circle cx="1032.3" cy="295.9" r="0.64"/><circle cx="1036.1" cy="293.7" r="0.56"/><circle cx="1026.7" cy="298.7" r="0.68"/><circle cx="1021.6" cy="297.6" r="0.74"/><circle cx="1025.3" cy="296.5" r="0.53"/><circle cx="1013.4" cy="296.4" r="0.45"/><circle cx="1011.4" cy="296.9" r="0.45"/><circle cx="1002.9" cy="293.2" r="0.48"/><circle cx="992.0" cy="290.2" r="0.74"/><circle cx="979.0" cy="282.7" r="0.48"/><circle cx="974.5" cy="280.9" r="0.42"/><circle cx="1075.0" cy="294.0" r="0.75"/><circle cx="1069.4" cy="300.6" r="0.70"/><circle cx="1070.3" cy="301.4" r="0.74"/><circle cx="1068.5" cy="304.1" r="0.40"/><circle cx="1060.9" cy="303.6" r="0.42"/><circle cx="1058.2" cy="311.5" r="0.66"/><circle cx="1050.7" cy="313.1" r="0.67"/><circle cx="1047.5" cy="322.1" r="0.46"/><circle cx="1043.6" cy="324.9" r="0.58"/><circle cx="1038.6" cy="328.0" r="0.36"/><circle cx="1034.1" cy="330.0" r="0.75"/><circle cx="1030.4" cy="333.3" r="0.54"/><circle cx="1031.7" cy="329.8" r="0.42"/><circle cx="1021.6" cy="338.9" r="0.51"/><circle cx="1008.0" cy="345.5" r="0.45"/><circle cx="997.1" cy="349.1" r="0.47"/><circle cx="993.3" cy="352.7" r="0.37"/><circle cx="990.0" cy="353.0" r="0.60"/><circle cx="983.6" cy="354.7" r="0.64"/><circle cx="968.3" cy="360.3" r="0.79"/><circle cx="1134.4" cy="302.2" r="0.54"/><circle cx="1131.6" cy="305.3" r="0.53"/><circle cx="1129.3" cy="313.4" r="0.62"/><circle cx="1128.2" cy="312.4" r="0.62"/><circle cx="1127.7" cy="314.1" r="0.40"/><circle cx="1120.2" cy="322.3" r="0.37"/><circle cx="1120.1" cy="326.6" r="0.60"/><circle cx="1118.2" cy="338.6" r="0.69"/><circle cx="1114.1" cy="340.3" r="0.80"/><circle cx="1110.1" cy="345.5" r="0.52"/><circle cx="1108.3" cy="349.6" r="0.63"/><circle cx="1104.9" cy="353.6" r="0.59"/><circle cx="1101.3" cy="360.6" r="0.76"/><circle cx="1096.3" cy="366.0" r="0.56"/><circle cx="1093.8" cy="367.5" r="0.59"/></g></g>
<path d="M1130.9 262.8 L1131.2 261.1 L1131.6 259.1 L1131.9 257.1 L1132.4 255.1 L1133.0 253.2 L1133.7 251.6 L1134.6 250.2 L1135.7 249.0 L1136.9 247.9 L1138.2 246.9 L1139.6 246.0 L1141.2 245.1 L1142.9 244.3 L1144.8 243.5 L1146.9 242.9 L1149.1 242.3 L1151.2 241.8 L1153.3 241.4 L1155.3 241.0 L1157.3 240.7 L1159.4 240.4 L1161.4 240.2 L1163.4 240.1 L1165.3 240.0 L1167.3 239.9 L1169.2 239.8 L1171.2 239.7 L1173.0 239.8 L1174.8 240.0 L1176.5 240.4 L1178.1 241.1 L1179.7 241.8 L1181.2 242.7 L1182.6 243.9 L1183.8 245.2 L1184.9 246.9 L1185.7 249.0 L1186.5 251.5 L1187.0 254.2 L1187.5 257.1 L1187.8 260.0 L1188.1 262.8 L1188.3 265.5 L1188.4 268.4 L1188.4 271.2 L1188.4 274.1 L1188.2 276.9 L1188.1 279.5 L1188.0 282.1 L1187.9 284.6 L1187.7 287.0 L1187.4 289.4 L1187.1 291.5 L1186.7 293.4 L1186.3 295.1 L1186.0 296.5 L1185.5 297.7 L1185.0 298.9 L1184.1 299.9 L1183.0 300.9 L1181.5 301.9 L1179.7 302.8 L1177.7 303.7 L1175.5 304.4 L1173.2 305.1 L1170.9 305.5 L1168.5 305.8 L1165.9 306.0 L1163.1 306.0 L1160.4 305.9 L1157.7 305.7 L1155.1 305.5 L1152.6 305.3 L1150.1 304.9 L1147.7 304.5 L1145.3 304.1 L1143.1 303.5 L1141.2 302.7 L1139.4 301.9 L1137.8 301.0 L1136.3 299.9 L1135.0 298.7 L1133.9 297.5 L1132.8 296.2 L1131.9 294.8 L1131.1 293.3 L1130.5 291.8 L1129.9 290.1 L1129.5 288.5 L1129.1 286.9 L1128.7 285.4 L1128.5 283.8 L1128.3 282.2 L1128.1 280.6 L1128.1 279.1 L1128.1 277.6 L1128.3 276.3 L1128.6 275.0 L1129.0 273.8 L1129.3 272.6 L1129.7 271.4 L1130.0 270.2 L1130.2 269.0 L1130.3 267.9 L1130.4 266.7 L1130.5 265.5 L1130.7 264.2Z" fill="url(#somar)"/>
<g fill="#5d5240" opacity="0.65"><circle cx="1159.9" cy="293.6" r="0.46"/><circle cx="1138.5" cy="294.2" r="0.56"/><circle cx="1166.7" cy="294.6" r="0.75"/><circle cx="1180.4" cy="242.6" r="0.52"/><circle cx="1178.3" cy="293.9" r="0.41"/><circle cx="1137.4" cy="256.4" r="0.40"/><circle cx="1149.6" cy="293.0" r="0.58"/><circle cx="1155.4" cy="245.5" r="0.53"/><circle cx="1155.2" cy="271.4" r="0.71"/><circle cx="1173.9" cy="249.6" r="0.66"/><circle cx="1150.2" cy="274.2" r="0.46"/><circle cx="1150.5" cy="262.3" r="0.52"/><circle cx="1162.5" cy="243.5" r="0.43"/><circle cx="1171.4" cy="257.9" r="0.50"/><circle cx="1142.7" cy="295.0" r="0.39"/><circle cx="1166.5" cy="296.6" r="0.44"/><circle cx="1153.6" cy="292.2" r="0.63"/><circle cx="1150.5" cy="242.6" r="0.55"/><circle cx="1150.3" cy="286.9" r="0.48"/><circle cx="1152.7" cy="282.7" r="0.71"/><circle cx="1149.4" cy="265.3" r="0.61"/><circle cx="1183.9" cy="252.4" r="0.79"/><circle cx="1171.0" cy="264.4" r="0.65"/><circle cx="1148.0" cy="244.4" r="0.69"/><circle cx="1151.0" cy="274.6" r="0.57"/><circle cx="1182.5" cy="289.9" r="0.36"/><circle cx="1163.9" cy="270.4" r="0.56"/><circle cx="1178.7" cy="267.2" r="0.56"/><circle cx="1181.8" cy="268.9" r="0.57"/><circle cx="1159.0" cy="294.4" r="0.65"/><circle cx="1172.8" cy="266.3" r="0.37"/><circle cx="1169.1" cy="276.4" r="0.70"/><circle cx="1174.5" cy="247.5" r="0.45"/><circle cx="1132.8" cy="293.9" r="0.40"/><circle cx="1133.4" cy="289.6" r="0.60"/><circle cx="1131.4" cy="284.8" r="0.67"/><circle cx="1157.2" cy="243.3" r="0.66"/><circle cx="1153.3" cy="278.4" r="0.80"/><circle cx="1177.4" cy="297.5" r="0.42"/><circle cx="1148.3" cy="274.1" r="0.35"/><circle cx="1143.9" cy="260.5" r="0.46"/><circle cx="1179.9" cy="276.5" r="0.58"/><circle cx="1153.5" cy="243.1" r="0.49"/><circle cx="1180.4" cy="292.9" r="0.74"/><circle cx="1143.6" cy="253.1" r="0.37"/><circle cx="1160.5" cy="264.5" r="0.56"/><circle cx="1157.6" cy="278.4" r="0.51"/><circle cx="1176.4" cy="253.0" r="0.76"/><circle cx="1161.6" cy="243.1" r="0.49"/><circle cx="1160.3" cy="266.8" r="0.60"/><circle cx="1147.6" cy="257.8" r="0.71"/><circle cx="1145.7" cy="286.8" r="0.71"/><circle cx="1163.8" cy="269.8" r="0.77"/><circle cx="1154.9" cy="297.9" r="0.38"/><circle cx="1154.3" cy="282.1" r="0.37"/><circle cx="1180.1" cy="244.5" r="0.62"/><circle cx="1139.0" cy="300.9" r="0.60"/><circle cx="1176.4" cy="272.7" r="0.65"/><circle cx="1168.8" cy="259.3" r="0.44"/><circle cx="1178.7" cy="249.4" r="0.76"/><circle cx="1140.6" cy="246.4" r="0.39"/><circle cx="1175.4" cy="302.7" r="0.54"/><circle cx="1167.8" cy="256.8" r="0.76"/><circle cx="1169.5" cy="250.0" r="0.38"/><circle cx="1170.1" cy="242.5" r="0.73"/><circle cx="1145.8" cy="255.1" r="0.61"/><circle cx="1147.3" cy="276.9" r="0.42"/><circle cx="1183.1" cy="261.2" r="0.73"/><circle cx="1137.3" cy="292.7" r="0.79"/><circle cx="1151.7" cy="241.9" r="0.52"/><circle cx="1166.8" cy="254.5" r="0.60"/><circle cx="1133.7" cy="270.5" r="0.68"/><circle cx="1154.0" cy="284.7" r="0.40"/><circle cx="1178.1" cy="247.8" r="0.77"/><circle cx="1159.9" cy="259.0" r="0.51"/><circle cx="1173.4" cy="272.6" r="0.77"/><circle cx="1133.7" cy="271.8" r="0.74"/><circle cx="1164.2" cy="275.6" r="0.39"/><circle cx="1136.5" cy="257.7" r="0.75"/><circle cx="1179.1" cy="254.8" r="0.77"/><circle cx="1130.1" cy="279.4" r="0.79"/><circle cx="1148.9" cy="302.3" r="0.65"/><circle cx="1131.1" cy="261.8" r="0.55"/><circle cx="1143.0" cy="288.9" r="0.43"/><circle cx="1175.6" cy="259.5" r="0.38"/><circle cx="1161.8" cy="246.0" r="0.60"/><circle cx="1175.6" cy="279.2" r="0.56"/><circle cx="1130.1" cy="273.7" r="0.39"/><circle cx="1167.1" cy="248.5" r="0.61"/><circle cx="1149.4" cy="264.5" r="0.65"/><circle cx="1138.0" cy="251.0" r="0.77"/><circle cx="1148.1" cy="295.5" r="0.74"/><circle cx="1157.1" cy="249.6" r="0.39"/><circle cx="1181.1" cy="247.5" r="0.57"/><circle cx="1160.4" cy="247.5" r="0.56"/><circle cx="1138.0" cy="275.2" r="0.58"/><circle cx="1150.2" cy="252.8" r="0.53"/><circle cx="1140.4" cy="248.1" r="0.46"/><circle cx="1180.7" cy="273.0" r="0.75"/><circle cx="1157.6" cy="292.1" r="0.61"/><circle cx="1169.7" cy="254.9" r="0.69"/><circle cx="1137.4" cy="257.2" r="0.36"/><circle cx="1151.8" cy="274.1" r="0.48"/><circle cx="1181.8" cy="245.3" r="0.61"/><circle cx="1142.2" cy="279.2" r="0.70"/><circle cx="1171.0" cy="243.8" r="0.46"/><circle cx="1164.2" cy="304.9" r="0.37"/><circle cx="1165.4" cy="285.6" r="0.72"/><circle cx="1148.7" cy="293.4" r="0.56"/><circle cx="1184.8" cy="267.0" r="0.53"/><circle cx="1133.4" cy="255.9" r="0.68"/><circle cx="1169.0" cy="249.7" r="0.50"/><circle cx="1136.6" cy="252.8" r="0.45"/><circle cx="1148.1" cy="304.4" r="0.80"/><circle cx="1175.8" cy="271.5" r="0.57"/><circle cx="1175.1" cy="299.9" r="0.69"/><circle cx="1166.5" cy="252.9" r="0.63"/><circle cx="1179.1" cy="291.9" r="0.39"/><circle cx="1171.4" cy="262.9" r="0.42"/><circle cx="1186.4" cy="284.3" r="0.69"/><circle cx="1136.2" cy="294.6" r="0.77"/><circle cx="1182.7" cy="289.1" r="0.72"/><circle cx="1176.5" cy="278.8" r="0.55"/><circle cx="1177.9" cy="291.7" r="0.74"/><circle cx="1146.1" cy="303.4" r="0.59"/><circle cx="1186.5" cy="291.9" r="0.46"/><circle cx="1178.7" cy="255.1" r="0.44"/><circle cx="1155.7" cy="255.4" r="0.57"/><circle cx="1182.9" cy="285.1" r="0.67"/><circle cx="1151.7" cy="291.7" r="0.71"/><circle cx="1169.3" cy="302.1" r="0.72"/><circle cx="1152.6" cy="245.5" r="0.64"/><circle cx="1178.5" cy="262.2" r="0.62"/><circle cx="1178.5" cy="292.3" r="0.35"/><circle cx="1157.6" cy="240.8" r="0.40"/><circle cx="1177.1" cy="267.5" r="0.62"/><circle cx="1155.7" cy="261.9" r="0.45"/><circle cx="1149.4" cy="295.7" r="0.63"/><circle cx="1145.7" cy="245.5" r="0.47"/><circle cx="1170.4" cy="269.0" r="0.65"/><circle cx="1176.8" cy="247.7" r="0.66"/><circle cx="1139.2" cy="257.7" r="0.78"/><circle cx="1150.0" cy="254.6" r="0.75"/><circle cx="1164.9" cy="299.0" r="0.53"/><circle cx="1158.2" cy="303.1" r="0.58"/><circle cx="1178.2" cy="250.5" r="0.59"/><circle cx="1185.1" cy="269.8" r="0.71"/><circle cx="1143.2" cy="263.1" r="0.40"/><circle cx="1161.4" cy="296.9" r="0.58"/><circle cx="1150.8" cy="301.3" r="0.75"/><circle cx="1168.3" cy="244.7" r="0.63"/><circle cx="1154.9" cy="303.2" r="0.51"/><circle cx="1168.0" cy="281.6" r="0.52"/><circle cx="1159.6" cy="284.6" r="0.76"/><circle cx="1158.1" cy="263.8" r="0.79"/><circle cx="1169.3" cy="276.7" r="0.55"/><circle cx="1173.4" cy="298.8" r="0.68"/><circle cx="1173.3" cy="242.0" r="0.50"/><circle cx="1181.9" cy="249.3" r="0.61"/><circle cx="1162.9" cy="242.8" r="0.53"/><circle cx="1173.2" cy="282.2" r="0.48"/><circle cx="1174.1" cy="259.0" r="0.59"/><circle cx="1153.5" cy="304.5" r="0.64"/><circle cx="1176.7" cy="284.6" r="0.52"/><circle cx="1186.2" cy="286.8" r="0.66"/><circle cx="1144.8" cy="250.4" r="0.61"/><circle cx="1177.9" cy="292.3" r="0.51"/><circle cx="1136.5" cy="273.9" r="0.74"/><circle cx="1137.9" cy="288.7" r="0.43"/><circle cx="1146.9" cy="243.3" r="0.48"/></g>
<g clip-path="url(#rnclip)"><ellipse cx="1167" cy="274" rx="27" ry="17.5" fill="#c9a21a"/><ellipse cx="1167.5" cy="274" rx="25.5" ry="16" fill="url(#nuc2)"/></g>
<g><path d="M145.6 291.5 L146.2 287.6 L147.8 282.0 L148.4 275.6 L150.0 269.7 L150.3 264.1 L151.3 258.5 L151.9 252.9 L152.8 247.4 L154.9 242.2 L156.7 236.8 L159.1 232.5 L160.4 229.3 L163.6 230.7 L162.2 233.8 L160.7 238.5 L158.3 243.4 L157.2 248.6 L156.1 253.6 L155.4 259.0 L155.2 264.7 L154.0 270.3 L153.5 276.5 L151.9 282.8 L151.3 288.5 L150.4 292.5Z M158.7 240.1 L156.9 239.3 L155.6 237.9 L155.1 235.5 L155.1 232.4 L155.2 229.7 L155.3 227.5 L155.4 225.7 L156.0 224.7 L157.4 225.1 L159.1 226.2 L160.5 227.2 L161.4 227.8 L162.0 228.3 L162.6 228.7 L163.3 228.9 L164.0 229.0 L165.0 229.2 L166.8 229.5 L168.8 230.0 L169.9 230.8 L169.6 231.9 L168.4 233.3 L166.8 234.8 L164.9 236.7 L162.7 238.8 L160.6 240.0Z M150.0 291.8 L153.4 288.1 L157.2 281.8 L162.8 275.7 L167.7 269.8 L172.9 265.0 L178.8 261.4 L183.8 257.1 L189.4 253.9 L193.9 249.7 L198.9 246.0 L203.6 241.9 L208.4 238.1 L213.8 234.1 L219.2 229.6 L224.5 226.2 L227.7 223.3 L230.3 226.7 L226.7 229.1 L222.2 233.4 L216.6 237.6 L211.6 241.9 L207.0 246.0 L202.3 249.9 L197.8 254.3 L192.6 258.1 L187.8 262.6 L182.0 265.9 L177.1 270.2 L172.3 274.2 L167.4 279.5 L163.2 286.2 L158.5 291.7 L156.0 296.2Z M221.3 232.3 L220.1 230.8 L219.7 228.9 L220.3 226.5 L221.8 223.8 L223.2 221.5 L224.2 219.6 L225.3 218.1 L226.3 217.5 L227.3 218.4 L228.2 220.3 L229.0 221.9 L229.5 222.8 L229.8 223.5 L230.2 224.1 L230.7 224.6 L231.3 225.0 L232.0 225.7 L233.4 226.9 L234.9 228.3 L235.6 229.5 L234.8 230.3 L233.1 230.9 L231.0 231.5 L228.4 232.3 L225.4 233.0 L223.0 233.1Z M191.4 254.0 L195.7 254.6 L201.6 256.3 L208.6 258.0 L215.8 259.9 L223.3 263.3 L231.7 267.4 L239.4 270.9 L244.8 273.3 L243.2 276.7 L237.9 274.1 L230.3 270.4 L221.8 266.8 L214.2 264.1 L207.6 261.7 L200.8 260.1 L194.7 259.2 L190.6 258.0Z M234.0 271.4 L234.8 269.6 L236.3 268.4 L238.7 268.0 L241.8 268.0 L244.5 268.2 L246.7 268.3 L248.5 268.6 L249.4 269.2 L249.1 270.5 L247.9 272.2 L246.8 273.6 L246.2 274.5 L245.7 275.0 L245.3 275.6 L245.1 276.3 L245.0 277.0 L244.7 278.0 L244.3 279.8 L243.8 281.8 L243.0 282.9 L241.9 282.5 L240.6 281.3 L239.1 279.7 L237.2 277.7 L235.2 275.4 L234.0 273.3Z M158.6 296.3 L162.5 297.6 L168.2 298.0 L174.4 299.6 L180.2 299.5 L185.3 300.5 L190.3 299.9 L195.4 300.3 L200.3 299.0 L206.5 298.1 L213.0 295.7 L219.0 293.5 L223.3 292.1 L224.7 295.9 L220.6 297.7 L214.6 300.2 L207.8 302.5 L201.7 305.0 L195.9 305.3 L190.6 306.5 L185.2 305.9 L179.8 306.5 L173.7 305.3 L167.1 305.2 L161.5 303.6 L157.4 303.7Z M214.5 298.7 L213.8 296.9 L213.9 295.0 L215.3 293.0 L217.4 290.8 L219.4 289.0 L221.0 287.5 L222.4 286.3 L223.5 286.1 L224.3 287.2 L224.6 289.3 L224.9 291.0 L225.1 292.0 L225.2 292.8 L225.4 293.5 L225.7 294.1 L226.2 294.7 L226.7 295.6 L227.7 297.1 L228.7 298.8 L229.0 300.2 L228.0 300.7 L226.2 300.8 L224.0 300.8 L221.3 300.8 L218.2 300.6 L215.9 300.0Z M159.5 302.6 L163.6 305.2 L170.2 307.2 L177.2 310.4 L183.9 313.3 L190.6 314.5 L197.3 316.4 L204.0 318.1 L210.6 318.7 L216.6 320.5 L222.5 321.1 L228.0 322.2 L233.0 322.2 L237.4 322.5 L241.3 321.3 L245.3 320.9 L249.4 319.8 L253.9 318.3 L258.9 316.9 L263.1 315.0 L266.4 314.3 L267.6 317.7 L264.7 319.3 L260.3 320.7 L255.4 322.8 L250.6 324.2 L246.4 325.3 L242.4 326.8 L237.9 327.0 L233.0 327.8 L227.5 327.3 L221.7 327.1 L215.7 325.7 L209.4 325.3 L203.0 323.5 L196.0 322.5 L188.8 321.2 L182.1 318.7 L174.8 316.7 L167.4 314.0 L161.3 310.6 L156.5 309.4Z M257.4 320.6 L256.8 318.8 L256.9 316.9 L258.3 314.9 L260.5 312.7 L262.5 310.9 L264.1 309.5 L265.5 308.3 L266.6 308.1 L267.3 309.2 L267.7 311.3 L268.0 313.0 L268.1 314.0 L268.2 314.8 L268.4 315.5 L268.7 316.1 L269.1 316.7 L269.7 317.6 L270.6 319.1 L271.7 320.9 L272.0 322.2 L270.9 322.8 L269.1 322.9 L267.0 322.8 L264.2 322.8 L261.2 322.6 L258.8 322.0Z M233.8 323.4 L238.8 325.5 L245.8 329.1 L253.6 332.9 L261.4 335.4 L269.8 336.6 L279.2 337.4 L287.7 338.0 L293.7 338.5 L293.5 341.5 L287.5 341.4 L278.9 341.1 L269.4 340.3 L260.6 338.6 L252.4 335.9 L244.2 332.5 L237.0 329.3 L232.2 326.6Z M283.0 340.4 L283.1 338.5 L284.0 336.8 L286.1 335.5 L288.9 334.4 L291.5 333.5 L293.5 332.8 L295.3 332.4 L296.4 332.6 L296.6 333.9 L296.1 335.9 L295.7 337.7 L295.4 338.7 L295.2 339.4 L295.1 340.1 L295.1 340.8 L295.3 341.5 L295.4 342.5 L295.7 344.3 L296.0 346.4 L295.6 347.7 L294.5 347.8 L292.8 347.1 L290.8 346.2 L288.4 345.1 L285.6 343.7 L283.7 342.2Z M183.3 317.2 L184.8 319.4 L187.0 322.5 L188.9 326.2 L191.1 329.0 L193.5 331.3 L195.9 333.7 L198.2 335.7 L199.9 336.9 L198.1 339.1 L196.6 337.6 L194.1 335.8 L191.2 333.7 L188.9 331.0 L186.6 327.8 L183.9 324.5 L182.0 321.1 L180.7 318.8Z M192.0 333.3 L192.9 332.1 L194.3 331.4 L196.3 331.5 L198.6 332.2 L200.7 332.8 L202.3 333.3 L203.7 333.9 L204.3 334.5 L203.8 335.5 L202.5 336.6 L201.4 337.5 L200.8 338.0 L200.3 338.3 L199.9 338.7 L199.6 339.2 L199.4 339.8 L199.0 340.5 L198.3 341.8 L197.5 343.2 L196.7 343.9 L195.9 343.4 L195.1 342.2 L194.3 340.7 L193.2 338.8 L192.1 336.6 L191.6 334.7Z M150.2 308.6 L152.2 313.3 L155.0 319.9 L158.1 327.2 L162.7 332.7 L167.5 337.6 L173.5 342.3 L180.5 346.1 L187.2 350.4 L193.2 355.1 L199.7 359.0 L205.9 362.6 L211.7 365.9 L218.6 367.4 L225.9 368.6 L232.5 369.7 L237.2 369.8 L236.8 374.2 L232.1 373.3 L225.3 373.3 L217.6 372.3 L210.3 370.1 L203.3 367.6 L196.7 363.8 L190.5 359.3 L183.8 355.6 L177.1 351.6 L170.4 346.9 L163.5 342.5 L157.3 337.3 L153.1 330.1 L148.8 322.8 L145.9 316.0 L143.8 311.4Z M226.4 372.0 L226.6 370.1 L227.5 368.4 L229.6 367.2 L232.5 366.2 L235.2 365.5 L237.2 364.8 L239.0 364.4 L240.1 364.7 L240.2 366.0 L239.7 368.0 L239.2 369.8 L238.9 370.7 L238.6 371.4 L238.5 372.1 L238.5 372.9 L238.6 373.6 L238.7 374.6 L238.9 376.4 L239.1 378.4 L238.7 379.8 L237.6 379.8 L235.9 379.1 L234.0 378.1 L231.6 376.9 L228.9 375.4 L227.0 373.8Z M187.6 352.6 L188.9 356.5 L189.7 362.5 L191.4 368.7 L192.7 374.3 L194.2 378.9 L196.3 383.0 L197.7 387.2 L200.1 390.8 L202.1 394.3 L203.7 397.6 L206.3 400.5 L209.5 403.9 L214.3 407.9 L220.0 412.5 L226.5 416.7 L232.3 421.4 L237.4 426.3 L242.4 431.0 L246.7 435.8 L252.0 439.2 L258.4 442.4 L265.7 445.1 L272.7 446.9 L277.4 448.6 L276.6 451.4 L271.7 450.3 L264.8 448.1 L257.0 445.8 L250.0 442.8 L244.6 438.4 L239.3 434.1 L234.8 429.0 L229.7 424.6 L223.8 420.4 L217.7 415.6 L211.5 411.4 L206.5 407.3 L202.8 403.5 L200.4 399.9 L197.9 396.8 L195.9 393.2 L194.1 389.0 L191.6 385.1 L190.0 380.5 L188.3 375.7 L186.5 369.9 L185.4 363.4 L183.8 357.6 L183.4 353.4Z M266.6 448.0 L267.1 446.2 L268.4 444.7 L270.7 443.9 L273.7 443.5 L276.4 443.2 L278.6 443.0 L280.4 442.9 L281.4 443.4 L281.3 444.8 L280.4 446.6 L279.5 448.2 L279.1 449.1 L278.7 449.7 L278.4 450.4 L278.3 451.1 L278.3 451.9 L278.2 452.9 L278.1 454.7 L277.9 456.7 L277.3 457.9 L276.1 457.8 L274.6 456.8 L272.9 455.4 L270.7 453.8 L268.4 451.8 L266.9 449.9Z M192.0 378.0 L192.1 380.2 L192.1 383.3 L191.7 386.8 L191.3 390.2 L190.8 393.6 L190.0 397.2 L189.0 400.2 L188.2 402.3 L185.8 401.7 L186.2 399.5 L187.0 396.3 L188.0 393.0 L188.7 389.8 L188.9 386.6 L188.8 383.2 L188.9 380.1 L189.0 378.0Z M188.7 392.6 L190.4 393.1 L191.7 394.2 L192.5 396.3 L192.9 399.0 L193.1 401.4 L193.3 403.4 L193.4 405.0 L193.0 405.9 L191.7 405.8 L190.1 405.0 L188.6 404.3 L187.8 403.9 L187.2 403.5 L186.6 403.3 L186.0 403.2 L185.3 403.2 L184.4 403.1 L182.8 403.0 L181.0 402.8 L179.9 402.3 L180.0 401.3 L180.9 399.9 L182.1 398.3 L183.6 396.4 L185.3 394.3 L187.0 392.9Z M230.8 421.5 L234.4 420.6 L239.7 420.1 L245.7 418.9 L251.8 418.6 L258.4 417.6 L265.7 417.2 L272.3 416.9 L276.9 416.4 L277.1 419.6 L272.5 419.8 L265.9 420.4 L258.7 421.2 L252.2 421.4 L246.2 422.6 L240.2 423.2 L235.0 424.3 L231.2 424.5Z M266.5 419.7 L266.4 417.8 L267.1 416.0 L269.0 414.5 L271.7 413.0 L274.1 411.8 L276.0 410.9 L277.7 410.2 L278.9 410.3 L279.2 411.6 L279.0 413.7 L278.8 415.4 L278.6 416.4 L278.5 417.2 L278.5 417.9 L278.6 418.6 L278.9 419.3 L279.1 420.3 L279.6 422.0 L280.1 424.0 L280.0 425.4 L278.9 425.6 L277.1 425.2 L275.0 424.5 L272.4 423.7 L269.5 422.7 L267.5 421.4Z M117.0 297.0 L118.6 296.0 L120.6 295.3 L123.0 294.8 L125.5 294.3 L127.9 293.7 L130.0 293.0 L131.9 292.1 L133.6 291.1 L135.3 290.1 L136.9 289.1 L138.5 288.0 L140.0 287.0 L141.5 285.9 L142.9 284.6 L144.2 283.2 L145.6 282.1 L146.8 281.3 L148.0 281.0 L149.1 281.3 L150.1 282.1 L151.1 283.2 L152.1 284.6 L153.0 285.9 L154.0 287.0 L155.0 288.0 L155.9 289.0 L156.9 290.1 L157.9 291.1 L158.9 292.1 L160.0 293.0 L161.3 293.9 L162.7 294.7 L164.1 295.5 L165.6 296.3 L166.9 297.1 L168.0 298.0 L169.0 298.9 L170.0 299.9 L170.9 300.9 L171.6 301.9 L172.0 302.9 L172.0 304.0 L171.6 305.1 L170.9 306.4 L169.8 307.6 L168.6 308.9 L167.3 310.0 L166.0 311.0 L164.6 311.8 L163.1 312.4 L161.5 313.0 L159.9 313.6 L158.4 314.2 L157.0 315.0 L155.8 316.1 L154.9 317.4 L153.9 318.8 L153.0 320.1 L152.1 321.3 L151.0 322.0 L149.8 322.3 L148.5 322.3 L147.2 322.1 L145.8 321.7 L144.4 321.3 L143.0 321.0 L141.6 320.7 L140.1 320.3 L138.6 319.8 L137.0 319.4 L135.5 319.1 L134.0 319.0 L132.5 319.1 L131.0 319.5 L129.4 320.0 L127.9 320.5 L126.4 320.9 L125.0 321.0 L123.5 321.0 L122.0 321.0 L120.6 320.9 L119.2 320.6 L118.0 320.0 L117.0 319.0 L116.3 317.6 L115.7 315.7 L115.4 313.5 L115.1 311.2 L115.0 309.0 L115.0 307.0 L115.0 305.1 L115.0 303.3 L115.1 301.5 L115.4 299.8 L116.0 298.3Z" fill="#3a2313" stroke="#3a2313" stroke-width="3.2" stroke-linejoin="round"/><path d="M145.6 291.5 L146.2 287.6 L147.8 282.0 L148.4 275.6 L150.0 269.7 L150.3 264.1 L151.3 258.5 L151.9 252.9 L152.8 247.4 L154.9 242.2 L156.7 236.8 L159.1 232.5 L160.4 229.3 L163.6 230.7 L162.2 233.8 L160.7 238.5 L158.3 243.4 L157.2 248.6 L156.1 253.6 L155.4 259.0 L155.2 264.7 L154.0 270.3 L153.5 276.5 L151.9 282.8 L151.3 288.5 L150.4 292.5Z M158.7 240.1 L156.9 239.3 L155.6 237.9 L155.1 235.5 L155.1 232.4 L155.2 229.7 L155.3 227.5 L155.4 225.7 L156.0 224.7 L157.4 225.1 L159.1 226.2 L160.5 227.2 L161.4 227.8 L162.0 228.3 L162.6 228.7 L163.3 228.9 L164.0 229.0 L165.0 229.2 L166.8 229.5 L168.8 230.0 L169.9 230.8 L169.6 231.9 L168.4 233.3 L166.8 234.8 L164.9 236.7 L162.7 238.8 L160.6 240.0Z M150.0 291.8 L153.4 288.1 L157.2 281.8 L162.8 275.7 L167.7 269.8 L172.9 265.0 L178.8 261.4 L183.8 257.1 L189.4 253.9 L193.9 249.7 L198.9 246.0 L203.6 241.9 L208.4 238.1 L213.8 234.1 L219.2 229.6 L224.5 226.2 L227.7 223.3 L230.3 226.7 L226.7 229.1 L222.2 233.4 L216.6 237.6 L211.6 241.9 L207.0 246.0 L202.3 249.9 L197.8 254.3 L192.6 258.1 L187.8 262.6 L182.0 265.9 L177.1 270.2 L172.3 274.2 L167.4 279.5 L163.2 286.2 L158.5 291.7 L156.0 296.2Z M221.3 232.3 L220.1 230.8 L219.7 228.9 L220.3 226.5 L221.8 223.8 L223.2 221.5 L224.2 219.6 L225.3 218.1 L226.3 217.5 L227.3 218.4 L228.2 220.3 L229.0 221.9 L229.5 222.8 L229.8 223.5 L230.2 224.1 L230.7 224.6 L231.3 225.0 L232.0 225.7 L233.4 226.9 L234.9 228.3 L235.6 229.5 L234.8 230.3 L233.1 230.9 L231.0 231.5 L228.4 232.3 L225.4 233.0 L223.0 233.1Z M191.4 254.0 L195.7 254.6 L201.6 256.3 L208.6 258.0 L215.8 259.9 L223.3 263.3 L231.7 267.4 L239.4 270.9 L244.8 273.3 L243.2 276.7 L237.9 274.1 L230.3 270.4 L221.8 266.8 L214.2 264.1 L207.6 261.7 L200.8 260.1 L194.7 259.2 L190.6 258.0Z M234.0 271.4 L234.8 269.6 L236.3 268.4 L238.7 268.0 L241.8 268.0 L244.5 268.2 L246.7 268.3 L248.5 268.6 L249.4 269.2 L249.1 270.5 L247.9 272.2 L246.8 273.6 L246.2 274.5 L245.7 275.0 L245.3 275.6 L245.1 276.3 L245.0 277.0 L244.7 278.0 L244.3 279.8 L243.8 281.8 L243.0 282.9 L241.9 282.5 L240.6 281.3 L239.1 279.7 L237.2 277.7 L235.2 275.4 L234.0 273.3Z M158.6 296.3 L162.5 297.6 L168.2 298.0 L174.4 299.6 L180.2 299.5 L185.3 300.5 L190.3 299.9 L195.4 300.3 L200.3 299.0 L206.5 298.1 L213.0 295.7 L219.0 293.5 L223.3 292.1 L224.7 295.9 L220.6 297.7 L214.6 300.2 L207.8 302.5 L201.7 305.0 L195.9 305.3 L190.6 306.5 L185.2 305.9 L179.8 306.5 L173.7 305.3 L167.1 305.2 L161.5 303.6 L157.4 303.7Z M214.5 298.7 L213.8 296.9 L213.9 295.0 L215.3 293.0 L217.4 290.8 L219.4 289.0 L221.0 287.5 L222.4 286.3 L223.5 286.1 L224.3 287.2 L224.6 289.3 L224.9 291.0 L225.1 292.0 L225.2 292.8 L225.4 293.5 L225.7 294.1 L226.2 294.7 L226.7 295.6 L227.7 297.1 L228.7 298.8 L229.0 300.2 L228.0 300.7 L226.2 300.8 L224.0 300.8 L221.3 300.8 L218.2 300.6 L215.9 300.0Z M159.5 302.6 L163.6 305.2 L170.2 307.2 L177.2 310.4 L183.9 313.3 L190.6 314.5 L197.3 316.4 L204.0 318.1 L210.6 318.7 L216.6 320.5 L222.5 321.1 L228.0 322.2 L233.0 322.2 L237.4 322.5 L241.3 321.3 L245.3 320.9 L249.4 319.8 L253.9 318.3 L258.9 316.9 L263.1 315.0 L266.4 314.3 L267.6 317.7 L264.7 319.3 L260.3 320.7 L255.4 322.8 L250.6 324.2 L246.4 325.3 L242.4 326.8 L237.9 327.0 L233.0 327.8 L227.5 327.3 L221.7 327.1 L215.7 325.7 L209.4 325.3 L203.0 323.5 L196.0 322.5 L188.8 321.2 L182.1 318.7 L174.8 316.7 L167.4 314.0 L161.3 310.6 L156.5 309.4Z M257.4 320.6 L256.8 318.8 L256.9 316.9 L258.3 314.9 L260.5 312.7 L262.5 310.9 L264.1 309.5 L265.5 308.3 L266.6 308.1 L267.3 309.2 L267.7 311.3 L268.0 313.0 L268.1 314.0 L268.2 314.8 L268.4 315.5 L268.7 316.1 L269.1 316.7 L269.7 317.6 L270.6 319.1 L271.7 320.9 L272.0 322.2 L270.9 322.8 L269.1 322.9 L267.0 322.8 L264.2 322.8 L261.2 322.6 L258.8 322.0Z M233.8 323.4 L238.8 325.5 L245.8 329.1 L253.6 332.9 L261.4 335.4 L269.8 336.6 L279.2 337.4 L287.7 338.0 L293.7 338.5 L293.5 341.5 L287.5 341.4 L278.9 341.1 L269.4 340.3 L260.6 338.6 L252.4 335.9 L244.2 332.5 L237.0 329.3 L232.2 326.6Z M283.0 340.4 L283.1 338.5 L284.0 336.8 L286.1 335.5 L288.9 334.4 L291.5 333.5 L293.5 332.8 L295.3 332.4 L296.4 332.6 L296.6 333.9 L296.1 335.9 L295.7 337.7 L295.4 338.7 L295.2 339.4 L295.1 340.1 L295.1 340.8 L295.3 341.5 L295.4 342.5 L295.7 344.3 L296.0 346.4 L295.6 347.7 L294.5 347.8 L292.8 347.1 L290.8 346.2 L288.4 345.1 L285.6 343.7 L283.7 342.2Z M183.3 317.2 L184.8 319.4 L187.0 322.5 L188.9 326.2 L191.1 329.0 L193.5 331.3 L195.9 333.7 L198.2 335.7 L199.9 336.9 L198.1 339.1 L196.6 337.6 L194.1 335.8 L191.2 333.7 L188.9 331.0 L186.6 327.8 L183.9 324.5 L182.0 321.1 L180.7 318.8Z M192.0 333.3 L192.9 332.1 L194.3 331.4 L196.3 331.5 L198.6 332.2 L200.7 332.8 L202.3 333.3 L203.7 333.9 L204.3 334.5 L203.8 335.5 L202.5 336.6 L201.4 337.5 L200.8 338.0 L200.3 338.3 L199.9 338.7 L199.6 339.2 L199.4 339.8 L199.0 340.5 L198.3 341.8 L197.5 343.2 L196.7 343.9 L195.9 343.4 L195.1 342.2 L194.3 340.7 L193.2 338.8 L192.1 336.6 L191.6 334.7Z M150.2 308.6 L152.2 313.3 L155.0 319.9 L158.1 327.2 L162.7 332.7 L167.5 337.6 L173.5 342.3 L180.5 346.1 L187.2 350.4 L193.2 355.1 L199.7 359.0 L205.9 362.6 L211.7 365.9 L218.6 367.4 L225.9 368.6 L232.5 369.7 L237.2 369.8 L236.8 374.2 L232.1 373.3 L225.3 373.3 L217.6 372.3 L210.3 370.1 L203.3 367.6 L196.7 363.8 L190.5 359.3 L183.8 355.6 L177.1 351.6 L170.4 346.9 L163.5 342.5 L157.3 337.3 L153.1 330.1 L148.8 322.8 L145.9 316.0 L143.8 311.4Z M226.4 372.0 L226.6 370.1 L227.5 368.4 L229.6 367.2 L232.5 366.2 L235.2 365.5 L237.2 364.8 L239.0 364.4 L240.1 364.7 L240.2 366.0 L239.7 368.0 L239.2 369.8 L238.9 370.7 L238.6 371.4 L238.5 372.1 L238.5 372.9 L238.6 373.6 L238.7 374.6 L238.9 376.4 L239.1 378.4 L238.7 379.8 L237.6 379.8 L235.9 379.1 L234.0 378.1 L231.6 376.9 L228.9 375.4 L227.0 373.8Z M187.6 352.6 L188.9 356.5 L189.7 362.5 L191.4 368.7 L192.7 374.3 L194.2 378.9 L196.3 383.0 L197.7 387.2 L200.1 390.8 L202.1 394.3 L203.7 397.6 L206.3 400.5 L209.5 403.9 L214.3 407.9 L220.0 412.5 L226.5 416.7 L232.3 421.4 L237.4 426.3 L242.4 431.0 L246.7 435.8 L252.0 439.2 L258.4 442.4 L265.7 445.1 L272.7 446.9 L277.4 448.6 L276.6 451.4 L271.7 450.3 L264.8 448.1 L257.0 445.8 L250.0 442.8 L244.6 438.4 L239.3 434.1 L234.8 429.0 L229.7 424.6 L223.8 420.4 L217.7 415.6 L211.5 411.4 L206.5 407.3 L202.8 403.5 L200.4 399.9 L197.9 396.8 L195.9 393.2 L194.1 389.0 L191.6 385.1 L190.0 380.5 L188.3 375.7 L186.5 369.9 L185.4 363.4 L183.8 357.6 L183.4 353.4Z M266.6 448.0 L267.1 446.2 L268.4 444.7 L270.7 443.9 L273.7 443.5 L276.4 443.2 L278.6 443.0 L280.4 442.9 L281.4 443.4 L281.3 444.8 L280.4 446.6 L279.5 448.2 L279.1 449.1 L278.7 449.7 L278.4 450.4 L278.3 451.1 L278.3 451.9 L278.2 452.9 L278.1 454.7 L277.9 456.7 L277.3 457.9 L276.1 457.8 L274.6 456.8 L272.9 455.4 L270.7 453.8 L268.4 451.8 L266.9 449.9Z M192.0 378.0 L192.1 380.2 L192.1 383.3 L191.7 386.8 L191.3 390.2 L190.8 393.6 L190.0 397.2 L189.0 400.2 L188.2 402.3 L185.8 401.7 L186.2 399.5 L187.0 396.3 L188.0 393.0 L188.7 389.8 L188.9 386.6 L188.8 383.2 L188.9 380.1 L189.0 378.0Z M188.7 392.6 L190.4 393.1 L191.7 394.2 L192.5 396.3 L192.9 399.0 L193.1 401.4 L193.3 403.4 L193.4 405.0 L193.0 405.9 L191.7 405.8 L190.1 405.0 L188.6 404.3 L187.8 403.9 L187.2 403.5 L186.6 403.3 L186.0 403.2 L185.3 403.2 L184.4 403.1 L182.8 403.0 L181.0 402.8 L179.9 402.3 L180.0 401.3 L180.9 399.9 L182.1 398.3 L183.6 396.4 L185.3 394.3 L187.0 392.9Z M230.8 421.5 L234.4 420.6 L239.7 420.1 L245.7 418.9 L251.8 418.6 L258.4 417.6 L265.7 417.2 L272.3 416.9 L276.9 416.4 L277.1 419.6 L272.5 419.8 L265.9 420.4 L258.7 421.2 L252.2 421.4 L246.2 422.6 L240.2 423.2 L235.0 424.3 L231.2 424.5Z M266.5 419.7 L266.4 417.8 L267.1 416.0 L269.0 414.5 L271.7 413.0 L274.1 411.8 L276.0 410.9 L277.7 410.2 L278.9 410.3 L279.2 411.6 L279.0 413.7 L278.8 415.4 L278.6 416.4 L278.5 417.2 L278.5 417.9 L278.6 418.6 L278.9 419.3 L279.1 420.3 L279.6 422.0 L280.1 424.0 L280.0 425.4 L278.9 425.6 L277.1 425.2 L275.0 424.5 L272.4 423.7 L269.5 422.7 L267.5 421.4Z M117.0 297.0 L118.6 296.0 L120.6 295.3 L123.0 294.8 L125.5 294.3 L127.9 293.7 L130.0 293.0 L131.9 292.1 L133.6 291.1 L135.3 290.1 L136.9 289.1 L138.5 288.0 L140.0 287.0 L141.5 285.9 L142.9 284.6 L144.2 283.2 L145.6 282.1 L146.8 281.3 L148.0 281.0 L149.1 281.3 L150.1 282.1 L151.1 283.2 L152.1 284.6 L153.0 285.9 L154.0 287.0 L155.0 288.0 L155.9 289.0 L156.9 290.1 L157.9 291.1 L158.9 292.1 L160.0 293.0 L161.3 293.9 L162.7 294.7 L164.1 295.5 L165.6 296.3 L166.9 297.1 L168.0 298.0 L169.0 298.9 L170.0 299.9 L170.9 300.9 L171.6 301.9 L172.0 302.9 L172.0 304.0 L171.6 305.1 L170.9 306.4 L169.8 307.6 L168.6 308.9 L167.3 310.0 L166.0 311.0 L164.6 311.8 L163.1 312.4 L161.5 313.0 L159.9 313.6 L158.4 314.2 L157.0 315.0 L155.8 316.1 L154.9 317.4 L153.9 318.8 L153.0 320.1 L152.1 321.3 L151.0 322.0 L149.8 322.3 L148.5 322.3 L147.2 322.1 L145.8 321.7 L144.4 321.3 L143.0 321.0 L141.6 320.7 L140.1 320.3 L138.6 319.8 L137.0 319.4 L135.5 319.1 L134.0 319.0 L132.5 319.1 L131.0 319.5 L129.4 320.0 L127.9 320.5 L126.4 320.9 L125.0 321.0 L123.5 321.0 L122.0 321.0 L120.6 320.9 L119.2 320.6 L118.0 320.0 L117.0 319.0 L116.3 317.6 L115.7 315.7 L115.4 313.5 L115.1 311.2 L115.0 309.0 L115.0 307.0 L115.0 305.1 L115.0 303.3 L115.1 301.5 L115.4 299.8 L116.0 298.3Z" fill="#b25e28" stroke="#b25e28" stroke-width="0.5" stroke-linejoin="round"/><path d="M145.6 291.5 L146.2 287.6 L147.8 282.0 L148.4 275.6 L150.0 269.7 L150.3 264.1 L151.3 258.5 L151.9 252.9 L152.8 247.4 L154.9 242.2 L156.7 236.8 L159.1 232.5 L160.4 229.3 L163.6 230.7 L162.2 233.8 L160.7 238.5 L158.3 243.4 L157.2 248.6 L156.1 253.6 L155.4 259.0 L155.2 264.7 L154.0 270.3 L153.5 276.5 L151.9 282.8 L151.3 288.5 L150.4 292.5Z M158.7 240.1 L156.9 239.3 L155.6 237.9 L155.1 235.5 L155.1 232.4 L155.2 229.7 L155.3 227.5 L155.4 225.7 L156.0 224.7 L157.4 225.1 L159.1 226.2 L160.5 227.2 L161.4 227.8 L162.0 228.3 L162.6 228.7 L163.3 228.9 L164.0 229.0 L165.0 229.2 L166.8 229.5 L168.8 230.0 L169.9 230.8 L169.6 231.9 L168.4 233.3 L166.8 234.8 L164.9 236.7 L162.7 238.8 L160.6 240.0Z M150.0 291.8 L153.4 288.1 L157.2 281.8 L162.8 275.7 L167.7 269.8 L172.9 265.0 L178.8 261.4 L183.8 257.1 L189.4 253.9 L193.9 249.7 L198.9 246.0 L203.6 241.9 L208.4 238.1 L213.8 234.1 L219.2 229.6 L224.5 226.2 L227.7 223.3 L230.3 226.7 L226.7 229.1 L222.2 233.4 L216.6 237.6 L211.6 241.9 L207.0 246.0 L202.3 249.9 L197.8 254.3 L192.6 258.1 L187.8 262.6 L182.0 265.9 L177.1 270.2 L172.3 274.2 L167.4 279.5 L163.2 286.2 L158.5 291.7 L156.0 296.2Z M221.3 232.3 L220.1 230.8 L219.7 228.9 L220.3 226.5 L221.8 223.8 L223.2 221.5 L224.2 219.6 L225.3 218.1 L226.3 217.5 L227.3 218.4 L228.2 220.3 L229.0 221.9 L229.5 222.8 L229.8 223.5 L230.2 224.1 L230.7 224.6 L231.3 225.0 L232.0 225.7 L233.4 226.9 L234.9 228.3 L235.6 229.5 L234.8 230.3 L233.1 230.9 L231.0 231.5 L228.4 232.3 L225.4 233.0 L223.0 233.1Z M191.4 254.0 L195.7 254.6 L201.6 256.3 L208.6 258.0 L215.8 259.9 L223.3 263.3 L231.7 267.4 L239.4 270.9 L244.8 273.3 L243.2 276.7 L237.9 274.1 L230.3 270.4 L221.8 266.8 L214.2 264.1 L207.6 261.7 L200.8 260.1 L194.7 259.2 L190.6 258.0Z M234.0 271.4 L234.8 269.6 L236.3 268.4 L238.7 268.0 L241.8 268.0 L244.5 268.2 L246.7 268.3 L248.5 268.6 L249.4 269.2 L249.1 270.5 L247.9 272.2 L246.8 273.6 L246.2 274.5 L245.7 275.0 L245.3 275.6 L245.1 276.3 L245.0 277.0 L244.7 278.0 L244.3 279.8 L243.8 281.8 L243.0 282.9 L241.9 282.5 L240.6 281.3 L239.1 279.7 L237.2 277.7 L235.2 275.4 L234.0 273.3Z M158.6 296.3 L162.5 297.6 L168.2 298.0 L174.4 299.6 L180.2 299.5 L185.3 300.5 L190.3 299.9 L195.4 300.3 L200.3 299.0 L206.5 298.1 L213.0 295.7 L219.0 293.5 L223.3 292.1 L224.7 295.9 L220.6 297.7 L214.6 300.2 L207.8 302.5 L201.7 305.0 L195.9 305.3 L190.6 306.5 L185.2 305.9 L179.8 306.5 L173.7 305.3 L167.1 305.2 L161.5 303.6 L157.4 303.7Z M214.5 298.7 L213.8 296.9 L213.9 295.0 L215.3 293.0 L217.4 290.8 L219.4 289.0 L221.0 287.5 L222.4 286.3 L223.5 286.1 L224.3 287.2 L224.6 289.3 L224.9 291.0 L225.1 292.0 L225.2 292.8 L225.4 293.5 L225.7 294.1 L226.2 294.7 L226.7 295.6 L227.7 297.1 L228.7 298.8 L229.0 300.2 L228.0 300.7 L226.2 300.8 L224.0 300.8 L221.3 300.8 L218.2 300.6 L215.9 300.0Z M159.5 302.6 L163.6 305.2 L170.2 307.2 L177.2 310.4 L183.9 313.3 L190.6 314.5 L197.3 316.4 L204.0 318.1 L210.6 318.7 L216.6 320.5 L222.5 321.1 L228.0 322.2 L233.0 322.2 L237.4 322.5 L241.3 321.3 L245.3 320.9 L249.4 319.8 L253.9 318.3 L258.9 316.9 L263.1 315.0 L266.4 314.3 L267.6 317.7 L264.7 319.3 L260.3 320.7 L255.4 322.8 L250.6 324.2 L246.4 325.3 L242.4 326.8 L237.9 327.0 L233.0 327.8 L227.5 327.3 L221.7 327.1 L215.7 325.7 L209.4 325.3 L203.0 323.5 L196.0 322.5 L188.8 321.2 L182.1 318.7 L174.8 316.7 L167.4 314.0 L161.3 310.6 L156.5 309.4Z M257.4 320.6 L256.8 318.8 L256.9 316.9 L258.3 314.9 L260.5 312.7 L262.5 310.9 L264.1 309.5 L265.5 308.3 L266.6 308.1 L267.3 309.2 L267.7 311.3 L268.0 313.0 L268.1 314.0 L268.2 314.8 L268.4 315.5 L268.7 316.1 L269.1 316.7 L269.7 317.6 L270.6 319.1 L271.7 320.9 L272.0 322.2 L270.9 322.8 L269.1 322.9 L267.0 322.8 L264.2 322.8 L261.2 322.6 L258.8 322.0Z M233.8 323.4 L238.8 325.5 L245.8 329.1 L253.6 332.9 L261.4 335.4 L269.8 336.6 L279.2 337.4 L287.7 338.0 L293.7 338.5 L293.5 341.5 L287.5 341.4 L278.9 341.1 L269.4 340.3 L260.6 338.6 L252.4 335.9 L244.2 332.5 L237.0 329.3 L232.2 326.6Z M283.0 340.4 L283.1 338.5 L284.0 336.8 L286.1 335.5 L288.9 334.4 L291.5 333.5 L293.5 332.8 L295.3 332.4 L296.4 332.6 L296.6 333.9 L296.1 335.9 L295.7 337.7 L295.4 338.7 L295.2 339.4 L295.1 340.1 L295.1 340.8 L295.3 341.5 L295.4 342.5 L295.7 344.3 L296.0 346.4 L295.6 347.7 L294.5 347.8 L292.8 347.1 L290.8 346.2 L288.4 345.1 L285.6 343.7 L283.7 342.2Z M183.3 317.2 L184.8 319.4 L187.0 322.5 L188.9 326.2 L191.1 329.0 L193.5 331.3 L195.9 333.7 L198.2 335.7 L199.9 336.9 L198.1 339.1 L196.6 337.6 L194.1 335.8 L191.2 333.7 L188.9 331.0 L186.6 327.8 L183.9 324.5 L182.0 321.1 L180.7 318.8Z M192.0 333.3 L192.9 332.1 L194.3 331.4 L196.3 331.5 L198.6 332.2 L200.7 332.8 L202.3 333.3 L203.7 333.9 L204.3 334.5 L203.8 335.5 L202.5 336.6 L201.4 337.5 L200.8 338.0 L200.3 338.3 L199.9 338.7 L199.6 339.2 L199.4 339.8 L199.0 340.5 L198.3 341.8 L197.5 343.2 L196.7 343.9 L195.9 343.4 L195.1 342.2 L194.3 340.7 L193.2 338.8 L192.1 336.6 L191.6 334.7Z M150.2 308.6 L152.2 313.3 L155.0 319.9 L158.1 327.2 L162.7 332.7 L167.5 337.6 L173.5 342.3 L180.5 346.1 L187.2 350.4 L193.2 355.1 L199.7 359.0 L205.9 362.6 L211.7 365.9 L218.6 367.4 L225.9 368.6 L232.5 369.7 L237.2 369.8 L236.8 374.2 L232.1 373.3 L225.3 373.3 L217.6 372.3 L210.3 370.1 L203.3 367.6 L196.7 363.8 L190.5 359.3 L183.8 355.6 L177.1 351.6 L170.4 346.9 L163.5 342.5 L157.3 337.3 L153.1 330.1 L148.8 322.8 L145.9 316.0 L143.8 311.4Z M226.4 372.0 L226.6 370.1 L227.5 368.4 L229.6 367.2 L232.5 366.2 L235.2 365.5 L237.2 364.8 L239.0 364.4 L240.1 364.7 L240.2 366.0 L239.7 368.0 L239.2 369.8 L238.9 370.7 L238.6 371.4 L238.5 372.1 L238.5 372.9 L238.6 373.6 L238.7 374.6 L238.9 376.4 L239.1 378.4 L238.7 379.8 L237.6 379.8 L235.9 379.1 L234.0 378.1 L231.6 376.9 L228.9 375.4 L227.0 373.8Z M187.6 352.6 L188.9 356.5 L189.7 362.5 L191.4 368.7 L192.7 374.3 L194.2 378.9 L196.3 383.0 L197.7 387.2 L200.1 390.8 L202.1 394.3 L203.7 397.6 L206.3 400.5 L209.5 403.9 L214.3 407.9 L220.0 412.5 L226.5 416.7 L232.3 421.4 L237.4 426.3 L242.4 431.0 L246.7 435.8 L252.0 439.2 L258.4 442.4 L265.7 445.1 L272.7 446.9 L277.4 448.6 L276.6 451.4 L271.7 450.3 L264.8 448.1 L257.0 445.8 L250.0 442.8 L244.6 438.4 L239.3 434.1 L234.8 429.0 L229.7 424.6 L223.8 420.4 L217.7 415.6 L211.5 411.4 L206.5 407.3 L202.8 403.5 L200.4 399.9 L197.9 396.8 L195.9 393.2 L194.1 389.0 L191.6 385.1 L190.0 380.5 L188.3 375.7 L186.5 369.9 L185.4 363.4 L183.8 357.6 L183.4 353.4Z M266.6 448.0 L267.1 446.2 L268.4 444.7 L270.7 443.9 L273.7 443.5 L276.4 443.2 L278.6 443.0 L280.4 442.9 L281.4 443.4 L281.3 444.8 L280.4 446.6 L279.5 448.2 L279.1 449.1 L278.7 449.7 L278.4 450.4 L278.3 451.1 L278.3 451.9 L278.2 452.9 L278.1 454.7 L277.9 456.7 L277.3 457.9 L276.1 457.8 L274.6 456.8 L272.9 455.4 L270.7 453.8 L268.4 451.8 L266.9 449.9Z M192.0 378.0 L192.1 380.2 L192.1 383.3 L191.7 386.8 L191.3 390.2 L190.8 393.6 L190.0 397.2 L189.0 400.2 L188.2 402.3 L185.8 401.7 L186.2 399.5 L187.0 396.3 L188.0 393.0 L188.7 389.8 L188.9 386.6 L188.8 383.2 L188.9 380.1 L189.0 378.0Z M188.7 392.6 L190.4 393.1 L191.7 394.2 L192.5 396.3 L192.9 399.0 L193.1 401.4 L193.3 403.4 L193.4 405.0 L193.0 405.9 L191.7 405.8 L190.1 405.0 L188.6 404.3 L187.8 403.9 L187.2 403.5 L186.6 403.3 L186.0 403.2 L185.3 403.2 L184.4 403.1 L182.8 403.0 L181.0 402.8 L179.9 402.3 L180.0 401.3 L180.9 399.9 L182.1 398.3 L183.6 396.4 L185.3 394.3 L187.0 392.9Z M230.8 421.5 L234.4 420.6 L239.7 420.1 L245.7 418.9 L251.8 418.6 L258.4 417.6 L265.7 417.2 L272.3 416.9 L276.9 416.4 L277.1 419.6 L272.5 419.8 L265.9 420.4 L258.7 421.2 L252.2 421.4 L246.2 422.6 L240.2 423.2 L235.0 424.3 L231.2 424.5Z M266.5 419.7 L266.4 417.8 L267.1 416.0 L269.0 414.5 L271.7 413.0 L274.1 411.8 L276.0 410.9 L277.7 410.2 L278.9 410.3 L279.2 411.6 L279.0 413.7 L278.8 415.4 L278.6 416.4 L278.5 417.2 L278.5 417.9 L278.6 418.6 L278.9 419.3 L279.1 420.3 L279.6 422.0 L280.1 424.0 L280.0 425.4 L278.9 425.6 L277.1 425.2 L275.0 424.5 L272.4 423.7 L269.5 422.7 L267.5 421.4Z M117.0 297.0 L118.6 296.0 L120.6 295.3 L123.0 294.8 L125.5 294.3 L127.9 293.7 L130.0 293.0 L131.9 292.1 L133.6 291.1 L135.3 290.1 L136.9 289.1 L138.5 288.0 L140.0 287.0 L141.5 285.9 L142.9 284.6 L144.2 283.2 L145.6 282.1 L146.8 281.3 L148.0 281.0 L149.1 281.3 L150.1 282.1 L151.1 283.2 L152.1 284.6 L153.0 285.9 L154.0 287.0 L155.0 288.0 L155.9 289.0 L156.9 290.1 L157.9 291.1 L158.9 292.1 L160.0 293.0 L161.3 293.9 L162.7 294.7 L164.1 295.5 L165.6 296.3 L166.9 297.1 L168.0 298.0 L169.0 298.9 L170.0 299.9 L170.9 300.9 L171.6 301.9 L172.0 302.9 L172.0 304.0 L171.6 305.1 L170.9 306.4 L169.8 307.6 L168.6 308.9 L167.3 310.0 L166.0 311.0 L164.6 311.8 L163.1 312.4 L161.5 313.0 L159.9 313.6 L158.4 314.2 L157.0 315.0 L155.8 316.1 L154.9 317.4 L153.9 318.8 L153.0 320.1 L152.1 321.3 L151.0 322.0 L149.8 322.3 L148.5 322.3 L147.2 322.1 L145.8 321.7 L144.4 321.3 L143.0 321.0 L141.6 320.7 L140.1 320.3 L138.6 319.8 L137.0 319.4 L135.5 319.1 L134.0 319.0 L132.5 319.1 L131.0 319.5 L129.4 320.0 L127.9 320.5 L126.4 320.9 L125.0 321.0 L123.5 321.0 L122.0 321.0 L120.6 320.9 L119.2 320.6 L118.0 320.0 L117.0 319.0 L116.3 317.6 L115.7 315.7 L115.4 313.5 L115.1 311.2 L115.0 309.0 L115.0 307.0 L115.0 305.1 L115.0 303.3 L115.1 301.5 L115.4 299.8 L116.0 298.3Z" fill="#d28144" transform="translate(-0.5 -0.6)"/><path d="M146.5 291.2 L147.2 287.2 L148.5 281.6 L149.4 275.2 L150.7 269.3 L151.2 263.7 L152.0 258.0 L152.6 252.5 L153.6 247.2 L155.5 241.9 L157.4 236.6 L159.5 232.2 L160.9 229.1 L162.3 229.7 L160.9 232.8 L159.2 237.4 L157.0 242.5 L155.6 247.6 L154.5 252.8 L153.8 258.3 L153.4 263.9 L152.5 269.5 L151.7 275.6 L150.3 281.9 L149.5 287.7 L148.7 291.6Z M151.3 292.4 L154.4 288.5 L158.5 282.4 L163.6 276.1 L168.6 270.4 L173.7 265.8 L179.3 262.0 L184.5 258.0 L189.9 254.5 L194.6 250.3 L199.5 246.5 L204.1 242.4 L208.9 238.5 L214.2 234.5 L219.6 230.0 L224.7 226.4 L228.0 223.6 L229.2 225.2 L225.7 227.7 L221.0 231.8 L215.4 236.0 L210.3 240.3 L205.7 244.2 L201.0 248.2 L196.4 252.4 L191.3 256.3 L186.3 260.5 L180.7 264.0 L175.6 268.2 L170.6 272.4 L165.7 277.8 L161.1 284.4 L156.7 290.1 L153.9 294.4Z M190.8 254.5 L195.0 255.3 L201.0 256.7 L207.9 258.4 L214.9 260.5 L222.5 263.7 L230.9 267.6 L238.6 271.2 L244.0 273.6 L243.2 275.2 L237.9 272.6 L230.3 269.0 L221.8 265.2 L214.3 262.3 L207.5 260.1 L200.6 258.4 L194.6 257.3 L190.4 256.3Z M157.9 297.7 L161.8 298.7 L167.5 299.3 L173.8 300.6 L179.7 300.8 L184.9 301.4 L190.0 301.1 L195.1 301.1 L200.3 300.1 L206.4 298.7 L213.0 296.3 L219.1 294.1 L223.3 292.6 L223.9 294.2 L219.8 295.9 L213.8 298.3 L207.1 300.7 L200.9 302.7 L195.4 303.4 L190.1 304.1 L184.9 303.8 L179.5 304.0 L173.5 303.1 L167.0 302.6 L161.4 301.4 L157.3 301.1Z M158.3 303.9 L162.6 306.1 L169.0 308.5 L176.2 311.5 L183.0 314.2 L189.7 315.7 L196.5 317.5 L203.3 319.0 L209.9 319.9 L216.0 321.4 L221.9 322.1 L227.5 323.0 L232.6 323.1 L237.2 323.1 L241.2 322.2 L245.2 321.5 L249.3 320.4 L253.9 319.0 L258.9 317.4 L263.2 315.6 L266.3 314.6 L266.9 316.2 L263.9 317.5 L259.5 319.1 L254.6 321.0 L249.9 322.4 L245.7 323.5 L241.7 324.7 L237.4 325.2 L232.6 325.7 L227.3 325.3 L221.5 324.8 L215.6 323.7 L209.3 322.9 L202.9 321.4 L195.9 320.2 L188.9 318.8 L182.2 316.6 L175.1 314.4 L167.8 311.5 L161.5 308.5 L156.9 306.9Z M232.9 323.7 L237.9 325.9 L244.9 329.4 L252.9 333.1 L260.8 335.7 L269.3 337.0 L278.7 337.8 L287.3 338.3 L293.2 338.7 L293.2 340.1 L287.2 339.8 L278.6 339.5 L269.1 338.7 L260.4 337.1 L252.4 334.4 L244.2 331.0 L237.1 327.6 L232.3 325.1Z M182.2 317.0 L183.7 319.3 L185.7 322.5 L187.9 326.0 L190.1 329.0 L192.5 331.3 L195.0 333.7 L197.3 335.6 L199.0 336.9 L198.2 337.9 L196.6 336.5 L194.2 334.6 L191.5 332.4 L189.1 329.8 L186.8 326.8 L184.3 323.3 L182.4 320.0 L181.0 317.8Z M148.0 308.8 L150.1 313.4 L152.9 320.1 L156.3 327.4 L160.8 333.3 L166.0 338.4 L172.3 343.0 L179.2 347.0 L185.9 351.2 L192.1 355.7 L198.5 359.7 L204.8 363.4 L210.9 366.5 L217.9 368.2 L225.3 369.3 L232.0 370.1 L236.7 370.4 L236.5 372.4 L231.8 371.8 L225.1 371.4 L217.5 370.4 L210.3 368.3 L203.6 365.6 L197.2 361.8 L190.8 357.6 L184.3 353.6 L177.7 349.5 L170.9 345.1 L164.2 340.6 L158.4 335.5 L154.0 328.7 L150.1 321.4 L147.2 314.7 L145.2 310.0Z M186.0 352.2 L187.1 356.2 L188.1 362.1 L189.7 368.5 L191.1 374.1 L192.7 378.7 L194.6 383.0 L196.3 387.1 L198.5 390.9 L200.6 394.4 L202.4 397.7 L204.9 400.7 L208.3 404.2 L213.1 408.3 L219.0 412.7 L225.4 417.1 L231.2 421.7 L236.3 426.5 L241.1 431.2 L245.7 435.9 L251.1 439.6 L257.6 442.7 L265.1 445.4 L272.0 447.2 L276.8 448.8 L276.4 450.0 L271.6 448.8 L264.6 446.7 L257.0 444.3 L250.1 441.2 L244.8 437.1 L239.7 432.6 L235.1 427.7 L230.0 423.1 L224.1 418.8 L218.0 414.1 L211.9 409.9 L206.9 405.8 L203.3 402.1 L200.9 398.7 L198.7 395.5 L196.7 391.9 L194.7 387.9 L192.5 383.9 L190.8 379.4 L189.1 374.7 L187.4 369.0 L186.2 362.5 L184.8 356.7 L184.2 352.6Z M190.8 377.4 L190.8 379.6 L190.8 382.7 L190.5 386.2 L190.2 389.5 L189.6 392.8 L188.7 396.3 L187.8 399.4 L187.1 401.6 L186.1 401.2 L186.6 399.1 L187.4 396.0 L188.3 392.5 L189.0 389.3 L189.3 386.1 L189.3 382.6 L189.3 379.5 L189.4 377.4Z M230.5 421.7 L234.2 421.0 L239.4 420.3 L245.5 419.3 L251.5 418.8 L258.1 418.0 L265.4 417.5 L272.0 417.1 L276.5 416.7 L276.7 418.1 L272.1 418.4 L265.5 418.9 L258.2 419.6 L251.7 420.0 L245.7 421.0 L239.6 421.7 L234.4 422.7 L230.7 423.1Z" fill="#dd9459"/><g fill="#7a3a18" opacity="0.7"><circle cx="151.2" cy="288.6" r="0.43"/><circle cx="150.6" cy="291.2" r="0.44"/><circle cx="147.1" cy="285.2" r="0.47"/><circle cx="148.6" cy="285.7" r="0.78"/><circle cx="147.5" cy="286.2" r="0.76"/><circle cx="151.5" cy="277.2" r="0.70"/><circle cx="148.4" cy="280.0" r="0.69"/><circle cx="150.7" cy="279.4" r="0.65"/><circle cx="150.6" cy="274.2" r="0.76"/><circle cx="150.4" cy="272.6" r="0.63"/><circle cx="150.3" cy="265.4" r="0.72"/><circle cx="151.7" cy="266.7" r="0.77"/><circle cx="150.9" cy="268.3" r="0.38"/><circle cx="154.0" cy="260.2" r="0.54"/><circle cx="151.3" cy="259.6" r="0.49"/><circle cx="154.6" cy="253.5" r="0.66"/><circle cx="153.3" cy="254.4" r="0.77"/><circle cx="153.8" cy="251.3" r="0.71"/><circle cx="152.9" cy="251.1" r="0.74"/><circle cx="156.6" cy="245.5" r="0.76"/><circle cx="154.5" cy="247.1" r="0.38"/><circle cx="159.2" cy="240.8" r="0.65"/><circle cx="157.4" cy="239.6" r="0.61"/><circle cx="161.5" cy="234.4" r="0.73"/><circle cx="159.7" cy="237.3" r="0.69"/><circle cx="163.5" cy="231.0" r="0.68"/><circle cx="157.1" cy="292.9" r="0.41"/><circle cx="156.3" cy="292.0" r="0.63"/><circle cx="151.3" cy="291.1" r="0.62"/><circle cx="155.5" cy="287.1" r="0.45"/><circle cx="157.4" cy="290.1" r="0.79"/><circle cx="158.6" cy="284.6" r="0.66"/><circle cx="158.2" cy="290.9" r="0.50"/><circle cx="161.3" cy="278.5" r="0.47"/><circle cx="160.2" cy="283.4" r="0.60"/><circle cx="161.6" cy="276.9" r="0.72"/><circle cx="159.2" cy="282.2" r="0.63"/><circle cx="160.9" cy="281.1" r="0.61"/><circle cx="167.5" cy="271.9" r="0.73"/><circle cx="169.2" cy="273.2" r="0.36"/><circle cx="166.6" cy="271.2" r="0.58"/><circle cx="165.0" cy="273.3" r="0.63"/><circle cx="172.5" cy="268.9" r="0.58"/><circle cx="171.8" cy="268.1" r="0.74"/><circle cx="176.3" cy="269.1" r="0.78"/><circle cx="178.7" cy="261.5" r="0.57"/><circle cx="175.6" cy="266.8" r="0.66"/><circle cx="178.6" cy="264.5" r="0.50"/><circle cx="175.7" cy="266.3" r="0.48"/><circle cx="184.4" cy="260.9" r="0.55"/><circle cx="182.2" cy="263.9" r="0.44"/><circle cx="182.0" cy="262.9" r="0.67"/><circle cx="186.5" cy="261.2" r="0.78"/><circle cx="190.3" cy="258.1" r="0.38"/><circle cx="185.1" cy="256.7" r="0.74"/><circle cx="190.0" cy="257.7" r="0.47"/><circle cx="192.3" cy="255.9" r="0.80"/><circle cx="190.8" cy="252.7" r="0.43"/><circle cx="194.2" cy="256.3" r="0.71"/><circle cx="194.9" cy="249.9" r="0.42"/><circle cx="199.5" cy="248.7" r="0.80"/><circle cx="201.3" cy="249.5" r="0.56"/><circle cx="199.8" cy="245.8" r="0.60"/><circle cx="202.0" cy="244.7" r="0.46"/><circle cx="210.3" cy="241.2" r="0.78"/><circle cx="209.7" cy="239.8" r="0.68"/><circle cx="208.2" cy="243.7" r="0.73"/><circle cx="209.2" cy="238.8" r="0.61"/><circle cx="210.4" cy="236.5" r="0.72"/><circle cx="214.0" cy="236.6" r="0.37"/><circle cx="216.8" cy="231.9" r="0.50"/><circle cx="219.8" cy="234.6" r="0.57"/><circle cx="220.9" cy="229.8" r="0.76"/><circle cx="221.4" cy="228.6" r="0.62"/><circle cx="226.1" cy="227.0" r="0.61"/><circle cx="228.3" cy="226.7" r="0.55"/><circle cx="194.5" cy="254.5" r="0.56"/><circle cx="192.5" cy="257.2" r="0.67"/><circle cx="198.9" cy="258.7" r="0.56"/><circle cx="195.6" cy="259.1" r="0.62"/><circle cx="195.8" cy="255.7" r="0.79"/><circle cx="203.6" cy="260.2" r="0.72"/><circle cx="205.3" cy="260.4" r="0.37"/><circle cx="201.3" cy="260.6" r="0.71"/><circle cx="208.8" cy="258.8" r="0.77"/><circle cx="209.4" cy="261.1" r="0.77"/><circle cx="211.9" cy="263.1" r="0.47"/><circle cx="214.7" cy="263.2" r="0.40"/><circle cx="222.0" cy="265.9" r="0.43"/><circle cx="221.7" cy="263.0" r="0.58"/><circle cx="228.5" cy="269.7" r="0.76"/><circle cx="221.9" cy="266.5" r="0.60"/><circle cx="229.5" cy="268.2" r="0.63"/><circle cx="227.0" cy="268.6" r="0.38"/><circle cx="235.6" cy="270.0" r="0.53"/><circle cx="230.6" cy="269.9" r="0.36"/><circle cx="236.8" cy="273.1" r="0.56"/><circle cx="231.6" cy="269.9" r="0.44"/><circle cx="238.4" cy="274.7" r="0.60"/><circle cx="241.3" cy="271.8" r="0.68"/><circle cx="161.8" cy="297.7" r="0.52"/><circle cx="158.9" cy="302.0" r="0.42"/><circle cx="167.3" cy="303.4" r="0.35"/><circle cx="162.8" cy="298.1" r="0.66"/><circle cx="165.4" cy="301.3" r="0.56"/><circle cx="171.4" cy="303.1" r="0.76"/><circle cx="172.1" cy="304.2" r="0.76"/><circle cx="172.8" cy="303.7" r="0.36"/><circle cx="171.7" cy="304.5" r="0.54"/><circle cx="174.9" cy="305.4" r="0.55"/><circle cx="178.4" cy="301.3" r="0.49"/><circle cx="176.2" cy="301.5" r="0.39"/><circle cx="185.1" cy="304.2" r="0.77"/><circle cx="183.9" cy="305.2" r="0.80"/><circle cx="184.0" cy="301.7" r="0.46"/><circle cx="185.4" cy="301.6" r="0.75"/><circle cx="190.0" cy="302.2" r="0.70"/><circle cx="189.3" cy="305.5" r="0.71"/><circle cx="191.1" cy="305.0" r="0.49"/><circle cx="193.6" cy="302.2" r="0.59"/><circle cx="196.5" cy="302.9" r="0.64"/><circle cx="198.9" cy="304.8" r="0.53"/><circle cx="205.9" cy="303.2" r="0.39"/><circle cx="202.0" cy="300.5" r="0.76"/><circle cx="209.3" cy="300.7" r="0.80"/><circle cx="208.2" cy="299.6" r="0.66"/><circle cx="212.2" cy="299.9" r="0.69"/><circle cx="214.5" cy="295.2" r="0.66"/><circle cx="214.6" cy="296.4" r="0.78"/><circle cx="217.8" cy="296.8" r="0.65"/><circle cx="222.4" cy="293.6" r="0.38"/><circle cx="219.3" cy="293.4" r="0.51"/><circle cx="158.5" cy="306.2" r="0.79"/><circle cx="161.7" cy="305.8" r="0.70"/><circle cx="159.9" cy="303.7" r="0.49"/><circle cx="167.0" cy="309.4" r="0.68"/><circle cx="161.9" cy="310.9" r="0.50"/><circle cx="169.0" cy="307.1" r="0.72"/><circle cx="162.9" cy="310.8" r="0.71"/><circle cx="172.1" cy="308.3" r="0.44"/><circle cx="176.2" cy="311.1" r="0.65"/><circle cx="172.6" cy="313.4" r="0.43"/><circle cx="170.9" cy="308.5" r="0.79"/><circle cx="180.4" cy="315.6" r="0.45"/><circle cx="177.6" cy="310.6" r="0.73"/><circle cx="175.9" cy="316.8" r="0.51"/><circle cx="181.9" cy="313.0" r="0.70"/><circle cx="185.4" cy="316.8" r="0.40"/><circle cx="184.1" cy="318.3" r="0.48"/><circle cx="185.1" cy="318.4" r="0.45"/><circle cx="184.8" cy="314.6" r="0.52"/><circle cx="194.2" cy="318.7" r="0.74"/><circle cx="189.8" cy="319.0" r="0.73"/><circle cx="192.0" cy="315.3" r="0.55"/><circle cx="190.6" cy="317.8" r="0.67"/><circle cx="197.5" cy="319.5" r="0.43"/><circle cx="198.3" cy="319.4" r="0.40"/><circle cx="197.3" cy="318.7" r="0.56"/><circle cx="203.0" cy="321.1" r="0.38"/><circle cx="208.3" cy="322.1" r="0.74"/><circle cx="209.4" cy="324.1" r="0.40"/><circle cx="209.6" cy="322.1" r="0.46"/><circle cx="204.2" cy="323.2" r="0.45"/><circle cx="211.2" cy="324.8" r="0.56"/><circle cx="215.0" cy="320.3" r="0.55"/><circle cx="212.3" cy="320.6" r="0.65"/><circle cx="212.6" cy="320.1" r="0.79"/><circle cx="217.7" cy="320.4" r="0.64"/><circle cx="219.7" cy="320.8" r="0.56"/><circle cx="220.5" cy="324.0" r="0.46"/><circle cx="225.4" cy="325.3" r="0.42"/><circle cx="226.4" cy="327.1" r="0.68"/><circle cx="227.1" cy="323.9" r="0.76"/><circle cx="228.9" cy="325.3" r="0.76"/><circle cx="228.3" cy="323.2" r="0.37"/><circle cx="230.2" cy="322.8" r="0.44"/><circle cx="235.9" cy="327.2" r="0.53"/><circle cx="236.0" cy="322.2" r="0.78"/><circle cx="239.7" cy="324.5" r="0.78"/><circle cx="240.2" cy="327.0" r="0.63"/><circle cx="244.9" cy="321.8" r="0.80"/><circle cx="243.4" cy="322.2" r="0.78"/><circle cx="247.4" cy="321.9" r="0.65"/><circle cx="245.8" cy="322.5" r="0.42"/><circle cx="250.2" cy="322.5" r="0.47"/><circle cx="252.2" cy="321.6" r="0.67"/><circle cx="255.2" cy="318.4" r="0.78"/><circle cx="254.8" cy="318.7" r="0.58"/><circle cx="262.7" cy="315.4" r="0.46"/><circle cx="260.4" cy="318.9" r="0.55"/><circle cx="266.9" cy="316.8" r="0.74"/><circle cx="233.4" cy="327.5" r="0.53"/><circle cx="232.4" cy="326.8" r="0.40"/><circle cx="240.4" cy="327.5" r="0.79"/><circle cx="244.2" cy="330.0" r="0.59"/><circle cx="243.3" cy="331.5" r="0.64"/><circle cx="246.4" cy="330.2" r="0.65"/><circle cx="249.2" cy="334.1" r="0.75"/><circle cx="253.3" cy="333.0" r="0.38"/><circle cx="258.0" cy="334.6" r="0.66"/><circle cx="255.4" cy="333.9" r="0.51"/><circle cx="257.0" cy="336.5" r="0.38"/><circle cx="266.4" cy="337.8" r="0.65"/><circle cx="268.2" cy="336.1" r="0.56"/><circle cx="266.7" cy="338.9" r="0.64"/><circle cx="278.6" cy="340.4" r="0.45"/><circle cx="273.5" cy="340.7" r="0.44"/><circle cx="273.3" cy="340.7" r="0.76"/><circle cx="271.7" cy="339.6" r="0.51"/><circle cx="285.7" cy="338.1" r="0.45"/><circle cx="280.9" cy="338.4" r="0.37"/><circle cx="280.2" cy="338.9" r="0.54"/><circle cx="291.0" cy="341.6" r="0.61"/><circle cx="289.7" cy="340.6" r="0.55"/><circle cx="184.4" cy="318.0" r="0.65"/><circle cx="182.5" cy="322.5" r="0.70"/><circle cx="184.6" cy="323.3" r="0.64"/><circle cx="188.7" cy="326.2" r="0.69"/><circle cx="187.3" cy="328.5" r="0.62"/><circle cx="191.8" cy="332.4" r="0.44"/><circle cx="193.2" cy="334.3" r="0.47"/><circle cx="193.8" cy="331.2" r="0.43"/><circle cx="195.6" cy="334.0" r="0.47"/><circle cx="149.6" cy="309.0" r="0.77"/><circle cx="151.3" cy="313.5" r="0.50"/><circle cx="150.5" cy="316.6" r="0.57"/><circle cx="152.6" cy="315.2" r="0.39"/><circle cx="152.1" cy="314.6" r="0.63"/><circle cx="152.6" cy="318.7" r="0.71"/><circle cx="153.2" cy="323.8" r="0.43"/><circle cx="154.9" cy="328.3" r="0.37"/><circle cx="151.3" cy="323.1" r="0.52"/><circle cx="156.2" cy="325.8" r="0.71"/><circle cx="155.5" cy="329.6" r="0.44"/><circle cx="157.1" cy="334.3" r="0.71"/><circle cx="158.8" cy="328.6" r="0.65"/><circle cx="160.0" cy="330.9" r="0.44"/><circle cx="160.0" cy="336.2" r="0.46"/><circle cx="161.8" cy="335.9" r="0.59"/><circle cx="166.0" cy="336.4" r="0.68"/><circle cx="162.1" cy="335.1" r="0.64"/><circle cx="168.0" cy="344.9" r="0.44"/><circle cx="166.9" cy="342.3" r="0.47"/><circle cx="167.5" cy="339.4" r="0.70"/><circle cx="170.1" cy="344.9" r="0.78"/><circle cx="174.7" cy="345.0" r="0.67"/><circle cx="172.0" cy="345.4" r="0.39"/><circle cx="172.3" cy="344.9" r="0.42"/><circle cx="177.2" cy="350.5" r="0.56"/><circle cx="179.6" cy="349.4" r="0.58"/><circle cx="180.6" cy="351.5" r="0.59"/><circle cx="185.2" cy="350.1" r="0.38"/><circle cx="181.5" cy="350.4" r="0.46"/><circle cx="187.5" cy="353.1" r="0.56"/><circle cx="189.2" cy="357.3" r="0.52"/><circle cx="187.0" cy="356.9" r="0.77"/><circle cx="192.7" cy="357.4" r="0.64"/><circle cx="195.0" cy="356.2" r="0.79"/><circle cx="198.8" cy="359.3" r="0.56"/><circle cx="201.3" cy="360.5" r="0.69"/><circle cx="203.3" cy="363.9" r="0.39"/><circle cx="201.8" cy="360.9" r="0.78"/><circle cx="205.9" cy="367.2" r="0.41"/><circle cx="206.2" cy="363.4" r="0.42"/><circle cx="207.3" cy="368.2" r="0.43"/><circle cx="216.5" cy="369.1" r="0.50"/><circle cx="212.2" cy="367.0" r="0.79"/><circle cx="212.1" cy="367.0" r="0.68"/><circle cx="224.9" cy="370.7" r="0.78"/><circle cx="222.8" cy="369.5" r="0.56"/><circle cx="223.3" cy="371.8" r="0.41"/><circle cx="232.2" cy="369.7" r="0.72"/><circle cx="228.0" cy="370.0" r="0.46"/><circle cx="228.5" cy="373.5" r="0.42"/><circle cx="234.0" cy="370.2" r="0.69"/><circle cx="186.1" cy="353.7" r="0.72"/><circle cx="185.8" cy="356.6" r="0.35"/><circle cx="185.0" cy="361.1" r="0.78"/><circle cx="184.9" cy="359.4" r="0.72"/><circle cx="188.7" cy="365.1" r="0.51"/><circle cx="190.1" cy="364.9" r="0.45"/><circle cx="189.3" cy="368.7" r="0.64"/><circle cx="191.4" cy="373.3" r="0.76"/><circle cx="187.7" cy="374.6" r="0.68"/><circle cx="193.0" cy="378.4" r="0.65"/><circle cx="189.5" cy="377.4" r="0.41"/><circle cx="191.2" cy="381.8" r="0.51"/><circle cx="192.0" cy="384.0" r="0.75"/><circle cx="194.7" cy="388.4" r="0.65"/><circle cx="197.3" cy="385.7" r="0.74"/><circle cx="197.6" cy="389.5" r="0.70"/><circle cx="195.9" cy="392.0" r="0.45"/><circle cx="200.2" cy="391.9" r="0.50"/><circle cx="196.8" cy="392.8" r="0.45"/><circle cx="199.2" cy="396.4" r="0.44"/><circle cx="201.4" cy="396.8" r="0.71"/><circle cx="202.3" cy="400.2" r="0.75"/><circle cx="206.9" cy="406.0" r="0.49"/><circle cx="207.3" cy="405.4" r="0.40"/><circle cx="212.0" cy="409.0" r="0.57"/><circle cx="208.9" cy="408.7" r="0.65"/><circle cx="215.4" cy="410.7" r="0.78"/><circle cx="218.1" cy="411.3" r="0.76"/><circle cx="212.9" cy="410.2" r="0.54"/><circle cx="222.6" cy="414.5" r="0.59"/><circle cx="223.3" cy="418.8" r="0.51"/><circle cx="219.6" cy="415.9" r="0.71"/><circle cx="229.0" cy="424.2" r="0.55"/><circle cx="226.8" cy="421.0" r="0.77"/><circle cx="226.9" cy="418.7" r="0.50"/><circle cx="231.8" cy="424.0" r="0.58"/><circle cx="235.4" cy="425.0" r="0.78"/><circle cx="237.8" cy="431.3" r="0.43"/><circle cx="240.2" cy="432.2" r="0.69"/><circle cx="241.3" cy="435.5" r="0.44"/><circle cx="240.9" cy="432.6" r="0.75"/><circle cx="250.7" cy="440.9" r="0.77"/><circle cx="249.5" cy="438.1" r="0.63"/><circle cx="253.7" cy="442.7" r="0.47"/><circle cx="253.0" cy="441.6" r="0.58"/><circle cx="259.0" cy="442.4" r="0.50"/><circle cx="262.8" cy="446.9" r="0.46"/><circle cx="259.6" cy="444.8" r="0.43"/><circle cx="271.8" cy="447.3" r="0.61"/><circle cx="270.0" cy="449.0" r="0.67"/><circle cx="273.1" cy="450.2" r="0.77"/><circle cx="190.7" cy="380.0" r="0.39"/><circle cx="189.8" cy="382.6" r="0.41"/><circle cx="188.5" cy="385.4" r="0.50"/><circle cx="191.3" cy="387.6" r="0.42"/><circle cx="190.3" cy="392.2" r="0.42"/><circle cx="190.3" cy="393.8" r="0.49"/><circle cx="188.4" cy="397.3" r="0.55"/><circle cx="234.5" cy="422.3" r="0.44"/><circle cx="235.2" cy="421.0" r="0.38"/><circle cx="238.7" cy="423.8" r="0.53"/><circle cx="242.4" cy="420.7" r="0.66"/><circle cx="242.1" cy="419.9" r="0.74"/><circle cx="246.2" cy="422.2" r="0.68"/><circle cx="248.2" cy="421.0" r="0.76"/><circle cx="254.8" cy="418.9" r="0.60"/><circle cx="256.4" cy="420.5" r="0.78"/><circle cx="261.3" cy="420.6" r="0.71"/><circle cx="262.9" cy="419.7" r="0.50"/><circle cx="265.4" cy="419.0" r="0.53"/><circle cx="266.7" cy="420.3" r="0.71"/><circle cx="265.9" cy="418.1" r="0.57"/><circle cx="274.2" cy="419.7" r="0.51"/></g></g>
<g><path d="M862.0 298.0 L861.3 293.8 L862.1 287.7 L861.4 281.0 L862.1 274.9 L862.4 270.0 L862.0 265.4 L863.4 260.7 L864.2 254.9 L866.0 247.9 L867.8 239.9 L870.9 232.2 L872.1 224.8 L873.9 217.8 L875.0 210.6 L876.0 204.4 L876.3 200.0 L882.5 200.8 L881.6 205.1 L881.1 211.5 L880.0 218.8 L879.3 226.2 L877.0 233.7 L875.7 242.0 L873.2 249.7 L871.8 256.5 L870.8 261.7 L871.0 266.2 L870.0 270.4 L869.9 275.1 L870.4 281.1 L869.6 287.7 L870.6 293.7 L870.0 298.0Z M877.5 202.9 L875.2 200.5 L872.0 196.7 L868.1 193.1 L864.3 189.8 L861.0 186.3 L857.5 182.8 L854.0 180.0 L851.7 178.0 L854.3 175.0 L856.6 177.0 L859.8 180.1 L863.8 183.2 L867.7 186.2 L871.2 189.8 L875.0 193.7 L878.8 196.8 L881.3 199.1Z M861.6 182.7 L860.3 184.2 L858.6 184.9 L856.1 184.7 L853.2 183.8 L850.7 182.9 L848.6 182.2 L846.9 181.5 L846.2 180.6 L846.9 179.4 L848.5 178.1 L849.9 177.1 L850.7 176.4 L851.4 176.0 L851.9 175.5 L852.3 174.9 L852.6 174.3 L853.1 173.4 L854.0 171.8 L855.1 170.0 L856.1 169.2 L857.1 169.8 L858.0 171.4 L859.0 173.3 L860.3 175.7 L861.6 178.5 L862.1 180.9Z M877.2 199.6 L879.4 196.5 L882.4 192.0 L885.5 186.8 L888.8 181.7 L892.1 176.1 L895.7 169.9 L899.2 164.4 L901.4 160.5 L904.6 162.3 L902.3 166.2 L899.4 172.0 L895.9 178.3 L892.6 183.9 L889.6 189.2 L886.2 194.4 L883.4 199.1 L881.6 202.4Z M898.6 171.1 L896.9 170.1 L895.8 168.6 L895.6 166.1 L895.9 163.1 L896.3 160.4 L896.6 158.2 L896.9 156.5 L897.6 155.5 L898.9 156.0 L900.5 157.3 L901.8 158.5 L902.6 159.2 L903.1 159.7 L903.7 160.1 L904.4 160.4 L905.1 160.6 L906.1 160.9 L907.8 161.5 L909.7 162.2 L910.8 163.0 L910.4 164.1 L909.0 165.3 L907.3 166.7 L905.2 168.4 L902.7 170.2 L900.5 171.2Z M871.9 250.1 L875.5 249.8 L880.7 250.2 L886.4 249.5 L891.8 249.4 L896.5 248.5 L901.2 248.6 L905.4 247.1 L909.9 245.9 L914.1 242.5 L919.2 239.0 L923.6 234.2 L928.6 230.4 L933.3 226.2 L938.4 222.4 L942.7 218.9 L945.9 216.7 L948.1 219.3 L945.3 222.1 L941.0 225.6 L936.3 229.8 L931.4 233.6 L927.2 238.1 L922.1 242.2 L917.5 247.1 L912.1 250.1 L907.2 252.8 L902.0 253.3 L897.2 254.5 L892.2 254.6 L886.8 255.5 L880.9 255.3 L875.7 256.0 L872.1 255.9Z M939.4 225.4 L938.2 224.0 L937.8 222.1 L938.4 219.7 L939.8 217.0 L941.1 214.6 L942.1 212.7 L943.1 211.2 L944.1 210.6 L945.1 211.5 L946.1 213.3 L947.0 214.9 L947.4 215.8 L947.7 216.5 L948.1 217.1 L948.7 217.6 L949.3 218.0 L950.1 218.6 L951.4 219.8 L953.0 221.1 L953.7 222.3 L952.9 223.1 L951.2 223.8 L949.1 224.5 L946.6 225.3 L943.6 226.1 L941.2 226.3Z M911.4 246.5 L914.6 247.1 L919.0 248.7 L923.9 250.1 L928.4 251.4 L932.7 252.7 L937.2 253.6 L941.1 254.9 L943.9 255.6 L943.1 258.4 L940.4 257.7 L936.4 257.0 L932.0 255.6 L927.6 254.6 L923.0 253.3 L918.1 251.8 L913.6 250.7 L910.6 249.5Z M934.1 255.5 L934.5 253.8 L935.6 252.5 L937.6 251.7 L940.3 251.2 L942.8 250.9 L944.7 250.7 L946.3 250.6 L947.3 250.9 L947.2 252.2 L946.4 253.9 L945.7 255.3 L945.3 256.1 L945.0 256.7 L944.8 257.3 L944.7 258.0 L944.7 258.6 L944.7 259.6 L944.6 261.2 L944.5 263.0 L944.0 264.1 L942.9 264.0 L941.5 263.2 L940.0 262.0 L938.0 260.6 L935.8 258.9 L934.4 257.2Z M871.2 285.7 L874.6 284.4 L879.6 283.2 L884.8 281.1 L889.4 280.1 L892.6 278.8 L895.0 278.3 L897.1 277.9 L899.8 276.5 L903.4 272.6 L908.3 268.0 L912.5 263.1 L915.8 259.9 L918.2 262.1 L915.5 265.7 L911.1 270.5 L906.7 275.9 L902.2 279.5 L899.0 281.8 L896.3 283.1 L893.7 283.5 L890.6 283.9 L886.4 285.9 L881.0 287.3 L876.2 289.3 L872.8 290.3Z M911.3 268.7 L910.0 267.5 L909.4 266.0 L909.6 263.8 L910.4 261.1 L911.3 258.9 L911.9 257.0 L912.6 255.5 L913.4 254.8 L914.4 255.5 L915.6 256.9 L916.5 258.2 L917.1 259.0 L917.4 259.5 L917.9 260.0 L918.4 260.4 L919.0 260.7 L919.8 261.1 L921.2 261.9 L922.8 262.9 L923.6 263.9 L923.0 264.7 L921.6 265.6 L919.8 266.4 L917.6 267.6 L915.1 268.7 L913.0 269.2Z M877.9 288.1 L882.0 288.3 L887.9 287.9 L894.3 288.1 L899.8 287.2 L904.1 287.3 L907.9 286.9 L911.5 286.1 L915.6 285.9 L920.0 284.5 L924.9 283.7 L929.7 282.3 L934.3 280.9 L939.1 279.4 L943.9 277.3 L948.3 275.7 L951.2 274.1 L952.8 277.9 L949.7 278.9 L945.5 281.1 L940.5 283.1 L935.7 285.1 L931.0 286.7 L926.0 287.9 L921.2 289.5 L916.4 290.1 L912.4 291.4 L908.5 291.6 L904.6 292.0 L900.2 292.8 L894.5 292.6 L888.1 293.4 L882.2 293.4 L878.1 293.9Z M942.7 281.1 L941.9 279.3 L942.0 277.4 L943.2 275.3 L945.3 273.1 L947.2 271.2 L948.7 269.6 L950.1 268.4 L951.2 268.1 L952.0 269.2 L952.4 271.2 L952.8 273.0 L953.0 274.0 L953.1 274.7 L953.3 275.4 L953.7 276.0 L954.2 276.6 L954.8 277.5 L955.8 278.9 L956.9 280.6 L957.3 282.0 L956.3 282.6 L954.5 282.7 L952.3 282.8 L949.6 282.9 L946.5 282.9 L944.1 282.4Z M876.8 293.8 L882.2 295.7 L890.2 297.3 L898.9 299.5 L906.7 302.4 L913.4 305.0 L920.0 307.4 L925.7 310.3 L931.3 311.4 L937.2 311.9 L943.6 311.3 L949.2 310.1 L953.3 309.7 L953.9 313.5 L950.0 314.5 L944.2 315.4 L937.5 316.4 L930.7 316.6 L924.3 314.7 L917.7 312.9 L911.5 309.9 L904.9 307.6 L897.1 305.9 L888.5 303.6 L880.8 301.1 L875.2 300.2Z M943.4 314.4 L943.0 312.5 L943.5 310.7 L945.2 308.9 L947.8 307.2 L950.1 305.8 L951.9 304.6 L953.5 303.8 L954.7 303.7 L955.1 305.0 L955.1 307.1 L955.1 308.9 L955.1 309.9 L955.0 310.6 L955.0 311.3 L955.3 312.0 L955.6 312.7 L956.0 313.7 L956.6 315.3 L957.3 317.2 L957.3 318.6 L956.3 319.0 L954.5 318.7 L952.3 318.3 L949.7 317.8 L946.7 317.0 L944.5 316.0Z M917.6 308.0 L920.6 312.3 L924.8 318.8 L929.0 326.0 L932.8 332.1 L934.5 337.6 L936.1 342.3 L936.9 346.9 L937.5 351.8 L938.7 357.4 L939.0 363.5 L939.8 369.0 L940.2 372.8 L936.8 373.2 L936.4 369.4 L936.1 363.8 L935.0 357.8 L934.5 352.2 L933.4 347.6 L932.5 343.1 L931.5 338.6 L929.2 333.9 L926.2 327.6 L921.6 320.9 L917.2 314.6 L914.4 310.0Z M936.5 362.6 L938.4 362.4 L940.2 363.0 L941.8 364.9 L943.3 367.5 L944.6 369.9 L945.6 371.9 L946.3 373.5 L946.3 374.7 L945.0 375.0 L942.9 374.9 L941.1 374.7 L940.1 374.6 L939.4 374.5 L938.6 374.5 L937.9 374.6 L937.3 374.9 L936.3 375.2 L934.6 375.7 L932.6 376.3 L931.2 376.2 L931.0 375.1 L931.3 373.3 L931.9 371.2 L932.7 368.6 L933.6 365.7 L934.9 363.6Z M876.3 298.9 L878.3 303.2 L881.4 309.4 L884.1 316.5 L885.3 323.2 L883.1 329.3 L878.7 334.3 L874.8 338.9 L872.1 341.8 L869.1 339.2 L871.8 336.1 L876.0 332.0 L879.1 327.1 L880.7 322.8 L880.0 317.7 L877.1 311.4 L874.0 305.4 L871.7 301.1Z M877.1 332.1 L878.5 333.4 L879.2 335.2 L878.9 337.6 L877.9 340.5 L876.9 343.0 L876.2 345.0 L875.4 346.7 L874.5 347.4 L873.4 346.7 L872.1 345.0 L871.1 343.6 L870.5 342.8 L870.1 342.1 L869.6 341.6 L869.0 341.2 L868.4 340.8 L867.5 340.3 L866.0 339.4 L864.2 338.2 L863.4 337.2 L864.1 336.2 L865.6 335.3 L867.6 334.4 L870.0 333.2 L872.9 332.0 L875.3 331.5Z M887.7 303.2 L889.2 308.3 L892.5 315.4 L895.3 323.2 L897.4 330.1 L898.6 335.9 L899.3 341.3 L899.2 345.8 L899.5 348.9 L896.5 349.1 L896.4 346.0 L895.8 341.6 L895.3 336.4 L894.2 330.9 L891.9 324.4 L888.8 316.8 L886.2 309.6 L883.7 304.8Z M896.4 338.5 L898.3 338.4 L900.1 339.1 L901.6 341.0 L903.1 343.7 L904.2 346.2 L905.1 348.1 L905.8 349.8 L905.7 351.0 L904.4 351.3 L902.3 351.1 L900.6 350.8 L899.5 350.7 L898.8 350.5 L898.1 350.5 L897.4 350.6 L896.7 350.8 L895.7 351.1 L894.0 351.6 L892.0 352.1 L890.6 351.9 L890.4 350.8 L890.8 349.0 L891.5 347.0 L892.3 344.4 L893.4 341.5 L894.7 339.4Z M859.0 290.0 L859.2 288.6 L859.5 287.1 L859.9 285.6 L860.5 284.2 L861.2 283.0 L862.0 282.0 L863.0 281.2 L864.3 280.7 L865.7 280.2 L867.1 280.0 L868.6 279.9 L870.0 280.0 L871.4 280.3 L872.7 280.8 L874.1 281.5 L875.5 282.3 L876.8 283.1 L878.0 284.0 L879.1 284.9 L880.2 285.8 L881.2 286.8 L882.2 287.8 L883.1 288.9 L884.0 290.0 L884.9 291.2 L885.9 292.6 L886.8 294.0 L887.5 295.4 L887.9 296.8 L888.0 298.0 L887.6 299.2 L886.8 300.3 L885.8 301.4 L884.5 302.4 L883.2 303.3 L882.0 304.0 L880.8 304.6 L879.5 305.1 L878.1 305.5 L876.7 305.8 L875.4 305.9 L874.0 306.0 L872.6 305.9 L871.3 305.8 L869.9 305.5 L868.5 305.1 L867.2 304.6 L866.0 304.0 L864.8 303.3 L863.7 302.4 L862.6 301.4 L861.6 300.3 L860.7 299.2 L860.0 298.0 L859.5 296.8 L859.1 295.5 L858.9 294.1 L858.9 292.7 L858.9 291.4Z" fill="#3a2313" stroke="#3a2313" stroke-width="3.2" stroke-linejoin="round"/><path d="M862.0 298.0 L861.3 293.8 L862.1 287.7 L861.4 281.0 L862.1 274.9 L862.4 270.0 L862.0 265.4 L863.4 260.7 L864.2 254.9 L866.0 247.9 L867.8 239.9 L870.9 232.2 L872.1 224.8 L873.9 217.8 L875.0 210.6 L876.0 204.4 L876.3 200.0 L882.5 200.8 L881.6 205.1 L881.1 211.5 L880.0 218.8 L879.3 226.2 L877.0 233.7 L875.7 242.0 L873.2 249.7 L871.8 256.5 L870.8 261.7 L871.0 266.2 L870.0 270.4 L869.9 275.1 L870.4 281.1 L869.6 287.7 L870.6 293.7 L870.0 298.0Z M877.5 202.9 L875.2 200.5 L872.0 196.7 L868.1 193.1 L864.3 189.8 L861.0 186.3 L857.5 182.8 L854.0 180.0 L851.7 178.0 L854.3 175.0 L856.6 177.0 L859.8 180.1 L863.8 183.2 L867.7 186.2 L871.2 189.8 L875.0 193.7 L878.8 196.8 L881.3 199.1Z M861.6 182.7 L860.3 184.2 L858.6 184.9 L856.1 184.7 L853.2 183.8 L850.7 182.9 L848.6 182.2 L846.9 181.5 L846.2 180.6 L846.9 179.4 L848.5 178.1 L849.9 177.1 L850.7 176.4 L851.4 176.0 L851.9 175.5 L852.3 174.9 L852.6 174.3 L853.1 173.4 L854.0 171.8 L855.1 170.0 L856.1 169.2 L857.1 169.8 L858.0 171.4 L859.0 173.3 L860.3 175.7 L861.6 178.5 L862.1 180.9Z M877.2 199.6 L879.4 196.5 L882.4 192.0 L885.5 186.8 L888.8 181.7 L892.1 176.1 L895.7 169.9 L899.2 164.4 L901.4 160.5 L904.6 162.3 L902.3 166.2 L899.4 172.0 L895.9 178.3 L892.6 183.9 L889.6 189.2 L886.2 194.4 L883.4 199.1 L881.6 202.4Z M898.6 171.1 L896.9 170.1 L895.8 168.6 L895.6 166.1 L895.9 163.1 L896.3 160.4 L896.6 158.2 L896.9 156.5 L897.6 155.5 L898.9 156.0 L900.5 157.3 L901.8 158.5 L902.6 159.2 L903.1 159.7 L903.7 160.1 L904.4 160.4 L905.1 160.6 L906.1 160.9 L907.8 161.5 L909.7 162.2 L910.8 163.0 L910.4 164.1 L909.0 165.3 L907.3 166.7 L905.2 168.4 L902.7 170.2 L900.5 171.2Z M871.9 250.1 L875.5 249.8 L880.7 250.2 L886.4 249.5 L891.8 249.4 L896.5 248.5 L901.2 248.6 L905.4 247.1 L909.9 245.9 L914.1 242.5 L919.2 239.0 L923.6 234.2 L928.6 230.4 L933.3 226.2 L938.4 222.4 L942.7 218.9 L945.9 216.7 L948.1 219.3 L945.3 222.1 L941.0 225.6 L936.3 229.8 L931.4 233.6 L927.2 238.1 L922.1 242.2 L917.5 247.1 L912.1 250.1 L907.2 252.8 L902.0 253.3 L897.2 254.5 L892.2 254.6 L886.8 255.5 L880.9 255.3 L875.7 256.0 L872.1 255.9Z M939.4 225.4 L938.2 224.0 L937.8 222.1 L938.4 219.7 L939.8 217.0 L941.1 214.6 L942.1 212.7 L943.1 211.2 L944.1 210.6 L945.1 211.5 L946.1 213.3 L947.0 214.9 L947.4 215.8 L947.7 216.5 L948.1 217.1 L948.7 217.6 L949.3 218.0 L950.1 218.6 L951.4 219.8 L953.0 221.1 L953.7 222.3 L952.9 223.1 L951.2 223.8 L949.1 224.5 L946.6 225.3 L943.6 226.1 L941.2 226.3Z M911.4 246.5 L914.6 247.1 L919.0 248.7 L923.9 250.1 L928.4 251.4 L932.7 252.7 L937.2 253.6 L941.1 254.9 L943.9 255.6 L943.1 258.4 L940.4 257.7 L936.4 257.0 L932.0 255.6 L927.6 254.6 L923.0 253.3 L918.1 251.8 L913.6 250.7 L910.6 249.5Z M934.1 255.5 L934.5 253.8 L935.6 252.5 L937.6 251.7 L940.3 251.2 L942.8 250.9 L944.7 250.7 L946.3 250.6 L947.3 250.9 L947.2 252.2 L946.4 253.9 L945.7 255.3 L945.3 256.1 L945.0 256.7 L944.8 257.3 L944.7 258.0 L944.7 258.6 L944.7 259.6 L944.6 261.2 L944.5 263.0 L944.0 264.1 L942.9 264.0 L941.5 263.2 L940.0 262.0 L938.0 260.6 L935.8 258.9 L934.4 257.2Z M871.2 285.7 L874.6 284.4 L879.6 283.2 L884.8 281.1 L889.4 280.1 L892.6 278.8 L895.0 278.3 L897.1 277.9 L899.8 276.5 L903.4 272.6 L908.3 268.0 L912.5 263.1 L915.8 259.9 L918.2 262.1 L915.5 265.7 L911.1 270.5 L906.7 275.9 L902.2 279.5 L899.0 281.8 L896.3 283.1 L893.7 283.5 L890.6 283.9 L886.4 285.9 L881.0 287.3 L876.2 289.3 L872.8 290.3Z M911.3 268.7 L910.0 267.5 L909.4 266.0 L909.6 263.8 L910.4 261.1 L911.3 258.9 L911.9 257.0 L912.6 255.5 L913.4 254.8 L914.4 255.5 L915.6 256.9 L916.5 258.2 L917.1 259.0 L917.4 259.5 L917.9 260.0 L918.4 260.4 L919.0 260.7 L919.8 261.1 L921.2 261.9 L922.8 262.9 L923.6 263.9 L923.0 264.7 L921.6 265.6 L919.8 266.4 L917.6 267.6 L915.1 268.7 L913.0 269.2Z M877.9 288.1 L882.0 288.3 L887.9 287.9 L894.3 288.1 L899.8 287.2 L904.1 287.3 L907.9 286.9 L911.5 286.1 L915.6 285.9 L920.0 284.5 L924.9 283.7 L929.7 282.3 L934.3 280.9 L939.1 279.4 L943.9 277.3 L948.3 275.7 L951.2 274.1 L952.8 277.9 L949.7 278.9 L945.5 281.1 L940.5 283.1 L935.7 285.1 L931.0 286.7 L926.0 287.9 L921.2 289.5 L916.4 290.1 L912.4 291.4 L908.5 291.6 L904.6 292.0 L900.2 292.8 L894.5 292.6 L888.1 293.4 L882.2 293.4 L878.1 293.9Z M942.7 281.1 L941.9 279.3 L942.0 277.4 L943.2 275.3 L945.3 273.1 L947.2 271.2 L948.7 269.6 L950.1 268.4 L951.2 268.1 L952.0 269.2 L952.4 271.2 L952.8 273.0 L953.0 274.0 L953.1 274.7 L953.3 275.4 L953.7 276.0 L954.2 276.6 L954.8 277.5 L955.8 278.9 L956.9 280.6 L957.3 282.0 L956.3 282.6 L954.5 282.7 L952.3 282.8 L949.6 282.9 L946.5 282.9 L944.1 282.4Z M876.8 293.8 L882.2 295.7 L890.2 297.3 L898.9 299.5 L906.7 302.4 L913.4 305.0 L920.0 307.4 L925.7 310.3 L931.3 311.4 L937.2 311.9 L943.6 311.3 L949.2 310.1 L953.3 309.7 L953.9 313.5 L950.0 314.5 L944.2 315.4 L937.5 316.4 L930.7 316.6 L924.3 314.7 L917.7 312.9 L911.5 309.9 L904.9 307.6 L897.1 305.9 L888.5 303.6 L880.8 301.1 L875.2 300.2Z M943.4 314.4 L943.0 312.5 L943.5 310.7 L945.2 308.9 L947.8 307.2 L950.1 305.8 L951.9 304.6 L953.5 303.8 L954.7 303.7 L955.1 305.0 L955.1 307.1 L955.1 308.9 L955.1 309.9 L955.0 310.6 L955.0 311.3 L955.3 312.0 L955.6 312.7 L956.0 313.7 L956.6 315.3 L957.3 317.2 L957.3 318.6 L956.3 319.0 L954.5 318.7 L952.3 318.3 L949.7 317.8 L946.7 317.0 L944.5 316.0Z M917.6 308.0 L920.6 312.3 L924.8 318.8 L929.0 326.0 L932.8 332.1 L934.5 337.6 L936.1 342.3 L936.9 346.9 L937.5 351.8 L938.7 357.4 L939.0 363.5 L939.8 369.0 L940.2 372.8 L936.8 373.2 L936.4 369.4 L936.1 363.8 L935.0 357.8 L934.5 352.2 L933.4 347.6 L932.5 343.1 L931.5 338.6 L929.2 333.9 L926.2 327.6 L921.6 320.9 L917.2 314.6 L914.4 310.0Z M936.5 362.6 L938.4 362.4 L940.2 363.0 L941.8 364.9 L943.3 367.5 L944.6 369.9 L945.6 371.9 L946.3 373.5 L946.3 374.7 L945.0 375.0 L942.9 374.9 L941.1 374.7 L940.1 374.6 L939.4 374.5 L938.6 374.5 L937.9 374.6 L937.3 374.9 L936.3 375.2 L934.6 375.7 L932.6 376.3 L931.2 376.2 L931.0 375.1 L931.3 373.3 L931.9 371.2 L932.7 368.6 L933.6 365.7 L934.9 363.6Z M876.3 298.9 L878.3 303.2 L881.4 309.4 L884.1 316.5 L885.3 323.2 L883.1 329.3 L878.7 334.3 L874.8 338.9 L872.1 341.8 L869.1 339.2 L871.8 336.1 L876.0 332.0 L879.1 327.1 L880.7 322.8 L880.0 317.7 L877.1 311.4 L874.0 305.4 L871.7 301.1Z M877.1 332.1 L878.5 333.4 L879.2 335.2 L878.9 337.6 L877.9 340.5 L876.9 343.0 L876.2 345.0 L875.4 346.7 L874.5 347.4 L873.4 346.7 L872.1 345.0 L871.1 343.6 L870.5 342.8 L870.1 342.1 L869.6 341.6 L869.0 341.2 L868.4 340.8 L867.5 340.3 L866.0 339.4 L864.2 338.2 L863.4 337.2 L864.1 336.2 L865.6 335.3 L867.6 334.4 L870.0 333.2 L872.9 332.0 L875.3 331.5Z M887.7 303.2 L889.2 308.3 L892.5 315.4 L895.3 323.2 L897.4 330.1 L898.6 335.9 L899.3 341.3 L899.2 345.8 L899.5 348.9 L896.5 349.1 L896.4 346.0 L895.8 341.6 L895.3 336.4 L894.2 330.9 L891.9 324.4 L888.8 316.8 L886.2 309.6 L883.7 304.8Z M896.4 338.5 L898.3 338.4 L900.1 339.1 L901.6 341.0 L903.1 343.7 L904.2 346.2 L905.1 348.1 L905.8 349.8 L905.7 351.0 L904.4 351.3 L902.3 351.1 L900.6 350.8 L899.5 350.7 L898.8 350.5 L898.1 350.5 L897.4 350.6 L896.7 350.8 L895.7 351.1 L894.0 351.6 L892.0 352.1 L890.6 351.9 L890.4 350.8 L890.8 349.0 L891.5 347.0 L892.3 344.4 L893.4 341.5 L894.7 339.4Z M859.0 290.0 L859.2 288.6 L859.5 287.1 L859.9 285.6 L860.5 284.2 L861.2 283.0 L862.0 282.0 L863.0 281.2 L864.3 280.7 L865.7 280.2 L867.1 280.0 L868.6 279.9 L870.0 280.0 L871.4 280.3 L872.7 280.8 L874.1 281.5 L875.5 282.3 L876.8 283.1 L878.0 284.0 L879.1 284.9 L880.2 285.8 L881.2 286.8 L882.2 287.8 L883.1 288.9 L884.0 290.0 L884.9 291.2 L885.9 292.6 L886.8 294.0 L887.5 295.4 L887.9 296.8 L888.0 298.0 L887.6 299.2 L886.8 300.3 L885.8 301.4 L884.5 302.4 L883.2 303.3 L882.0 304.0 L880.8 304.6 L879.5 305.1 L878.1 305.5 L876.7 305.8 L875.4 305.9 L874.0 306.0 L872.6 305.9 L871.3 305.8 L869.9 305.5 L868.5 305.1 L867.2 304.6 L866.0 304.0 L864.8 303.3 L863.7 302.4 L862.6 301.4 L861.6 300.3 L860.7 299.2 L860.0 298.0 L859.5 296.8 L859.1 295.5 L858.9 294.1 L858.9 292.7 L858.9 291.4Z" fill="#b25e28" stroke="#b25e28" stroke-width="0.5" stroke-linejoin="round"/><path d="M862.0 298.0 L861.3 293.8 L862.1 287.7 L861.4 281.0 L862.1 274.9 L862.4 270.0 L862.0 265.4 L863.4 260.7 L864.2 254.9 L866.0 247.9 L867.8 239.9 L870.9 232.2 L872.1 224.8 L873.9 217.8 L875.0 210.6 L876.0 204.4 L876.3 200.0 L882.5 200.8 L881.6 205.1 L881.1 211.5 L880.0 218.8 L879.3 226.2 L877.0 233.7 L875.7 242.0 L873.2 249.7 L871.8 256.5 L870.8 261.7 L871.0 266.2 L870.0 270.4 L869.9 275.1 L870.4 281.1 L869.6 287.7 L870.6 293.7 L870.0 298.0Z M877.5 202.9 L875.2 200.5 L872.0 196.7 L868.1 193.1 L864.3 189.8 L861.0 186.3 L857.5 182.8 L854.0 180.0 L851.7 178.0 L854.3 175.0 L856.6 177.0 L859.8 180.1 L863.8 183.2 L867.7 186.2 L871.2 189.8 L875.0 193.7 L878.8 196.8 L881.3 199.1Z M861.6 182.7 L860.3 184.2 L858.6 184.9 L856.1 184.7 L853.2 183.8 L850.7 182.9 L848.6 182.2 L846.9 181.5 L846.2 180.6 L846.9 179.4 L848.5 178.1 L849.9 177.1 L850.7 176.4 L851.4 176.0 L851.9 175.5 L852.3 174.9 L852.6 174.3 L853.1 173.4 L854.0 171.8 L855.1 170.0 L856.1 169.2 L857.1 169.8 L858.0 171.4 L859.0 173.3 L860.3 175.7 L861.6 178.5 L862.1 180.9Z M877.2 199.6 L879.4 196.5 L882.4 192.0 L885.5 186.8 L888.8 181.7 L892.1 176.1 L895.7 169.9 L899.2 164.4 L901.4 160.5 L904.6 162.3 L902.3 166.2 L899.4 172.0 L895.9 178.3 L892.6 183.9 L889.6 189.2 L886.2 194.4 L883.4 199.1 L881.6 202.4Z M898.6 171.1 L896.9 170.1 L895.8 168.6 L895.6 166.1 L895.9 163.1 L896.3 160.4 L896.6 158.2 L896.9 156.5 L897.6 155.5 L898.9 156.0 L900.5 157.3 L901.8 158.5 L902.6 159.2 L903.1 159.7 L903.7 160.1 L904.4 160.4 L905.1 160.6 L906.1 160.9 L907.8 161.5 L909.7 162.2 L910.8 163.0 L910.4 164.1 L909.0 165.3 L907.3 166.7 L905.2 168.4 L902.7 170.2 L900.5 171.2Z M871.9 250.1 L875.5 249.8 L880.7 250.2 L886.4 249.5 L891.8 249.4 L896.5 248.5 L901.2 248.6 L905.4 247.1 L909.9 245.9 L914.1 242.5 L919.2 239.0 L923.6 234.2 L928.6 230.4 L933.3 226.2 L938.4 222.4 L942.7 218.9 L945.9 216.7 L948.1 219.3 L945.3 222.1 L941.0 225.6 L936.3 229.8 L931.4 233.6 L927.2 238.1 L922.1 242.2 L917.5 247.1 L912.1 250.1 L907.2 252.8 L902.0 253.3 L897.2 254.5 L892.2 254.6 L886.8 255.5 L880.9 255.3 L875.7 256.0 L872.1 255.9Z M939.4 225.4 L938.2 224.0 L937.8 222.1 L938.4 219.7 L939.8 217.0 L941.1 214.6 L942.1 212.7 L943.1 211.2 L944.1 210.6 L945.1 211.5 L946.1 213.3 L947.0 214.9 L947.4 215.8 L947.7 216.5 L948.1 217.1 L948.7 217.6 L949.3 218.0 L950.1 218.6 L951.4 219.8 L953.0 221.1 L953.7 222.3 L952.9 223.1 L951.2 223.8 L949.1 224.5 L946.6 225.3 L943.6 226.1 L941.2 226.3Z M911.4 246.5 L914.6 247.1 L919.0 248.7 L923.9 250.1 L928.4 251.4 L932.7 252.7 L937.2 253.6 L941.1 254.9 L943.9 255.6 L943.1 258.4 L940.4 257.7 L936.4 257.0 L932.0 255.6 L927.6 254.6 L923.0 253.3 L918.1 251.8 L913.6 250.7 L910.6 249.5Z M934.1 255.5 L934.5 253.8 L935.6 252.5 L937.6 251.7 L940.3 251.2 L942.8 250.9 L944.7 250.7 L946.3 250.6 L947.3 250.9 L947.2 252.2 L946.4 253.9 L945.7 255.3 L945.3 256.1 L945.0 256.7 L944.8 257.3 L944.7 258.0 L944.7 258.6 L944.7 259.6 L944.6 261.2 L944.5 263.0 L944.0 264.1 L942.9 264.0 L941.5 263.2 L940.0 262.0 L938.0 260.6 L935.8 258.9 L934.4 257.2Z M871.2 285.7 L874.6 284.4 L879.6 283.2 L884.8 281.1 L889.4 280.1 L892.6 278.8 L895.0 278.3 L897.1 277.9 L899.8 276.5 L903.4 272.6 L908.3 268.0 L912.5 263.1 L915.8 259.9 L918.2 262.1 L915.5 265.7 L911.1 270.5 L906.7 275.9 L902.2 279.5 L899.0 281.8 L896.3 283.1 L893.7 283.5 L890.6 283.9 L886.4 285.9 L881.0 287.3 L876.2 289.3 L872.8 290.3Z M911.3 268.7 L910.0 267.5 L909.4 266.0 L909.6 263.8 L910.4 261.1 L911.3 258.9 L911.9 257.0 L912.6 255.5 L913.4 254.8 L914.4 255.5 L915.6 256.9 L916.5 258.2 L917.1 259.0 L917.4 259.5 L917.9 260.0 L918.4 260.4 L919.0 260.7 L919.8 261.1 L921.2 261.9 L922.8 262.9 L923.6 263.9 L923.0 264.7 L921.6 265.6 L919.8 266.4 L917.6 267.6 L915.1 268.7 L913.0 269.2Z M877.9 288.1 L882.0 288.3 L887.9 287.9 L894.3 288.1 L899.8 287.2 L904.1 287.3 L907.9 286.9 L911.5 286.1 L915.6 285.9 L920.0 284.5 L924.9 283.7 L929.7 282.3 L934.3 280.9 L939.1 279.4 L943.9 277.3 L948.3 275.7 L951.2 274.1 L952.8 277.9 L949.7 278.9 L945.5 281.1 L940.5 283.1 L935.7 285.1 L931.0 286.7 L926.0 287.9 L921.2 289.5 L916.4 290.1 L912.4 291.4 L908.5 291.6 L904.6 292.0 L900.2 292.8 L894.5 292.6 L888.1 293.4 L882.2 293.4 L878.1 293.9Z M942.7 281.1 L941.9 279.3 L942.0 277.4 L943.2 275.3 L945.3 273.1 L947.2 271.2 L948.7 269.6 L950.1 268.4 L951.2 268.1 L952.0 269.2 L952.4 271.2 L952.8 273.0 L953.0 274.0 L953.1 274.7 L953.3 275.4 L953.7 276.0 L954.2 276.6 L954.8 277.5 L955.8 278.9 L956.9 280.6 L957.3 282.0 L956.3 282.6 L954.5 282.7 L952.3 282.8 L949.6 282.9 L946.5 282.9 L944.1 282.4Z M876.8 293.8 L882.2 295.7 L890.2 297.3 L898.9 299.5 L906.7 302.4 L913.4 305.0 L920.0 307.4 L925.7 310.3 L931.3 311.4 L937.2 311.9 L943.6 311.3 L949.2 310.1 L953.3 309.7 L953.9 313.5 L950.0 314.5 L944.2 315.4 L937.5 316.4 L930.7 316.6 L924.3 314.7 L917.7 312.9 L911.5 309.9 L904.9 307.6 L897.1 305.9 L888.5 303.6 L880.8 301.1 L875.2 300.2Z M943.4 314.4 L943.0 312.5 L943.5 310.7 L945.2 308.9 L947.8 307.2 L950.1 305.8 L951.9 304.6 L953.5 303.8 L954.7 303.7 L955.1 305.0 L955.1 307.1 L955.1 308.9 L955.1 309.9 L955.0 310.6 L955.0 311.3 L955.3 312.0 L955.6 312.7 L956.0 313.7 L956.6 315.3 L957.3 317.2 L957.3 318.6 L956.3 319.0 L954.5 318.7 L952.3 318.3 L949.7 317.8 L946.7 317.0 L944.5 316.0Z M917.6 308.0 L920.6 312.3 L924.8 318.8 L929.0 326.0 L932.8 332.1 L934.5 337.6 L936.1 342.3 L936.9 346.9 L937.5 351.8 L938.7 357.4 L939.0 363.5 L939.8 369.0 L940.2 372.8 L936.8 373.2 L936.4 369.4 L936.1 363.8 L935.0 357.8 L934.5 352.2 L933.4 347.6 L932.5 343.1 L931.5 338.6 L929.2 333.9 L926.2 327.6 L921.6 320.9 L917.2 314.6 L914.4 310.0Z M936.5 362.6 L938.4 362.4 L940.2 363.0 L941.8 364.9 L943.3 367.5 L944.6 369.9 L945.6 371.9 L946.3 373.5 L946.3 374.7 L945.0 375.0 L942.9 374.9 L941.1 374.7 L940.1 374.6 L939.4 374.5 L938.6 374.5 L937.9 374.6 L937.3 374.9 L936.3 375.2 L934.6 375.7 L932.6 376.3 L931.2 376.2 L931.0 375.1 L931.3 373.3 L931.9 371.2 L932.7 368.6 L933.6 365.7 L934.9 363.6Z M876.3 298.9 L878.3 303.2 L881.4 309.4 L884.1 316.5 L885.3 323.2 L883.1 329.3 L878.7 334.3 L874.8 338.9 L872.1 341.8 L869.1 339.2 L871.8 336.1 L876.0 332.0 L879.1 327.1 L880.7 322.8 L880.0 317.7 L877.1 311.4 L874.0 305.4 L871.7 301.1Z M877.1 332.1 L878.5 333.4 L879.2 335.2 L878.9 337.6 L877.9 340.5 L876.9 343.0 L876.2 345.0 L875.4 346.7 L874.5 347.4 L873.4 346.7 L872.1 345.0 L871.1 343.6 L870.5 342.8 L870.1 342.1 L869.6 341.6 L869.0 341.2 L868.4 340.8 L867.5 340.3 L866.0 339.4 L864.2 338.2 L863.4 337.2 L864.1 336.2 L865.6 335.3 L867.6 334.4 L870.0 333.2 L872.9 332.0 L875.3 331.5Z M887.7 303.2 L889.2 308.3 L892.5 315.4 L895.3 323.2 L897.4 330.1 L898.6 335.9 L899.3 341.3 L899.2 345.8 L899.5 348.9 L896.5 349.1 L896.4 346.0 L895.8 341.6 L895.3 336.4 L894.2 330.9 L891.9 324.4 L888.8 316.8 L886.2 309.6 L883.7 304.8Z M896.4 338.5 L898.3 338.4 L900.1 339.1 L901.6 341.0 L903.1 343.7 L904.2 346.2 L905.1 348.1 L905.8 349.8 L905.7 351.0 L904.4 351.3 L902.3 351.1 L900.6 350.8 L899.5 350.7 L898.8 350.5 L898.1 350.5 L897.4 350.6 L896.7 350.8 L895.7 351.1 L894.0 351.6 L892.0 352.1 L890.6 351.9 L890.4 350.8 L890.8 349.0 L891.5 347.0 L892.3 344.4 L893.4 341.5 L894.7 339.4Z M859.0 290.0 L859.2 288.6 L859.5 287.1 L859.9 285.6 L860.5 284.2 L861.2 283.0 L862.0 282.0 L863.0 281.2 L864.3 280.7 L865.7 280.2 L867.1 280.0 L868.6 279.9 L870.0 280.0 L871.4 280.3 L872.7 280.8 L874.1 281.5 L875.5 282.3 L876.8 283.1 L878.0 284.0 L879.1 284.9 L880.2 285.8 L881.2 286.8 L882.2 287.8 L883.1 288.9 L884.0 290.0 L884.9 291.2 L885.9 292.6 L886.8 294.0 L887.5 295.4 L887.9 296.8 L888.0 298.0 L887.6 299.2 L886.8 300.3 L885.8 301.4 L884.5 302.4 L883.2 303.3 L882.0 304.0 L880.8 304.6 L879.5 305.1 L878.1 305.5 L876.7 305.8 L875.4 305.9 L874.0 306.0 L872.6 305.9 L871.3 305.8 L869.9 305.5 L868.5 305.1 L867.2 304.6 L866.0 304.0 L864.8 303.3 L863.7 302.4 L862.6 301.4 L861.6 300.3 L860.7 299.2 L860.0 298.0 L859.5 296.8 L859.1 295.5 L858.9 294.1 L858.9 292.7 L858.9 291.4Z" fill="#d28144" transform="translate(-0.5 -0.6)"/><path d="M863.8 297.4 L863.4 293.2 L863.8 287.1 L863.4 280.4 L863.8 274.3 L864.1 269.5 L864.1 265.0 L865.0 260.4 L865.9 254.7 L867.6 247.8 L869.6 239.9 L872.2 232.0 L873.7 224.6 L875.2 217.5 L876.3 210.3 L877.2 204.0 L877.6 199.6 L880.4 200.0 L879.7 204.4 L879.0 210.7 L878.0 217.9 L876.9 225.2 L874.9 232.7 L873.1 240.8 L870.8 248.6 L869.3 255.5 L868.3 260.8 L868.1 265.4 L867.5 269.7 L867.4 274.5 L867.5 280.4 L867.2 287.1 L867.7 293.2 L867.4 297.4Z M878.2 201.3 L875.8 198.9 L872.5 195.3 L868.5 191.6 L864.8 188.2 L861.4 184.8 L857.7 181.4 L854.3 178.6 L852.0 176.6 L853.2 175.2 L855.5 177.3 L858.8 180.2 L862.6 183.5 L866.4 186.6 L869.9 190.1 L873.8 193.9 L877.4 197.2 L879.8 199.5Z M878.0 199.8 L880.1 196.6 L883.0 192.1 L886.2 186.8 L889.5 181.7 L892.8 176.1 L896.3 169.9 L899.7 164.3 L901.9 160.4 L903.3 161.2 L901.1 165.1 L898.0 170.8 L894.4 177.1 L891.1 182.7 L888.0 188.0 L884.7 193.2 L881.9 197.8 L880.0 201.0Z M871.6 251.1 L875.2 250.9 L880.4 251.0 L886.1 250.5 L891.5 250.2 L896.3 249.5 L901.0 249.3 L905.5 248.0 L910.1 246.5 L914.6 243.2 L919.6 239.3 L924.2 234.7 L929.0 230.7 L933.7 226.6 L938.7 222.7 L943.0 219.2 L946.1 216.8 L947.1 218.0 L944.2 220.6 L939.9 224.1 L935.1 228.2 L930.2 232.1 L925.8 236.4 L920.9 240.8 L916.2 245.2 L911.1 248.3 L906.3 250.6 L901.3 251.4 L896.6 252.2 L891.7 252.6 L886.3 253.2 L880.5 253.3 L875.3 253.7 L871.6 253.7Z M910.8 246.7 L913.9 247.5 L918.3 249.0 L923.3 250.4 L927.8 251.7 L932.1 252.9 L936.6 253.9 L940.5 255.1 L943.3 255.8 L942.9 257.0 L940.2 256.3 L936.2 255.5 L931.8 254.2 L927.4 253.1 L922.8 251.8 L917.9 250.3 L913.4 249.1 L910.4 248.1Z M871.3 286.4 L874.6 285.2 L879.6 283.7 L884.8 281.8 L889.3 280.5 L892.5 279.5 L894.9 279.0 L897.2 278.4 L900.0 276.7 L903.9 272.9 L908.7 268.1 L912.9 263.2 L916.0 259.9 L917.2 260.9 L914.3 264.3 L909.9 269.2 L905.4 274.4 L901.2 278.1 L898.1 280.1 L895.5 281.2 L893.0 281.6 L889.9 282.3 L885.5 284.0 L880.2 285.6 L875.4 287.4 L871.9 288.4Z M877.6 289.1 L881.7 289.1 L887.5 288.8 L894.0 288.7 L899.5 288.1 L903.9 288.0 L907.7 287.6 L911.3 286.9 L915.4 286.5 L919.9 285.3 L924.8 284.3 L929.6 282.9 L934.3 281.5 L939.1 279.8 L943.9 277.7 L948.3 276.0 L951.2 274.6 L952.0 276.2 L948.9 277.4 L944.7 279.5 L939.7 281.5 L934.9 283.3 L930.2 284.8 L925.3 286.2 L920.4 287.5 L915.8 288.3 L911.7 289.3 L907.9 289.7 L904.0 290.1 L899.7 290.7 L894.1 290.8 L887.7 291.3 L881.7 291.4 L877.6 291.7Z M876.0 294.9 L881.4 296.6 L889.3 298.4 L898.0 300.7 L905.8 303.2 L912.5 305.8 L919.0 308.3 L924.9 310.9 L930.8 312.2 L936.9 312.5 L943.3 311.9 L949.0 310.7 L953.0 310.1 L953.4 311.9 L949.4 312.7 L943.6 313.7 L937.0 314.6 L930.4 314.6 L924.3 312.9 L917.9 310.8 L911.7 307.9 L905.0 305.6 L897.2 303.6 L888.6 301.3 L880.7 299.0 L875.2 297.9Z M916.3 307.9 L919.3 312.3 L923.5 318.7 L927.8 325.8 L931.4 332.0 L933.3 337.2 L934.7 341.9 L935.6 346.5 L936.3 351.3 L937.3 356.9 L937.8 363.0 L938.5 368.5 L938.9 372.3 L937.3 372.5 L936.9 368.7 L936.5 363.2 L935.6 357.1 L934.9 351.5 L934.0 346.8 L933.1 342.3 L932.0 337.7 L929.8 332.8 L926.6 326.6 L922.1 319.7 L917.8 313.3 L914.9 308.9Z M874.6 298.9 L876.7 303.2 L879.9 309.4 L882.6 316.2 L883.6 322.5 L881.6 328.1 L877.6 333.1 L873.6 337.5 L870.9 340.5 L869.5 339.3 L872.2 336.3 L876.3 332.1 L879.8 327.1 L881.6 322.3 L880.7 316.8 L877.9 310.3 L874.7 304.2 L872.6 299.9Z M886.2 303.0 L888.0 308.1 L891.0 315.2 L894.0 322.9 L896.1 329.7 L897.3 335.4 L897.9 340.7 L898.0 345.2 L898.3 348.4 L896.9 348.4 L896.8 345.3 L896.3 340.9 L895.8 335.6 L894.7 330.1 L892.4 323.5 L889.4 315.8 L886.6 308.6 L884.4 303.8Z" fill="#dd9459"/><g fill="#7a3a18" opacity="0.7"><circle cx="867.2" cy="294.1" r="0.56"/><circle cx="865.0" cy="296.6" r="0.62"/><circle cx="863.9" cy="294.7" r="0.52"/><circle cx="869.5" cy="291.5" r="0.59"/><circle cx="864.5" cy="292.1" r="0.72"/><circle cx="867.6" cy="292.8" r="0.36"/><circle cx="862.1" cy="292.7" r="0.71"/><circle cx="862.1" cy="286.2" r="0.47"/><circle cx="867.7" cy="282.8" r="0.76"/><circle cx="866.3" cy="281.4" r="0.76"/><circle cx="869.5" cy="287.1" r="0.55"/><circle cx="868.0" cy="286.4" r="0.74"/><circle cx="869.0" cy="280.5" r="0.69"/><circle cx="869.9" cy="277.5" r="0.37"/><circle cx="862.7" cy="280.6" r="0.36"/><circle cx="867.0" cy="276.8" r="0.40"/><circle cx="866.9" cy="274.2" r="0.65"/><circle cx="865.1" cy="270.3" r="0.79"/><circle cx="865.2" cy="272.9" r="0.46"/><circle cx="869.9" cy="274.1" r="0.80"/><circle cx="863.7" cy="269.2" r="0.42"/><circle cx="868.2" cy="268.8" r="0.38"/><circle cx="867.8" cy="267.9" r="0.37"/><circle cx="867.5" cy="262.2" r="0.55"/><circle cx="867.8" cy="261.8" r="0.50"/><circle cx="870.2" cy="264.4" r="0.74"/><circle cx="864.9" cy="257.7" r="0.43"/><circle cx="868.8" cy="259.3" r="0.35"/><circle cx="870.0" cy="257.2" r="0.58"/><circle cx="868.7" cy="250.0" r="0.65"/><circle cx="870.6" cy="252.2" r="0.53"/><circle cx="872.9" cy="249.8" r="0.77"/><circle cx="867.7" cy="251.1" r="0.52"/><circle cx="871.4" cy="254.5" r="0.71"/><circle cx="874.8" cy="243.3" r="0.66"/><circle cx="872.1" cy="246.8" r="0.47"/><circle cx="868.5" cy="243.4" r="0.74"/><circle cx="869.1" cy="244.5" r="0.77"/><circle cx="872.8" cy="249.0" r="0.69"/><circle cx="873.9" cy="235.0" r="0.76"/><circle cx="872.5" cy="236.1" r="0.77"/><circle cx="873.8" cy="240.8" r="0.40"/><circle cx="869.7" cy="238.0" r="0.74"/><circle cx="874.3" cy="237.8" r="0.47"/><circle cx="872.4" cy="227.5" r="0.57"/><circle cx="873.3" cy="227.1" r="0.64"/><circle cx="873.5" cy="230.7" r="0.76"/><circle cx="878.9" cy="226.7" r="0.54"/><circle cx="878.5" cy="220.0" r="0.56"/><circle cx="876.2" cy="219.1" r="0.78"/><circle cx="873.8" cy="221.6" r="0.69"/><circle cx="877.1" cy="224.7" r="0.37"/><circle cx="879.1" cy="214.6" r="0.41"/><circle cx="876.9" cy="213.6" r="0.46"/><circle cx="874.8" cy="212.0" r="0.57"/><circle cx="881.2" cy="206.0" r="0.37"/><circle cx="878.2" cy="208.1" r="0.67"/><circle cx="877.6" cy="206.4" r="0.77"/><circle cx="875.9" cy="209.6" r="0.72"/><circle cx="878.9" cy="204.0" r="0.50"/><circle cx="881.6" cy="204.4" r="0.56"/><circle cx="877.7" cy="201.1" r="0.76"/><circle cx="877.6" cy="198.4" r="0.79"/><circle cx="878.0" cy="198.7" r="0.59"/><circle cx="873.9" cy="198.6" r="0.76"/><circle cx="874.9" cy="195.2" r="0.69"/><circle cx="872.9" cy="192.3" r="0.78"/><circle cx="868.7" cy="193.0" r="0.66"/><circle cx="871.0" cy="193.5" r="0.43"/><circle cx="867.9" cy="189.9" r="0.47"/><circle cx="868.5" cy="190.0" r="0.69"/><circle cx="866.7" cy="186.1" r="0.52"/><circle cx="864.1" cy="183.1" r="0.41"/><circle cx="858.4" cy="182.0" r="0.60"/><circle cx="859.8" cy="185.4" r="0.44"/><circle cx="858.1" cy="180.2" r="0.60"/><circle cx="856.1" cy="178.0" r="0.51"/><circle cx="854.0" cy="177.1" r="0.74"/><circle cx="880.6" cy="200.2" r="0.49"/><circle cx="880.2" cy="197.2" r="0.79"/><circle cx="881.7" cy="197.9" r="0.44"/><circle cx="881.1" cy="194.4" r="0.73"/><circle cx="884.2" cy="195.3" r="0.77"/><circle cx="887.4" cy="190.3" r="0.35"/><circle cx="884.1" cy="192.8" r="0.79"/><circle cx="887.2" cy="183.8" r="0.54"/><circle cx="890.8" cy="183.5" r="0.72"/><circle cx="886.3" cy="187.2" r="0.43"/><circle cx="892.9" cy="183.3" r="0.47"/><circle cx="893.7" cy="177.9" r="0.50"/><circle cx="896.3" cy="175.1" r="0.38"/><circle cx="898.9" cy="173.2" r="0.40"/><circle cx="897.0" cy="168.6" r="0.51"/><circle cx="901.5" cy="168.3" r="0.80"/><circle cx="902.8" cy="163.2" r="0.42"/><circle cx="874.0" cy="252.1" r="0.76"/><circle cx="872.9" cy="250.7" r="0.42"/><circle cx="878.7" cy="254.7" r="0.42"/><circle cx="878.2" cy="253.3" r="0.60"/><circle cx="877.8" cy="253.1" r="0.36"/><circle cx="883.2" cy="251.0" r="0.69"/><circle cx="882.3" cy="254.6" r="0.46"/><circle cx="881.3" cy="252.6" r="0.52"/><circle cx="890.6" cy="250.5" r="0.65"/><circle cx="891.1" cy="251.8" r="0.58"/><circle cx="891.6" cy="252.7" r="0.43"/><circle cx="892.3" cy="251.0" r="0.39"/><circle cx="895.1" cy="251.2" r="0.49"/><circle cx="894.7" cy="254.3" r="0.46"/><circle cx="898.2" cy="250.3" r="0.76"/><circle cx="900.1" cy="250.7" r="0.42"/><circle cx="896.8" cy="249.3" r="0.73"/><circle cx="902.4" cy="251.5" r="0.38"/><circle cx="903.8" cy="249.5" r="0.40"/><circle cx="909.7" cy="248.6" r="0.43"/><circle cx="909.3" cy="248.3" r="0.65"/><circle cx="913.9" cy="242.9" r="0.45"/><circle cx="912.0" cy="245.4" r="0.39"/><circle cx="915.8" cy="248.0" r="0.50"/><circle cx="918.1" cy="240.9" r="0.53"/><circle cx="918.9" cy="241.7" r="0.42"/><circle cx="916.3" cy="244.7" r="0.80"/><circle cx="921.1" cy="240.2" r="0.57"/><circle cx="922.1" cy="240.4" r="0.57"/><circle cx="928.2" cy="236.5" r="0.72"/><circle cx="926.4" cy="232.9" r="0.57"/><circle cx="933.9" cy="230.0" r="0.61"/><circle cx="933.3" cy="226.4" r="0.67"/><circle cx="932.6" cy="227.4" r="0.49"/><circle cx="938.3" cy="226.5" r="0.51"/><circle cx="937.8" cy="224.7" r="0.67"/><circle cx="937.6" cy="228.6" r="0.55"/><circle cx="940.7" cy="224.5" r="0.74"/><circle cx="941.4" cy="220.5" r="0.74"/><circle cx="941.7" cy="220.1" r="0.52"/><circle cx="942.7" cy="218.9" r="0.51"/><circle cx="914.3" cy="248.2" r="0.76"/><circle cx="917.8" cy="250.4" r="0.79"/><circle cx="923.1" cy="251.9" r="0.44"/><circle cx="921.1" cy="250.9" r="0.50"/><circle cx="925.7" cy="252.7" r="0.45"/><circle cx="924.7" cy="252.1" r="0.58"/><circle cx="931.2" cy="252.6" r="0.59"/><circle cx="928.9" cy="254.4" r="0.67"/><circle cx="934.9" cy="253.8" r="0.77"/><circle cx="938.5" cy="254.9" r="0.53"/><circle cx="943.0" cy="256.8" r="0.68"/><circle cx="873.3" cy="286.8" r="0.49"/><circle cx="873.7" cy="288.9" r="0.68"/><circle cx="877.0" cy="287.9" r="0.64"/><circle cx="878.9" cy="286.5" r="0.66"/><circle cx="876.0" cy="284.2" r="0.51"/><circle cx="885.4" cy="283.7" r="0.65"/><circle cx="885.9" cy="285.1" r="0.45"/><circle cx="881.4" cy="282.7" r="0.71"/><circle cx="887.5" cy="282.1" r="0.47"/><circle cx="888.1" cy="283.8" r="0.75"/><circle cx="892.6" cy="281.0" r="0.54"/><circle cx="895.3" cy="279.2" r="0.42"/><circle cx="898.4" cy="281.6" r="0.50"/><circle cx="900.5" cy="277.9" r="0.44"/><circle cx="901.3" cy="275.3" r="0.76"/><circle cx="902.4" cy="276.0" r="0.62"/><circle cx="904.7" cy="273.8" r="0.52"/><circle cx="904.6" cy="273.8" r="0.69"/><circle cx="907.2" cy="273.2" r="0.63"/><circle cx="910.4" cy="269.7" r="0.62"/><circle cx="909.9" cy="266.9" r="0.73"/><circle cx="912.7" cy="264.0" r="0.61"/><circle cx="913.5" cy="261.9" r="0.50"/><circle cx="916.3" cy="262.5" r="0.58"/><circle cx="878.8" cy="289.9" r="0.54"/><circle cx="879.6" cy="293.3" r="0.40"/><circle cx="883.6" cy="292.9" r="0.46"/><circle cx="885.5" cy="290.0" r="0.37"/><circle cx="893.1" cy="289.1" r="0.70"/><circle cx="891.2" cy="293.3" r="0.37"/><circle cx="890.4" cy="289.0" r="0.63"/><circle cx="899.1" cy="290.3" r="0.52"/><circle cx="898.7" cy="287.9" r="0.47"/><circle cx="902.1" cy="292.5" r="0.39"/><circle cx="901.9" cy="288.3" r="0.35"/><circle cx="904.6" cy="288.9" r="0.54"/><circle cx="906.2" cy="288.3" r="0.67"/><circle cx="911.6" cy="287.0" r="0.58"/><circle cx="909.9" cy="288.3" r="0.74"/><circle cx="915.4" cy="287.4" r="0.50"/><circle cx="914.5" cy="288.6" r="0.48"/><circle cx="920.2" cy="286.4" r="0.40"/><circle cx="919.0" cy="287.5" r="0.50"/><circle cx="924.5" cy="285.2" r="0.54"/><circle cx="925.1" cy="285.2" r="0.53"/><circle cx="928.9" cy="285.7" r="0.55"/><circle cx="927.1" cy="284.0" r="0.71"/><circle cx="934.0" cy="282.7" r="0.68"/><circle cx="930.1" cy="283.1" r="0.78"/><circle cx="938.2" cy="281.8" r="0.56"/><circle cx="935.4" cy="281.2" r="0.64"/><circle cx="941.3" cy="281.3" r="0.41"/><circle cx="942.2" cy="278.6" r="0.58"/><circle cx="946.4" cy="276.6" r="0.57"/><circle cx="946.7" cy="276.5" r="0.49"/><circle cx="950.8" cy="277.1" r="0.70"/><circle cx="877.3" cy="296.9" r="0.72"/><circle cx="878.7" cy="299.4" r="0.51"/><circle cx="877.7" cy="300.7" r="0.72"/><circle cx="882.1" cy="299.3" r="0.36"/><circle cx="888.0" cy="303.3" r="0.68"/><circle cx="883.0" cy="301.1" r="0.43"/><circle cx="887.9" cy="300.2" r="0.36"/><circle cx="892.6" cy="303.5" r="0.66"/><circle cx="893.3" cy="303.9" r="0.44"/><circle cx="897.4" cy="301.5" r="0.36"/><circle cx="892.9" cy="298.6" r="0.38"/><circle cx="899.5" cy="301.0" r="0.48"/><circle cx="899.4" cy="305.8" r="0.76"/><circle cx="903.9" cy="307.6" r="0.55"/><circle cx="904.6" cy="303.2" r="0.77"/><circle cx="911.3" cy="305.3" r="0.39"/><circle cx="911.9" cy="307.6" r="0.63"/><circle cx="912.3" cy="305.1" r="0.66"/><circle cx="917.6" cy="309.3" r="0.44"/><circle cx="919.1" cy="308.9" r="0.69"/><circle cx="918.3" cy="308.4" r="0.66"/><circle cx="920.8" cy="309.2" r="0.78"/><circle cx="921.1" cy="311.1" r="0.58"/><circle cx="918.5" cy="311.5" r="0.69"/><circle cx="927.5" cy="311.5" r="0.51"/><circle cx="929.2" cy="314.4" r="0.53"/><circle cx="931.9" cy="316.2" r="0.56"/><circle cx="934.2" cy="315.6" r="0.44"/><circle cx="935.6" cy="313.3" r="0.72"/><circle cx="939.2" cy="314.6" r="0.57"/><circle cx="939.9" cy="314.2" r="0.45"/><circle cx="939.9" cy="311.3" r="0.71"/><circle cx="948.7" cy="312.7" r="0.62"/><circle cx="947.1" cy="310.9" r="0.70"/><circle cx="945.9" cy="314.8" r="0.70"/><circle cx="952.8" cy="311.4" r="0.65"/><circle cx="918.1" cy="308.8" r="0.54"/><circle cx="918.8" cy="310.4" r="0.45"/><circle cx="921.9" cy="315.0" r="0.43"/><circle cx="922.6" cy="316.3" r="0.56"/><circle cx="925.1" cy="322.9" r="0.73"/><circle cx="921.6" cy="321.0" r="0.44"/><circle cx="922.3" cy="320.7" r="0.61"/><circle cx="927.2" cy="328.7" r="0.49"/><circle cx="931.1" cy="330.7" r="0.61"/><circle cx="930.3" cy="330.5" r="0.57"/><circle cx="931.5" cy="336.6" r="0.42"/><circle cx="931.2" cy="336.2" r="0.40"/><circle cx="936.0" cy="341.6" r="0.46"/><circle cx="936.2" cy="343.5" r="0.57"/><circle cx="935.3" cy="343.7" r="0.56"/><circle cx="934.9" cy="351.2" r="0.40"/><circle cx="937.4" cy="347.9" r="0.50"/><circle cx="935.5" cy="356.1" r="0.80"/><circle cx="938.1" cy="352.9" r="0.69"/><circle cx="937.9" cy="363.2" r="0.49"/><circle cx="935.1" cy="358.3" r="0.58"/><circle cx="936.7" cy="366.2" r="0.72"/><circle cx="939.1" cy="366.2" r="0.53"/><circle cx="937.6" cy="370.8" r="0.60"/><circle cx="876.5" cy="301.8" r="0.60"/><circle cx="877.9" cy="302.7" r="0.52"/><circle cx="881.5" cy="309.1" r="0.63"/><circle cx="876.5" cy="309.0" r="0.56"/><circle cx="877.5" cy="304.6" r="0.67"/><circle cx="879.2" cy="312.1" r="0.65"/><circle cx="883.4" cy="313.9" r="0.55"/><circle cx="879.7" cy="312.8" r="0.50"/><circle cx="883.7" cy="320.9" r="0.71"/><circle cx="882.1" cy="318.9" r="0.71"/><circle cx="881.0" cy="318.0" r="0.38"/><circle cx="881.9" cy="322.8" r="0.52"/><circle cx="883.1" cy="324.1" r="0.58"/><circle cx="880.6" cy="328.7" r="0.49"/><circle cx="877.9" cy="333.4" r="0.55"/><circle cx="878.5" cy="328.0" r="0.49"/><circle cx="874.4" cy="337.1" r="0.69"/><circle cx="877.6" cy="335.6" r="0.37"/><circle cx="871.9" cy="341.0" r="0.55"/><circle cx="872.0" cy="340.5" r="0.42"/><circle cx="884.7" cy="306.9" r="0.75"/><circle cx="885.9" cy="305.3" r="0.54"/><circle cx="887.3" cy="312.8" r="0.49"/><circle cx="888.5" cy="313.5" r="0.38"/><circle cx="892.0" cy="314.9" r="0.49"/><circle cx="891.2" cy="316.0" r="0.41"/><circle cx="894.0" cy="319.0" r="0.42"/><circle cx="893.0" cy="317.1" r="0.39"/><circle cx="896.2" cy="326.8" r="0.72"/><circle cx="895.5" cy="326.3" r="0.46"/><circle cx="897.3" cy="328.8" r="0.68"/><circle cx="897.3" cy="335.7" r="0.62"/><circle cx="898.5" cy="335.0" r="0.38"/><circle cx="896.4" cy="339.3" r="0.48"/><circle cx="898.5" cy="338.6" r="0.55"/><circle cx="898.5" cy="344.0" r="0.47"/><circle cx="899.4" cy="344.2" r="0.71"/><circle cx="899.4" cy="346.5" r="0.58"/></g></g>
<g fill="#7a3a18" opacity="0.70"><circle cx="143.7" cy="309.8" r="0.52"/><circle cx="139.2" cy="315.9" r="0.47"/><circle cx="131.7" cy="313.1" r="0.63"/><circle cx="150.7" cy="313.0" r="0.60"/><circle cx="123.1" cy="314.9" r="0.43"/><circle cx="131.8" cy="306.2" r="0.44"/><circle cx="141.7" cy="309.6" r="0.39"/><circle cx="142.3" cy="307.4" r="0.66"/><circle cx="139.8" cy="297.7" r="0.66"/><circle cx="155.2" cy="307.4" r="0.53"/><circle cx="146.9" cy="302.7" r="0.43"/><circle cx="141.8" cy="314.0" r="0.46"/><circle cx="155.3" cy="309.7" r="0.77"/><circle cx="132.2" cy="312.2" r="0.56"/><circle cx="134.4" cy="297.5" r="0.71"/><circle cx="151.7" cy="290.5" r="0.42"/><circle cx="146.8" cy="292.0" r="0.50"/><circle cx="154.0" cy="292.4" r="0.73"/><circle cx="135.2" cy="314.4" r="0.49"/><circle cx="132.2" cy="298.4" r="0.36"/><circle cx="140.4" cy="297.9" r="0.36"/><circle cx="161.0" cy="297.7" r="0.35"/><circle cx="124.1" cy="309.5" r="0.61"/><circle cx="143.7" cy="293.2" r="0.48"/><circle cx="125.3" cy="314.3" r="0.36"/><circle cx="153.7" cy="313.0" r="0.66"/><circle cx="145.9" cy="313.1" r="0.42"/><circle cx="145.4" cy="293.9" r="0.53"/><circle cx="128.5" cy="309.4" r="0.61"/><circle cx="157.0" cy="306.6" r="0.62"/><circle cx="146.7" cy="296.0" r="0.77"/><circle cx="135.4" cy="309.4" r="0.77"/><circle cx="150.6" cy="307.8" r="0.77"/><circle cx="157.0" cy="300.2" r="0.56"/><circle cx="156.1" cy="295.7" r="0.40"/><circle cx="149.3" cy="313.0" r="0.46"/><circle cx="152.4" cy="315.9" r="0.41"/><circle cx="125.8" cy="301.9" r="0.50"/><circle cx="140.9" cy="312.4" r="0.63"/><circle cx="142.6" cy="299.0" r="0.78"/><circle cx="139.3" cy="314.4" r="0.70"/><circle cx="147.7" cy="292.9" r="0.49"/><circle cx="143.1" cy="298.4" r="0.64"/><circle cx="143.8" cy="295.9" r="0.62"/><circle cx="139.8" cy="313.9" r="0.66"/><circle cx="147.7" cy="304.9" r="0.36"/><circle cx="137.8" cy="293.7" r="0.63"/><circle cx="122.4" cy="303.6" r="0.52"/><circle cx="143.1" cy="298.8" r="0.40"/><circle cx="154.7" cy="312.7" r="0.62"/><circle cx="124.9" cy="305.6" r="0.74"/><circle cx="121.5" cy="315.4" r="0.65"/><circle cx="132.7" cy="316.9" r="0.72"/><circle cx="147.2" cy="297.9" r="0.48"/><circle cx="156.2" cy="306.2" r="0.50"/><circle cx="145.6" cy="317.1" r="0.61"/><circle cx="163.5" cy="304.4" r="0.80"/><circle cx="120.7" cy="300.7" r="0.60"/><circle cx="149.5" cy="301.3" r="0.64"/><circle cx="145.1" cy="309.3" r="0.78"/></g>
<g fill="#7a3a18" opacity="0.70"><circle cx="876.9" cy="299.7" r="0.46"/><circle cx="870.3" cy="287.0" r="0.67"/><circle cx="874.0" cy="295.4" r="0.50"/><circle cx="875.4" cy="303.1" r="0.70"/><circle cx="873.7" cy="290.5" r="0.51"/><circle cx="874.7" cy="299.1" r="0.77"/><circle cx="873.1" cy="302.7" r="0.42"/><circle cx="881.7" cy="290.8" r="0.60"/><circle cx="869.0" cy="285.4" r="0.41"/><circle cx="868.4" cy="297.5" r="0.61"/><circle cx="863.9" cy="299.7" r="0.58"/><circle cx="864.4" cy="300.2" r="0.72"/><circle cx="879.9" cy="299.1" r="0.64"/><circle cx="869.0" cy="300.5" r="0.76"/><circle cx="868.6" cy="297.1" r="0.66"/><circle cx="881.9" cy="294.5" r="0.47"/><circle cx="867.1" cy="294.0" r="0.41"/><circle cx="866.9" cy="297.4" r="0.65"/><circle cx="863.9" cy="299.2" r="0.69"/><circle cx="868.5" cy="284.1" r="0.48"/><circle cx="880.0" cy="292.3" r="0.72"/><circle cx="864.8" cy="284.3" r="0.51"/><circle cx="862.7" cy="298.7" r="0.39"/><circle cx="867.0" cy="296.7" r="0.74"/><circle cx="871.0" cy="291.9" r="0.36"/></g>
<ellipse cx="58.5" cy="306.0" rx="7.5" ry="6.5" transform="rotate(0.0 58.5 306.0)" fill="url(#ndg)" stroke="#3a2a28" stroke-width="1.6"/>
<ellipse cx="589.0" cy="321.0" rx="9.0" ry="9.5" transform="rotate(14.0 589.0 321.0)" fill="url(#ndg)" stroke="#3a2a28" stroke-width="1.6"/>
<ellipse cx="661.0" cy="337.5" rx="9.0" ry="9.5" transform="rotate(10.0 661.0 337.5)" fill="url(#ndg)" stroke="#3a2a28" stroke-width="1.6"/>
<ellipse cx="729.0" cy="350.0" rx="9.0" ry="10.5" transform="rotate(0.0 729.0 350.0)" fill="url(#ndg)" stroke="#3a2a28" stroke-width="1.6"/>
<ellipse cx="797.0" cy="335.5" rx="11.5" ry="12.0" transform="rotate(-15.0 797.0 335.5)" fill="url(#ndg)" stroke="#3a2a28" stroke-width="1.6"/>
<path d="M54.5 306.0 L54.5 307.1 L54.4 308.3 L54.2 309.4 L53.8 310.3 L53.1 311.0 L52.1 311.5 L51.1 312.0 L50.3 312.6 L49.9 313.4 L49.6 314.3 L49.3 315.1 L48.7 315.8 L47.8 316.4 L46.7 316.8 L45.5 317.1 L44.1 317.3 L42.8 317.3 L41.3 317.2 L39.8 317.0 L38.1 316.9 L36.2 317.0 L34.2 317.2 L32.2 317.3 L30.4 317.2 L29.0 316.9 L27.8 316.4 L26.6 315.8 L25.5 315.3 L24.4 314.9 L23.3 314.5 L22.2 314.2 L21.1 313.8 L19.8 313.4 L18.5 313.0 L17.3 312.5 L16.4 311.9 L16.1 311.1 L16.2 310.2 L16.3 309.2 L16.4 308.2 L16.2 307.2 L16.0 306.1 L15.7 305.1 L15.6 304.0 L15.6 302.9 L15.8 301.8 L16.0 300.7 L16.4 299.8 L17.0 299.0 L17.9 298.5 L18.8 297.9 L19.5 297.3 L19.9 296.5 L20.2 295.6 L20.5 294.7 L21.1 294.0 L22.0 293.5 L23.2 293.2 L24.6 293.0 L26.0 292.9 L27.3 292.8 L28.8 293.0 L30.3 293.1 L31.9 293.2 L33.8 293.1 L35.8 292.9 L37.8 292.8 L39.6 292.8 L41.0 293.1 L42.2 293.6 L43.3 294.2 L44.5 294.7 L45.7 295.0 L46.9 295.3 L48.1 295.7 L49.2 296.0 L50.4 296.5 L51.7 296.9 L52.8 297.4 L53.5 298.1 L53.8 298.9 L53.6 299.8 L53.4 300.8 L53.3 301.9 L53.6 302.9 L53.9 303.9 L54.3 305.0Z" fill="#3b3a22" stroke="#33321c" stroke-width="2.6" stroke-linejoin="round"/><g transform="translate(35.0 305.0) rotate(3.0)"><path d="M19.5 0.0 L19.6 1.1 L19.6 2.3 L19.4 3.3 L19.0 4.3 L18.3 5.0 L17.4 5.6 L16.5 6.2 L15.7 6.8 L15.3 7.6 L15.0 8.5 L14.8 9.4 L14.3 10.1 L13.4 10.7 L12.3 11.1 L11.1 11.5 L9.8 11.8 L8.4 11.9 L6.9 11.8 L5.4 11.7 L3.7 11.7 L1.9 11.9 L-0.2 12.2 L-2.2 12.4 L-3.9 12.5 L-5.4 12.2 L-6.6 11.7 L-7.8 11.2 L-8.9 10.8 L-10.1 10.5 L-11.2 10.1 L-12.3 9.8 L-13.4 9.5 L-14.7 9.2 L-16.1 8.9 L-17.3 8.5 L-18.2 7.9 L-18.5 7.1 L-18.5 6.2 L-18.4 5.2 L-18.4 4.2 L-18.7 3.2 L-19.0 2.1 L-19.3 1.1 L-19.4 0.0 L-19.4 -1.1 L-19.4 -2.2 L-19.2 -3.3 L-18.9 -4.3 L-18.3 -5.0 L-17.4 -5.6 L-16.6 -6.2 L-15.9 -6.9 L-15.5 -7.7 L-15.3 -8.7 L-15.0 -9.5 L-14.5 -10.3 L-13.6 -10.8 L-12.4 -11.2 L-11.0 -11.5 L-9.7 -11.7 L-8.3 -11.7 L-6.8 -11.7 L-5.3 -11.6 L-3.7 -11.6 L-1.8 -11.8 L0.2 -12.1 L2.2 -12.4 L3.9 -12.4 L5.4 -12.2 L6.6 -11.7 L7.8 -11.2 L8.9 -10.8 L10.2 -10.5 L11.4 -10.3 L12.5 -10.0 L13.7 -9.7 L14.9 -9.3 L16.2 -9.0 L17.4 -8.5 L18.1 -7.9 L18.4 -7.1 L18.3 -6.1 L18.1 -5.1 L18.1 -4.1 L18.4 -3.1 L18.8 -2.1 L19.3 -1.0Z" fill="url(#myg)"/><ellipse cx="0.0" cy="-3.4" rx="5.1" ry="2.9" fill="#a9aa86" stroke="#44452a" stroke-width="1.8"/><path d="M-2.7 -3.7 q2.7 2.0 5.5 0" fill="none" stroke="#4b4a2c" stroke-width="1.2"/><g fill="#4a4b2c" opacity="0.7"><circle cx="-4.8" cy="4.5" r="0.90"/><circle cx="2.8" cy="6.9" r="0.49"/><circle cx="-7.3" cy="3.5" r="0.92"/><circle cx="2.3" cy="5.4" r="1.00"/><circle cx="-8.0" cy="5.1" r="1.05"/><circle cx="11.2" cy="2.4" r="1.00"/><circle cx="-0.4" cy="4.9" r="0.75"/><circle cx="0.8" cy="3.8" r="1.09"/><circle cx="-11.0" cy="0.8" r="1.02"/><circle cx="-4.5" cy="2.4" r="0.92"/><circle cx="12.9" cy="3.7" r="0.76"/><circle cx="-2.8" cy="6.3" r="1.04"/><circle cx="14.3" cy="5.2" r="1.08"/><circle cx="11.1" cy="7.1" r="1.01"/><circle cx="-15.3" cy="5.0" r="0.99"/><circle cx="4.6" cy="-6.0" r="0.55"/><circle cx="0.2" cy="6.6" r="0.54"/><circle cx="4.7" cy="7.9" r="1.08"/><circle cx="2.0" cy="5.8" r="0.80"/><circle cx="13.5" cy="6.0" r="0.66"/><circle cx="3.7" cy="1.6" r="0.81"/><circle cx="-16.8" cy="3.1" r="0.65"/><circle cx="-6.5" cy="2.2" r="0.81"/><circle cx="-11.3" cy="1.7" r="0.62"/><circle cx="-12.0" cy="0.3" r="0.79"/><circle cx="1.1" cy="2.2" r="0.64"/><circle cx="3.4" cy="9.0" r="0.95"/><circle cx="-12.3" cy="2.6" r="0.43"/><circle cx="13.4" cy="3.2" r="0.67"/><circle cx="14.2" cy="4.3" r="0.45"/><circle cx="-13.7" cy="2.6" r="0.43"/><circle cx="-3.3" cy="0.2" r="0.84"/><circle cx="-2.2" cy="6.4" r="0.53"/><circle cx="6.8" cy="8.0" r="0.90"/><circle cx="-9.3" cy="7.1" r="0.86"/><circle cx="-10.5" cy="4.5" r="1.08"/><circle cx="-6.1" cy="6.3" r="0.47"/><circle cx="-4.4" cy="4.5" r="0.41"/><circle cx="-15.7" cy="3.4" r="0.90"/><circle cx="-2.8" cy="4.9" r="0.61"/><circle cx="-1.8" cy="-6.3" r="0.80"/><circle cx="7.1" cy="8.8" r="1.09"/><circle cx="16.8" cy="0.6" r="0.78"/><circle cx="-12.0" cy="5.5" r="0.55"/><circle cx="2.8" cy="-7.8" r="0.74"/><circle cx="15.3" cy="1.9" r="0.73"/><circle cx="9.1" cy="0.0" r="0.93"/><circle cx="-7.8" cy="-5.4" r="0.87"/><circle cx="3.6" cy="6.8" r="0.91"/><circle cx="3.2" cy="5.1" r="0.47"/><circle cx="-8.9" cy="6.8" r="0.52"/><circle cx="-0.7" cy="-3.7" r="0.50"/><circle cx="7.4" cy="2.8" r="0.59"/><circle cx="13.0" cy="6.3" r="0.92"/><circle cx="-4.5" cy="6.8" r="1.06"/><circle cx="2.0" cy="0.3" r="0.62"/><circle cx="3.7" cy="6.7" r="0.42"/><circle cx="5.1" cy="4.6" r="1.03"/><circle cx="-1.2" cy="4.4" r="0.66"/><circle cx="5.6" cy="2.8" r="0.80"/><circle cx="-9.3" cy="1.8" r="0.94"/><circle cx="-1.7" cy="-6.2" r="0.95"/><circle cx="-11.5" cy="2.5" r="0.49"/></g></g>
<path d="M119.3 309.0 L119.0 310.2 L118.4 311.4 L117.6 312.6 L116.7 313.7 L115.8 314.5 L114.7 315.2 L113.7 315.8 L112.7 316.5 L111.9 317.3 L111.3 318.2 L110.6 318.9 L109.6 319.6 L108.2 319.9 L106.5 320.0 L104.6 320.1 L102.8 320.3 L101.2 320.7 L99.6 321.1 L98.0 321.5 L96.0 321.8 L93.5 322.0 L90.6 322.2 L87.7 322.2 L85.2 322.1 L83.3 321.6 L81.7 320.9 L80.3 320.1 L78.8 319.4 L77.1 319.0 L75.5 318.7 L73.9 318.4 L72.4 318.0 L71.2 317.4 L70.1 316.8 L69.2 316.0 L68.4 315.2 L67.8 314.4 L67.4 313.6 L67.1 312.7 L66.5 311.7 L65.6 310.6 L64.4 309.4 L63.4 308.2 L63.0 307.0 L63.3 305.8 L64.1 304.6 L65.2 303.5 L66.1 302.4 L67.0 301.6 L68.0 300.9 L68.9 300.2 L69.8 299.5 L70.5 298.7 L71.1 297.9 L71.8 297.1 L72.7 296.4 L74.2 296.1 L75.9 295.9 L77.7 295.8 L79.5 295.6 L81.1 295.2 L82.7 294.7 L84.4 294.3 L86.3 294.0 L88.9 293.8 L91.8 293.8 L94.7 293.8 L97.1 294.1 L99.0 294.6 L100.5 295.3 L101.9 296.1 L103.4 296.7 L105.1 297.1 L106.9 297.3 L108.6 297.6 L110.1 297.9 L111.3 298.5 L112.4 299.2 L113.3 299.9 L114.1 300.7 L114.8 301.5 L115.2 302.4 L115.7 303.3 L116.2 304.3 L117.1 305.4 L118.0 306.5 L118.9 307.8Z" fill="#3b3a22" stroke="#33321c" stroke-width="2.6" stroke-linejoin="round"/><g transform="translate(91.2 308.0) rotate(2.0)"><path d="M28.1 0.0 L27.9 1.2 L27.3 2.5 L26.5 3.7 L25.7 4.8 L24.8 5.6 L23.8 6.4 L22.7 7.0 L21.8 7.7 L21.0 8.6 L20.5 9.4 L19.8 10.3 L18.8 10.9 L17.4 11.3 L15.7 11.5 L13.8 11.6 L12.0 11.9 L10.4 12.3 L8.9 12.8 L7.2 13.2 L5.3 13.6 L2.7 13.9 L-0.1 14.2 L-3.0 14.4 L-5.5 14.3 L-7.4 13.9 L-9.0 13.2 L-10.5 12.5 L-12.0 11.9 L-13.7 11.5 L-15.4 11.3 L-17.0 11.0 L-18.4 10.7 L-19.7 10.1 L-20.8 9.5 L-21.7 8.8 L-22.6 8.0 L-23.2 7.2 L-23.6 6.4 L-24.0 5.5 L-24.5 4.5 L-25.5 3.5 L-26.7 2.3 L-27.7 1.2 L-28.2 0.0 L-28.0 -1.2 L-27.2 -2.4 L-26.2 -3.6 L-25.2 -4.7 L-24.4 -5.5 L-23.4 -6.3 L-22.5 -7.0 L-21.7 -7.7 L-21.0 -8.6 L-20.5 -9.4 L-19.8 -10.3 L-18.8 -10.9 L-17.4 -11.3 L-15.7 -11.5 L-13.9 -11.7 L-12.1 -12.0 L-10.5 -12.4 L-9.0 -13.0 L-7.3 -13.5 L-5.3 -13.8 L-2.8 -14.1 L0.1 -14.2 L3.0 -14.3 L5.4 -14.1 L7.3 -13.7 L8.9 -13.0 L10.3 -12.3 L11.8 -11.7 L13.5 -11.4 L15.3 -11.2 L17.0 -11.0 L18.5 -10.7 L19.8 -10.2 L20.9 -9.5 L21.8 -8.8 L22.6 -8.1 L23.3 -7.3 L23.8 -6.5 L24.3 -5.6 L24.9 -4.6 L25.8 -3.5 L26.8 -2.4 L27.6 -1.2Z" fill="url(#myg)"/><ellipse cx="0.0" cy="-3.8" rx="6.8" ry="3.2" fill="#a9aa86" stroke="#44452a" stroke-width="1.8"/><path d="M-3.7 -4.0 q3.7 2.2 7.4 0" fill="none" stroke="#4b4a2c" stroke-width="1.2"/><g fill="#4a4b2c" opacity="0.7"><circle cx="14.2" cy="5.5" r="1.05"/><circle cx="3.4" cy="-1.4" r="0.57"/><circle cx="-21.5" cy="2.2" r="0.75"/><circle cx="-5.4" cy="4.0" r="0.70"/><circle cx="10.4" cy="-0.6" r="0.43"/><circle cx="-1.3" cy="3.6" r="0.77"/><circle cx="9.8" cy="8.5" r="0.84"/><circle cx="5.5" cy="2.9" r="0.94"/><circle cx="-22.9" cy="1.9" r="0.68"/><circle cx="13.7" cy="-1.8" r="1.02"/><circle cx="5.5" cy="8.4" r="0.48"/><circle cx="12.4" cy="-8.5" r="0.82"/><circle cx="19.1" cy="6.2" r="0.95"/><circle cx="-2.3" cy="5.9" r="0.69"/><circle cx="0.0" cy="-2.5" r="0.67"/><circle cx="5.4" cy="-7.7" r="0.61"/><circle cx="-3.7" cy="0.5" r="0.46"/><circle cx="12.6" cy="6.8" r="1.08"/><circle cx="22.3" cy="3.4" r="0.89"/><circle cx="-2.6" cy="8.2" r="1.05"/><circle cx="-17.3" cy="3.5" r="0.59"/><circle cx="22.8" cy="1.9" r="0.43"/><circle cx="15.7" cy="9.0" r="0.55"/><circle cx="13.9" cy="8.1" r="0.81"/><circle cx="10.5" cy="5.6" r="0.40"/><circle cx="-5.0" cy="1.4" r="0.47"/><circle cx="21.2" cy="-3.1" r="0.43"/><circle cx="-5.7" cy="7.1" r="0.50"/><circle cx="-21.6" cy="0.7" r="1.01"/><circle cx="-10.9" cy="2.7" r="0.72"/><circle cx="-10.9" cy="-7.2" r="0.76"/><circle cx="-23.9" cy="0.8" r="0.41"/><circle cx="-6.4" cy="5.3" r="0.69"/><circle cx="22.6" cy="2.2" r="1.02"/><circle cx="-6.7" cy="-9.6" r="0.61"/><circle cx="-1.4" cy="4.8" r="0.82"/><circle cx="1.6" cy="4.3" r="0.98"/><circle cx="8.0" cy="10.0" r="0.55"/><circle cx="16.1" cy="6.3" r="0.85"/><circle cx="3.2" cy="7.5" r="1.04"/><circle cx="-11.7" cy="7.0" r="0.75"/><circle cx="0.8" cy="8.1" r="0.70"/><circle cx="-14.0" cy="3.3" r="0.65"/><circle cx="-12.2" cy="4.4" r="1.08"/><circle cx="2.6" cy="0.8" r="0.68"/><circle cx="-17.6" cy="2.6" r="0.57"/><circle cx="22.5" cy="1.1" r="0.60"/><circle cx="-13.4" cy="1.3" r="1.02"/><circle cx="6.1" cy="4.5" r="0.89"/><circle cx="4.8" cy="7.0" r="0.56"/><circle cx="6.7" cy="-10.5" r="0.48"/><circle cx="-19.9" cy="-6.6" r="0.72"/><circle cx="3.6" cy="2.3" r="0.45"/><circle cx="7.1" cy="8.1" r="1.02"/><circle cx="17.3" cy="3.4" r="0.81"/><circle cx="-10.6" cy="2.8" r="0.91"/><circle cx="8.3" cy="3.5" r="0.80"/><circle cx="-7.2" cy="7.0" r="0.53"/><circle cx="-2.6" cy="-6.7" r="1.07"/><circle cx="-8.8" cy="7.4" r="0.69"/><circle cx="-13.8" cy="6.0" r="0.42"/><circle cx="12.8" cy="5.6" r="0.61"/><circle cx="-16.9" cy="6.9" r="0.58"/><circle cx="-10.9" cy="-3.2" r="0.51"/><circle cx="-1.2" cy="7.8" r="0.52"/><circle cx="3.1" cy="3.6" r="0.63"/><circle cx="-16.6" cy="5.7" r="0.73"/><circle cx="-16.9" cy="6.3" r="0.70"/><circle cx="10.6" cy="-2.8" r="0.77"/><circle cx="-6.2" cy="6.0" r="0.49"/><circle cx="10.9" cy="4.2" r="0.72"/><circle cx="-10.8" cy="0.8" r="0.64"/><circle cx="-7.4" cy="7.2" r="0.90"/><circle cx="-5.8" cy="1.1" r="0.55"/><circle cx="7.9" cy="7.1" r="0.57"/><circle cx="-3.3" cy="5.5" r="0.95"/><circle cx="4.8" cy="-9.6" r="0.86"/><circle cx="3.9" cy="1.5" r="0.58"/><circle cx="-21.6" cy="1.7" r="0.70"/><circle cx="1.2" cy="11.8" r="0.64"/><circle cx="22.9" cy="3.0" r="0.99"/><circle cx="14.5" cy="5.8" r="1.02"/><circle cx="-2.2" cy="3.2" r="0.96"/><circle cx="19.2" cy="1.1" r="0.60"/><circle cx="-1.0" cy="3.5" r="0.43"/><circle cx="-10.9" cy="4.1" r="0.71"/><circle cx="10.9" cy="2.2" r="0.84"/><circle cx="-9.5" cy="6.4" r="1.01"/><circle cx="7.7" cy="2.9" r="0.76"/><circle cx="-17.8" cy="1.3" r="1.03"/><circle cx="-4.8" cy="0.5" r="0.41"/><circle cx="-3.8" cy="3.7" r="0.95"/><circle cx="9.0" cy="4.7" r="0.88"/><circle cx="15.5" cy="6.2" r="0.69"/></g></g>
<path d="M582.8 316.9 L582.1 318.1 L580.9 319.1 L579.7 320.1 L578.7 321.1 L578.2 322.2 L577.9 323.3 L577.6 324.3 L576.8 325.1 L575.7 325.7 L574.2 326.2 L572.5 326.5 L570.7 326.6 L568.6 326.4 L566.4 325.9 L564.0 325.3 L561.8 325.0 L559.8 325.0 L557.9 325.2 L555.9 325.3 L553.5 325.1 L550.7 324.6 L547.5 323.7 L544.2 322.7 L541.3 321.8 L539.0 321.0 L536.8 320.2 L534.9 319.4 L532.8 318.7 L530.6 317.9 L528.2 317.2 L526.1 316.4 L524.5 315.5 L523.7 314.5 L523.5 313.3 L523.4 312.1 L523.2 310.9 L522.7 309.9 L522.1 308.9 L521.5 307.8 L520.9 306.7 L520.3 305.3 L519.6 303.9 L519.1 302.4 L519.0 301.0 L519.7 299.9 L520.8 298.8 L522.1 297.8 L523.1 296.8 L523.6 295.7 L523.9 294.6 L524.3 293.6 L525.0 292.8 L526.3 292.3 L528.0 291.9 L529.8 291.8 L531.7 291.7 L533.7 292.0 L535.9 292.4 L538.1 292.8 L540.3 293.1 L542.2 293.0 L544.1 292.8 L546.1 292.5 L548.4 292.7 L551.3 293.3 L554.5 294.2 L557.8 295.2 L560.7 296.1 L563.1 296.9 L565.3 297.7 L567.3 298.5 L569.3 299.2 L571.5 300.0 L573.7 300.8 L575.7 301.6 L577.2 302.5 L577.9 303.6 L578.0 304.8 L578.0 306.0 L578.3 307.1 L579.0 308.2 L579.9 309.2 L580.8 310.2 L581.5 311.4 L582.0 312.7 L582.6 314.1 L582.9 315.6Z" fill="#3b3a22" stroke="#33321c" stroke-width="2.6" stroke-linejoin="round"/><g transform="translate(551.0 309.0) rotate(14.0)"><path d="M32.7 0.0 L32.3 1.3 L31.5 2.6 L30.5 3.8 L29.8 5.0 L29.6 6.2 L29.6 7.3 L29.5 8.4 L29.0 9.4 L28.0 10.3 L26.7 11.1 L25.1 11.8 L23.3 12.3 L21.3 12.6 L19.0 12.7 L16.6 12.7 L14.3 12.9 L12.4 13.4 L10.6 14.0 L8.7 14.6 L6.4 15.1 L3.5 15.2 L0.1 15.1 L-3.2 15.0 L-6.3 14.8 L-8.8 14.6 L-11.0 14.3 L-13.1 14.0 L-15.3 13.8 L-17.7 13.6 L-20.1 13.4 L-22.4 13.2 L-24.1 12.7 L-25.1 11.9 L-25.7 10.8 L-26.0 9.7 L-26.5 8.6 L-27.3 7.7 L-28.1 6.9 L-29.0 6.0 L-29.8 5.0 L-30.7 3.9 L-31.7 2.6 L-32.6 1.3 L-32.9 0.0 L-32.6 -1.3 L-31.8 -2.6 L-30.8 -3.9 L-30.1 -5.1 L-29.8 -6.3 L-29.8 -7.4 L-29.7 -8.5 L-29.1 -9.4 L-28.0 -10.3 L-26.5 -11.0 L-24.7 -11.6 L-22.9 -12.1 L-20.9 -12.4 L-18.7 -12.5 L-16.4 -12.6 L-14.2 -12.8 L-12.4 -13.4 L-10.6 -14.1 L-8.7 -14.8 L-6.5 -15.2 L-3.5 -15.3 L-0.2 -15.3 L3.2 -15.1 L6.3 -14.9 L8.9 -14.7 L11.1 -14.4 L13.3 -14.2 L15.4 -13.9 L17.7 -13.7 L20.1 -13.4 L22.2 -13.1 L23.8 -12.6 L24.8 -11.7 L25.2 -10.6 L25.5 -9.5 L26.0 -8.4 L27.0 -7.6 L28.1 -6.8 L29.2 -6.0 L30.1 -5.1 L31.0 -3.9 L31.9 -2.6 L32.5 -1.3Z" fill="url(#myg)"/><ellipse cx="0.0" cy="-4.2" rx="8.3" ry="3.6" fill="#a9aa86" stroke="#44452a" stroke-width="1.8"/><path d="M-4.5 -4.5 q4.5 2.4 9.0 0" fill="none" stroke="#4b4a2c" stroke-width="1.2"/><g fill="#4a4b2c" opacity="0.7"><circle cx="13.4" cy="8.0" r="0.49"/><circle cx="9.5" cy="6.5" r="0.67"/><circle cx="-20.7" cy="2.8" r="0.96"/><circle cx="14.4" cy="4.0" r="1.01"/><circle cx="22.6" cy="5.0" r="0.95"/><circle cx="-9.1" cy="1.8" r="0.47"/><circle cx="11.8" cy="4.8" r="0.78"/><circle cx="19.9" cy="6.6" r="0.96"/><circle cx="12.2" cy="4.5" r="0.93"/><circle cx="-6.3" cy="6.8" r="0.51"/><circle cx="9.8" cy="-7.8" r="0.64"/><circle cx="-9.1" cy="8.5" r="1.02"/><circle cx="-14.8" cy="7.9" r="1.00"/><circle cx="1.4" cy="8.8" r="0.59"/><circle cx="19.8" cy="7.0" r="0.46"/><circle cx="9.8" cy="11.0" r="0.97"/><circle cx="-21.6" cy="1.6" r="0.69"/><circle cx="-8.3" cy="-1.4" r="0.47"/><circle cx="15.5" cy="7.5" r="0.96"/><circle cx="-10.0" cy="10.7" r="0.41"/><circle cx="2.1" cy="10.4" r="0.77"/><circle cx="1.5" cy="4.7" r="1.03"/><circle cx="-0.3" cy="7.5" r="0.59"/><circle cx="25.2" cy="2.6" r="0.61"/><circle cx="-2.3" cy="-9.1" r="0.65"/><circle cx="17.9" cy="6.7" r="0.79"/><circle cx="7.2" cy="-9.0" r="0.41"/><circle cx="19.9" cy="6.0" r="0.99"/><circle cx="10.2" cy="6.2" r="0.98"/><circle cx="-20.5" cy="8.5" r="0.43"/><circle cx="5.8" cy="2.3" r="0.63"/><circle cx="-1.4" cy="7.9" r="1.04"/><circle cx="11.6" cy="7.5" r="0.62"/><circle cx="-13.8" cy="-4.7" r="1.07"/><circle cx="-3.9" cy="10.7" r="0.49"/><circle cx="-5.9" cy="3.5" r="1.09"/><circle cx="14.6" cy="10.0" r="0.56"/><circle cx="15.2" cy="0.9" r="0.77"/><circle cx="-7.6" cy="9.3" r="0.82"/><circle cx="-7.8" cy="9.7" r="0.90"/><circle cx="-19.7" cy="1.5" r="0.43"/><circle cx="-22.6" cy="2.0" r="1.00"/><circle cx="19.7" cy="-8.4" r="0.74"/><circle cx="6.9" cy="6.1" r="1.09"/><circle cx="1.8" cy="0.6" r="0.64"/><circle cx="-8.1" cy="-2.5" r="0.64"/><circle cx="14.2" cy="3.7" r="0.52"/><circle cx="22.1" cy="-2.2" r="0.44"/><circle cx="-24.3" cy="-3.0" r="1.06"/><circle cx="14.3" cy="4.9" r="0.77"/><circle cx="14.3" cy="1.6" r="1.06"/><circle cx="-1.9" cy="8.9" r="0.80"/><circle cx="26.2" cy="-5.2" r="0.58"/><circle cx="1.7" cy="1.5" r="1.06"/><circle cx="-0.5" cy="7.2" r="0.57"/><circle cx="-6.1" cy="9.3" r="1.04"/><circle cx="22.1" cy="4.3" r="0.50"/><circle cx="25.9" cy="6.2" r="0.72"/><circle cx="8.0" cy="-12.5" r="0.77"/><circle cx="-3.3" cy="9.4" r="0.91"/><circle cx="-13.1" cy="9.6" r="0.79"/><circle cx="7.6" cy="-4.8" r="0.42"/><circle cx="-21.7" cy="2.1" r="1.05"/><circle cx="-11.8" cy="1.9" r="0.81"/><circle cx="-1.4" cy="0.3" r="0.90"/><circle cx="10.1" cy="4.9" r="1.00"/><circle cx="9.0" cy="3.4" r="0.93"/><circle cx="-14.5" cy="4.2" r="0.70"/><circle cx="1.8" cy="10.1" r="0.55"/><circle cx="21.9" cy="4.5" r="0.56"/><circle cx="-27.1" cy="4.4" r="0.62"/><circle cx="-11.7" cy="0.7" r="0.89"/><circle cx="-11.8" cy="9.5" r="0.47"/><circle cx="-13.8" cy="-6.4" r="0.47"/><circle cx="-0.6" cy="9.7" r="0.49"/><circle cx="-19.6" cy="6.7" r="0.73"/><circle cx="-9.0" cy="8.5" r="0.53"/><circle cx="-21.3" cy="2.2" r="1.10"/><circle cx="-15.8" cy="2.4" r="0.84"/><circle cx="-1.1" cy="5.9" r="1.10"/><circle cx="-22.1" cy="7.3" r="0.86"/><circle cx="8.9" cy="4.0" r="1.09"/><circle cx="14.9" cy="2.6" r="0.92"/><circle cx="-19.4" cy="8.4" r="0.40"/><circle cx="5.1" cy="1.0" r="0.42"/><circle cx="-23.1" cy="1.5" r="1.00"/><circle cx="-24.7" cy="6.0" r="0.83"/><circle cx="-14.6" cy="-1.8" r="0.40"/><circle cx="0.0" cy="7.5" r="0.75"/><circle cx="15.7" cy="1.5" r="0.97"/><circle cx="20.1" cy="6.6" r="0.77"/><circle cx="-17.1" cy="4.2" r="1.04"/><circle cx="22.0" cy="-5.6" r="0.50"/><circle cx="26.2" cy="2.4" r="0.84"/><circle cx="-5.8" cy="6.3" r="0.77"/><circle cx="17.0" cy="0.9" r="0.45"/><circle cx="27.7" cy="-1.7" r="0.40"/><circle cx="-8.5" cy="2.2" r="0.97"/><circle cx="6.4" cy="10.2" r="0.41"/><circle cx="22.6" cy="6.7" r="0.76"/><circle cx="2.6" cy="10.9" r="0.63"/><circle cx="29.2" cy="0.1" r="0.94"/><circle cx="7.1" cy="-9.5" r="0.94"/><circle cx="25.9" cy="5.2" r="0.93"/><circle cx="2.5" cy="6.7" r="1.09"/><circle cx="18.0" cy="2.9" r="1.10"/><circle cx="-24.7" cy="0.2" r="0.94"/><circle cx="-9.8" cy="7.3" r="0.89"/><circle cx="12.5" cy="-4.8" r="0.92"/><circle cx="-16.9" cy="3.4" r="0.45"/><circle cx="13.5" cy="3.8" r="0.43"/><circle cx="-5.2" cy="9.9" r="0.54"/><circle cx="-4.7" cy="10.6" r="0.56"/><circle cx="-17.0" cy="2.9" r="0.50"/><circle cx="15.5" cy="-7.9" r="0.52"/><circle cx="-1.9" cy="8.4" r="0.61"/><circle cx="-19.8" cy="-2.3" r="0.80"/><circle cx="-14.6" cy="-7.7" r="0.66"/><circle cx="29.2" cy="0.1" r="0.49"/><circle cx="10.6" cy="3.6" r="0.49"/><circle cx="20.5" cy="1.0" r="0.58"/><circle cx="-9.8" cy="3.6" r="0.58"/><circle cx="0.7" cy="6.8" r="0.65"/><circle cx="-1.8" cy="1.6" r="0.92"/><circle cx="-1.6" cy="0.0" r="1.03"/><circle cx="-12.9" cy="1.6" r="1.02"/><circle cx="15.0" cy="5.8" r="0.48"/><circle cx="-9.8" cy="8.5" r="0.84"/></g></g>
<path d="M654.8 334.3 L653.9 335.4 L652.8 336.4 L651.6 337.3 L650.8 338.3 L650.5 339.4 L650.5 340.5 L650.4 341.6 L649.8 342.5 L648.7 343.0 L647.0 343.3 L645.3 343.4 L643.5 343.6 L641.9 343.9 L640.2 344.1 L638.5 344.2 L636.7 344.3 L634.7 344.4 L632.6 344.5 L630.4 344.4 L628.0 344.1 L625.3 343.2 L622.4 342.1 L619.5 340.9 L616.8 339.9 L614.4 339.3 L612.2 338.9 L610.1 338.5 L608.0 338.0 L606.0 337.3 L604.0 336.6 L602.2 335.9 L600.8 335.0 L599.8 334.1 L599.2 333.1 L598.6 332.0 L597.9 330.9 L596.8 329.9 L595.4 328.9 L594.3 327.9 L593.6 326.7 L593.7 325.5 L594.2 324.3 L595.0 323.0 L595.8 321.8 L596.6 320.7 L597.5 319.7 L598.4 318.7 L599.0 317.7 L599.3 316.5 L599.2 315.3 L599.3 314.2 L599.8 313.3 L601.1 312.8 L602.8 312.6 L604.7 312.5 L606.5 312.4 L608.1 312.1 L609.8 311.9 L611.5 311.7 L613.3 311.6 L615.3 311.6 L617.4 311.6 L619.6 311.8 L622.0 312.2 L624.7 313.0 L627.6 314.1 L630.5 315.3 L633.2 316.2 L635.6 316.7 L638.0 317.1 L640.2 317.4 L642.3 317.9 L644.3 318.5 L646.2 319.2 L647.9 320.1 L649.3 320.9 L650.3 321.9 L650.9 322.9 L651.4 324.0 L652.1 325.1 L653.1 326.1 L654.4 327.1 L655.5 328.1 L656.2 329.2 L656.3 330.5 L656.0 331.8 L655.4 333.1Z" fill="#3b3a22" stroke="#33321c" stroke-width="2.6" stroke-linejoin="round"/><g transform="translate(625.0 328.0) rotate(12.0)"><path d="M30.5 0.0 L29.8 1.2 L28.9 2.4 L28.0 3.6 L27.4 4.7 L27.3 5.8 L27.5 7.0 L27.7 8.0 L27.3 9.0 L26.3 9.7 L24.7 10.3 L23.0 10.9 L21.4 11.4 L19.8 12.0 L18.2 12.5 L16.6 13.1 L14.8 13.5 L12.9 14.0 L10.9 14.6 L8.7 14.9 L6.3 15.1 L3.5 14.8 L0.4 14.3 L-2.7 13.7 L-5.6 13.4 L-8.0 13.2 L-10.3 13.3 L-12.4 13.3 L-14.5 13.3 L-16.6 13.1 L-18.7 12.8 L-20.6 12.4 L-22.2 11.9 L-23.4 11.2 L-24.2 10.3 L-25.0 9.4 L-25.9 8.5 L-27.2 7.7 L-28.7 7.0 L-30.1 6.2 L-31.0 5.3 L-31.2 4.1 L-30.9 2.7 L-30.4 1.3 L-29.8 0.0 L-29.3 -1.2 L-28.6 -2.4 L-28.0 -3.6 L-27.6 -4.7 L-27.6 -5.9 L-27.9 -7.1 L-28.1 -8.2 L-27.7 -9.1 L-26.6 -9.8 L-24.9 -10.4 L-23.1 -10.9 L-21.4 -11.5 L-19.8 -12.0 L-18.3 -12.6 L-16.6 -13.1 L-14.8 -13.6 L-12.9 -14.0 L-10.8 -14.4 L-8.6 -14.7 L-6.2 -14.8 L-3.4 -14.6 L-0.4 -14.1 L2.7 -13.6 L5.5 -13.3 L8.1 -13.2 L10.4 -13.4 L12.7 -13.5 L14.8 -13.5 L16.9 -13.3 L18.9 -13.0 L20.8 -12.5 L22.3 -12.0 L23.5 -11.2 L24.3 -10.3 L25.0 -9.4 L25.9 -8.5 L27.1 -7.7 L28.5 -7.0 L29.9 -6.2 L30.7 -5.3 L31.1 -4.1 L31.1 -2.7 L30.8 -1.3Z" fill="url(#myg)"/><ellipse cx="0.0" cy="-4.1" rx="7.9" ry="3.5" fill="#a9aa86" stroke="#44452a" stroke-width="1.8"/><path d="M-4.3 -4.3 q4.3 2.3 8.5 0" fill="none" stroke="#4b4a2c" stroke-width="1.2"/><g fill="#4a4b2c" opacity="0.7"><circle cx="-12.6" cy="4.8" r="0.41"/><circle cx="13.6" cy="-10.1" r="0.45"/><circle cx="1.4" cy="4.7" r="0.54"/><circle cx="16.2" cy="-8.9" r="0.67"/><circle cx="13.2" cy="2.3" r="0.87"/><circle cx="1.8" cy="7.1" r="0.96"/><circle cx="4.2" cy="3.9" r="0.85"/><circle cx="-13.2" cy="-7.0" r="0.93"/><circle cx="5.1" cy="8.1" r="0.57"/><circle cx="4.7" cy="2.5" r="1.02"/><circle cx="-4.6" cy="2.8" r="0.81"/><circle cx="-4.5" cy="0.3" r="0.80"/><circle cx="-6.4" cy="-2.1" r="0.57"/><circle cx="-17.3" cy="4.4" r="1.06"/><circle cx="-14.5" cy="4.6" r="0.99"/><circle cx="24.5" cy="0.8" r="0.90"/><circle cx="-17.8" cy="-9.5" r="0.93"/><circle cx="4.4" cy="8.5" r="0.56"/><circle cx="2.6" cy="-5.9" r="0.74"/><circle cx="-21.1" cy="4.8" r="1.09"/><circle cx="25.1" cy="0.1" r="0.87"/><circle cx="-27.2" cy="0.3" r="0.65"/><circle cx="19.0" cy="1.3" r="0.62"/><circle cx="15.4" cy="4.9" r="0.52"/><circle cx="-15.5" cy="2.3" r="0.77"/><circle cx="-7.8" cy="2.7" r="0.79"/><circle cx="14.6" cy="1.1" r="0.62"/><circle cx="-0.9" cy="-9.0" r="0.40"/><circle cx="8.6" cy="3.9" r="0.68"/><circle cx="-20.7" cy="7.4" r="0.80"/><circle cx="21.9" cy="2.1" r="0.98"/><circle cx="-2.7" cy="2.1" r="0.77"/><circle cx="-6.3" cy="-1.6" r="0.66"/><circle cx="-9.3" cy="-5.3" r="0.66"/><circle cx="-4.2" cy="10.7" r="0.59"/><circle cx="-27.7" cy="0.9" r="0.55"/><circle cx="2.2" cy="3.0" r="0.95"/><circle cx="-5.8" cy="9.9" r="1.02"/><circle cx="-15.8" cy="8.1" r="1.02"/><circle cx="-14.1" cy="0.8" r="0.75"/><circle cx="10.8" cy="1.6" r="0.80"/><circle cx="7.1" cy="3.4" r="0.73"/><circle cx="11.2" cy="4.1" r="0.91"/><circle cx="-21.9" cy="-0.6" r="1.07"/><circle cx="-5.2" cy="-1.6" r="0.52"/><circle cx="0.6" cy="4.2" r="0.81"/><circle cx="-18.6" cy="1.9" r="0.90"/><circle cx="-15.2" cy="-1.7" r="1.06"/><circle cx="24.6" cy="5.3" r="0.67"/><circle cx="-13.5" cy="2.0" r="1.03"/><circle cx="12.9" cy="6.9" r="1.02"/><circle cx="-8.6" cy="1.1" r="0.76"/><circle cx="2.7" cy="4.8" r="1.09"/><circle cx="21.9" cy="0.7" r="0.93"/><circle cx="-23.9" cy="5.1" r="1.01"/><circle cx="0.9" cy="2.5" r="0.45"/><circle cx="-21.2" cy="7.3" r="0.90"/><circle cx="19.7" cy="1.8" r="0.47"/><circle cx="-16.4" cy="3.7" r="0.98"/><circle cx="-3.5" cy="3.7" r="0.44"/><circle cx="-1.9" cy="10.1" r="1.08"/><circle cx="6.5" cy="-3.4" r="0.93"/><circle cx="-27.6" cy="2.0" r="0.48"/><circle cx="2.1" cy="4.0" r="0.84"/><circle cx="1.8" cy="0.9" r="1.08"/><circle cx="-1.1" cy="6.5" r="0.48"/><circle cx="7.1" cy="10.5" r="0.83"/><circle cx="21.8" cy="0.3" r="0.94"/><circle cx="-9.4" cy="0.4" r="0.86"/><circle cx="8.1" cy="1.8" r="0.96"/><circle cx="-16.1" cy="-2.2" r="0.81"/><circle cx="1.5" cy="9.6" r="0.66"/><circle cx="-19.5" cy="3.9" r="0.85"/><circle cx="9.0" cy="8.0" r="0.73"/><circle cx="-0.9" cy="1.6" r="0.62"/><circle cx="-20.7" cy="6.1" r="0.84"/><circle cx="-3.4" cy="5.6" r="0.77"/><circle cx="4.1" cy="9.9" r="0.65"/><circle cx="-0.6" cy="11.7" r="1.06"/><circle cx="0.1" cy="3.1" r="0.42"/><circle cx="14.3" cy="7.4" r="0.71"/><circle cx="-4.6" cy="4.2" r="0.95"/><circle cx="-9.1" cy="8.0" r="0.55"/><circle cx="-0.2" cy="2.0" r="0.80"/><circle cx="18.6" cy="-4.4" r="0.73"/><circle cx="-14.8" cy="0.7" r="1.06"/><circle cx="-1.3" cy="0.0" r="0.54"/><circle cx="-14.3" cy="5.7" r="1.05"/><circle cx="0.6" cy="3.4" r="0.89"/><circle cx="-18.6" cy="5.3" r="0.43"/><circle cx="-24.5" cy="3.1" r="0.43"/><circle cx="18.9" cy="7.7" r="0.52"/><circle cx="-7.3" cy="-11.8" r="0.85"/><circle cx="2.9" cy="3.2" r="0.97"/><circle cx="-5.8" cy="4.1" r="0.89"/><circle cx="7.1" cy="0.1" r="1.07"/><circle cx="-19.4" cy="7.2" r="0.80"/><circle cx="6.7" cy="6.0" r="0.72"/><circle cx="21.8" cy="2.7" r="1.03"/><circle cx="0.9" cy="-3.5" r="0.78"/><circle cx="18.1" cy="3.1" r="0.89"/><circle cx="12.9" cy="10.1" r="1.03"/><circle cx="-16.0" cy="0.3" r="0.90"/><circle cx="-14.3" cy="1.5" r="0.90"/><circle cx="1.5" cy="4.5" r="0.86"/><circle cx="13.4" cy="2.7" r="0.59"/><circle cx="2.1" cy="6.3" r="0.74"/><circle cx="16.9" cy="7.4" r="0.89"/><circle cx="-14.1" cy="5.5" r="0.77"/><circle cx="9.6" cy="8.7" r="0.62"/><circle cx="12.6" cy="7.0" r="0.90"/><circle cx="-17.4" cy="0.3" r="0.42"/><circle cx="-3.3" cy="2.0" r="1.04"/><circle cx="-6.3" cy="-4.2" r="0.60"/><circle cx="7.6" cy="8.7" r="0.92"/><circle cx="-2.8" cy="10.4" r="0.93"/><circle cx="7.6" cy="4.9" r="0.65"/></g></g>
<path d="M723.7 346.6 L723.5 348.0 L723.4 349.4 L723.3 350.8 L723.0 352.0 L722.5 353.1 L721.8 354.2 L720.9 355.0 L719.7 355.8 L718.2 356.2 L716.3 356.5 L714.3 356.7 L712.6 357.1 L711.3 357.8 L710.3 358.7 L709.2 359.6 L707.7 360.2 L705.9 360.6 L703.8 360.8 L701.5 360.9 L699.0 360.8 L696.2 360.5 L693.1 360.1 L690.0 359.5 L687.2 359.1 L684.6 358.9 L682.2 358.8 L679.9 358.7 L678.0 358.3 L676.5 357.6 L675.3 356.7 L674.3 355.7 L673.2 354.7 L672.0 354.0 L670.8 353.2 L669.6 352.5 L668.4 351.7 L666.9 350.9 L665.2 350.0 L663.7 349.1 L662.8 348.1 L662.7 346.8 L663.2 345.4 L664.0 343.9 L664.5 342.4 L664.7 341.0 L664.7 339.6 L664.8 338.2 L665.1 337.0 L665.7 335.9 L666.5 335.0 L667.5 334.1 L668.6 333.4 L670.1 332.9 L671.9 332.6 L673.7 332.3 L675.3 331.8 L676.5 331.0 L677.5 330.1 L678.6 329.2 L680.0 328.5 L681.9 328.2 L684.1 328.1 L686.5 328.1 L689.0 328.3 L691.8 328.6 L694.9 329.0 L698.0 329.5 L700.8 330.0 L703.3 330.2 L705.7 330.3 L707.9 330.4 L709.8 330.8 L711.3 331.5 L712.5 332.5 L713.5 333.4 L714.7 334.3 L716.0 335.1 L717.4 335.7 L718.8 336.4 L720.2 337.2 L721.7 338.0 L723.2 338.9 L724.6 339.8 L725.4 340.9 L725.4 342.2 L724.9 343.6 L724.2 345.1Z" fill="#3b3a22" stroke="#33321c" stroke-width="2.6" stroke-linejoin="round"/><g transform="translate(694.0 344.5) rotate(4.0)"><path d="M29.8 0.0 L29.7 1.4 L29.7 2.9 L29.7 4.2 L29.5 5.5 L29.0 6.6 L28.4 7.7 L27.6 8.6 L26.5 9.5 L24.9 10.0 L23.0 10.4 L21.1 10.8 L19.4 11.3 L18.2 12.1 L17.2 13.0 L16.2 14.0 L14.8 14.7 L13.0 15.2 L10.9 15.6 L8.6 15.8 L6.1 15.9 L3.3 15.8 L0.2 15.6 L-2.9 15.3 L-5.8 15.1 L-8.4 15.0 L-10.8 15.1 L-13.0 15.1 L-15.0 14.9 L-16.5 14.3 L-17.8 13.4 L-18.9 12.5 L-20.0 11.7 L-21.3 11.0 L-22.5 10.3 L-23.7 9.7 L-25.1 9.0 L-26.6 8.3 L-28.4 7.5 L-29.9 6.7 L-30.9 5.8 L-31.1 4.5 L-30.6 3.0 L-30.0 1.5 L-29.6 0.0 L-29.5 -1.4 L-29.6 -2.8 L-29.6 -4.2 L-29.3 -5.5 L-28.8 -6.6 L-28.1 -7.6 L-27.2 -8.5 L-26.1 -9.3 L-24.6 -9.9 L-22.9 -10.4 L-21.1 -10.8 L-19.6 -11.4 L-18.4 -12.2 L-17.5 -13.3 L-16.5 -14.2 L-15.1 -15.0 L-13.2 -15.4 L-11.1 -15.7 L-8.7 -15.8 L-6.1 -15.9 L-3.3 -15.7 L-0.2 -15.5 L2.9 -15.2 L5.8 -15.0 L8.3 -14.9 L10.7 -15.0 L12.9 -15.0 L14.9 -14.7 L16.4 -14.1 L17.6 -13.3 L18.7 -12.4 L19.9 -11.6 L21.3 -11.0 L22.7 -10.4 L24.2 -9.8 L25.6 -9.2 L27.1 -8.4 L28.8 -7.7 L30.2 -6.8 L31.1 -5.8 L31.2 -4.5 L30.8 -3.0 L30.2 -1.5Z" fill="url(#myg)"/><ellipse cx="0.0" cy="-4.3" rx="7.8" ry="3.7" fill="#a9aa86" stroke="#44452a" stroke-width="1.8"/><path d="M-4.2 -4.6 q4.2 2.5 8.4 0" fill="none" stroke="#4b4a2c" stroke-width="1.2"/><g fill="#4a4b2c" opacity="0.7"><circle cx="22.9" cy="5.3" r="0.74"/><circle cx="-24.8" cy="3.2" r="0.65"/><circle cx="-7.9" cy="8.3" r="0.58"/><circle cx="3.8" cy="9.9" r="1.06"/><circle cx="22.2" cy="7.0" r="0.76"/><circle cx="13.1" cy="4.5" r="0.75"/><circle cx="23.2" cy="2.9" r="0.59"/><circle cx="5.8" cy="-1.3" r="1.00"/><circle cx="24.4" cy="5.0" r="0.67"/><circle cx="-19.2" cy="4.3" r="1.01"/><circle cx="12.5" cy="4.3" r="0.95"/><circle cx="-13.4" cy="8.0" r="0.45"/><circle cx="13.4" cy="4.4" r="1.08"/><circle cx="7.4" cy="9.2" r="0.79"/><circle cx="-0.8" cy="-5.4" r="1.08"/><circle cx="11.3" cy="-10.8" r="0.90"/><circle cx="-24.0" cy="-3.6" r="0.84"/><circle cx="-5.7" cy="4.5" r="0.63"/><circle cx="15.4" cy="8.4" r="1.10"/><circle cx="6.4" cy="1.1" r="0.45"/><circle cx="15.7" cy="2.3" r="1.00"/><circle cx="-21.4" cy="2.0" r="0.72"/><circle cx="14.0" cy="1.7" r="0.73"/><circle cx="6.7" cy="3.6" r="0.96"/><circle cx="-6.1" cy="1.4" r="0.50"/><circle cx="4.4" cy="1.7" r="0.50"/><circle cx="-1.2" cy="8.8" r="0.70"/><circle cx="-15.3" cy="3.8" r="0.60"/><circle cx="11.5" cy="1.6" r="0.78"/><circle cx="-13.9" cy="8.4" r="0.87"/><circle cx="-17.5" cy="8.9" r="0.70"/><circle cx="-8.3" cy="8.2" r="0.87"/><circle cx="-19.7" cy="5.4" r="0.72"/><circle cx="-21.9" cy="3.7" r="0.70"/><circle cx="7.9" cy="2.1" r="0.53"/><circle cx="9.1" cy="9.1" r="1.04"/><circle cx="1.4" cy="6.1" r="0.50"/><circle cx="-8.7" cy="8.5" r="0.97"/><circle cx="-8.1" cy="7.2" r="0.86"/><circle cx="-7.8" cy="1.3" r="1.06"/><circle cx="-15.4" cy="7.0" r="0.94"/><circle cx="11.1" cy="5.6" r="0.76"/><circle cx="-0.2" cy="5.6" r="0.88"/><circle cx="-26.9" cy="-0.8" r="1.01"/><circle cx="23.7" cy="3.8" r="0.49"/><circle cx="25.5" cy="1.7" r="0.83"/><circle cx="-16.6" cy="3.1" r="0.78"/><circle cx="-1.5" cy="4.7" r="0.80"/><circle cx="10.7" cy="4.7" r="0.59"/><circle cx="6.1" cy="4.9" r="0.79"/><circle cx="-3.6" cy="3.1" r="0.77"/><circle cx="5.2" cy="5.0" r="0.61"/><circle cx="4.3" cy="5.6" r="0.42"/><circle cx="20.2" cy="5.1" r="0.48"/><circle cx="-26.4" cy="2.0" r="0.79"/><circle cx="-17.2" cy="4.2" r="1.02"/><circle cx="-14.3" cy="3.5" r="0.53"/><circle cx="23.1" cy="4.6" r="0.82"/><circle cx="-11.7" cy="1.8" r="0.91"/><circle cx="10.8" cy="7.9" r="0.42"/><circle cx="11.5" cy="8.5" r="1.09"/><circle cx="-10.7" cy="7.5" r="1.07"/><circle cx="-25.5" cy="0.8" r="0.98"/><circle cx="-12.7" cy="0.9" r="0.45"/><circle cx="-11.3" cy="-3.1" r="0.52"/><circle cx="-8.0" cy="-10.0" r="1.07"/><circle cx="-6.4" cy="9.7" r="1.03"/><circle cx="11.0" cy="9.6" r="0.58"/><circle cx="22.7" cy="-7.3" r="0.64"/><circle cx="9.9" cy="-10.1" r="0.96"/><circle cx="-16.6" cy="2.4" r="0.86"/><circle cx="-25.0" cy="2.8" r="0.41"/><circle cx="-8.4" cy="0.9" r="0.46"/><circle cx="9.7" cy="3.9" r="0.93"/><circle cx="-7.8" cy="7.1" r="0.79"/><circle cx="18.6" cy="2.8" r="0.72"/><circle cx="-19.5" cy="5.4" r="0.88"/><circle cx="21.7" cy="4.6" r="0.65"/><circle cx="6.9" cy="2.1" r="1.02"/><circle cx="7.9" cy="-4.4" r="0.97"/><circle cx="-25.4" cy="1.4" r="0.63"/><circle cx="-23.4" cy="0.9" r="0.61"/><circle cx="11.6" cy="5.7" r="0.56"/><circle cx="-23.1" cy="1.1" r="0.86"/><circle cx="-3.0" cy="0.1" r="0.60"/><circle cx="-25.9" cy="3.4" r="0.44"/><circle cx="3.0" cy="5.1" r="0.76"/><circle cx="13.9" cy="1.7" r="0.52"/><circle cx="-9.1" cy="11.0" r="0.56"/><circle cx="-7.6" cy="2.4" r="0.85"/><circle cx="17.3" cy="4.8" r="0.92"/><circle cx="-19.7" cy="7.8" r="0.53"/><circle cx="9.1" cy="10.5" r="0.44"/><circle cx="-12.7" cy="3.3" r="1.01"/><circle cx="-22.2" cy="-4.3" r="0.59"/><circle cx="-12.4" cy="5.1" r="0.77"/><circle cx="-5.6" cy="-4.9" r="0.51"/><circle cx="-9.8" cy="11.6" r="0.66"/><circle cx="5.1" cy="-0.8" r="0.54"/><circle cx="23.5" cy="2.3" r="0.93"/><circle cx="9.7" cy="0.2" r="0.46"/><circle cx="-16.0" cy="1.4" r="0.75"/><circle cx="24.7" cy="2.4" r="1.04"/><circle cx="16.4" cy="5.7" r="0.52"/><circle cx="-5.6" cy="5.2" r="0.83"/><circle cx="-10.9" cy="9.6" r="0.98"/><circle cx="21.7" cy="5.9" r="0.84"/><circle cx="1.7" cy="10.2" r="0.91"/><circle cx="-8.9" cy="2.3" r="0.93"/><circle cx="21.8" cy="1.0" r="0.90"/><circle cx="-9.1" cy="7.5" r="0.92"/><circle cx="17.7" cy="3.9" r="0.81"/><circle cx="-0.7" cy="5.6" r="1.03"/><circle cx="-16.9" cy="9.7" r="0.59"/><circle cx="-2.4" cy="-0.4" r="0.84"/><circle cx="15.1" cy="5.7" r="0.87"/><circle cx="-6.4" cy="11.4" r="0.45"/><circle cx="10.9" cy="10.5" r="0.90"/><circle cx="16.5" cy="8.9" r="0.99"/><circle cx="0.3" cy="11.0" r="0.73"/><circle cx="20.2" cy="-7.1" r="1.07"/><circle cx="-21.2" cy="4.7" r="0.68"/><circle cx="-19.7" cy="0.1" r="0.58"/><circle cx="14.2" cy="9.4" r="0.88"/></g></g>
<path d="M787.3 340.0 L788.1 341.4 L789.3 342.8 L790.3 344.2 L790.8 345.5 L790.5 346.8 L789.7 348.0 L788.7 349.1 L787.6 350.1 L786.5 351.1 L785.2 352.0 L783.9 352.8 L782.6 353.7 L781.5 354.7 L780.4 355.7 L779.3 356.7 L777.8 357.5 L776.0 357.9 L773.9 358.2 L771.6 358.4 L769.3 358.7 L766.8 359.4 L764.1 360.2 L761.4 361.0 L758.9 361.6 L756.5 362.2 L754.2 362.7 L752.1 363.0 L750.2 363.0 L748.6 362.6 L747.4 361.8 L746.2 361.0 L745.0 360.2 L743.5 359.8 L741.9 359.5 L740.4 359.1 L739.1 358.6 L738.2 357.8 L737.4 356.9 L736.8 355.8 L736.3 354.7 L735.9 353.4 L735.8 352.0 L735.6 350.6 L735.3 349.1 L734.4 347.7 L733.3 346.2 L732.3 344.8 L731.9 343.5 L732.3 342.2 L733.3 341.1 L734.5 340.0 L735.7 338.9 L736.9 338.0 L738.1 337.1 L739.3 336.2 L740.6 335.4 L741.7 334.4 L742.7 333.3 L743.9 332.4 L745.3 331.6 L747.1 331.1 L749.1 330.8 L751.4 330.6 L753.7 330.2 L756.2 329.5 L758.9 328.6 L761.6 327.7 L764.2 327.0 L766.5 326.5 L768.8 326.2 L770.9 326.0 L772.8 326.1 L774.3 326.6 L775.4 327.4 L776.6 328.3 L777.8 329.0 L779.3 329.4 L780.9 329.7 L782.5 330.0 L783.8 330.5 L784.8 331.2 L785.6 332.1 L786.2 333.2 L786.7 334.3 L786.9 335.6 L787.0 337.0 L787.0 338.5Z" fill="#3b3a22" stroke="#33321c" stroke-width="2.6" stroke-linejoin="round"/><g transform="translate(761.5 344.5) rotate(-10.0)"><path d="M26.2 0.0 L26.8 1.5 L27.7 3.1 L28.4 4.7 L28.7 6.1 L28.2 7.3 L27.2 8.3 L26.0 9.2 L24.7 10.1 L23.5 10.8 L22.0 11.5 L20.6 12.1 L19.2 12.7 L17.9 13.5 L16.7 14.4 L15.4 15.1 L13.8 15.6 L11.9 15.7 L9.8 15.6 L7.6 15.4 L5.2 15.4 L2.6 15.6 L-0.2 15.9 L-2.9 16.2 L-5.5 16.4 L-8.0 16.6 L-10.3 16.7 L-12.5 16.6 L-14.4 16.3 L-15.8 15.6 L-16.9 14.6 L-17.9 13.5 L-19.0 12.6 L-20.4 11.9 L-21.9 11.3 L-23.3 10.7 L-24.5 10.0 L-25.3 9.0 L-25.9 8.0 L-26.3 6.9 L-26.6 5.7 L-26.7 4.3 L-26.6 2.9 L-26.5 1.5 L-26.6 0.0 L-27.2 -1.6 L-28.1 -3.2 L-28.9 -4.8 L-29.0 -6.2 L-28.4 -7.3 L-27.2 -8.3 L-25.8 -9.1 L-24.4 -10.0 L-23.1 -10.7 L-21.8 -11.4 L-20.4 -12.0 L-19.0 -12.6 L-17.8 -13.4 L-16.6 -14.3 L-15.3 -15.0 L-13.7 -15.5 L-11.9 -15.7 L-9.8 -15.6 L-7.6 -15.4 L-5.2 -15.5 L-2.6 -15.7 L0.2 -16.1 L3.0 -16.5 L5.7 -16.8 L8.1 -16.8 L10.4 -16.8 L12.5 -16.6 L14.3 -16.2 L15.7 -15.4 L16.7 -14.4 L17.6 -13.4 L18.7 -12.4 L20.2 -11.8 L21.7 -11.2 L23.2 -10.7 L24.4 -10.0 L25.3 -9.0 L25.9 -8.0 L26.3 -6.9 L26.6 -5.6 L26.6 -4.3 L26.4 -2.9 L26.2 -1.5Z" fill="url(#myg)"/><ellipse cx="0.0" cy="-4.6" rx="7.3" ry="4.0" fill="#a9aa86" stroke="#44452a" stroke-width="1.8"/><path d="M-3.9 -5.0 q3.9 2.6 7.8 0" fill="none" stroke="#4b4a2c" stroke-width="1.2"/><g fill="#4a4b2c" opacity="0.7"><circle cx="-19.5" cy="0.6" r="0.41"/><circle cx="-23.8" cy="4.5" r="0.73"/><circle cx="11.5" cy="3.4" r="0.42"/><circle cx="6.9" cy="-12.4" r="0.58"/><circle cx="14.3" cy="3.3" r="1.07"/><circle cx="-20.4" cy="3.0" r="0.40"/><circle cx="-0.8" cy="4.7" r="0.57"/><circle cx="20.5" cy="2.8" r="0.90"/><circle cx="-7.7" cy="8.6" r="0.98"/><circle cx="4.6" cy="9.7" r="0.64"/><circle cx="10.2" cy="6.0" r="0.79"/><circle cx="8.4" cy="4.8" r="0.41"/><circle cx="16.6" cy="2.4" r="1.02"/><circle cx="15.4" cy="9.1" r="0.62"/><circle cx="-24.8" cy="3.4" r="0.67"/><circle cx="13.0" cy="-1.1" r="0.62"/><circle cx="-12.7" cy="3.5" r="1.02"/><circle cx="-4.1" cy="-5.7" r="0.91"/><circle cx="-23.7" cy="0.5" r="0.82"/><circle cx="5.1" cy="11.2" r="0.44"/><circle cx="-13.2" cy="0.9" r="0.68"/><circle cx="-18.2" cy="2.6" r="1.02"/><circle cx="-2.7" cy="6.7" r="0.48"/><circle cx="14.4" cy="10.2" r="0.65"/><circle cx="19.7" cy="-7.6" r="1.09"/><circle cx="-2.2" cy="3.2" r="0.75"/><circle cx="12.9" cy="0.6" r="0.88"/><circle cx="5.1" cy="3.8" r="0.46"/><circle cx="6.0" cy="3.2" r="1.02"/><circle cx="22.3" cy="3.5" r="0.86"/><circle cx="-7.2" cy="11.3" r="0.43"/><circle cx="11.6" cy="-1.9" r="0.93"/><circle cx="7.6" cy="1.2" r="0.50"/><circle cx="-10.6" cy="9.3" r="0.73"/><circle cx="5.7" cy="11.9" r="0.88"/><circle cx="-4.6" cy="-2.5" r="0.95"/><circle cx="-19.7" cy="0.9" r="0.93"/><circle cx="-13.3" cy="1.4" r="0.55"/><circle cx="18.6" cy="0.3" r="0.90"/><circle cx="4.7" cy="9.0" r="0.81"/><circle cx="-17.8" cy="2.3" r="1.02"/><circle cx="-22.7" cy="1.1" r="0.48"/><circle cx="-0.8" cy="7.3" r="0.74"/><circle cx="-7.1" cy="13.9" r="0.66"/><circle cx="-7.7" cy="12.0" r="0.84"/><circle cx="15.3" cy="-2.3" r="0.96"/><circle cx="-4.2" cy="5.0" r="0.69"/><circle cx="-10.3" cy="8.0" r="1.03"/><circle cx="19.5" cy="5.7" r="0.66"/><circle cx="11.5" cy="0.3" r="0.52"/><circle cx="-9.2" cy="0.7" r="0.69"/><circle cx="0.4" cy="10.8" r="0.42"/><circle cx="11.8" cy="-10.7" r="0.61"/><circle cx="-1.9" cy="10.9" r="1.08"/><circle cx="-10.9" cy="7.9" r="0.60"/><circle cx="-22.6" cy="6.0" r="0.81"/><circle cx="22.4" cy="6.7" r="0.97"/><circle cx="-0.1" cy="5.5" r="0.43"/><circle cx="-7.0" cy="1.2" r="0.52"/><circle cx="20.1" cy="5.6" r="1.08"/><circle cx="5.2" cy="4.1" r="0.96"/><circle cx="18.6" cy="6.7" r="0.96"/><circle cx="-2.7" cy="2.3" r="0.91"/><circle cx="-22.5" cy="0.5" r="0.60"/><circle cx="5.7" cy="13.0" r="0.51"/><circle cx="-0.8" cy="2.5" r="0.58"/><circle cx="2.0" cy="11.0" r="0.54"/><circle cx="19.9" cy="2.8" r="0.41"/><circle cx="12.9" cy="10.5" r="0.76"/><circle cx="-14.4" cy="10.2" r="0.76"/><circle cx="2.1" cy="9.1" r="0.78"/><circle cx="-12.8" cy="3.9" r="0.55"/><circle cx="-8.4" cy="11.6" r="0.72"/><circle cx="5.2" cy="3.8" r="0.92"/><circle cx="3.1" cy="8.0" r="1.07"/><circle cx="-16.1" cy="6.7" r="0.48"/><circle cx="-14.8" cy="-4.0" r="0.86"/><circle cx="0.7" cy="-11.0" r="0.49"/><circle cx="19.6" cy="0.2" r="0.53"/><circle cx="18.2" cy="6.6" r="0.87"/><circle cx="-0.5" cy="10.1" r="0.85"/><circle cx="6.5" cy="-2.3" r="0.41"/><circle cx="-13.3" cy="6.8" r="0.69"/><circle cx="-11.8" cy="10.6" r="0.76"/><circle cx="2.5" cy="-4.8" r="1.06"/><circle cx="-6.5" cy="5.0" r="0.55"/><circle cx="-18.9" cy="6.0" r="0.79"/><circle cx="16.1" cy="2.5" r="0.40"/><circle cx="-3.4" cy="1.0" r="0.97"/><circle cx="10.6" cy="4.7" r="0.77"/><circle cx="8.4" cy="0.8" r="0.68"/><circle cx="14.9" cy="5.0" r="1.10"/><circle cx="10.4" cy="1.6" r="0.79"/><circle cx="22.0" cy="2.8" r="0.78"/><circle cx="-16.0" cy="11.2" r="0.82"/><circle cx="-0.7" cy="8.6" r="0.67"/><circle cx="-7.1" cy="1.5" r="1.09"/><circle cx="-14.8" cy="6.1" r="0.97"/><circle cx="-1.4" cy="-8.9" r="0.54"/><circle cx="-2.4" cy="1.1" r="0.52"/><circle cx="-13.2" cy="9.0" r="1.01"/><circle cx="21.1" cy="7.7" r="0.83"/><circle cx="13.5" cy="10.7" r="1.00"/><circle cx="22.2" cy="2.5" r="0.94"/><circle cx="4.4" cy="3.0" r="0.82"/><circle cx="-4.2" cy="5.1" r="1.08"/><circle cx="-0.4" cy="13.1" r="0.87"/><circle cx="-15.5" cy="3.1" r="0.49"/><circle cx="12.2" cy="3.1" r="1.03"/><circle cx="-15.6" cy="9.3" r="1.03"/><circle cx="17.3" cy="6.7" r="0.57"/><circle cx="-13.2" cy="-3.2" r="0.43"/><circle cx="-9.8" cy="5.8" r="0.78"/><circle cx="25.5" cy="1.4" r="1.07"/><circle cx="18.0" cy="2.6" r="0.54"/><circle cx="4.4" cy="-9.8" r="1.05"/><circle cx="-15.3" cy="7.6" r="0.49"/><circle cx="-6.2" cy="0.8" r="1.09"/><circle cx="-6.9" cy="3.3" r="0.44"/><circle cx="-9.6" cy="3.9" r="0.85"/><circle cx="2.7" cy="-0.8" r="0.81"/><circle cx="-16.7" cy="0.7" r="0.65"/><circle cx="-14.8" cy="-1.2" r="0.64"/></g></g>
<path d="M862.7 300.8 L863.8 302.0 L864.9 303.3 L865.9 304.6 L866.3 306.0 L866.0 307.5 L865.2 309.1 L864.2 310.7 L863.5 312.2 L863.4 313.6 L863.6 314.9 L863.6 316.3 L863.3 317.7 L862.4 319.3 L861.2 320.9 L859.7 322.5 L857.9 324.0 L855.8 325.3 L853.4 326.5 L850.8 327.7 L848.2 329.2 L845.5 331.0 L842.8 333.2 L840.0 335.3 L837.4 337.0 L835.0 338.2 L832.7 339.0 L830.6 339.7 L828.5 340.3 L826.5 340.9 L824.6 341.4 L822.7 341.8 L820.8 342.3 L818.6 343.0 L816.3 343.9 L814.1 344.5 L812.4 344.6 L811.3 343.9 L810.6 342.7 L810.1 341.2 L809.4 339.9 L808.4 338.7 L807.4 337.6 L806.4 336.4 L805.4 335.2 L804.3 334.0 L803.1 332.7 L802.2 331.4 L801.7 330.0 L801.9 328.5 L802.7 327.0 L803.5 325.4 L804.1 323.9 L804.2 322.5 L804.0 321.1 L803.9 319.7 L804.4 318.3 L805.4 316.8 L806.8 315.2 L808.6 313.6 L810.5 312.1 L812.6 310.8 L814.9 309.7 L817.4 308.4 L820.0 307.0 L822.6 305.0 L825.3 302.8 L828.0 300.7 L830.6 298.9 L833.0 297.7 L835.2 296.9 L837.4 296.2 L839.6 295.6 L841.6 294.9 L843.5 294.4 L845.5 293.8 L847.4 293.3 L849.6 292.7 L851.8 292.0 L853.9 291.5 L855.5 291.6 L856.5 292.4 L857.1 293.7 L857.5 295.2 L858.1 296.5 L859.2 297.6 L860.4 298.6 L861.6 299.7Z" fill="#3b3a22" stroke="#33321c" stroke-width="2.6" stroke-linejoin="round"/><g transform="translate(834.0 318.0) rotate(-31.0)"><path d="M33.5 0.0 L33.8 1.6 L34.1 3.3 L34.2 4.9 L33.9 6.4 L32.8 7.5 L31.3 8.4 L29.7 9.3 L28.3 10.2 L27.5 11.4 L26.9 12.6 L26.3 13.8 L25.2 14.8 L23.7 15.7 L21.8 16.5 L19.7 17.1 L17.4 17.5 L14.9 17.5 L12.3 17.3 L9.4 17.0 L6.4 16.9 L3.2 17.1 L-0.3 17.5 L-3.8 17.9 L-6.9 18.0 L-9.5 17.8 L-11.9 17.4 L-14.1 16.8 L-16.2 16.3 L-18.2 15.7 L-20.1 15.2 L-21.9 14.6 L-23.8 14.0 L-26.1 13.5 L-28.5 13.0 L-30.7 12.5 L-32.2 11.6 L-32.8 10.5 L-32.8 9.1 L-32.5 7.6 L-32.4 6.1 L-32.6 4.6 L-32.9 3.1 L-33.2 1.6 L-33.4 0.0 L-33.7 -1.6 L-34.0 -3.3 L-34.2 -4.9 L-33.9 -6.4 L-32.9 -7.5 L-31.5 -8.5 L-29.9 -9.3 L-28.6 -10.3 L-27.8 -11.5 L-27.3 -12.8 L-26.6 -14.0 L-25.5 -15.0 L-23.9 -15.8 L-21.8 -16.4 L-19.5 -16.9 L-17.1 -17.2 L-14.7 -17.2 L-12.0 -17.0 L-9.3 -16.7 L-6.4 -16.7 L-3.1 -17.0 L0.4 -17.5 L3.8 -18.0 L6.9 -18.1 L9.6 -17.9 L11.9 -17.5 L14.1 -16.9 L16.3 -16.3 L18.4 -15.9 L20.4 -15.3 L22.3 -14.8 L24.2 -14.2 L26.4 -13.7 L28.7 -13.1 L30.7 -12.5 L32.0 -11.6 L32.5 -10.4 L32.3 -9.0 L31.9 -7.5 L31.8 -6.0 L32.1 -4.5 L32.6 -3.0 L33.1 -1.5Z" fill="url(#myg)"/><ellipse cx="0.0" cy="-5.0" rx="9.0" ry="4.3" fill="#a9aa86" stroke="#44452a" stroke-width="1.8"/><path d="M-4.8 -5.4 q4.8 2.9 9.7 0" fill="none" stroke="#4b4a2c" stroke-width="1.2"/><g fill="#4a4b2c" opacity="0.7"><circle cx="16.2" cy="-11.8" r="0.74"/><circle cx="-29.2" cy="0.0" r="0.56"/><circle cx="22.2" cy="0.8" r="1.07"/><circle cx="18.3" cy="3.8" r="0.47"/><circle cx="0.4" cy="10.3" r="1.01"/><circle cx="13.4" cy="1.7" r="1.10"/><circle cx="10.6" cy="6.3" r="0.64"/><circle cx="3.9" cy="0.8" r="0.62"/><circle cx="5.9" cy="3.7" r="1.02"/><circle cx="28.1" cy="2.1" r="0.74"/><circle cx="2.2" cy="4.9" r="0.91"/><circle cx="-10.2" cy="2.3" r="0.45"/><circle cx="24.6" cy="5.5" r="1.07"/><circle cx="14.3" cy="0.9" r="0.53"/><circle cx="-17.0" cy="7.9" r="0.94"/><circle cx="-17.5" cy="1.5" r="1.06"/><circle cx="21.1" cy="3.1" r="0.92"/><circle cx="-26.4" cy="5.4" r="1.07"/><circle cx="-21.5" cy="-5.9" r="0.96"/><circle cx="-5.4" cy="4.3" r="0.44"/><circle cx="27.2" cy="6.4" r="1.06"/><circle cx="-21.4" cy="7.7" r="0.56"/><circle cx="24.1" cy="5.8" r="0.49"/><circle cx="-15.2" cy="2.7" r="1.01"/><circle cx="-20.2" cy="-9.3" r="0.71"/><circle cx="-19.9" cy="2.8" r="0.95"/><circle cx="13.0" cy="-5.7" r="0.55"/><circle cx="26.2" cy="0.6" r="0.63"/><circle cx="26.9" cy="0.4" r="0.93"/><circle cx="6.6" cy="-4.9" r="0.70"/><circle cx="-3.0" cy="8.7" r="0.77"/><circle cx="-2.1" cy="3.4" r="0.90"/><circle cx="-6.7" cy="-9.4" r="0.41"/><circle cx="3.0" cy="1.4" r="0.77"/><circle cx="3.2" cy="10.2" r="0.43"/><circle cx="29.0" cy="3.1" r="0.86"/><circle cx="-23.3" cy="-0.6" r="0.85"/><circle cx="24.4" cy="-4.7" r="0.48"/><circle cx="7.9" cy="-8.0" r="0.95"/><circle cx="27.0" cy="2.6" r="0.77"/><circle cx="1.6" cy="3.4" r="0.80"/><circle cx="-3.7" cy="8.2" r="0.92"/><circle cx="-19.3" cy="8.9" r="0.66"/><circle cx="-21.8" cy="-1.8" r="0.59"/><circle cx="-4.5" cy="8.7" r="0.51"/><circle cx="22.3" cy="-1.5" r="0.69"/><circle cx="19.4" cy="1.5" r="0.46"/><circle cx="24.1" cy="1.4" r="0.42"/><circle cx="0.4" cy="8.3" r="0.52"/><circle cx="-16.4" cy="0.7" r="0.88"/><circle cx="-27.3" cy="1.4" r="0.46"/><circle cx="-12.2" cy="-9.2" r="1.06"/><circle cx="-17.4" cy="10.6" r="0.86"/><circle cx="28.8" cy="0.4" r="0.72"/><circle cx="-19.4" cy="0.1" r="0.88"/><circle cx="-5.2" cy="2.4" r="1.05"/><circle cx="-3.5" cy="7.6" r="0.66"/><circle cx="29.8" cy="4.6" r="0.56"/><circle cx="10.1" cy="8.4" r="0.87"/><circle cx="6.4" cy="2.5" r="0.48"/><circle cx="-4.3" cy="4.8" r="0.65"/><circle cx="-4.4" cy="-15.4" r="0.69"/><circle cx="-7.2" cy="4.1" r="1.02"/><circle cx="8.9" cy="3.5" r="1.03"/><circle cx="-9.0" cy="11.8" r="0.83"/><circle cx="27.0" cy="1.9" r="0.63"/><circle cx="27.2" cy="0.2" r="0.83"/><circle cx="-12.1" cy="6.8" r="1.08"/><circle cx="-9.9" cy="5.6" r="0.70"/><circle cx="-16.5" cy="3.1" r="1.09"/><circle cx="-28.8" cy="2.5" r="0.70"/><circle cx="10.1" cy="-14.8" r="0.89"/><circle cx="14.2" cy="-13.4" r="0.77"/><circle cx="-2.0" cy="0.8" r="0.65"/><circle cx="31.6" cy="0.0" r="1.05"/><circle cx="18.9" cy="0.9" r="0.87"/><circle cx="-10.3" cy="8.8" r="0.98"/><circle cx="1.5" cy="9.8" r="0.96"/><circle cx="-21.9" cy="0.3" r="0.92"/><circle cx="-1.7" cy="-9.1" r="0.66"/><circle cx="-9.0" cy="-8.6" r="1.06"/><circle cx="3.4" cy="8.7" r="0.70"/><circle cx="-4.6" cy="1.6" r="1.05"/><circle cx="27.6" cy="5.3" r="1.10"/><circle cx="-4.6" cy="-13.2" r="0.69"/><circle cx="21.7" cy="9.9" r="0.90"/><circle cx="4.5" cy="9.9" r="0.65"/><circle cx="-21.4" cy="0.7" r="0.84"/><circle cx="29.9" cy="2.0" r="0.94"/><circle cx="-18.0" cy="7.5" r="0.92"/><circle cx="-8.2" cy="11.1" r="0.95"/><circle cx="-25.4" cy="0.5" r="0.60"/><circle cx="30.0" cy="0.4" r="0.85"/><circle cx="14.5" cy="11.8" r="1.09"/><circle cx="-20.9" cy="8.6" r="0.65"/><circle cx="-16.8" cy="4.2" r="0.69"/><circle cx="4.5" cy="-3.2" r="0.95"/><circle cx="-23.7" cy="4.2" r="0.94"/><circle cx="13.8" cy="6.3" r="0.55"/><circle cx="-0.1" cy="13.2" r="0.71"/><circle cx="-8.7" cy="4.7" r="0.65"/><circle cx="-12.1" cy="2.8" r="0.63"/><circle cx="-2.1" cy="12.2" r="0.92"/><circle cx="-0.1" cy="8.7" r="0.99"/><circle cx="-22.9" cy="3.5" r="0.78"/><circle cx="2.5" cy="-0.8" r="0.83"/><circle cx="-25.3" cy="8.3" r="0.82"/><circle cx="25.0" cy="0.7" r="0.80"/><circle cx="5.6" cy="-5.0" r="0.62"/><circle cx="-0.1" cy="2.8" r="0.59"/><circle cx="-30.3" cy="2.5" r="0.60"/><circle cx="-17.7" cy="8.2" r="0.87"/><circle cx="3.9" cy="2.4" r="0.91"/><circle cx="4.6" cy="2.3" r="0.45"/><circle cx="23.6" cy="5.3" r="0.69"/><circle cx="8.8" cy="1.4" r="1.01"/><circle cx="23.2" cy="6.7" r="0.81"/><circle cx="-25.6" cy="0.8" r="0.68"/><circle cx="9.0" cy="6.7" r="0.88"/><circle cx="18.2" cy="1.9" r="0.68"/><circle cx="4.7" cy="9.1" r="0.53"/><circle cx="-16.7" cy="1.1" r="0.94"/><circle cx="16.6" cy="6.6" r="0.85"/><circle cx="-6.5" cy="6.0" r="0.61"/><circle cx="-14.2" cy="13.2" r="0.95"/><circle cx="-16.9" cy="6.0" r="0.72"/><circle cx="9.1" cy="1.3" r="0.54"/><circle cx="9.8" cy="6.5" r="0.44"/><circle cx="-8.3" cy="-10.6" r="0.91"/><circle cx="-0.6" cy="7.3" r="0.82"/><circle cx="29.3" cy="4.7" r="0.75"/><circle cx="-5.7" cy="3.0" r="0.94"/><circle cx="7.4" cy="3.0" r="0.73"/><circle cx="5.3" cy="-9.8" r="1.01"/><circle cx="-10.1" cy="9.4" r="0.72"/><circle cx="11.0" cy="-12.1" r="0.58"/><circle cx="-23.4" cy="0.3" r="0.41"/><circle cx="8.1" cy="8.8" r="1.00"/><circle cx="-25.6" cy="-4.7" r="0.84"/><circle cx="6.4" cy="1.7" r="0.51"/><circle cx="-9.8" cy="5.0" r="0.50"/><circle cx="10.7" cy="9.3" r="0.73"/><circle cx="23.0" cy="0.8" r="0.46"/><circle cx="11.6" cy="1.9" r="0.52"/><circle cx="-12.5" cy="1.5" r="1.01"/><circle cx="-3.8" cy="3.8" r="0.46"/><circle cx="-16.2" cy="10.0" r="1.02"/><circle cx="16.2" cy="10.7" r="1.03"/><circle cx="12.2" cy="7.7" r="0.99"/><circle cx="-11.7" cy="4.9" r="0.54"/><circle cx="19.4" cy="10.6" r="0.65"/><circle cx="26.0" cy="1.9" r="0.47"/><circle cx="-11.3" cy="6.4" r="0.69"/><circle cx="16.3" cy="1.3" r="1.03"/><circle cx="25.1" cy="5.8" r="0.60"/><circle cx="10.5" cy="-9.0" r="0.79"/><circle cx="28.7" cy="4.8" r="0.88"/><circle cx="-3.5" cy="11.4" r="0.88"/><circle cx="1.0" cy="6.3" r="0.45"/><circle cx="-9.9" cy="-1.4" r="0.69"/><circle cx="27.2" cy="0.3" r="0.53"/><circle cx="-22.1" cy="5.5" r="1.02"/><circle cx="-2.2" cy="1.9" r="0.88"/><circle cx="-17.1" cy="-11.3" r="0.84"/><circle cx="4.9" cy="-5.0" r="0.87"/></g></g>
</g>
<g fill="#2e2e2e" filter="url(#soft)">
<circle cx="217.8" cy="157.7" r="1.30"/><circle cx="219.1" cy="162.3" r="1.30"/><circle cx="220.5" cy="166.9" r="1.30"/><circle cx="221.8" cy="171.5" r="1.30"/><circle cx="223.2" cy="176.1" r="1.30"/><circle cx="224.5" cy="180.8" r="1.30"/><circle cx="225.8" cy="185.4" r="1.30"/><circle cx="227.2" cy="190.0" r="1.30"/><circle cx="228.5" cy="194.6" r="1.30"/><circle cx="229.9" cy="199.2" r="1.30"/><circle cx="231.2" cy="203.8" r="1.30"/>
<circle cx="218.7" cy="211.3" r="1.30"/><circle cx="223.0" cy="210.2" r="1.30"/><circle cx="227.3" cy="209.1" r="1.30"/><circle cx="231.6" cy="207.9" r="1.30"/><circle cx="236.0" cy="206.8" r="1.30"/><circle cx="240.3" cy="205.7" r="1.30"/><circle cx="244.6" cy="204.6" r="1.30"/>
<circle cx="218.7" cy="211.3" r="1.30"/><circle cx="219.8" cy="215.7" r="1.30"/><circle cx="221.0" cy="220.0" r="1.30"/>
<circle cx="244.6" cy="204.6" r="1.30"/><circle cx="245.8" cy="208.8" r="1.30"/><circle cx="247.0" cy="213.0" r="1.30"/>
<circle cx="531.3" cy="118.0" r="1.30"/><circle cx="535.1" cy="116.7" r="1.30"/><circle cx="538.9" cy="115.5" r="1.30"/><circle cx="542.7" cy="114.2" r="1.30"/><circle cx="546.5" cy="113.0" r="1.30"/><circle cx="550.4" cy="111.7" r="1.30"/><circle cx="554.2" cy="110.4" r="1.30"/><circle cx="558.0" cy="109.2" r="1.30"/><circle cx="561.8" cy="107.9" r="1.30"/><circle cx="565.6" cy="106.7" r="1.30"/><circle cx="569.4" cy="105.4" r="1.30"/><circle cx="573.2" cy="104.1" r="1.30"/><circle cx="577.0" cy="102.9" r="1.30"/><circle cx="580.8" cy="101.6" r="1.30"/><circle cx="584.6" cy="100.3" r="1.30"/><circle cx="588.5" cy="99.1" r="1.30"/><circle cx="592.3" cy="97.8" r="1.30"/><circle cx="596.1" cy="96.6" r="1.30"/><circle cx="599.9" cy="95.3" r="1.30"/><circle cx="603.7" cy="94.0" r="1.30"/><circle cx="607.5" cy="92.8" r="1.30"/><circle cx="611.3" cy="91.5" r="1.30"/><circle cx="615.1" cy="90.3" r="1.30"/><circle cx="618.9" cy="89.0" r="1.30"/><circle cx="622.8" cy="87.7" r="1.30"/><circle cx="626.6" cy="86.5" r="1.30"/><circle cx="630.4" cy="85.2" r="1.30"/><circle cx="634.2" cy="84.0" r="1.30"/><circle cx="638.0" cy="82.7" r="1.30"/>
<circle cx="656.0" cy="263.7" r="1.30"/><circle cx="652.5" cy="265.1" r="1.30"/><circle cx="649.0" cy="266.4" r="1.30"/><circle cx="645.4" cy="267.8" r="1.30"/><circle cx="641.9" cy="269.2" r="1.30"/><circle cx="638.4" cy="270.6" r="1.30"/><circle cx="634.9" cy="271.9" r="1.30"/><circle cx="631.4" cy="273.3" r="1.30"/><circle cx="627.8" cy="274.7" r="1.30"/><circle cx="624.3" cy="276.0" r="1.30"/><circle cx="620.8" cy="277.4" r="1.30"/><circle cx="617.3" cy="278.8" r="1.30"/><circle cx="613.8" cy="280.2" r="1.30"/><circle cx="610.2" cy="281.5" r="1.30"/><circle cx="606.7" cy="282.9" r="1.30"/><circle cx="603.2" cy="284.3" r="1.30"/><circle cx="599.7" cy="285.7" r="1.30"/><circle cx="596.2" cy="287.0" r="1.30"/><circle cx="592.6" cy="288.4" r="1.30"/><circle cx="589.1" cy="289.8" r="1.30"/><circle cx="585.6" cy="291.1" r="1.30"/><circle cx="582.1" cy="292.5" r="1.30"/><circle cx="578.6" cy="293.9" r="1.30"/><circle cx="575.0" cy="295.3" r="1.30"/><circle cx="571.5" cy="296.6" r="1.30"/><circle cx="568.0" cy="298.0" r="1.30"/>
<circle cx="667.8" cy="264.5" r="1.30"/><circle cx="665.6" cy="267.6" r="1.30"/><circle cx="663.4" cy="270.7" r="1.30"/><circle cx="661.3" cy="273.8" r="1.30"/><circle cx="659.1" cy="276.9" r="1.30"/><circle cx="656.9" cy="280.0" r="1.30"/><circle cx="654.8" cy="283.1" r="1.30"/><circle cx="652.6" cy="286.2" r="1.30"/><circle cx="650.4" cy="289.2" r="1.30"/><circle cx="648.2" cy="292.3" r="1.30"/><circle cx="646.0" cy="295.4" r="1.30"/><circle cx="643.9" cy="298.5" r="1.30"/><circle cx="641.7" cy="301.6" r="1.30"/><circle cx="639.5" cy="304.7" r="1.30"/><circle cx="637.4" cy="307.8" r="1.30"/><circle cx="635.2" cy="310.9" r="1.30"/><circle cx="633.0" cy="314.0" r="1.30"/>
<circle cx="677.0" cy="264.5" r="1.30"/><circle cx="678.1" cy="268.1" r="1.30"/><circle cx="679.1" cy="271.6" r="1.30"/><circle cx="680.2" cy="275.2" r="1.30"/><circle cx="681.2" cy="278.7" r="1.30"/><circle cx="682.3" cy="282.3" r="1.30"/><circle cx="683.3" cy="285.8" r="1.30"/><circle cx="684.4" cy="289.4" r="1.30"/><circle cx="685.4" cy="292.9" r="1.30"/><circle cx="686.5" cy="296.5" r="1.30"/><circle cx="687.5" cy="300.0" r="1.30"/><circle cx="688.6" cy="303.6" r="1.30"/><circle cx="689.6" cy="307.1" r="1.30"/><circle cx="690.7" cy="310.7" r="1.30"/><circle cx="691.7" cy="314.2" r="1.30"/><circle cx="692.8" cy="317.8" r="1.30"/><circle cx="693.8" cy="321.3" r="1.30"/><circle cx="694.9" cy="324.9" r="1.30"/><circle cx="695.9" cy="328.4" r="1.30"/><circle cx="697.0" cy="332.0" r="1.30"/>
<circle cx="767.7" cy="208.4" r="1.30"/><circle cx="767.6" cy="212.7" r="1.30"/><circle cx="767.5" cy="216.9" r="1.30"/><circle cx="767.4" cy="221.2" r="1.30"/><circle cx="767.3" cy="225.4" r="1.30"/><circle cx="767.2" cy="229.7" r="1.30"/><circle cx="767.1" cy="233.9" r="1.30"/><circle cx="767.0" cy="238.2" r="1.30"/><circle cx="766.9" cy="242.4" r="1.30"/><circle cx="766.8" cy="246.7" r="1.30"/><circle cx="766.7" cy="250.9" r="1.30"/><circle cx="766.6" cy="255.2" r="1.30"/><circle cx="766.5" cy="259.4" r="1.30"/><circle cx="766.4" cy="263.7" r="1.30"/><circle cx="766.2" cy="268.0" r="1.30"/><circle cx="766.1" cy="272.2" r="1.30"/><circle cx="766.0" cy="276.5" r="1.30"/><circle cx="765.9" cy="280.7" r="1.30"/><circle cx="765.8" cy="285.0" r="1.30"/><circle cx="765.7" cy="289.2" r="1.30"/><circle cx="765.6" cy="293.5" r="1.30"/><circle cx="765.5" cy="297.7" r="1.30"/><circle cx="765.4" cy="302.0" r="1.30"/><circle cx="765.3" cy="306.2" r="1.30"/><circle cx="765.2" cy="310.5" r="1.30"/><circle cx="765.1" cy="314.7" r="1.30"/><circle cx="765.0" cy="319.0" r="1.30"/>
<circle cx="506.0" cy="316.6" r="1.30"/><circle cx="509.6" cy="318.2" r="1.30"/><circle cx="513.2" cy="319.8" r="1.30"/><circle cx="516.7" cy="321.5" r="1.30"/><circle cx="520.3" cy="323.1" r="1.30"/><circle cx="523.9" cy="324.7" r="1.30"/><circle cx="527.5" cy="326.3" r="1.30"/><circle cx="531.0" cy="328.0" r="1.30"/><circle cx="534.6" cy="329.6" r="1.30"/><circle cx="538.2" cy="331.2" r="1.30"/><circle cx="541.8" cy="332.8" r="1.30"/><circle cx="545.4" cy="334.5" r="1.30"/><circle cx="548.9" cy="336.1" r="1.30"/><circle cx="552.5" cy="337.7" r="1.30"/><circle cx="556.1" cy="339.3" r="1.30"/><circle cx="559.7" cy="340.9" r="1.30"/><circle cx="563.2" cy="342.6" r="1.30"/><circle cx="566.8" cy="344.2" r="1.30"/><circle cx="570.4" cy="345.8" r="1.30"/><circle cx="574.0" cy="347.4" r="1.30"/><circle cx="577.5" cy="349.1" r="1.30"/><circle cx="581.1" cy="350.7" r="1.30"/><circle cx="584.7" cy="352.3" r="1.30"/><circle cx="588.3" cy="353.9" r="1.30"/><circle cx="591.9" cy="355.5" r="1.30"/><circle cx="595.4" cy="357.2" r="1.30"/><circle cx="599.0" cy="358.8" r="1.30"/><circle cx="602.6" cy="360.4" r="1.30"/><circle cx="606.2" cy="362.0" r="1.30"/><circle cx="609.7" cy="363.7" r="1.30"/><circle cx="613.3" cy="365.3" r="1.30"/><circle cx="616.9" cy="366.9" r="1.30"/><circle cx="620.5" cy="368.5" r="1.30"/><circle cx="624.0" cy="370.1" r="1.30"/><circle cx="627.6" cy="371.8" r="1.30"/><circle cx="631.2" cy="373.4" r="1.30"/><circle cx="634.8" cy="375.0" r="1.30"/><circle cx="638.4" cy="376.6" r="1.30"/><circle cx="641.9" cy="378.3" r="1.30"/><circle cx="645.5" cy="379.9" r="1.30"/><circle cx="649.1" cy="381.5" r="1.30"/><circle cx="652.7" cy="383.1" r="1.30"/><circle cx="656.2" cy="384.8" r="1.30"/><circle cx="659.8" cy="386.4" r="1.30"/><circle cx="663.4" cy="388.0" r="1.30"/>
<circle cx="927.7" cy="33.5" r="1.30"/><circle cx="928.3" cy="37.6" r="1.30"/><circle cx="929.0" cy="41.7" r="1.30"/><circle cx="929.6" cy="45.9" r="1.30"/><circle cx="930.3" cy="50.0" r="1.30"/><circle cx="930.9" cy="54.1" r="1.30"/><circle cx="931.5" cy="58.2" r="1.30"/><circle cx="932.2" cy="62.3" r="1.30"/><circle cx="932.8" cy="66.4" r="1.30"/><circle cx="933.5" cy="70.6" r="1.30"/><circle cx="934.1" cy="74.7" r="1.30"/><circle cx="934.7" cy="78.8" r="1.30"/><circle cx="935.4" cy="82.9" r="1.30"/><circle cx="936.0" cy="87.0" r="1.30"/><circle cx="936.7" cy="91.2" r="1.30"/><circle cx="937.3" cy="95.3" r="1.30"/><circle cx="937.9" cy="99.4" r="1.30"/><circle cx="938.6" cy="103.5" r="1.30"/><circle cx="939.2" cy="107.6" r="1.30"/><circle cx="939.9" cy="111.8" r="1.30"/><circle cx="940.5" cy="115.9" r="1.30"/><circle cx="941.1" cy="120.0" r="1.30"/><circle cx="941.8" cy="124.1" r="1.30"/><circle cx="942.4" cy="128.2" r="1.30"/><circle cx="943.0" cy="132.3" r="1.30"/><circle cx="943.7" cy="136.5" r="1.30"/><circle cx="944.3" cy="140.6" r="1.30"/><circle cx="945.0" cy="144.7" r="1.30"/><circle cx="945.6" cy="148.8" r="1.30"/><circle cx="946.2" cy="152.9" r="1.30"/><circle cx="946.9" cy="157.1" r="1.30"/><circle cx="947.5" cy="161.2" r="1.30"/><circle cx="948.2" cy="165.3" r="1.30"/><circle cx="948.8" cy="169.4" r="1.30"/><circle cx="949.4" cy="173.5" r="1.30"/><circle cx="950.1" cy="177.6" r="1.30"/><circle cx="950.7" cy="181.8" r="1.30"/><circle cx="951.4" cy="185.9" r="1.30"/><circle cx="952.0" cy="190.0" r="1.30"/>
<circle cx="940.0" cy="193.2" r="1.30"/><circle cx="944.3" cy="192.9" r="1.30"/><circle cx="948.7" cy="192.6" r="1.30"/><circle cx="953.0" cy="192.3" r="1.30"/><circle cx="957.3" cy="192.0" r="1.30"/><circle cx="961.7" cy="191.7" r="1.30"/><circle cx="966.0" cy="191.4" r="1.30"/>
<circle cx="940.0" cy="193.2" r="1.30"/><circle cx="940.1" cy="198.1" r="1.30"/><circle cx="940.3" cy="203.0" r="1.30"/>
<circle cx="966.0" cy="191.4" r="1.30"/><circle cx="966.1" cy="195.9" r="1.30"/><circle cx="966.3" cy="200.5" r="1.30"/>
</g>
<g fill="#97a29e" filter="url(#soft)"><circle cx="250.8" cy="491.0" r="2.6"/><circle cx="261.3" cy="491.0" r="2.6"/><circle cx="271.8" cy="491.0" r="2.6"/><circle cx="282.4" cy="491.0" r="2.6"/><circle cx="292.9" cy="491.0" r="2.6"/><circle cx="303.4" cy="491.0" r="2.6"/><circle cx="315.6" cy="491.0" r="2.6"/><circle cx="309.5" cy="483.9" r="2.6"/><circle cx="309.5" cy="498.1" r="2.6"/><circle cx="303.3" cy="476.9" r="2.6"/><circle cx="303.3" cy="505.1" r="2.6"/><circle cx="297.2" cy="469.9" r="2.6"/><circle cx="297.2" cy="512.1" r="2.6"/><circle cx="520.1" cy="490.8" r="2.6"/><circle cx="530.7" cy="490.8" r="2.6"/><circle cx="541.3" cy="490.8" r="2.6"/><circle cx="551.9" cy="490.8" r="2.6"/><circle cx="562.5" cy="490.8" r="2.6"/><circle cx="573.1" cy="490.8" r="2.6"/><circle cx="583.7" cy="490.8" r="2.6"/><circle cx="594.3" cy="490.8" r="2.6"/><circle cx="605.0" cy="490.8" r="2.6"/><circle cx="615.6" cy="490.8" r="2.6"/><circle cx="626.2" cy="490.8" r="2.6"/><circle cx="636.8" cy="490.8" r="2.6"/><circle cx="647.4" cy="490.8" r="2.6"/><circle cx="658.0" cy="490.8" r="2.6"/><circle cx="668.6" cy="490.8" r="2.6"/><circle cx="679.2" cy="490.8" r="2.6"/><circle cx="689.8" cy="490.8" r="2.6"/><circle cx="700.4" cy="490.8" r="2.6"/><circle cx="711.0" cy="490.8" r="2.6"/><circle cx="721.6" cy="490.8" r="2.6"/><circle cx="732.2" cy="490.8" r="2.6"/><circle cx="742.8" cy="490.8" r="2.6"/><circle cx="753.5" cy="490.8" r="2.6"/><circle cx="764.1" cy="490.8" r="2.6"/><circle cx="774.7" cy="490.8" r="2.6"/><circle cx="785.3" cy="490.8" r="2.6"/><circle cx="795.9" cy="490.8" r="2.6"/><circle cx="806.5" cy="490.8" r="2.6"/><circle cx="817.1" cy="490.8" r="2.6"/><circle cx="827.7" cy="490.8" r="2.6"/><circle cx="838.3" cy="490.8" r="2.6"/><circle cx="850.7" cy="490.8" r="2.6"/><circle cx="844.6" cy="483.8" r="2.6"/><circle cx="844.6" cy="497.9" r="2.6"/><circle cx="838.4" cy="476.7" r="2.6"/><circle cx="838.4" cy="504.9" r="2.6"/><circle cx="832.3" cy="469.7" r="2.6"/><circle cx="832.3" cy="511.9" r="2.6"/><circle cx="934.1" cy="490.8" r="2.6"/><circle cx="944.7" cy="490.8" r="2.6"/><circle cx="955.3" cy="490.8" r="2.6"/><circle cx="966.0" cy="490.8" r="2.6"/><circle cx="976.6" cy="490.8" r="2.6"/><circle cx="987.2" cy="490.8" r="2.6"/><circle cx="999.5" cy="490.8" r="2.6"/><circle cx="993.4" cy="483.8" r="2.6"/><circle cx="993.4" cy="497.9" r="2.6"/><circle cx="987.2" cy="476.7" r="2.6"/><circle cx="987.2" cy="504.9" r="2.6"/><circle cx="981.1" cy="469.7" r="2.6"/><circle cx="981.1" cy="511.9" r="2.6"/></g>
<g font-family="'Liberation Sans', Arial, sans-serif" font-size="19" fill="#222" stroke="#222" stroke-width="0.5" filter="url(#softt)">
<text x="213.7" y="150.2" text-anchor="middle">Synapse</text>
<text x="682.0" y="89.0" text-anchor="middle">Dendrites</text>
<text x="770.0" y="203.0" text-anchor="middle">Axon</text>
<text x="672.5" y="235.2" text-anchor="middle">Myelin</text>
<text x="672.7" y="257.8" text-anchor="middle">Sheaths</text>
<text x="708.0" y="397.0" text-anchor="middle">Cell Body</text>
<text x="283.2" y="543.7" text-anchor="middle">Neurotransmitter</text>
<text x="283.2" y="566.6" text-anchor="middle">Signals</text>
<text x="663.3" y="543.5" text-anchor="middle">Action</text>
<text x="664.0" y="567.0" text-anchor="middle">Potential</text>
<text x="966.6" y="543.5" text-anchor="middle">Neurotransmitter</text>
<text x="966.3" y="567.0" text-anchor="middle">Signals</text>
</g>
</svg>
</body></html>
